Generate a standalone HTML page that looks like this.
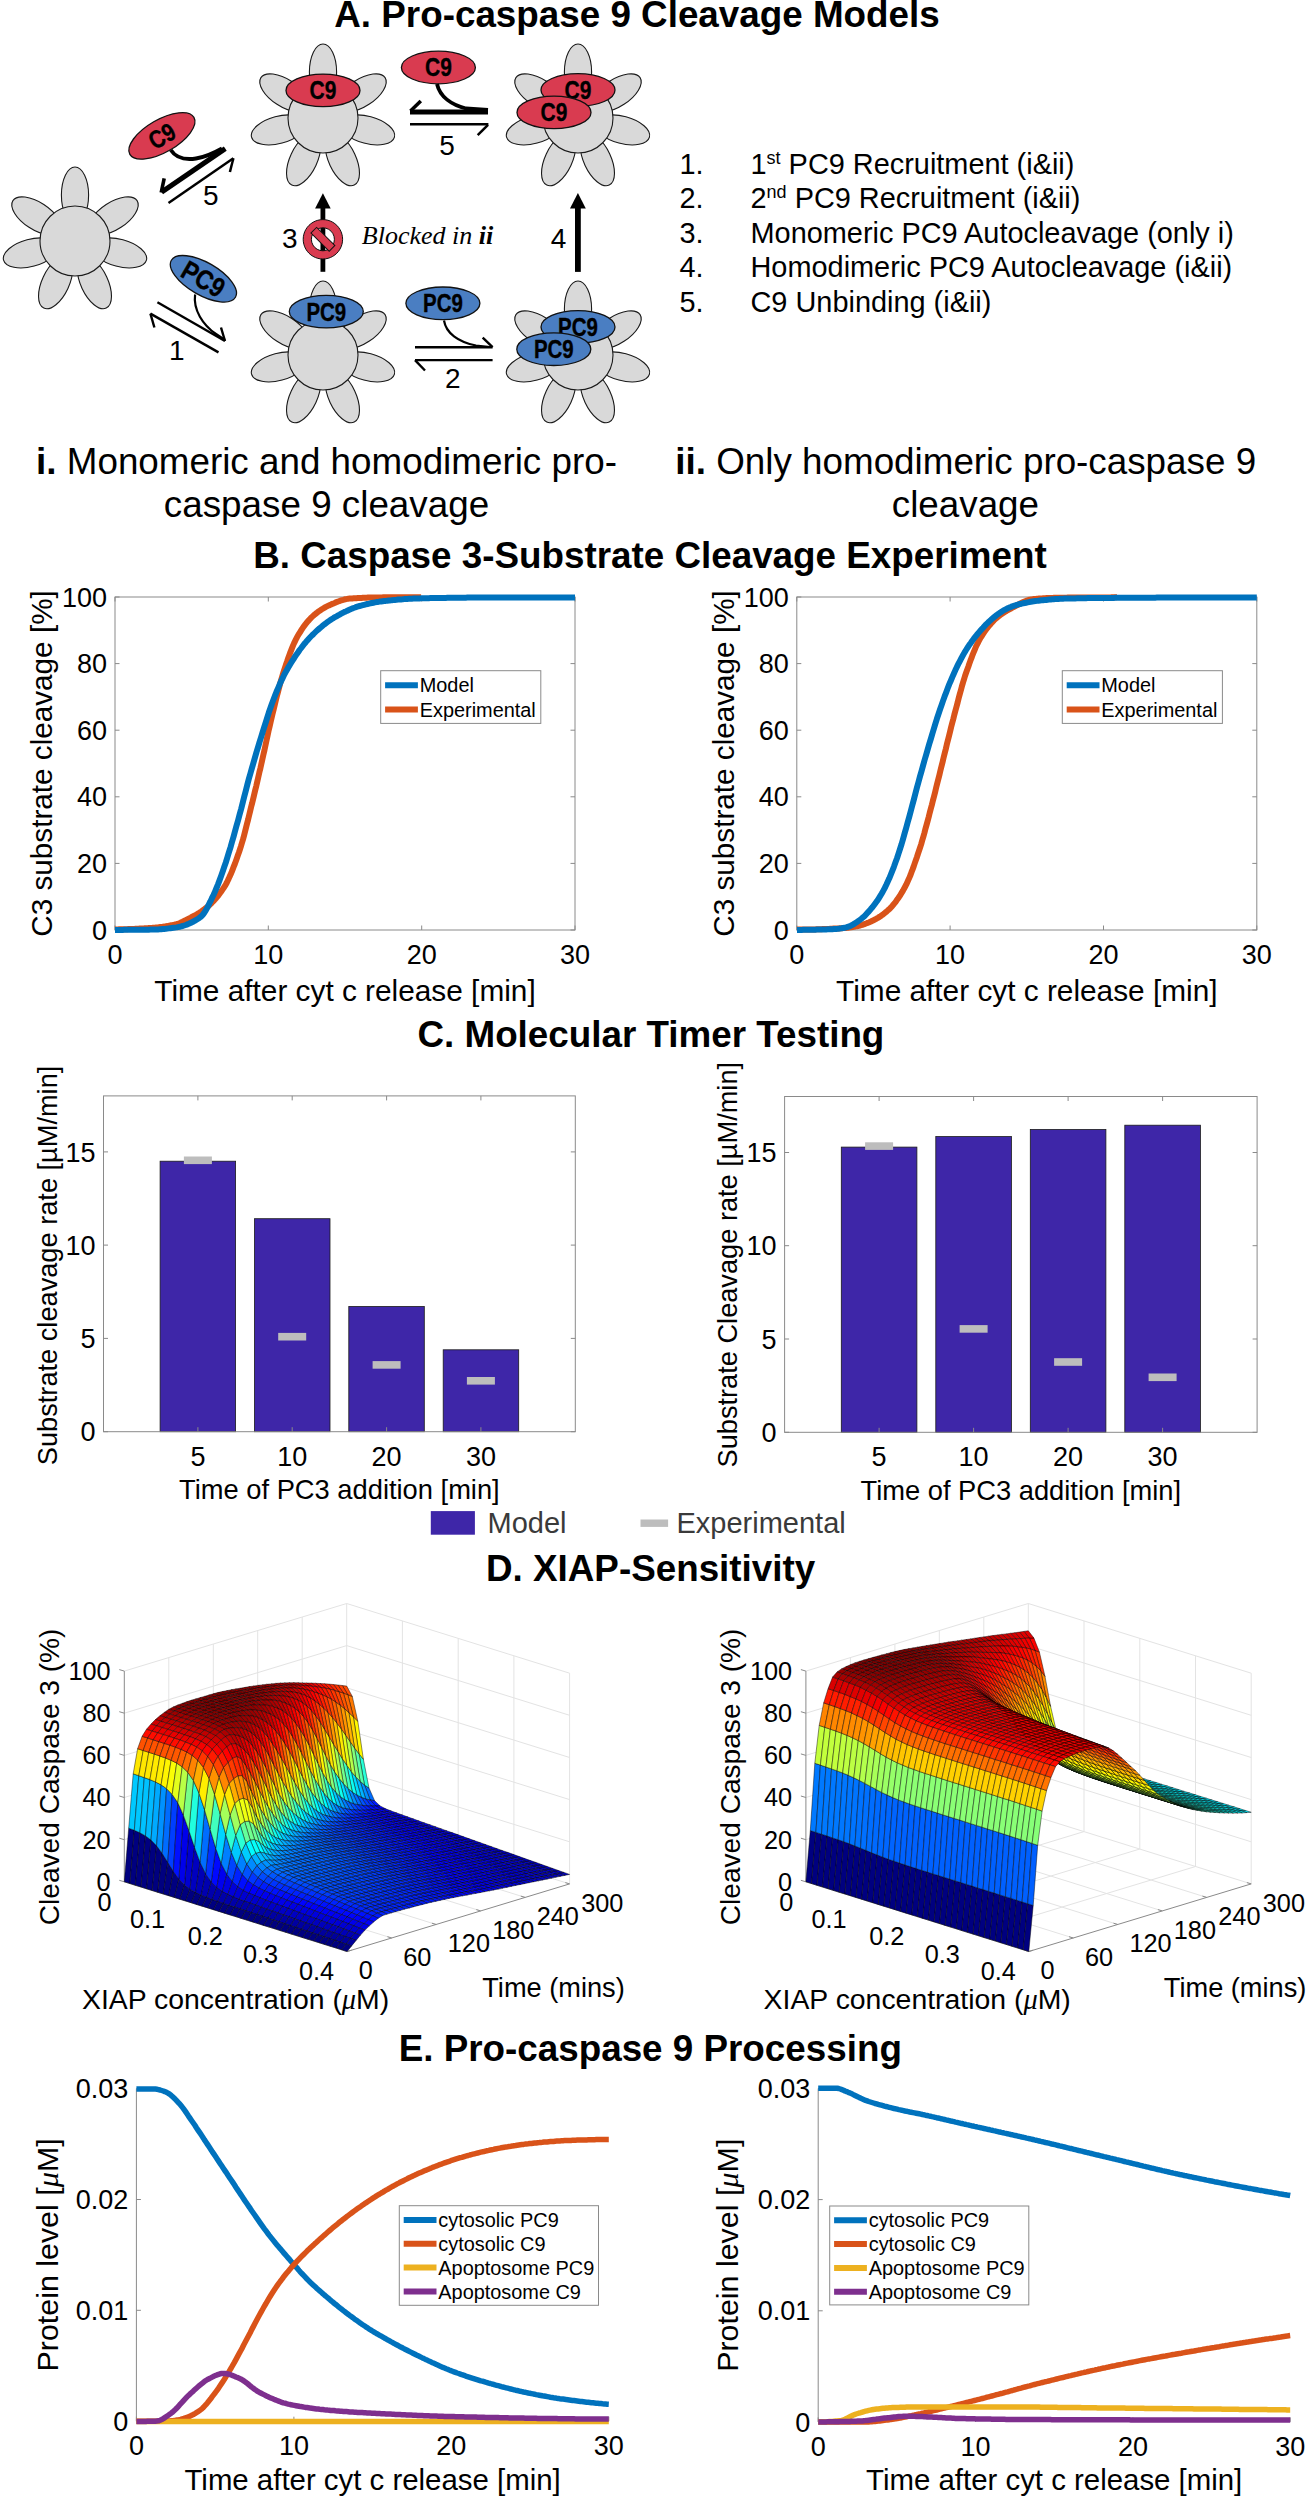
<!DOCTYPE html>
<html><head><meta charset="utf-8"><style>
html,body{margin:0;padding:0;background:#fff;}
svg{display:block;}
</style></head><body>
<svg width="1307" height="2497" viewBox="0 0 1307 2497">
<rect width="1307" height="2497" fill="#fff"/>
<text x="334.3" y="26.5" font-family="'Liberation Sans', sans-serif" font-size="36.8" text-anchor="start" font-weight="bold" fill="#000">A. Pro-caspase 9 Cleavage Models</text><ellipse cx="75" cy="195" rx="13.6" ry="28" transform="rotate(0 75 195)" fill="#d9d9d9" stroke="#1a1a1a" stroke-width="1.1"/><ellipse cx="113.6" cy="215.9" rx="13.6" ry="28" transform="rotate(57 113.6 215.9)" fill="#d9d9d9" stroke="#1a1a1a" stroke-width="1.1"/><ellipse cx="119.4" cy="252.9" rx="13.6" ry="28" transform="rotate(105 119.4 252.9)" fill="#d9d9d9" stroke="#1a1a1a" stroke-width="1.1"/><ellipse cx="94.4" cy="282.7" rx="13.6" ry="28" transform="rotate(155 94.4 282.7)" fill="#d9d9d9" stroke="#1a1a1a" stroke-width="1.1"/><ellipse cx="55.6" cy="282.7" rx="13.6" ry="28" transform="rotate(205 55.6 282.7)" fill="#d9d9d9" stroke="#1a1a1a" stroke-width="1.1"/><ellipse cx="30.6" cy="252.9" rx="13.6" ry="28" transform="rotate(255 30.6 252.9)" fill="#d9d9d9" stroke="#1a1a1a" stroke-width="1.1"/><ellipse cx="36.4" cy="215.9" rx="13.6" ry="28" transform="rotate(303 36.4 215.9)" fill="#d9d9d9" stroke="#1a1a1a" stroke-width="1.1"/><circle cx="75" cy="241" r="35" fill="#d9d9d9" stroke="#1a1a1a" stroke-width="1.1"/><ellipse cx="323" cy="72" rx="13.6" ry="28" transform="rotate(0 323 72)" fill="#d9d9d9" stroke="#1a1a1a" stroke-width="1.1"/><ellipse cx="361.6" cy="92.9" rx="13.6" ry="28" transform="rotate(57 361.6 92.9)" fill="#d9d9d9" stroke="#1a1a1a" stroke-width="1.1"/><ellipse cx="367.4" cy="129.9" rx="13.6" ry="28" transform="rotate(105 367.4 129.9)" fill="#d9d9d9" stroke="#1a1a1a" stroke-width="1.1"/><ellipse cx="342.4" cy="159.7" rx="13.6" ry="28" transform="rotate(155 342.4 159.7)" fill="#d9d9d9" stroke="#1a1a1a" stroke-width="1.1"/><ellipse cx="303.6" cy="159.7" rx="13.6" ry="28" transform="rotate(205 303.6 159.7)" fill="#d9d9d9" stroke="#1a1a1a" stroke-width="1.1"/><ellipse cx="278.6" cy="129.9" rx="13.6" ry="28" transform="rotate(255 278.6 129.9)" fill="#d9d9d9" stroke="#1a1a1a" stroke-width="1.1"/><ellipse cx="284.4" cy="92.9" rx="13.6" ry="28" transform="rotate(303 284.4 92.9)" fill="#d9d9d9" stroke="#1a1a1a" stroke-width="1.1"/><circle cx="323" cy="118" r="35" fill="#d9d9d9" stroke="#1a1a1a" stroke-width="1.1"/><ellipse cx="578" cy="72" rx="13.6" ry="28" transform="rotate(0 578 72)" fill="#d9d9d9" stroke="#1a1a1a" stroke-width="1.1"/><ellipse cx="616.6" cy="92.9" rx="13.6" ry="28" transform="rotate(57 616.6 92.9)" fill="#d9d9d9" stroke="#1a1a1a" stroke-width="1.1"/><ellipse cx="622.4" cy="129.9" rx="13.6" ry="28" transform="rotate(105 622.4 129.9)" fill="#d9d9d9" stroke="#1a1a1a" stroke-width="1.1"/><ellipse cx="597.4" cy="159.7" rx="13.6" ry="28" transform="rotate(155 597.4 159.7)" fill="#d9d9d9" stroke="#1a1a1a" stroke-width="1.1"/><ellipse cx="558.6" cy="159.7" rx="13.6" ry="28" transform="rotate(205 558.6 159.7)" fill="#d9d9d9" stroke="#1a1a1a" stroke-width="1.1"/><ellipse cx="533.6" cy="129.9" rx="13.6" ry="28" transform="rotate(255 533.6 129.9)" fill="#d9d9d9" stroke="#1a1a1a" stroke-width="1.1"/><ellipse cx="539.4" cy="92.9" rx="13.6" ry="28" transform="rotate(303 539.4 92.9)" fill="#d9d9d9" stroke="#1a1a1a" stroke-width="1.1"/><circle cx="578" cy="118" r="35" fill="#d9d9d9" stroke="#1a1a1a" stroke-width="1.1"/><ellipse cx="323" cy="309" rx="13.6" ry="28" transform="rotate(0 323 309)" fill="#d9d9d9" stroke="#1a1a1a" stroke-width="1.1"/><ellipse cx="361.6" cy="329.9" rx="13.6" ry="28" transform="rotate(57 361.6 329.9)" fill="#d9d9d9" stroke="#1a1a1a" stroke-width="1.1"/><ellipse cx="367.4" cy="366.9" rx="13.6" ry="28" transform="rotate(105 367.4 366.9)" fill="#d9d9d9" stroke="#1a1a1a" stroke-width="1.1"/><ellipse cx="342.4" cy="396.7" rx="13.6" ry="28" transform="rotate(155 342.4 396.7)" fill="#d9d9d9" stroke="#1a1a1a" stroke-width="1.1"/><ellipse cx="303.6" cy="396.7" rx="13.6" ry="28" transform="rotate(205 303.6 396.7)" fill="#d9d9d9" stroke="#1a1a1a" stroke-width="1.1"/><ellipse cx="278.6" cy="366.9" rx="13.6" ry="28" transform="rotate(255 278.6 366.9)" fill="#d9d9d9" stroke="#1a1a1a" stroke-width="1.1"/><ellipse cx="284.4" cy="329.9" rx="13.6" ry="28" transform="rotate(303 284.4 329.9)" fill="#d9d9d9" stroke="#1a1a1a" stroke-width="1.1"/><circle cx="323" cy="355" r="35" fill="#d9d9d9" stroke="#1a1a1a" stroke-width="1.1"/><ellipse cx="578" cy="309" rx="13.6" ry="28" transform="rotate(0 578 309)" fill="#d9d9d9" stroke="#1a1a1a" stroke-width="1.1"/><ellipse cx="616.6" cy="329.9" rx="13.6" ry="28" transform="rotate(57 616.6 329.9)" fill="#d9d9d9" stroke="#1a1a1a" stroke-width="1.1"/><ellipse cx="622.4" cy="366.9" rx="13.6" ry="28" transform="rotate(105 622.4 366.9)" fill="#d9d9d9" stroke="#1a1a1a" stroke-width="1.1"/><ellipse cx="597.4" cy="396.7" rx="13.6" ry="28" transform="rotate(155 597.4 396.7)" fill="#d9d9d9" stroke="#1a1a1a" stroke-width="1.1"/><ellipse cx="558.6" cy="396.7" rx="13.6" ry="28" transform="rotate(205 558.6 396.7)" fill="#d9d9d9" stroke="#1a1a1a" stroke-width="1.1"/><ellipse cx="533.6" cy="366.9" rx="13.6" ry="28" transform="rotate(255 533.6 366.9)" fill="#d9d9d9" stroke="#1a1a1a" stroke-width="1.1"/><ellipse cx="539.4" cy="329.9" rx="13.6" ry="28" transform="rotate(303 539.4 329.9)" fill="#d9d9d9" stroke="#1a1a1a" stroke-width="1.1"/><circle cx="578" cy="355" r="35" fill="#d9d9d9" stroke="#1a1a1a" stroke-width="1.1"/><g><ellipse cx="323" cy="90.4" rx="37" ry="16.3" fill="#d93b50" stroke="#111" stroke-width="1.3"/><text x="323" y="99.3" text-anchor="middle" font-family="'Liberation Sans', sans-serif" font-weight="bold" font-size="25" textLength="26.8" lengthAdjust="spacingAndGlyphs" stroke="#000" stroke-width="0.35">C9</text></g><g><ellipse cx="578" cy="90" rx="37" ry="16.3" fill="#d93b50" stroke="#111" stroke-width="1.3"/><text x="578" y="98.9" text-anchor="middle" font-family="'Liberation Sans', sans-serif" font-weight="bold" font-size="25" textLength="26.8" lengthAdjust="spacingAndGlyphs" stroke="#000" stroke-width="0.35">C9</text></g><g><ellipse cx="554" cy="112.4" rx="37" ry="16.3" fill="#d93b50" stroke="#111" stroke-width="1.3"/><text x="554" y="121.3" text-anchor="middle" font-family="'Liberation Sans', sans-serif" font-weight="bold" font-size="25" textLength="26.8" lengthAdjust="spacingAndGlyphs" stroke="#000" stroke-width="0.35">C9</text></g><g><ellipse cx="326.3" cy="311.6" rx="37" ry="16.3" fill="#4a7ec2" stroke="#111" stroke-width="1.3"/><text x="326.3" y="320.5" text-anchor="middle" font-family="'Liberation Sans', sans-serif" font-weight="bold" font-size="25" textLength="39.8" lengthAdjust="spacingAndGlyphs" stroke="#000" stroke-width="0.35">PC9</text></g><g><ellipse cx="578" cy="326.9" rx="37" ry="16.3" fill="#4a7ec2" stroke="#111" stroke-width="1.3"/><text x="578" y="335.8" text-anchor="middle" font-family="'Liberation Sans', sans-serif" font-weight="bold" font-size="25" textLength="39.8" lengthAdjust="spacingAndGlyphs" stroke="#000" stroke-width="0.35">PC9</text></g><g><ellipse cx="553.8" cy="349.2" rx="37" ry="16.3" fill="#4a7ec2" stroke="#111" stroke-width="1.3"/><text x="553.8" y="358.1" text-anchor="middle" font-family="'Liberation Sans', sans-serif" font-weight="bold" font-size="25" textLength="39.8" lengthAdjust="spacingAndGlyphs" stroke="#000" stroke-width="0.35">PC9</text></g><g><ellipse cx="438.4" cy="67.5" rx="37" ry="16.3" fill="#d93b50" stroke="#111" stroke-width="1.3"/><text x="438.4" y="76.4" text-anchor="middle" font-family="'Liberation Sans', sans-serif" font-weight="bold" font-size="25" textLength="26.8" lengthAdjust="spacingAndGlyphs" stroke="#000" stroke-width="0.35">C9</text></g><path d="M437,84 C440,97 452,105 466,108.5 L488,110" fill="none" stroke="#000" stroke-width="3.8"/><line x1="410" y1="112" x2="488" y2="112" stroke="#000" stroke-width="5" stroke-linecap="butt"/><line x1="410.5" y1="111" x2="420.8" y2="101" stroke="#000" stroke-width="3.6" stroke-linecap="butt"/><line x1="410" y1="124.3" x2="488.4" y2="124.3" stroke="#000" stroke-width="2.5" stroke-linecap="butt"/><line x1="488" y1="124.8" x2="477.7" y2="135.1" stroke="#000" stroke-width="2.5" stroke-linecap="butt"/><text x="447" y="155" font-family="'Liberation Sans', sans-serif" font-size="28" text-anchor="middle" fill="#000">5</text><g><ellipse cx="442.9" cy="303.3" rx="37" ry="16.3" fill="#4a7ec2" stroke="#111" stroke-width="1.3"/><text x="442.9" y="312.2" text-anchor="middle" font-family="'Liberation Sans', sans-serif" font-weight="bold" font-size="25" textLength="39.8" lengthAdjust="spacingAndGlyphs" stroke="#000" stroke-width="0.35">PC9</text></g><path d="M444,320.5 C446,333 458,342 476,345.5 L490,347" fill="none" stroke="#000" stroke-width="2.2"/><line x1="415" y1="347.2" x2="492.6" y2="347.2" stroke="#000" stroke-width="2.4" stroke-linecap="butt"/><line x1="492.6" y1="347.2" x2="482.7" y2="337.6" stroke="#000" stroke-width="2.4" stroke-linecap="butt"/><line x1="415" y1="360.1" x2="492.6" y2="360.1" stroke="#000" stroke-width="2.4" stroke-linecap="butt"/><line x1="415" y1="360.1" x2="425" y2="370.5" stroke="#000" stroke-width="2.4" stroke-linecap="butt"/><text x="452.8" y="387.6" font-family="'Liberation Sans', sans-serif" font-size="28" text-anchor="middle" fill="#000">2</text><g transform="rotate(30 203.4 278.8)"><ellipse cx="203.4" cy="278.8" rx="37" ry="16.3" fill="#4a7ec2" stroke="#111" stroke-width="1.3"/><text x="203.4" y="288.4" text-anchor="middle" font-family="'Liberation Sans', sans-serif" font-weight="bold" font-size="27" textLength="45" lengthAdjust="spacingAndGlyphs" stroke="#000" stroke-width="0.35">PC9</text></g><path d="M195.1,294.5 C193,310 203,325 216,334 L225,340" fill="none" stroke="#000" stroke-width="2.2"/><line x1="157.4" y1="302.2" x2="225" y2="341" stroke="#000" stroke-width="2.4" stroke-linecap="butt"/><line x1="225" y1="341" x2="221" y2="327.5" stroke="#000" stroke-width="2.4" stroke-linecap="butt"/><line x1="150.4" y1="313.6" x2="218.5" y2="352.4" stroke="#000" stroke-width="2.4" stroke-linecap="butt"/><line x1="150.4" y1="313.6" x2="154.4" y2="327.5" stroke="#000" stroke-width="2.4" stroke-linecap="butt"/><text x="176.7" y="359.6" font-family="'Liberation Sans', sans-serif" font-size="28" text-anchor="middle" fill="#000">1</text><g transform="rotate(-30 161.9 135.9)"><ellipse cx="161.9" cy="135.9" rx="37" ry="16.3" fill="#d93b50" stroke="#111" stroke-width="1.3"/><text x="161.9" y="144.8" text-anchor="middle" font-family="'Liberation Sans', sans-serif" font-weight="bold" font-size="25" textLength="26.8" lengthAdjust="spacingAndGlyphs" stroke="#000" stroke-width="0.35">C9</text></g><path d="M170.8,150 C176,158 186,160 196,158.5 C206,157 214,153 222,148.5" fill="none" stroke="#000" stroke-width="3.8"/><line x1="225.3" y1="148.6" x2="161.6" y2="192.1" stroke="#000" stroke-width="5" stroke-linecap="butt"/><line x1="161.2" y1="192.5" x2="164.2" y2="178.4" stroke="#000" stroke-width="3.6" stroke-linecap="butt"/><line x1="168.5" y1="203" x2="233.4" y2="158.3" stroke="#000" stroke-width="2.5" stroke-linecap="butt"/><line x1="233.4" y1="158.3" x2="229.9" y2="172" stroke="#000" stroke-width="2.5" stroke-linecap="butt"/><text x="210.7" y="205" font-family="'Liberation Sans', sans-serif" font-size="28" text-anchor="middle" fill="#000">5</text><line x1="322.9" y1="271.8" x2="322.9" y2="207" stroke="#000" stroke-width="4.8" stroke-linecap="butt"/><path d="M322.9,193.2 L330.7,208.6 L315.1,208.6 Z" fill="#000"/><path d="M322.9,219.6 a19.7,19.7 0 1,0 0.01,0 Z M322.9,227.8 a11.5,11.5 0 1,1 -0.01,0 Z" fill="#d93b50" fill-rule="evenodd" stroke="#111" stroke-width="1"/><g transform="rotate(45 322.9 239.3)"><rect x="310" y="235.3" width="25.8" height="8" fill="#d93b50" stroke="#111" stroke-width="1"/></g><text x="289.7" y="248" font-family="'Liberation Sans', sans-serif" font-size="28" text-anchor="middle" fill="#000">3</text><text x="361.8" y="244.3" font-family="'Liberation Serif', serif" font-style="italic" font-size="26">Blocked in <tspan font-weight="bold">ii</tspan></text><line x1="577.9" y1="271.9" x2="577.9" y2="207" stroke="#000" stroke-width="5.8" stroke-linecap="butt"/><path d="M577.9,193.1 L585.8,208.6 L570,208.6 Z" fill="#000"/><text x="558.5" y="247.8" font-family="'Liberation Sans', sans-serif" font-size="28" text-anchor="middle" fill="#000">4</text><text x="679.5" y="174" font-family="'Liberation Sans', sans-serif" font-size="28.9" text-anchor="start" fill="#000">1.</text><text x="750.5" y="174" font-family="'Liberation Sans', sans-serif" font-size="28.9" text-anchor="start" fill="#000">1<tspan font-size="18" dy="-10">st</tspan><tspan dy="10"> PC9 Recruitment (i&amp;ii)</tspan></text><text x="679.5" y="208.4" font-family="'Liberation Sans', sans-serif" font-size="28.9" text-anchor="start" fill="#000">2.</text><text x="750.5" y="208.4" font-family="'Liberation Sans', sans-serif" font-size="28.9" text-anchor="start" fill="#000">2<tspan font-size="18" dy="-10">nd</tspan><tspan dy="10"> PC9 Recruitment (i&amp;ii)</tspan></text><text x="679.5" y="242.8" font-family="'Liberation Sans', sans-serif" font-size="28.9" text-anchor="start" fill="#000">3.</text><text x="750.5" y="242.8" font-family="'Liberation Sans', sans-serif" font-size="28.9" text-anchor="start" fill="#000">Monomeric PC9 Autocleavage (only i)</text><text x="679.5" y="277.2" font-family="'Liberation Sans', sans-serif" font-size="28.9" text-anchor="start" fill="#000">4.</text><text x="750.5" y="277.2" font-family="'Liberation Sans', sans-serif" font-size="28.9" text-anchor="start" fill="#000">Homodimeric PC9 Autocleavage (i&amp;ii)</text><text x="679.5" y="311.6" font-family="'Liberation Sans', sans-serif" font-size="28.9" text-anchor="start" fill="#000">5.</text><text x="750.5" y="311.6" font-family="'Liberation Sans', sans-serif" font-size="28.9" text-anchor="start" fill="#000">C9 Unbinding (i&amp;ii)</text><text x="326.5" y="474" font-family="'Liberation Sans', sans-serif" font-size="36.8" text-anchor="middle"><tspan font-weight="bold">i.</tspan> Monomeric and homodimeric pro-</text><text x="326.5" y="517" font-family="'Liberation Sans', sans-serif" font-size="36.8" text-anchor="middle" fill="#000">caspase 9 cleavage</text><text x="965.7" y="474" font-family="'Liberation Sans', sans-serif" font-size="36.8" text-anchor="middle"><tspan font-weight="bold">ii.</tspan> Only homodimeric pro-caspase 9</text><text x="965.4" y="517" font-family="'Liberation Sans', sans-serif" font-size="36.8" text-anchor="middle" fill="#000">cleavage</text><text x="649.9" y="567.6" font-family="'Liberation Sans', sans-serif" font-size="36.8" text-anchor="middle" font-weight="bold" fill="#000">B. Caspase 3-Substrate Cleavage Experiment</text><text x="650.9" y="1047.1" font-family="'Liberation Sans', sans-serif" font-size="36.8" text-anchor="middle" font-weight="bold" fill="#000">C. Molecular Timer Testing</text><text x="650.6" y="1580.7" font-family="'Liberation Sans', sans-serif" font-size="36.8" text-anchor="middle" font-weight="bold" fill="#000">D. XIAP-Sensitivity</text><text x="650.3" y="2061.3" font-family="'Liberation Sans', sans-serif" font-size="36.8" text-anchor="middle" font-weight="bold" fill="#000">E. Pro-caspase 9 Processing</text><rect x="115" y="597" width="460" height="333" fill="none" stroke="#8a8a8a" stroke-width="1"/><line x1="115" y1="930" x2="115" y2="925.5" stroke="#8a8a8a" stroke-width="1"/><line x1="115" y1="597" x2="115" y2="601.5" stroke="#8a8a8a" stroke-width="1"/><text x="115" y="963.8" font-family="'Liberation Sans', sans-serif" font-size="27.0" text-anchor="middle" fill="#000">0</text><line x1="268.3" y1="930" x2="268.3" y2="925.5" stroke="#8a8a8a" stroke-width="1"/><line x1="268.3" y1="597" x2="268.3" y2="601.5" stroke="#8a8a8a" stroke-width="1"/><text x="268.3" y="963.8" font-family="'Liberation Sans', sans-serif" font-size="27.0" text-anchor="middle" fill="#000">10</text><line x1="421.7" y1="930" x2="421.7" y2="925.5" stroke="#8a8a8a" stroke-width="1"/><line x1="421.7" y1="597" x2="421.7" y2="601.5" stroke="#8a8a8a" stroke-width="1"/><text x="421.7" y="963.8" font-family="'Liberation Sans', sans-serif" font-size="27.0" text-anchor="middle" fill="#000">20</text><line x1="575" y1="930" x2="575" y2="925.5" stroke="#8a8a8a" stroke-width="1"/><line x1="575" y1="597" x2="575" y2="601.5" stroke="#8a8a8a" stroke-width="1"/><text x="575" y="963.8" font-family="'Liberation Sans', sans-serif" font-size="27.0" text-anchor="middle" fill="#000">30</text><line x1="115" y1="930" x2="119.5" y2="930" stroke="#8a8a8a" stroke-width="1"/><line x1="575" y1="930" x2="570.5" y2="930" stroke="#8a8a8a" stroke-width="1"/><text x="107" y="939.6" font-family="'Liberation Sans', sans-serif" font-size="27.0" text-anchor="end" fill="#000">0</text><line x1="115" y1="863.4" x2="119.5" y2="863.4" stroke="#8a8a8a" stroke-width="1"/><line x1="575" y1="863.4" x2="570.5" y2="863.4" stroke="#8a8a8a" stroke-width="1"/><text x="107" y="873" font-family="'Liberation Sans', sans-serif" font-size="27.0" text-anchor="end" fill="#000">20</text><line x1="115" y1="796.8" x2="119.5" y2="796.8" stroke="#8a8a8a" stroke-width="1"/><line x1="575" y1="796.8" x2="570.5" y2="796.8" stroke="#8a8a8a" stroke-width="1"/><text x="107" y="806.4" font-family="'Liberation Sans', sans-serif" font-size="27.0" text-anchor="end" fill="#000">40</text><line x1="115" y1="730.2" x2="119.5" y2="730.2" stroke="#8a8a8a" stroke-width="1"/><line x1="575" y1="730.2" x2="570.5" y2="730.2" stroke="#8a8a8a" stroke-width="1"/><text x="107" y="739.8" font-family="'Liberation Sans', sans-serif" font-size="27.0" text-anchor="end" fill="#000">60</text><line x1="115" y1="663.6" x2="119.5" y2="663.6" stroke="#8a8a8a" stroke-width="1"/><line x1="575" y1="663.6" x2="570.5" y2="663.6" stroke="#8a8a8a" stroke-width="1"/><text x="107" y="673.2" font-family="'Liberation Sans', sans-serif" font-size="27.0" text-anchor="end" fill="#000">80</text><line x1="115" y1="597" x2="119.5" y2="597" stroke="#8a8a8a" stroke-width="1"/><line x1="575" y1="597" x2="570.5" y2="597" stroke="#8a8a8a" stroke-width="1"/><text x="107" y="606.6" font-family="'Liberation Sans', sans-serif" font-size="27.0" text-anchor="end" fill="#000">100</text><svg x="111" y="593" width="468" height="341" overflow="hidden"><path d="M4,336.4 L5,336.4 L6,336.4 L7.1,336.4 L8.1,336.3 L9.1,336.3 L10.1,336.3 L11.2,336.3 L12.2,336.3 L13.2,336.3 L14.2,336.2 L15.3,336.2 L16.3,336.2 L17.3,336.1 L18.3,336.1 L19.4,336.1 L20.4,336 L21.4,336 L22.4,335.9 L23.4,335.9 L24.5,335.8 L25.5,335.8 L26.5,335.7 L27.5,335.7 L28.6,335.6 L29.6,335.6 L30.6,335.5 L31.6,335.5 L32.7,335.4 L33.7,335.3 L34.7,335.3 L35.7,335.2 L36.8,335.2 L37.8,335.1 L38.8,335 L39.8,335 L40.9,334.9 L41.9,334.8 L42.9,334.7 L43.9,334.7 L44.9,334.6 L46,334.5 L47,334.4 L48,334.2 L49,334.1 L50.1,334 L51.1,333.9 L52.1,333.7 L53.1,333.6 L54.2,333.4 L55.2,333.2 L56.2,333.1 L57.2,332.9 L58.3,332.7 L59.3,332.5 L60.3,332.3 L61.3,332.1 L62.3,331.9 L63.4,331.7 L64.4,331.4 L65.4,331.2 L66.4,330.9 L67.5,330.6 L68.5,330.2 L69.5,329.8 L70.5,329.3 L71.6,328.8 L72.6,328.3 L73.6,327.8 L74.6,327.3 L75.7,326.7 L76.7,326.2 L77.7,325.6 L78.7,325.1 L79.7,324.6 L80.8,324 L81.8,323.5 L82.8,322.9 L83.8,322.4 L84.9,321.8 L85.9,321.2 L86.9,320.6 L87.9,320 L89,319.3 L90,318.7 L91,318 L92,317.3 L93.1,316.5 L94.1,315.7 L95.1,314.9 L96.1,314.1 L97.2,313.2 L98.2,312.3 L99.2,311.3 L100.2,310.4 L101.2,309.3 L102.3,308.3 L103.3,307.2 L104.3,306 L105.3,304.9 L106.4,303.6 L107.4,302.3 L108.4,301 L109.4,299.6 L110.5,298.2 L111.5,296.7 L112.5,295.2 L113.5,293.6 L114.6,291.9 L115.6,290 L116.6,288 L117.6,285.9 L118.6,283.6 L119.7,281.3 L120.7,278.9 L121.7,276.3 L122.7,273.7 L123.8,271 L124.8,268.2 L125.8,265.4 L126.8,262.5 L127.9,259.5 L128.9,256.5 L129.9,253.4 L130.9,250 L132,246.4 L133,242.7 L134,238.8 L135,234.8 L136,230.7 L137.1,226.6 L138.1,222.4 L139.1,218.2 L140.1,214 L141.2,209.9 L142.2,205.7 L143.2,201.5 L144.2,197.2 L145.3,192.9 L146.3,188.5 L147.3,184.1 L148.3,179.6 L149.4,175.2 L150.4,170.7 L151.4,166.2 L152.4,161.6 L153.5,157 L154.5,152.2 L155.5,147.5 L156.5,142.8 L157.5,138.1 L158.6,133.5 L159.6,129 L160.6,124.7 L161.6,120.5 L162.7,116.2 L163.7,112 L164.7,107.9 L165.7,103.7 L166.8,99.7 L167.8,95.8 L168.8,91.9 L169.8,88.2 L170.9,84.6 L171.9,81.2 L172.9,78 L173.9,74.9 L174.9,71.8 L176,68.8 L177,65.8 L178,63 L179,60.2 L180.1,57.5 L181.1,54.9 L182.1,52.4 L183.1,50.1 L184.2,47.9 L185.2,45.8 L186.2,43.9 L187.2,42.1 L188.3,40.4 L189.3,38.8 L190.3,37.2 L191.3,35.6 L192.3,34.1 L193.4,32.7 L194.4,31.3 L195.4,30 L196.4,28.8 L197.5,27.6 L198.5,26.5 L199.5,25.4 L200.5,24.4 L201.6,23.4 L202.6,22.5 L203.6,21.6 L204.6,20.8 L205.7,20 L206.7,19.2 L207.7,18.4 L208.7,17.7 L209.8,17 L210.8,16.3 L211.8,15.7 L212.8,15.1 L213.8,14.5 L214.9,13.9 L215.9,13.4 L216.9,12.9 L217.9,12.4 L219,11.9 L220,11.5 L221,11 L222,10.6 L223.1,10.2 L224.1,9.8 L225.1,9.3 L226.1,8.9 L227.2,8.5 L228.2,8.2 L229.2,7.8 L230.2,7.4 L231.2,7.1 L232.3,6.8 L233.3,6.5 L234.3,6.3 L235.3,6.1 L236.4,5.9 L237.4,5.7 L238.4,5.6 L239.4,5.5 L240.5,5.5 L241.5,5.4 L242.5,5.3 L243.5,5.3 L244.6,5.2 L245.6,5.2 L246.6,5.1 L247.6,5 L248.7,5 L249.7,4.9 L250.7,4.9 L251.7,4.8 L252.7,4.8 L253.8,4.8 L254.8,4.7 L255.8,4.7 L256.8,4.6 L257.9,4.6 L258.9,4.6 L259.9,4.5 L260.9,4.5 L262,4.5 L263,4.5 L264,4.4 L265,4.4 L266.1,4.4 L267.1,4.4 L268.1,4.4 L269.1,4.4 L270.1,4.4 L271.2,4.4 L272.2,4.3 L273.2,4.3 L274.2,4.3 L275.3,4.3 L276.3,4.3 L277.3,4.3 L278.3,4.3 L279.4,4.3 L280.4,4.3 L281.4,4.3 L282.4,4.3 L283.5,4.3 L284.5,4.3 L285.5,4.3 L286.5,4.3 L287.5,4.3 L288.6,4.3 L289.6,4.3 L290.6,4.3 L291.6,4.3 L292.7,4.3 L293.7,4.3 L294.7,4.3 L295.7,4.3 L296.8,4.3 L297.8,4.3 L298.8,4.3 L299.8,4.3 L300.9,4.3 L301.9,4.3 L302.9,4.3 L303.9,4.3 L305,4.3 L306,4.3 L307,4.3 L308,4.3 L309,4.3 L310.1,4.3" fill="none" stroke="#D95319" stroke-width="6" stroke-linejoin="round"/></svg><svg x="111" y="593" width="468" height="341" overflow="hidden"><path d="M4,336.9 L5.5,336.9 L7.1,336.9 L8.6,336.9 L10.2,336.9 L11.7,336.9 L13.2,336.8 L14.8,336.8 L16.3,336.8 L17.8,336.8 L19.4,336.8 L20.9,336.8 L22.5,336.8 L24,336.8 L25.5,336.8 L27.1,336.8 L28.6,336.8 L30.2,336.7 L31.7,336.7 L33.2,336.7 L34.8,336.7 L36.3,336.7 L37.8,336.7 L39.4,336.6 L40.9,336.6 L42.5,336.6 L44,336.5 L45.5,336.5 L47.1,336.4 L48.6,336.3 L50.2,336.2 L51.7,336 L53.2,335.9 L54.8,335.8 L56.3,335.6 L57.8,335.4 L59.4,335.2 L60.9,335 L62.5,334.8 L64,334.6 L65.5,334.4 L67.1,334.1 L68.6,333.8 L70.2,333.4 L71.7,333 L73.2,332.5 L74.8,332 L76.3,331.4 L77.8,330.8 L79.4,330.1 L80.9,329.3 L82.5,328.5 L84,327.6 L85.5,326.7 L87.1,325.7 L88.6,324.7 L90.2,323.5 L91.7,321.9 L93.2,319.9 L94.8,317.4 L96.3,314.6 L97.8,311.6 L99.4,308.4 L100.9,305.2 L102.5,302 L104,298.6 L105.5,295 L107.1,291.1 L108.6,287.1 L110.2,282.8 L111.7,278.5 L113.2,274 L114.8,269.5 L116.3,264.7 L117.8,259.7 L119.4,254.6 L120.9,249.2 L122.5,243.8 L124,238.3 L125.5,232.8 L127.1,227.2 L128.6,221.5 L130.2,215.7 L131.7,209.7 L133.2,203.7 L134.8,197.7 L136.3,191.8 L137.8,186.1 L139.4,180.5 L140.9,175.1 L142.5,169.7 L144,164.4 L145.5,159.1 L147.1,154 L148.6,148.9 L150.2,143.9 L151.7,139 L153.2,134.1 L154.8,129.2 L156.3,124.3 L157.8,119.6 L159.4,115.1 L160.9,110.7 L162.5,106.5 L164,102.6 L165.5,98.8 L167.1,95.1 L168.6,91.6 L170.2,88.1 L171.7,84.9 L173.2,81.8 L174.8,78.9 L176.3,76.2 L177.8,73.6 L179.4,71 L180.9,68.5 L182.5,66.1 L184,63.7 L185.5,61.4 L187.1,59.2 L188.6,57 L190.2,55 L191.7,53 L193.2,51 L194.8,49.2 L196.3,47.4 L197.8,45.7 L199.4,44 L200.9,42.5 L202.5,41 L204,39.5 L205.5,38 L207.1,36.7 L208.6,35.3 L210.2,34 L211.7,32.7 L213.2,31.5 L214.8,30.3 L216.3,29.2 L217.8,28.1 L219.4,27 L220.9,26 L222.5,25.1 L224,24.1 L225.5,23.3 L227.1,22.4 L228.6,21.6 L230.2,20.7 L231.7,19.9 L233.2,19.1 L234.8,18.4 L236.3,17.7 L237.8,17 L239.4,16.3 L240.9,15.6 L242.5,15 L244,14.5 L245.5,13.9 L247.1,13.4 L248.6,13 L250.2,12.6 L251.7,12.2 L253.2,11.8 L254.8,11.4 L256.3,11 L257.8,10.7 L259.4,10.3 L260.9,10 L262.5,9.7 L264,9.4 L265.5,9.1 L267.1,8.9 L268.6,8.6 L270.2,8.4 L271.7,8.2 L273.2,8 L274.8,7.9 L276.3,7.7 L277.8,7.5 L279.4,7.4 L280.9,7.2 L282.5,7.1 L284,6.9 L285.5,6.8 L287.1,6.6 L288.6,6.5 L290.2,6.4 L291.7,6.3 L293.2,6.1 L294.8,6 L296.3,5.9 L297.8,5.8 L299.4,5.8 L300.9,5.7 L302.5,5.6 L304,5.5 L305.5,5.5 L307.1,5.4 L308.6,5.4 L310.2,5.3 L311.7,5.3 L313.2,5.3 L314.8,5.2 L316.3,5.2 L317.8,5.2 L319.4,5.1 L320.9,5.1 L322.5,5.1 L324,5 L325.5,5 L327.1,5 L328.6,5 L330.2,4.9 L331.7,4.9 L333.2,4.9 L334.8,4.9 L336.3,4.8 L337.8,4.8 L339.4,4.8 L340.9,4.8 L342.5,4.8 L344,4.8 L345.5,4.7 L347.1,4.7 L348.6,4.7 L350.2,4.7 L351.7,4.7 L353.2,4.7 L354.8,4.7 L356.3,4.6 L357.8,4.6 L359.4,4.6 L360.9,4.6 L362.5,4.6 L364,4.6 L365.5,4.6 L367.1,4.6 L368.6,4.6 L370.2,4.6 L371.7,4.6 L373.2,4.6 L374.8,4.6 L376.3,4.6 L377.8,4.6 L379.4,4.6 L380.9,4.6 L382.5,4.6 L384,4.6 L385.5,4.6 L387.1,4.6 L388.6,4.6 L390.2,4.6 L391.7,4.6 L393.2,4.6 L394.8,4.6 L396.3,4.6 L397.8,4.6 L399.4,4.6 L400.9,4.6 L402.5,4.6 L404,4.6 L405.5,4.6 L407.1,4.6 L408.6,4.6 L410.2,4.6 L411.7,4.6 L413.2,4.6 L414.8,4.6 L416.3,4.6 L417.8,4.6 L419.4,4.6 L420.9,4.6 L422.5,4.6 L424,4.6 L425.5,4.6 L427.1,4.6 L428.6,4.6 L430.2,4.6 L431.7,4.6 L433.2,4.6 L434.8,4.6 L436.3,4.6 L437.8,4.6 L439.4,4.6 L440.9,4.6 L442.5,4.6 L444,4.6 L445.5,4.6 L447.1,4.6 L448.6,4.6 L450.2,4.6 L451.7,4.6 L453.2,4.6 L454.8,4.6 L456.3,4.6 L457.8,4.6 L459.4,4.6 L460.9,4.6 L462.5,4.6 L464,4.6" fill="none" stroke="#0072BD" stroke-width="6" stroke-linejoin="round"/></svg><text x="345" y="1000.5" font-family="'Liberation Sans', sans-serif" font-size="29.8" text-anchor="middle" fill="#000">Time after cyt c release [min]</text><text transform="translate(52,763.5) rotate(-90)" font-family="'Liberation Sans', sans-serif" font-size="29.7" text-anchor="middle" fill="#000">C3 substrate cleavage [%]</text><rect x="380.7" y="670.7" width="160.1" height="52.7" fill="#fff" stroke="#8a8a8a" stroke-width="1"/><line x1="385.1" y1="685.2" x2="417.9" y2="685.2" stroke="#0072BD" stroke-width="6"/><text x="419.7" y="692.3" font-family="'Liberation Sans', sans-serif" font-size="19.9" text-anchor="start" fill="#000">Model</text><line x1="385.1" y1="709.4" x2="417.9" y2="709.4" stroke="#D95319" stroke-width="6"/><text x="419.7" y="716.5" font-family="'Liberation Sans', sans-serif" font-size="19.9" text-anchor="start" fill="#000">Experimental</text><rect x="796.8" y="597" width="460" height="333" fill="none" stroke="#8a8a8a" stroke-width="1"/><line x1="796.8" y1="930" x2="796.8" y2="925.5" stroke="#8a8a8a" stroke-width="1"/><line x1="796.8" y1="597" x2="796.8" y2="601.5" stroke="#8a8a8a" stroke-width="1"/><text x="796.8" y="963.8" font-family="'Liberation Sans', sans-serif" font-size="27.0" text-anchor="middle" fill="#000">0</text><line x1="950.1" y1="930" x2="950.1" y2="925.5" stroke="#8a8a8a" stroke-width="1"/><line x1="950.1" y1="597" x2="950.1" y2="601.5" stroke="#8a8a8a" stroke-width="1"/><text x="950.1" y="963.8" font-family="'Liberation Sans', sans-serif" font-size="27.0" text-anchor="middle" fill="#000">10</text><line x1="1103.5" y1="930" x2="1103.5" y2="925.5" stroke="#8a8a8a" stroke-width="1"/><line x1="1103.5" y1="597" x2="1103.5" y2="601.5" stroke="#8a8a8a" stroke-width="1"/><text x="1103.5" y="963.8" font-family="'Liberation Sans', sans-serif" font-size="27.0" text-anchor="middle" fill="#000">20</text><line x1="1256.8" y1="930" x2="1256.8" y2="925.5" stroke="#8a8a8a" stroke-width="1"/><line x1="1256.8" y1="597" x2="1256.8" y2="601.5" stroke="#8a8a8a" stroke-width="1"/><text x="1256.8" y="963.8" font-family="'Liberation Sans', sans-serif" font-size="27.0" text-anchor="middle" fill="#000">30</text><line x1="796.8" y1="930" x2="801.3" y2="930" stroke="#8a8a8a" stroke-width="1"/><line x1="1256.8" y1="930" x2="1252.3" y2="930" stroke="#8a8a8a" stroke-width="1"/><text x="788.8" y="939.6" font-family="'Liberation Sans', sans-serif" font-size="27.0" text-anchor="end" fill="#000">0</text><line x1="796.8" y1="863.4" x2="801.3" y2="863.4" stroke="#8a8a8a" stroke-width="1"/><line x1="1256.8" y1="863.4" x2="1252.3" y2="863.4" stroke="#8a8a8a" stroke-width="1"/><text x="788.8" y="873" font-family="'Liberation Sans', sans-serif" font-size="27.0" text-anchor="end" fill="#000">20</text><line x1="796.8" y1="796.8" x2="801.3" y2="796.8" stroke="#8a8a8a" stroke-width="1"/><line x1="1256.8" y1="796.8" x2="1252.3" y2="796.8" stroke="#8a8a8a" stroke-width="1"/><text x="788.8" y="806.4" font-family="'Liberation Sans', sans-serif" font-size="27.0" text-anchor="end" fill="#000">40</text><line x1="796.8" y1="730.2" x2="801.3" y2="730.2" stroke="#8a8a8a" stroke-width="1"/><line x1="1256.8" y1="730.2" x2="1252.3" y2="730.2" stroke="#8a8a8a" stroke-width="1"/><text x="788.8" y="739.8" font-family="'Liberation Sans', sans-serif" font-size="27.0" text-anchor="end" fill="#000">60</text><line x1="796.8" y1="663.6" x2="801.3" y2="663.6" stroke="#8a8a8a" stroke-width="1"/><line x1="1256.8" y1="663.6" x2="1252.3" y2="663.6" stroke="#8a8a8a" stroke-width="1"/><text x="788.8" y="673.2" font-family="'Liberation Sans', sans-serif" font-size="27.0" text-anchor="end" fill="#000">80</text><line x1="796.8" y1="597" x2="801.3" y2="597" stroke="#8a8a8a" stroke-width="1"/><line x1="1256.8" y1="597" x2="1252.3" y2="597" stroke="#8a8a8a" stroke-width="1"/><text x="788.8" y="606.6" font-family="'Liberation Sans', sans-serif" font-size="27.0" text-anchor="end" fill="#000">100</text><svg x="792.8" y="593" width="468" height="341" overflow="hidden"><path d="M4.2,336.6 L5.3,336.6 L6.3,336.6 L7.4,336.6 L8.5,336.6 L9.6,336.6 L10.6,336.6 L11.7,336.6 L12.8,336.6 L13.8,336.5 L14.9,336.5 L16,336.5 L17,336.5 L18.1,336.5 L19.2,336.4 L20.3,336.4 L21.3,336.4 L22.4,336.4 L23.5,336.3 L24.5,336.3 L25.6,336.3 L26.7,336.2 L27.7,336.2 L28.8,336.2 L29.9,336.1 L31,336.1 L32,336 L33.1,336 L34.2,335.9 L35.2,335.9 L36.3,335.9 L37.4,335.8 L38.5,335.8 L39.5,335.7 L40.6,335.6 L41.7,335.6 L42.7,335.5 L43.8,335.5 L44.9,335.4 L45.9,335.4 L47,335.3 L48.1,335.2 L49.2,335.2 L50.2,335.1 L51.3,335 L52.4,335 L53.4,334.9 L54.5,334.8 L55.6,334.7 L56.6,334.6 L57.7,334.4 L58.8,334.2 L59.9,334.1 L60.9,333.9 L62,333.7 L63.1,333.4 L64.1,333.2 L65.2,333 L66.3,332.7 L67.4,332.5 L68.4,332.2 L69.5,331.9 L70.6,331.5 L71.6,331.1 L72.7,330.7 L73.8,330.3 L74.8,329.9 L75.9,329.5 L77,329 L78.1,328.5 L79.1,328 L80.2,327.5 L81.3,327 L82.3,326.4 L83.4,325.8 L84.5,325.2 L85.5,324.6 L86.6,323.9 L87.7,323.2 L88.8,322.4 L89.8,321.7 L90.9,320.9 L92,320 L93,319.2 L94.1,318.2 L95.2,317.3 L96.3,316.3 L97.3,315.3 L98.4,314.2 L99.5,313 L100.5,311.7 L101.6,310.4 L102.7,309.1 L103.7,307.6 L104.8,306.1 L105.9,304.5 L107,302.9 L108,301.2 L109.1,299.4 L110.2,297.6 L111.2,295.8 L112.3,293.8 L113.4,291.7 L114.4,289.5 L115.5,287.1 L116.6,284.6 L117.7,282 L118.7,279.2 L119.8,276.4 L120.9,273.4 L121.9,270.4 L123,267.3 L124.1,264.2 L125.1,261 L126.2,257.8 L127.3,254.5 L128.4,251.1 L129.4,247.5 L130.5,243.8 L131.6,240 L132.6,236.1 L133.7,232.1 L134.8,228.1 L135.9,224 L136.9,219.9 L138,215.8 L139.1,211.7 L140.1,207.6 L141.2,203.5 L142.3,199.2 L143.3,194.9 L144.4,190.6 L145.5,186.3 L146.6,181.9 L147.6,177.6 L148.7,173.2 L149.8,168.9 L150.8,164.6 L151.9,160.3 L153,156 L154,151.6 L155.1,147.3 L156.2,142.9 L157.3,138.6 L158.3,134.3 L159.4,130.1 L160.5,126 L161.5,121.9 L162.6,117.8 L163.7,113.7 L164.8,109.6 L165.8,105.5 L166.9,101.4 L168,97.5 L169,93.7 L170.1,89.9 L171.2,86.4 L172.2,83 L173.3,79.8 L174.4,76.7 L175.5,73.7 L176.5,70.7 L177.6,67.7 L178.7,64.9 L179.7,62.1 L180.8,59.4 L181.9,56.8 L182.9,54.3 L184,52 L185.1,49.8 L186.2,47.7 L187.2,45.8 L188.3,44 L189.4,42.3 L190.4,40.7 L191.5,39.1 L192.6,37.6 L193.7,36.1 L194.7,34.7 L195.8,33.4 L196.9,32.1 L197.9,30.8 L199,29.7 L200.1,28.5 L201.1,27.4 L202.2,26.4 L203.3,25.4 L204.4,24.5 L205.4,23.6 L206.5,22.7 L207.6,21.9 L208.6,21.1 L209.7,20.4 L210.8,19.7 L211.8,19 L212.9,18.4 L214,17.7 L215.1,17.1 L216.1,16.5 L217.2,15.9 L218.3,15.4 L219.3,14.8 L220.4,14.2 L221.5,13.7 L222.6,13.1 L223.6,12.5 L224.7,12 L225.8,11.4 L226.8,10.8 L227.9,10.3 L229,9.7 L230,9.2 L231.1,8.7 L232.2,8.3 L233.3,7.9 L234.3,7.5 L235.4,7.1 L236.5,6.8 L237.5,6.6 L238.6,6.4 L239.7,6.3 L240.7,6.1 L241.8,6 L242.9,5.9 L244,5.8 L245,5.7 L246.1,5.6 L247.2,5.5 L248.2,5.4 L249.3,5.4 L250.4,5.3 L251.5,5.2 L252.5,5.2 L253.6,5.1 L254.7,5 L255.7,5 L256.8,5 L257.9,4.9 L258.9,4.9 L260,4.9 L261.1,4.8 L262.2,4.8 L263.2,4.8 L264.3,4.8 L265.4,4.8 L266.4,4.8 L267.5,4.7 L268.6,4.7 L269.6,4.7 L270.7,4.7 L271.8,4.7 L272.9,4.7 L273.9,4.7 L275,4.6 L276.1,4.6 L277.1,4.6 L278.2,4.6 L279.3,4.6 L280.4,4.6 L281.4,4.6 L282.5,4.6 L283.6,4.5 L284.6,4.5 L285.7,4.5 L286.8,4.5 L287.8,4.5 L288.9,4.5 L290,4.5 L291.1,4.5 L292.1,4.5 L293.2,4.5 L294.3,4.5 L295.3,4.4 L296.4,4.4 L297.5,4.4 L298.5,4.4 L299.6,4.4 L300.7,4.4 L301.8,4.4 L302.8,4.4 L303.9,4.4 L305,4.4 L306,4.4 L307.1,4.4 L308.2,4.4 L309.3,4.4 L310.3,4.4 L311.4,4.4 L312.5,4.4 L313.5,4.4 L314.6,4.4 L315.7,4.4 L316.7,4.4 L317.8,4.4 L318.9,4.3 L320,4.3 L321,4.3 L322.1,4.3 L323.2,4.3 L324.2,4.3" fill="none" stroke="#D95319" stroke-width="6" stroke-linejoin="round"/></svg><svg x="792.8" y="593" width="468" height="341" overflow="hidden"><path d="M4.2,336.9 L5.7,336.9 L7.3,336.9 L8.8,336.9 L10.4,336.8 L11.9,336.8 L13.4,336.8 L15,336.8 L16.5,336.8 L18,336.8 L19.6,336.7 L21.1,336.7 L22.7,336.7 L24.2,336.6 L25.7,336.6 L27.3,336.6 L28.8,336.5 L30.3,336.5 L31.9,336.4 L33.4,336.4 L35,336.3 L36.5,336.3 L38,336.2 L39.6,336.2 L41.1,336.1 L42.6,336 L44.2,335.9 L45.7,335.7 L47.3,335.5 L48.8,335.3 L50.3,335 L51.9,334.7 L53.4,334.4 L54.9,333.9 L56.5,333.4 L58,332.7 L59.6,331.8 L61.1,331 L62.6,330 L64.2,329 L65.7,327.9 L67.2,326.8 L68.8,325.6 L70.3,324.3 L71.9,322.9 L73.4,321.3 L74.9,319.6 L76.5,317.9 L78,316.1 L79.6,314.3 L81.1,312.3 L82.6,310.3 L84.2,308.1 L85.7,305.8 L87.2,303.4 L88.8,300.8 L90.3,298.1 L91.9,295.1 L93.4,292 L94.9,288.7 L96.5,285.3 L98,281.7 L99.5,277.9 L101.1,273.8 L102.6,269.6 L104.2,265.2 L105.7,260.6 L107.2,256 L108.8,251 L110.3,245.8 L111.8,240.4 L113.4,234.9 L114.9,229.3 L116.5,223.6 L118,218 L119.5,212.3 L121.1,206.4 L122.6,200.6 L124.1,194.8 L125.7,189 L127.2,183.4 L128.8,177.9 L130.3,172.4 L131.8,167 L133.4,161.7 L134.9,156.4 L136.4,151.2 L138,146 L139.5,140.8 L141.1,135.7 L142.6,130.7 L144.1,125.8 L145.7,121 L147.2,116.5 L148.8,112 L150.3,107.6 L151.8,103.4 L153.4,99.3 L154.9,95.3 L156.4,91.4 L158,87.7 L159.5,84.1 L161.1,80.5 L162.6,77.1 L164.1,73.9 L165.7,70.7 L167.2,67.8 L168.7,64.9 L170.3,62.1 L171.8,59.4 L173.4,56.8 L174.9,54.4 L176.4,52.1 L178,49.9 L179.5,47.7 L181,45.7 L182.6,43.7 L184.1,41.8 L185.7,39.9 L187.2,38.1 L188.7,36.4 L190.3,34.7 L191.8,33 L193.3,31.4 L194.9,29.9 L196.4,28.4 L198,27 L199.5,25.6 L201,24.4 L202.6,23.1 L204.1,21.9 L205.7,20.8 L207.2,19.7 L208.7,18.7 L210.3,17.7 L211.8,16.9 L213.3,16.1 L214.9,15.3 L216.4,14.6 L218,14 L219.5,13.3 L221,12.8 L222.6,12.3 L224.1,11.8 L225.6,11.4 L227.2,11 L228.7,10.7 L230.3,10.3 L231.8,10 L233.3,9.7 L234.9,9.4 L236.4,9.1 L237.9,8.8 L239.5,8.5 L241,8.3 L242.6,8.1 L244.1,7.9 L245.6,7.7 L247.2,7.5 L248.7,7.3 L250.2,7.2 L251.8,7 L253.3,6.9 L254.9,6.7 L256.4,6.6 L257.9,6.5 L259.5,6.3 L261,6.2 L262.5,6.1 L264.1,6 L265.6,5.9 L267.2,5.8 L268.7,5.7 L270.2,5.7 L271.8,5.6 L273.3,5.6 L274.9,5.5 L276.4,5.5 L277.9,5.5 L279.5,5.4 L281,5.4 L282.5,5.4 L284.1,5.3 L285.6,5.3 L287.2,5.3 L288.7,5.2 L290.2,5.2 L291.8,5.2 L293.3,5.2 L294.8,5.1 L296.4,5.1 L297.9,5.1 L299.5,5.1 L301,5 L302.5,5 L304.1,5 L305.6,5 L307.1,5 L308.7,5 L310.2,4.9 L311.8,4.9 L313.3,4.9 L314.8,4.9 L316.4,4.9 L317.9,4.9 L319.4,4.9 L321,4.9 L322.5,4.8 L324.1,4.8 L325.6,4.8 L327.1,4.8 L328.7,4.8 L330.2,4.8 L331.7,4.8 L333.3,4.8 L334.8,4.8 L336.4,4.8 L337.9,4.8 L339.4,4.8 L341,4.7 L342.5,4.7 L344.1,4.7 L345.6,4.7 L347.1,4.7 L348.7,4.7 L350.2,4.7 L351.7,4.7 L353.3,4.7 L354.8,4.7 L356.4,4.7 L357.9,4.7 L359.4,4.7 L361,4.7 L362.5,4.7 L364,4.6 L365.6,4.6 L367.1,4.6 L368.7,4.6 L370.2,4.6 L371.7,4.6 L373.3,4.6 L374.8,4.6 L376.3,4.6 L377.9,4.6 L379.4,4.6 L381,4.6 L382.5,4.6 L384,4.6 L385.6,4.6 L387.1,4.6 L388.6,4.6 L390.2,4.6 L391.7,4.6 L393.3,4.6 L394.8,4.6 L396.3,4.6 L397.9,4.6 L399.4,4.6 L401,4.6 L402.5,4.6 L404,4.6 L405.6,4.6 L407.1,4.6 L408.6,4.6 L410.2,4.6 L411.7,4.6 L413.3,4.6 L414.8,4.6 L416.3,4.6 L417.9,4.6 L419.4,4.6 L420.9,4.6 L422.5,4.6 L424,4.6 L425.6,4.6 L427.1,4.6 L428.6,4.6 L430.2,4.6 L431.7,4.6 L433.2,4.6 L434.8,4.6 L436.3,4.6 L437.9,4.6 L439.4,4.6 L440.9,4.6 L442.5,4.6 L444,4.6 L445.5,4.6 L447.1,4.6 L448.6,4.6 L450.2,4.6 L451.7,4.6 L453.2,4.6 L454.8,4.6 L456.3,4.6 L457.8,4.6 L459.4,4.6 L460.9,4.6 L462.5,4.6 L464,4.6" fill="none" stroke="#0072BD" stroke-width="6" stroke-linejoin="round"/></svg><text x="1026.8" y="1000.5" font-family="'Liberation Sans', sans-serif" font-size="29.8" text-anchor="middle" fill="#000">Time after cyt c release [min]</text><text transform="translate(733.8,763.5) rotate(-90)" font-family="'Liberation Sans', sans-serif" font-size="29.7" text-anchor="middle" fill="#000">C3 substrate cleavage [%]</text><rect x="1062.3" y="670.7" width="160.1" height="52.7" fill="#fff" stroke="#8a8a8a" stroke-width="1"/><line x1="1066.7" y1="685.2" x2="1099.5" y2="685.2" stroke="#0072BD" stroke-width="6"/><text x="1101.3" y="692.3" font-family="'Liberation Sans', sans-serif" font-size="19.9" text-anchor="start" fill="#000">Model</text><line x1="1066.7" y1="709.4" x2="1099.5" y2="709.4" stroke="#D95319" stroke-width="6"/><text x="1101.3" y="716.5" font-family="'Liberation Sans', sans-serif" font-size="19.9" text-anchor="start" fill="#000">Experimental</text><rect x="160.1" y="1161.2" width="75.5" height="270.5" fill="#3E26A8" stroke="#1a1a1a" stroke-width="0.8"/><rect x="183.9" y="1156.5" width="28" height="7.6" fill="#bdbdbd"/><rect x="254.5" y="1218.7" width="75.5" height="213" fill="#3E26A8" stroke="#1a1a1a" stroke-width="0.8"/><rect x="278.2" y="1332.9" width="28" height="7.6" fill="#bdbdbd"/><rect x="348.8" y="1306.5" width="75.5" height="125.2" fill="#3E26A8" stroke="#1a1a1a" stroke-width="0.8"/><rect x="372.6" y="1361.1" width="28" height="7.6" fill="#bdbdbd"/><rect x="443.2" y="1349.8" width="75.5" height="81.9" fill="#3E26A8" stroke="#1a1a1a" stroke-width="0.8"/><rect x="466.9" y="1377" width="28" height="7.6" fill="#bdbdbd"/><rect x="103.5" y="1095.9" width="471.8" height="335.8" fill="none" stroke="#8a8a8a" stroke-width="1"/><line x1="197.9" y1="1431.7" x2="197.9" y2="1427.2" stroke="#8a8a8a" stroke-width="1"/><line x1="197.9" y1="1095.9" x2="197.9" y2="1100.4" stroke="#8a8a8a" stroke-width="1"/><text x="197.9" y="1465.7" font-family="'Liberation Sans', sans-serif" font-size="27.0" text-anchor="middle" fill="#000">5</text><line x1="292.2" y1="1431.7" x2="292.2" y2="1427.2" stroke="#8a8a8a" stroke-width="1"/><line x1="292.2" y1="1095.9" x2="292.2" y2="1100.4" stroke="#8a8a8a" stroke-width="1"/><text x="292.2" y="1465.7" font-family="'Liberation Sans', sans-serif" font-size="27.0" text-anchor="middle" fill="#000">10</text><line x1="386.6" y1="1431.7" x2="386.6" y2="1427.2" stroke="#8a8a8a" stroke-width="1"/><line x1="386.6" y1="1095.9" x2="386.6" y2="1100.4" stroke="#8a8a8a" stroke-width="1"/><text x="386.6" y="1465.7" font-family="'Liberation Sans', sans-serif" font-size="27.0" text-anchor="middle" fill="#000">20</text><line x1="480.9" y1="1431.7" x2="480.9" y2="1427.2" stroke="#8a8a8a" stroke-width="1"/><line x1="480.9" y1="1095.9" x2="480.9" y2="1100.4" stroke="#8a8a8a" stroke-width="1"/><text x="480.9" y="1465.7" font-family="'Liberation Sans', sans-serif" font-size="27.0" text-anchor="middle" fill="#000">30</text><line x1="103.5" y1="1431.7" x2="108" y2="1431.7" stroke="#8a8a8a" stroke-width="1"/><line x1="575.3" y1="1431.7" x2="570.8" y2="1431.7" stroke="#8a8a8a" stroke-width="1"/><text x="95.5" y="1441.3" font-family="'Liberation Sans', sans-serif" font-size="27.0" text-anchor="end" fill="#000">0</text><line x1="103.5" y1="1338.4" x2="108" y2="1338.4" stroke="#8a8a8a" stroke-width="1"/><line x1="575.3" y1="1338.4" x2="570.8" y2="1338.4" stroke="#8a8a8a" stroke-width="1"/><text x="95.5" y="1348" font-family="'Liberation Sans', sans-serif" font-size="27.0" text-anchor="end" fill="#000">5</text><line x1="103.5" y1="1245.1" x2="108" y2="1245.1" stroke="#8a8a8a" stroke-width="1"/><line x1="575.3" y1="1245.1" x2="570.8" y2="1245.1" stroke="#8a8a8a" stroke-width="1"/><text x="95.5" y="1254.7" font-family="'Liberation Sans', sans-serif" font-size="27.0" text-anchor="end" fill="#000">10</text><line x1="103.5" y1="1151.9" x2="108" y2="1151.9" stroke="#8a8a8a" stroke-width="1"/><line x1="575.3" y1="1151.9" x2="570.8" y2="1151.9" stroke="#8a8a8a" stroke-width="1"/><text x="95.5" y="1161.5" font-family="'Liberation Sans', sans-serif" font-size="27.0" text-anchor="end" fill="#000">15</text><text x="339.4" y="1499" font-family="'Liberation Sans', sans-serif" font-size="27.3" text-anchor="middle" fill="#000">Time of PC3 addition [min]</text><text transform="translate(57.3,1265.4) rotate(-90)" font-family="'Liberation Sans', sans-serif" font-size="27.2" text-anchor="middle" fill="#000">Substrate cleavage rate [µM/min]</text><rect x="841.3" y="1147.1" width="75.6" height="285.2" fill="#3E26A8" stroke="#1a1a1a" stroke-width="0.8"/><rect x="865.1" y="1142.3" width="28" height="7.6" fill="#bdbdbd"/><rect x="935.8" y="1136.6" width="75.6" height="295.7" fill="#3E26A8" stroke="#1a1a1a" stroke-width="0.8"/><rect x="959.6" y="1325.1" width="28" height="7.6" fill="#bdbdbd"/><rect x="1030.3" y="1129.5" width="75.6" height="302.8" fill="#3E26A8" stroke="#1a1a1a" stroke-width="0.8"/><rect x="1054.1" y="1358.2" width="28" height="7.6" fill="#bdbdbd"/><rect x="1124.8" y="1125.2" width="75.6" height="307.1" fill="#3E26A8" stroke="#1a1a1a" stroke-width="0.8"/><rect x="1148.6" y="1373.5" width="28" height="7.6" fill="#bdbdbd"/><rect x="784.6" y="1096.5" width="472.5" height="335.8" fill="none" stroke="#8a8a8a" stroke-width="1"/><line x1="879.1" y1="1432.3" x2="879.1" y2="1427.8" stroke="#8a8a8a" stroke-width="1"/><line x1="879.1" y1="1096.5" x2="879.1" y2="1101" stroke="#8a8a8a" stroke-width="1"/><text x="879.1" y="1466.3" font-family="'Liberation Sans', sans-serif" font-size="27.0" text-anchor="middle" fill="#000">5</text><line x1="973.6" y1="1432.3" x2="973.6" y2="1427.8" stroke="#8a8a8a" stroke-width="1"/><line x1="973.6" y1="1096.5" x2="973.6" y2="1101" stroke="#8a8a8a" stroke-width="1"/><text x="973.6" y="1466.3" font-family="'Liberation Sans', sans-serif" font-size="27.0" text-anchor="middle" fill="#000">10</text><line x1="1068.1" y1="1432.3" x2="1068.1" y2="1427.8" stroke="#8a8a8a" stroke-width="1"/><line x1="1068.1" y1="1096.5" x2="1068.1" y2="1101" stroke="#8a8a8a" stroke-width="1"/><text x="1068.1" y="1466.3" font-family="'Liberation Sans', sans-serif" font-size="27.0" text-anchor="middle" fill="#000">20</text><line x1="1162.6" y1="1432.3" x2="1162.6" y2="1427.8" stroke="#8a8a8a" stroke-width="1"/><line x1="1162.6" y1="1096.5" x2="1162.6" y2="1101" stroke="#8a8a8a" stroke-width="1"/><text x="1162.6" y="1466.3" font-family="'Liberation Sans', sans-serif" font-size="27.0" text-anchor="middle" fill="#000">30</text><line x1="784.6" y1="1432.3" x2="789.1" y2="1432.3" stroke="#8a8a8a" stroke-width="1"/><line x1="1257.1" y1="1432.3" x2="1252.6" y2="1432.3" stroke="#8a8a8a" stroke-width="1"/><text x="776.6" y="1441.9" font-family="'Liberation Sans', sans-serif" font-size="27.0" text-anchor="end" fill="#000">0</text><line x1="784.6" y1="1339" x2="789.1" y2="1339" stroke="#8a8a8a" stroke-width="1"/><line x1="1257.1" y1="1339" x2="1252.6" y2="1339" stroke="#8a8a8a" stroke-width="1"/><text x="776.6" y="1348.6" font-family="'Liberation Sans', sans-serif" font-size="27.0" text-anchor="end" fill="#000">5</text><line x1="784.6" y1="1245.7" x2="789.1" y2="1245.7" stroke="#8a8a8a" stroke-width="1"/><line x1="1257.1" y1="1245.7" x2="1252.6" y2="1245.7" stroke="#8a8a8a" stroke-width="1"/><text x="776.6" y="1255.3" font-family="'Liberation Sans', sans-serif" font-size="27.0" text-anchor="end" fill="#000">10</text><line x1="784.6" y1="1152.5" x2="789.1" y2="1152.5" stroke="#8a8a8a" stroke-width="1"/><line x1="1257.1" y1="1152.5" x2="1252.6" y2="1152.5" stroke="#8a8a8a" stroke-width="1"/><text x="776.6" y="1162.1" font-family="'Liberation Sans', sans-serif" font-size="27.0" text-anchor="end" fill="#000">15</text><text x="1020.8" y="1499.6" font-family="'Liberation Sans', sans-serif" font-size="27.3" text-anchor="middle" fill="#000">Time of PC3 addition [min]</text><text transform="translate(737.4,1264.7) rotate(-90)" font-family="'Liberation Sans', sans-serif" font-size="27.2" text-anchor="middle" fill="#000">Substrate Cleavage rate [µM/min]</text><rect x="430.8" y="1511.1" width="44.1" height="23.6" fill="#3E26A8"/><text x="487.5" y="1533" font-family="'Liberation Sans', sans-serif" font-size="29.0" text-anchor="start" fill="#3a3a3a">Model</text><rect x="640.5" y="1519.5" width="27.6" height="7.4" fill="#bdbdbd"/><text x="676.5" y="1533" font-family="'Liberation Sans', sans-serif" font-size="29.0" text-anchor="start" fill="#3a3a3a">Experimental</text><line x1="136.4" y1="2088.6" x2="136.4" y2="2421.2" stroke="#8a8a8a" stroke-width="1"/><line x1="136.4" y1="2421.2" x2="136.4" y2="2416.7" stroke="#8a8a8a" stroke-width="1"/><text x="136.4" y="2455" font-family="'Liberation Sans', sans-serif" font-size="27.0" text-anchor="middle" fill="#000">0</text><line x1="293.9" y1="2421.2" x2="293.9" y2="2416.7" stroke="#8a8a8a" stroke-width="1"/><text x="293.9" y="2455" font-family="'Liberation Sans', sans-serif" font-size="27.0" text-anchor="middle" fill="#000">10</text><line x1="451.3" y1="2421.2" x2="451.3" y2="2416.7" stroke="#8a8a8a" stroke-width="1"/><text x="451.3" y="2455" font-family="'Liberation Sans', sans-serif" font-size="27.0" text-anchor="middle" fill="#000">20</text><line x1="608.8" y1="2421.2" x2="608.8" y2="2416.7" stroke="#8a8a8a" stroke-width="1"/><text x="608.8" y="2455" font-family="'Liberation Sans', sans-serif" font-size="27.0" text-anchor="middle" fill="#000">30</text><line x1="136.4" y1="2421.2" x2="140.9" y2="2421.2" stroke="#8a8a8a" stroke-width="1"/><text x="128.4" y="2430.8" font-family="'Liberation Sans', sans-serif" font-size="27.0" text-anchor="end" fill="#000">0</text><line x1="136.4" y1="2310.3" x2="140.9" y2="2310.3" stroke="#8a8a8a" stroke-width="1"/><text x="128.4" y="2319.9" font-family="'Liberation Sans', sans-serif" font-size="27.0" text-anchor="end" fill="#000">0.01</text><line x1="136.4" y1="2199.5" x2="140.9" y2="2199.5" stroke="#8a8a8a" stroke-width="1"/><text x="128.4" y="2209.1" font-family="'Liberation Sans', sans-serif" font-size="27.0" text-anchor="end" fill="#000">0.02</text><line x1="136.4" y1="2088.6" x2="140.9" y2="2088.6" stroke="#8a8a8a" stroke-width="1"/><text x="128.4" y="2098.2" font-family="'Liberation Sans', sans-serif" font-size="27.0" text-anchor="end" fill="#000">0.03</text><path d="M136.4,2089 L138,2089 L139.6,2089 L141.1,2089 L142.7,2089 L144.3,2089 L145.9,2089 L147.5,2089 L149,2089 L150.6,2089 L152.2,2089 L153.8,2089 L155.4,2089.1 L156.9,2089.3 L158.5,2089.6 L160.1,2090 L161.7,2090.5 L163.3,2091 L164.8,2091.6 L166.4,2092.3 L168,2093.1 L169.6,2094.1 L171.2,2095.4 L172.7,2096.8 L174.3,2098.3 L175.9,2099.9 L177.5,2101.6 L179.1,2103.3 L180.6,2105.1 L182.2,2107 L183.8,2109.2 L185.4,2111.4 L187,2113.8 L188.5,2116.1 L190.1,2118.4 L191.7,2120.7 L193.3,2123 L194.9,2125.3 L196.4,2127.7 L198,2130.1 L199.6,2132.4 L201.2,2134.8 L202.8,2137.2 L204.3,2139.6 L205.9,2142 L207.5,2144.4 L209.1,2146.8 L210.7,2149.2 L212.2,2151.6 L213.8,2153.9 L215.4,2156.3 L217,2158.7 L218.6,2161.1 L220.1,2163.4 L221.7,2165.8 L223.3,2168.2 L224.9,2170.6 L226.5,2172.9 L228,2175.3 L229.6,2177.7 L231.2,2180 L232.8,2182.4 L234.4,2184.8 L235.9,2187.2 L237.5,2189.6 L239.1,2192 L240.7,2194.4 L242.3,2196.7 L243.8,2199.1 L245.4,2201.5 L247,2203.8 L248.6,2206.1 L250.2,2208.4 L251.7,2210.7 L253.3,2213 L254.9,2215.3 L256.5,2217.6 L258.1,2219.9 L259.6,2222.1 L261.2,2224.4 L262.8,2226.6 L264.4,2228.8 L266,2230.9 L267.5,2233 L269.1,2235.1 L270.7,2237.1 L272.3,2239.1 L273.9,2241.1 L275.4,2243 L277,2244.9 L278.6,2246.8 L280.2,2248.7 L281.8,2250.5 L283.3,2252.4 L284.9,2254.2 L286.5,2256 L288.1,2257.8 L289.7,2259.6 L291.2,2261.5 L292.8,2263.3 L294.4,2265.1 L296,2266.9 L297.6,2268.7 L299.1,2270.5 L300.7,2272.3 L302.3,2274 L303.9,2275.7 L305.5,2277.4 L307,2279 L308.6,2280.6 L310.2,2282.2 L311.8,2283.7 L313.4,2285.2 L314.9,2286.6 L316.5,2288.1 L318.1,2289.5 L319.7,2290.9 L321.3,2292.3 L322.8,2293.6 L324.4,2295 L326,2296.3 L327.6,2297.7 L329.2,2299 L330.7,2300.3 L332.3,2301.7 L333.9,2303 L335.5,2304.3 L337.1,2305.5 L338.6,2306.8 L340.2,2308.1 L341.8,2309.3 L343.4,2310.6 L345,2311.8 L346.5,2313 L348.1,2314.2 L349.7,2315.4 L351.3,2316.5 L352.9,2317.7 L354.4,2318.9 L356,2320 L357.6,2321.1 L359.2,2322.3 L360.8,2323.4 L362.3,2324.5 L363.9,2325.5 L365.5,2326.6 L367.1,2327.6 L368.7,2328.7 L370.2,2329.7 L371.8,2330.7 L373.4,2331.6 L375,2332.6 L376.5,2333.5 L378.1,2334.4 L379.7,2335.3 L381.3,2336.2 L382.9,2337.1 L384.4,2338 L386,2338.9 L387.6,2339.8 L389.2,2340.7 L390.8,2341.6 L392.3,2342.4 L393.9,2343.3 L395.5,2344.2 L397.1,2345 L398.7,2345.9 L400.2,2346.7 L401.8,2347.5 L403.4,2348.4 L405,2349.2 L406.6,2350 L408.1,2350.8 L409.7,2351.6 L411.3,2352.4 L412.9,2353.2 L414.5,2354 L416,2354.8 L417.6,2355.6 L419.2,2356.3 L420.8,2357.1 L422.4,2357.9 L423.9,2358.6 L425.5,2359.4 L427.1,2360.1 L428.7,2360.9 L430.3,2361.6 L431.8,2362.4 L433.4,2363.1 L435,2363.8 L436.6,2364.6 L438.2,2365.3 L439.7,2366 L441.3,2366.7 L442.9,2367.4 L444.5,2368 L446.1,2368.7 L447.6,2369.3 L449.2,2370 L450.8,2370.6 L452.4,2371.2 L454,2371.8 L455.5,2372.4 L457.1,2373 L458.7,2373.5 L460.3,2374.1 L461.9,2374.7 L463.4,2375.2 L465,2375.7 L466.6,2376.3 L468.2,2376.8 L469.8,2377.3 L471.3,2377.8 L472.9,2378.3 L474.5,2378.8 L476.1,2379.3 L477.7,2379.8 L479.2,2380.3 L480.8,2380.8 L482.4,2381.2 L484,2381.7 L485.6,2382.2 L487.1,2382.6 L488.7,2383.1 L490.3,2383.5 L491.9,2384 L493.5,2384.4 L495,2384.9 L496.6,2385.3 L498.2,2385.7 L499.8,2386.1 L501.4,2386.6 L502.9,2387 L504.5,2387.4 L506.1,2387.8 L507.7,2388.2 L509.3,2388.6 L510.8,2389 L512.4,2389.4 L514,2389.8 L515.6,2390.2 L517.2,2390.5 L518.7,2390.9 L520.3,2391.3 L521.9,2391.6 L523.5,2392 L525.1,2392.3 L526.6,2392.6 L528.2,2393 L529.8,2393.3 L531.4,2393.6 L533,2393.9 L534.5,2394.2 L536.1,2394.6 L537.7,2394.9 L539.3,2395.2 L540.9,2395.5 L542.4,2395.8 L544,2396 L545.6,2396.3 L547.2,2396.6 L548.8,2396.9 L550.3,2397.2 L551.9,2397.4 L553.5,2397.7 L555.1,2397.9 L556.7,2398.2 L558.2,2398.4 L559.8,2398.7 L561.4,2398.9 L563,2399.1 L564.6,2399.3 L566.1,2399.6 L567.7,2399.8 L569.3,2400 L570.9,2400.2 L572.5,2400.4 L574,2400.6 L575.6,2400.8 L577.2,2401 L578.8,2401.2 L580.4,2401.4 L581.9,2401.6 L583.5,2401.8 L585.1,2402 L586.7,2402.2 L588.3,2402.3 L589.8,2402.5 L591.4,2402.7 L593,2402.8 L594.6,2403 L596.2,2403.2 L597.7,2403.3 L599.3,2403.5 L600.9,2403.6 L602.5,2403.8 L604.1,2403.9 L605.6,2404 L607.2,2404.2 L608.8,2404.3" fill="none" stroke="#0072BD" stroke-width="5.5" stroke-linejoin="round"/><path d="M136.4,2421.2 L138,2421.2 L139.6,2421.2 L141.1,2421.2 L142.7,2421.2 L144.3,2421.2 L145.9,2421.2 L147.5,2421.2 L149,2421.2 L150.6,2421.2 L152.2,2421.2 L153.8,2421.2 L155.4,2421.2 L156.9,2421.2 L158.5,2421.2 L160.1,2421.2 L161.7,2421.2 L163.3,2421.2 L164.8,2421.1 L166.4,2421.1 L168,2421 L169.6,2420.9 L171.2,2420.8 L172.7,2420.7 L174.3,2420.6 L175.9,2420.3 L177.5,2420 L179.1,2419.7 L180.6,2419.3 L182.2,2418.8 L183.8,2418.4 L185.4,2417.9 L187,2417.4 L188.5,2416.7 L190.1,2416.1 L191.7,2415.3 L193.3,2414.5 L194.9,2413.6 L196.4,2412.7 L198,2411.7 L199.6,2410.6 L201.2,2409.4 L202.8,2408 L204.3,2406.4 L205.9,2404.7 L207.5,2402.8 L209.1,2400.8 L210.7,2398.8 L212.2,2396.7 L213.8,2394.6 L215.4,2392.5 L217,2390.3 L218.6,2388.1 L220.1,2385.8 L221.7,2383.4 L223.3,2380.9 L224.9,2378.4 L226.5,2375.8 L228,2373.3 L229.6,2370.6 L231.2,2368 L232.8,2365.2 L234.4,2362.4 L235.9,2359.6 L237.5,2356.6 L239.1,2353.7 L240.7,2350.7 L242.3,2347.8 L243.8,2344.8 L245.4,2341.8 L247,2338.8 L248.6,2335.8 L250.2,2332.7 L251.7,2329.6 L253.3,2326.6 L254.9,2323.5 L256.5,2320.5 L258.1,2317.5 L259.6,2314.7 L261.2,2311.8 L262.8,2309 L264.4,2306.2 L266,2303.5 L267.5,2300.8 L269.1,2298.1 L270.7,2295.5 L272.3,2293 L273.9,2290.5 L275.4,2288.2 L277,2285.9 L278.6,2283.7 L280.2,2281.5 L281.8,2279.4 L283.3,2277.3 L284.9,2275.3 L286.5,2273.3 L288.1,2271.4 L289.7,2269.5 L291.2,2267.7 L292.8,2265.9 L294.4,2264.1 L296,2262.4 L297.6,2260.7 L299.1,2259.1 L300.7,2257.4 L302.3,2255.8 L303.9,2254.2 L305.5,2252.6 L307,2251.1 L308.6,2249.6 L310.2,2248 L311.8,2246.5 L313.4,2245.1 L314.9,2243.6 L316.5,2242.2 L318.1,2240.7 L319.7,2239.3 L321.3,2237.9 L322.8,2236.5 L324.4,2235.1 L326,2233.7 L327.6,2232.3 L329.2,2230.9 L330.7,2229.6 L332.3,2228.2 L333.9,2226.9 L335.5,2225.6 L337.1,2224.3 L338.6,2223 L340.2,2221.7 L341.8,2220.5 L343.4,2219.2 L345,2218 L346.5,2216.8 L348.1,2215.6 L349.7,2214.4 L351.3,2213.2 L352.9,2212 L354.4,2210.9 L356,2209.7 L357.6,2208.6 L359.2,2207.5 L360.8,2206.4 L362.3,2205.3 L363.9,2204.2 L365.5,2203.1 L367.1,2202.1 L368.7,2201 L370.2,2200 L371.8,2198.9 L373.4,2197.9 L375,2196.9 L376.5,2195.9 L378.1,2194.9 L379.7,2194 L381.3,2193 L382.9,2192.1 L384.4,2191.1 L386,2190.2 L387.6,2189.3 L389.2,2188.3 L390.8,2187.4 L392.3,2186.5 L393.9,2185.7 L395.5,2184.8 L397.1,2183.9 L398.7,2183.1 L400.2,2182.3 L401.8,2181.5 L403.4,2180.7 L405,2179.9 L406.6,2179.1 L408.1,2178.3 L409.7,2177.5 L411.3,2176.8 L412.9,2176 L414.5,2175.3 L416,2174.6 L417.6,2173.8 L419.2,2173.1 L420.8,2172.4 L422.4,2171.7 L423.9,2171 L425.5,2170.4 L427.1,2169.7 L428.7,2169.1 L430.3,2168.4 L431.8,2167.8 L433.4,2167.1 L435,2166.5 L436.6,2165.9 L438.2,2165.2 L439.7,2164.6 L441.3,2164.1 L442.9,2163.5 L444.5,2162.9 L446.1,2162.3 L447.6,2161.8 L449.2,2161.3 L450.8,2160.7 L452.4,2160.2 L454,2159.7 L455.5,2159.2 L457.1,2158.7 L458.7,2158.2 L460.3,2157.7 L461.9,2157.3 L463.4,2156.8 L465,2156.3 L466.6,2155.9 L468.2,2155.5 L469.8,2155 L471.3,2154.6 L472.9,2154.2 L474.5,2153.8 L476.1,2153.4 L477.7,2153 L479.2,2152.6 L480.8,2152.2 L482.4,2151.8 L484,2151.5 L485.6,2151.1 L487.1,2150.7 L488.7,2150.4 L490.3,2150 L491.9,2149.7 L493.5,2149.4 L495,2149 L496.6,2148.7 L498.2,2148.4 L499.8,2148.1 L501.4,2147.8 L502.9,2147.5 L504.5,2147.2 L506.1,2146.9 L507.7,2146.7 L509.3,2146.4 L510.8,2146.2 L512.4,2145.9 L514,2145.7 L515.6,2145.5 L517.2,2145.2 L518.7,2145 L520.3,2144.8 L521.9,2144.6 L523.5,2144.4 L525.1,2144.1 L526.6,2143.9 L528.2,2143.8 L529.8,2143.6 L531.4,2143.4 L533,2143.2 L534.5,2143 L536.1,2142.9 L537.7,2142.7 L539.3,2142.6 L540.9,2142.4 L542.4,2142.3 L544,2142.1 L545.6,2142 L547.2,2141.9 L548.8,2141.7 L550.3,2141.6 L551.9,2141.5 L553.5,2141.4 L555.1,2141.2 L556.7,2141.1 L558.2,2141 L559.8,2140.9 L561.4,2140.8 L563,2140.7 L564.6,2140.6 L566.1,2140.6 L567.7,2140.5 L569.3,2140.4 L570.9,2140.4 L572.5,2140.3 L574,2140.3 L575.6,2140.2 L577.2,2140.1 L578.8,2140.1 L580.4,2140 L581.9,2140 L583.5,2139.9 L585.1,2139.9 L586.7,2139.9 L588.3,2139.8 L589.8,2139.8 L591.4,2139.7 L593,2139.7 L594.6,2139.7 L596.2,2139.6 L597.7,2139.6 L599.3,2139.6 L600.9,2139.6 L602.5,2139.5 L604.1,2139.5 L605.6,2139.5 L607.2,2139.5 L608.8,2139.5" fill="none" stroke="#D95319" stroke-width="5.5" stroke-linejoin="round"/><path d="M136.4,2421.6 L138,2421.6 L139.6,2421.6 L141.1,2421.6 L142.7,2421.6 L144.3,2421.6 L145.9,2421.6 L147.5,2421.6 L149,2421.6 L150.6,2421.6 L152.2,2421.6 L153.8,2421.6 L155.4,2421.6 L156.9,2421.6 L158.5,2421.6 L160.1,2421.6 L161.7,2421.6 L163.3,2421.6 L164.8,2421.6 L166.4,2421.6 L168,2421.6 L169.6,2421.6 L171.2,2421.6 L172.7,2421.6 L174.3,2421.6 L175.9,2421.6 L177.5,2421.6 L179.1,2421.6 L180.6,2421.6 L182.2,2421.6 L183.8,2421.6 L185.4,2421.6 L187,2421.6 L188.5,2421.6 L190.1,2421.6 L191.7,2421.6 L193.3,2421.6 L194.9,2421.6 L196.4,2421.6 L198,2421.6 L199.6,2421.6 L201.2,2421.6 L202.8,2421.6 L204.3,2421.6 L205.9,2421.6 L207.5,2421.6 L209.1,2421.6 L210.7,2421.6 L212.2,2421.6 L213.8,2421.6 L215.4,2421.6 L217,2421.6 L218.6,2421.6 L220.1,2421.6 L221.7,2421.6 L223.3,2421.6 L224.9,2421.6 L226.5,2421.6 L228,2421.6 L229.6,2421.6 L231.2,2421.6 L232.8,2421.6 L234.4,2421.6 L235.9,2421.6 L237.5,2421.6 L239.1,2421.6 L240.7,2421.6 L242.3,2421.6 L243.8,2421.6 L245.4,2421.6 L247,2421.6 L248.6,2421.6 L250.2,2421.6 L251.7,2421.6 L253.3,2421.6 L254.9,2421.6 L256.5,2421.6 L258.1,2421.6 L259.6,2421.6 L261.2,2421.6 L262.8,2421.6 L264.4,2421.6 L266,2421.6 L267.5,2421.6 L269.1,2421.6 L270.7,2421.6 L272.3,2421.6 L273.9,2421.6 L275.4,2421.6 L277,2421.6 L278.6,2421.6 L280.2,2421.6 L281.8,2421.6 L283.3,2421.6 L284.9,2421.6 L286.5,2421.6 L288.1,2421.6 L289.7,2421.6 L291.2,2421.6 L292.8,2421.6 L294.4,2421.6 L296,2421.6 L297.6,2421.6 L299.1,2421.6 L300.7,2421.6 L302.3,2421.6 L303.9,2421.6 L305.5,2421.6 L307,2421.6 L308.6,2421.6 L310.2,2421.6 L311.8,2421.6 L313.4,2421.6 L314.9,2421.6 L316.5,2421.6 L318.1,2421.6 L319.7,2421.6 L321.3,2421.6 L322.8,2421.6 L324.4,2421.6 L326,2421.6 L327.6,2421.6 L329.2,2421.6 L330.7,2421.6 L332.3,2421.6 L333.9,2421.6 L335.5,2421.6 L337.1,2421.6 L338.6,2421.6 L340.2,2421.6 L341.8,2421.6 L343.4,2421.6 L345,2421.6 L346.5,2421.6 L348.1,2421.6 L349.7,2421.6 L351.3,2421.6 L352.9,2421.6 L354.4,2421.6 L356,2421.6 L357.6,2421.6 L359.2,2421.6 L360.8,2421.6 L362.3,2421.6 L363.9,2421.6 L365.5,2421.6 L367.1,2421.6 L368.7,2421.6 L370.2,2421.6 L371.8,2421.6 L373.4,2421.6 L375,2421.6 L376.5,2421.6 L378.1,2421.6 L379.7,2421.6 L381.3,2421.6 L382.9,2421.6 L384.4,2421.6 L386,2421.6 L387.6,2421.6 L389.2,2421.6 L390.8,2421.6 L392.3,2421.6 L393.9,2421.6 L395.5,2421.6 L397.1,2421.6 L398.7,2421.6 L400.2,2421.6 L401.8,2421.6 L403.4,2421.6 L405,2421.6 L406.6,2421.6 L408.1,2421.6 L409.7,2421.6 L411.3,2421.6 L412.9,2421.6 L414.5,2421.6 L416,2421.6 L417.6,2421.6 L419.2,2421.6 L420.8,2421.6 L422.4,2421.6 L423.9,2421.6 L425.5,2421.6 L427.1,2421.6 L428.7,2421.6 L430.3,2421.6 L431.8,2421.6 L433.4,2421.6 L435,2421.6 L436.6,2421.6 L438.2,2421.6 L439.7,2421.6 L441.3,2421.6 L442.9,2421.6 L444.5,2421.6 L446.1,2421.6 L447.6,2421.6 L449.2,2421.6 L450.8,2421.6 L452.4,2421.6 L454,2421.6 L455.5,2421.6 L457.1,2421.6 L458.7,2421.6 L460.3,2421.6 L461.9,2421.6 L463.4,2421.6 L465,2421.6 L466.6,2421.6 L468.2,2421.6 L469.8,2421.6 L471.3,2421.6 L472.9,2421.6 L474.5,2421.6 L476.1,2421.6 L477.7,2421.6 L479.2,2421.6 L480.8,2421.6 L482.4,2421.6 L484,2421.6 L485.6,2421.6 L487.1,2421.6 L488.7,2421.6 L490.3,2421.6 L491.9,2421.6 L493.5,2421.6 L495,2421.6 L496.6,2421.6 L498.2,2421.6 L499.8,2421.6 L501.4,2421.6 L502.9,2421.6 L504.5,2421.6 L506.1,2421.6 L507.7,2421.6 L509.3,2421.6 L510.8,2421.6 L512.4,2421.6 L514,2421.6 L515.6,2421.6 L517.2,2421.6 L518.7,2421.6 L520.3,2421.6 L521.9,2421.6 L523.5,2421.6 L525.1,2421.6 L526.6,2421.6 L528.2,2421.6 L529.8,2421.6 L531.4,2421.6 L533,2421.6 L534.5,2421.6 L536.1,2421.6 L537.7,2421.6 L539.3,2421.6 L540.9,2421.6 L542.4,2421.6 L544,2421.6 L545.6,2421.6 L547.2,2421.6 L548.8,2421.6 L550.3,2421.6 L551.9,2421.6 L553.5,2421.6 L555.1,2421.6 L556.7,2421.6 L558.2,2421.6 L559.8,2421.6 L561.4,2421.6 L563,2421.6 L564.6,2421.6 L566.1,2421.6 L567.7,2421.6 L569.3,2421.6 L570.9,2421.6 L572.5,2421.6 L574,2421.6 L575.6,2421.6 L577.2,2421.6 L578.8,2421.6 L580.4,2421.6 L581.9,2421.6 L583.5,2421.6 L585.1,2421.6 L586.7,2421.6 L588.3,2421.6 L589.8,2421.6 L591.4,2421.6 L593,2421.6 L594.6,2421.6 L596.2,2421.6 L597.7,2421.6 L599.3,2421.6 L600.9,2421.6 L602.5,2421.6 L604.1,2421.6 L605.6,2421.6 L607.2,2421.6 L608.8,2421.6" fill="none" stroke="#EDB120" stroke-width="5.5" stroke-linejoin="round"/><path d="M136.4,2421.4 L138,2421.4 L139.6,2421.4 L141.1,2421.4 L142.7,2421.4 L144.3,2421.4 L145.9,2421.4 L147.5,2421.3 L149,2421.3 L150.6,2421.3 L152.2,2421.3 L153.8,2421.2 L155.4,2421.2 L156.9,2421.1 L158.5,2420.8 L160.1,2420.2 L161.7,2419.5 L163.3,2418.6 L164.8,2417.6 L166.4,2416.5 L168,2415.4 L169.6,2414.3 L171.2,2413.2 L172.7,2412 L174.3,2410.5 L175.9,2409 L177.5,2407.3 L179.1,2405.6 L180.6,2403.8 L182.2,2402.1 L183.8,2400.3 L185.4,2398.6 L187,2396.9 L188.5,2395.4 L190.1,2393.9 L191.7,2392.5 L193.3,2391.1 L194.9,2389.6 L196.4,2388.2 L198,2386.8 L199.6,2385.4 L201.2,2384.1 L202.8,2382.8 L204.3,2381.6 L205.9,2380.5 L207.5,2379.5 L209.1,2378.7 L210.7,2377.9 L212.2,2377.1 L213.8,2376.3 L215.4,2375.6 L217,2374.9 L218.6,2374.3 L220.1,2373.8 L221.7,2373.5 L223.3,2373.4 L224.9,2373.5 L226.5,2373.7 L228,2374 L229.6,2374.4 L231.2,2375 L232.8,2375.6 L234.4,2376.2 L235.9,2376.9 L237.5,2377.6 L239.1,2378.3 L240.7,2379 L242.3,2379.9 L243.8,2380.9 L245.4,2382 L247,2383.2 L248.6,2384.5 L250.2,2385.8 L251.7,2387.1 L253.3,2388.3 L254.9,2389.5 L256.5,2390.6 L258.1,2391.6 L259.6,2392.5 L261.2,2393.3 L262.8,2394.1 L264.4,2394.9 L266,2395.7 L267.5,2396.4 L269.1,2397.2 L270.7,2397.9 L272.3,2398.6 L273.9,2399.3 L275.4,2399.9 L277,2400.5 L278.6,2401.1 L280.2,2401.7 L281.8,2402.3 L283.3,2402.8 L284.9,2403.2 L286.5,2403.7 L288.1,2404.1 L289.7,2404.4 L291.2,2404.8 L292.8,2405.1 L294.4,2405.4 L296,2405.7 L297.6,2406 L299.1,2406.3 L300.7,2406.6 L302.3,2406.8 L303.9,2407.1 L305.5,2407.4 L307,2407.6 L308.6,2407.8 L310.2,2408.1 L311.8,2408.3 L313.4,2408.5 L314.9,2408.7 L316.5,2408.9 L318.1,2409.1 L319.7,2409.3 L321.3,2409.4 L322.8,2409.6 L324.4,2409.8 L326,2409.9 L327.6,2410.1 L329.2,2410.2 L330.7,2410.4 L332.3,2410.5 L333.9,2410.6 L335.5,2410.8 L337.1,2410.9 L338.6,2411 L340.2,2411.2 L341.8,2411.3 L343.4,2411.4 L345,2411.5 L346.5,2411.6 L348.1,2411.7 L349.7,2411.9 L351.3,2412 L352.9,2412.1 L354.4,2412.2 L356,2412.3 L357.6,2412.4 L359.2,2412.5 L360.8,2412.6 L362.3,2412.6 L363.9,2412.7 L365.5,2412.8 L367.1,2412.9 L368.7,2413 L370.2,2413.1 L371.8,2413.2 L373.4,2413.3 L375,2413.3 L376.5,2413.4 L378.1,2413.5 L379.7,2413.6 L381.3,2413.7 L382.9,2413.7 L384.4,2413.8 L386,2413.9 L387.6,2414 L389.2,2414.1 L390.8,2414.1 L392.3,2414.2 L393.9,2414.3 L395.5,2414.4 L397.1,2414.5 L398.7,2414.5 L400.2,2414.6 L401.8,2414.7 L403.4,2414.8 L405,2414.8 L406.6,2414.9 L408.1,2415 L409.7,2415.1 L411.3,2415.1 L412.9,2415.2 L414.5,2415.3 L416,2415.3 L417.6,2415.4 L419.2,2415.5 L420.8,2415.5 L422.4,2415.6 L423.9,2415.7 L425.5,2415.7 L427.1,2415.8 L428.7,2415.8 L430.3,2415.9 L431.8,2416 L433.4,2416 L435,2416.1 L436.6,2416.1 L438.2,2416.2 L439.7,2416.2 L441.3,2416.3 L442.9,2416.3 L444.5,2416.4 L446.1,2416.4 L447.6,2416.5 L449.2,2416.5 L450.8,2416.5 L452.4,2416.6 L454,2416.6 L455.5,2416.7 L457.1,2416.7 L458.7,2416.7 L460.3,2416.8 L461.9,2416.8 L463.4,2416.8 L465,2416.9 L466.6,2416.9 L468.2,2417 L469.8,2417 L471.3,2417 L472.9,2417.1 L474.5,2417.1 L476.1,2417.1 L477.7,2417.2 L479.2,2417.2 L480.8,2417.2 L482.4,2417.3 L484,2417.3 L485.6,2417.4 L487.1,2417.4 L488.7,2417.4 L490.3,2417.5 L491.9,2417.5 L493.5,2417.5 L495,2417.6 L496.6,2417.6 L498.2,2417.6 L499.8,2417.7 L501.4,2417.7 L502.9,2417.7 L504.5,2417.8 L506.1,2417.8 L507.7,2417.8 L509.3,2417.9 L510.8,2417.9 L512.4,2417.9 L514,2418 L515.6,2418 L517.2,2418 L518.7,2418 L520.3,2418.1 L521.9,2418.1 L523.5,2418.1 L525.1,2418.2 L526.6,2418.2 L528.2,2418.2 L529.8,2418.2 L531.4,2418.3 L533,2418.3 L534.5,2418.3 L536.1,2418.3 L537.7,2418.4 L539.3,2418.4 L540.9,2418.4 L542.4,2418.4 L544,2418.5 L545.6,2418.5 L547.2,2418.5 L548.8,2418.5 L550.3,2418.6 L551.9,2418.6 L553.5,2418.6 L555.1,2418.6 L556.7,2418.6 L558.2,2418.7 L559.8,2418.7 L561.4,2418.7 L563,2418.7 L564.6,2418.7 L566.1,2418.8 L567.7,2418.8 L569.3,2418.8 L570.9,2418.8 L572.5,2418.8 L574,2418.8 L575.6,2418.9 L577.2,2418.9 L578.8,2418.9 L580.4,2418.9 L581.9,2418.9 L583.5,2418.9 L585.1,2418.9 L586.7,2418.9 L588.3,2418.9 L589.8,2419 L591.4,2419 L593,2419 L594.6,2419 L596.2,2419 L597.7,2419 L599.3,2419 L600.9,2419 L602.5,2419 L604.1,2419 L605.6,2419 L607.2,2419 L608.8,2419" fill="none" stroke="#7E2F8E" stroke-width="5.5" stroke-linejoin="round"/><text x="372.6" y="2489.5" font-family="'Liberation Sans', sans-serif" font-size="29.4" text-anchor="middle" fill="#000">Time after cyt c release [min]</text><text transform="translate(58.3,2254.9) rotate(-90)" font-family="'Liberation Sans', sans-serif" font-size="30.4" text-anchor="middle">Protein level [<tspan font-family="'Liberation Serif', serif" font-style="italic">μ</tspan>M]</text><rect x="399.3" y="2205.7" width="199.2" height="99.6" fill="#fff" stroke="#8a8a8a" stroke-width="1"/><line x1="403.7" y1="2220" x2="436.5" y2="2220" stroke="#0072BD" stroke-width="6"/><text x="438.3" y="2227.1" font-family="'Liberation Sans', sans-serif" font-size="19.9" text-anchor="start" fill="#000">cytosolic PC9</text><line x1="403.7" y1="2243.8" x2="436.5" y2="2243.8" stroke="#D95319" stroke-width="6"/><text x="438.3" y="2250.9" font-family="'Liberation Sans', sans-serif" font-size="19.9" text-anchor="start" fill="#000">cytosolic C9</text><line x1="403.7" y1="2267.6" x2="436.5" y2="2267.6" stroke="#EDB120" stroke-width="6"/><text x="438.3" y="2274.7" font-family="'Liberation Sans', sans-serif" font-size="19.9" text-anchor="start" fill="#000">Apoptosome PC9</text><line x1="403.7" y1="2291.4" x2="436.5" y2="2291.4" stroke="#7E2F8E" stroke-width="6"/><text x="438.3" y="2298.5" font-family="'Liberation Sans', sans-serif" font-size="19.9" text-anchor="start" fill="#000">Apoptosome C9</text><line x1="818.2" y1="2088.5" x2="818.2" y2="2421.9" stroke="#8a8a8a" stroke-width="1"/><line x1="818.2" y1="2421.9" x2="818.2" y2="2417.4" stroke="#8a8a8a" stroke-width="1"/><text x="818.2" y="2455.7" font-family="'Liberation Sans', sans-serif" font-size="27.0" text-anchor="middle" fill="#000">0</text><line x1="975.5" y1="2421.9" x2="975.5" y2="2417.4" stroke="#8a8a8a" stroke-width="1"/><text x="975.5" y="2455.7" font-family="'Liberation Sans', sans-serif" font-size="27.0" text-anchor="middle" fill="#000">10</text><line x1="1132.9" y1="2421.9" x2="1132.9" y2="2417.4" stroke="#8a8a8a" stroke-width="1"/><text x="1132.9" y="2455.7" font-family="'Liberation Sans', sans-serif" font-size="27.0" text-anchor="middle" fill="#000">20</text><line x1="1290.2" y1="2421.9" x2="1290.2" y2="2417.4" stroke="#8a8a8a" stroke-width="1"/><text x="1290.2" y="2455.7" font-family="'Liberation Sans', sans-serif" font-size="27.0" text-anchor="middle" fill="#000">30</text><line x1="818.2" y1="2421.9" x2="822.7" y2="2421.9" stroke="#8a8a8a" stroke-width="1"/><text x="810.2" y="2431.5" font-family="'Liberation Sans', sans-serif" font-size="27.0" text-anchor="end" fill="#000">0</text><line x1="818.2" y1="2310.8" x2="822.7" y2="2310.8" stroke="#8a8a8a" stroke-width="1"/><text x="810.2" y="2320.4" font-family="'Liberation Sans', sans-serif" font-size="27.0" text-anchor="end" fill="#000">0.01</text><line x1="818.2" y1="2199.6" x2="822.7" y2="2199.6" stroke="#8a8a8a" stroke-width="1"/><text x="810.2" y="2209.2" font-family="'Liberation Sans', sans-serif" font-size="27.0" text-anchor="end" fill="#000">0.02</text><line x1="818.2" y1="2088.5" x2="822.7" y2="2088.5" stroke="#8a8a8a" stroke-width="1"/><text x="810.2" y="2098.1" font-family="'Liberation Sans', sans-serif" font-size="27.0" text-anchor="end" fill="#000">0.03</text><path d="M818.2,2088.2 L819.8,2088.2 L821.4,2088.2 L822.9,2088.2 L824.5,2088.2 L826.1,2088.2 L827.7,2088.2 L829.3,2088.2 L830.8,2088.2 L832.4,2088.2 L834,2088.2 L835.6,2088.2 L837.1,2088.2 L838.7,2088.5 L840.3,2089 L841.9,2089.6 L843.5,2090.2 L845,2091 L846.6,2091.6 L848.2,2092.3 L849.8,2092.9 L851.4,2093.6 L852.9,2094.4 L854.5,2095.2 L856.1,2096 L857.7,2096.8 L859.2,2097.5 L860.8,2098.3 L862.4,2099 L864,2099.7 L865.6,2100.4 L867.1,2100.9 L868.7,2101.5 L870.3,2102 L871.9,2102.5 L873.5,2103 L875,2103.5 L876.6,2103.9 L878.2,2104.4 L879.8,2104.8 L881.3,2105.2 L882.9,2105.6 L884.5,2106.1 L886.1,2106.5 L887.7,2106.9 L889.2,2107.3 L890.8,2107.7 L892.4,2108.1 L894,2108.5 L895.6,2108.8 L897.1,2109.2 L898.7,2109.6 L900.3,2109.9 L901.9,2110.3 L903.4,2110.6 L905,2111 L906.6,2111.3 L908.2,2111.6 L909.8,2112 L911.3,2112.3 L912.9,2112.6 L914.5,2112.9 L916.1,2113.2 L917.7,2113.5 L919.2,2113.8 L920.8,2114.1 L922.4,2114.5 L924,2114.8 L925.5,2115.2 L927.1,2115.5 L928.7,2115.9 L930.3,2116.2 L931.9,2116.6 L933.4,2116.9 L935,2117.3 L936.6,2117.7 L938.2,2118 L939.8,2118.4 L941.3,2118.8 L942.9,2119.1 L944.5,2119.5 L946.1,2119.9 L947.6,2120.2 L949.2,2120.6 L950.8,2121 L952.4,2121.3 L954,2121.7 L955.5,2122.1 L957.1,2122.4 L958.7,2122.8 L960.3,2123.2 L961.9,2123.5 L963.4,2123.9 L965,2124.2 L966.6,2124.6 L968.2,2124.9 L969.7,2125.3 L971.3,2125.7 L972.9,2126 L974.5,2126.4 L976.1,2126.7 L977.6,2127.1 L979.2,2127.4 L980.8,2127.8 L982.4,2128.1 L984,2128.5 L985.5,2128.8 L987.1,2129.2 L988.7,2129.5 L990.3,2129.9 L991.8,2130.2 L993.4,2130.6 L995,2130.9 L996.6,2131.3 L998.2,2131.7 L999.7,2132 L1001.3,2132.4 L1002.9,2132.7 L1004.5,2133.1 L1006.1,2133.4 L1007.6,2133.8 L1009.2,2134.1 L1010.8,2134.5 L1012.4,2134.8 L1013.9,2135.2 L1015.5,2135.5 L1017.1,2135.9 L1018.7,2136.3 L1020.3,2136.6 L1021.8,2137 L1023.4,2137.3 L1025,2137.7 L1026.6,2138.1 L1028.2,2138.4 L1029.7,2138.8 L1031.3,2139.1 L1032.9,2139.5 L1034.5,2139.9 L1036,2140.2 L1037.6,2140.6 L1039.2,2141 L1040.8,2141.4 L1042.4,2141.7 L1043.9,2142.1 L1045.5,2142.5 L1047.1,2142.8 L1048.7,2143.2 L1050.3,2143.6 L1051.8,2144 L1053.4,2144.3 L1055,2144.7 L1056.6,2145.1 L1058.1,2145.5 L1059.7,2145.9 L1061.3,2146.2 L1062.9,2146.6 L1064.5,2147 L1066,2147.4 L1067.6,2147.8 L1069.2,2148.2 L1070.8,2148.5 L1072.4,2148.9 L1073.9,2149.3 L1075.5,2149.7 L1077.1,2150.1 L1078.7,2150.5 L1080.2,2150.8 L1081.8,2151.2 L1083.4,2151.6 L1085,2152 L1086.6,2152.4 L1088.1,2152.7 L1089.7,2153.1 L1091.3,2153.5 L1092.9,2153.9 L1094.5,2154.3 L1096,2154.7 L1097.6,2155 L1099.2,2155.4 L1100.8,2155.8 L1102.3,2156.2 L1103.9,2156.6 L1105.5,2156.9 L1107.1,2157.3 L1108.7,2157.7 L1110.2,2158.1 L1111.8,2158.4 L1113.4,2158.8 L1115,2159.2 L1116.6,2159.6 L1118.1,2159.9 L1119.7,2160.3 L1121.3,2160.7 L1122.9,2161.1 L1124.4,2161.5 L1126,2161.9 L1127.6,2162.2 L1129.2,2162.6 L1130.8,2163 L1132.3,2163.4 L1133.9,2163.8 L1135.5,2164.1 L1137.1,2164.5 L1138.7,2164.9 L1140.2,2165.3 L1141.8,2165.7 L1143.4,2166.1 L1145,2166.4 L1146.5,2166.8 L1148.1,2167.2 L1149.7,2167.6 L1151.3,2168 L1152.9,2168.3 L1154.4,2168.7 L1156,2169.1 L1157.6,2169.5 L1159.2,2169.8 L1160.8,2170.2 L1162.3,2170.6 L1163.9,2170.9 L1165.5,2171.3 L1167.1,2171.6 L1168.6,2172 L1170.2,2172.4 L1171.8,2172.7 L1173.4,2173.1 L1175,2173.4 L1176.5,2173.8 L1178.1,2174.1 L1179.7,2174.5 L1181.3,2174.8 L1182.9,2175.1 L1184.4,2175.5 L1186,2175.8 L1187.6,2176.1 L1189.2,2176.5 L1190.7,2176.8 L1192.3,2177.1 L1193.9,2177.5 L1195.5,2177.8 L1197.1,2178.1 L1198.6,2178.4 L1200.2,2178.8 L1201.8,2179.1 L1203.4,2179.4 L1205,2179.7 L1206.5,2180.1 L1208.1,2180.4 L1209.7,2180.7 L1211.3,2181 L1212.8,2181.3 L1214.4,2181.7 L1216,2182 L1217.6,2182.3 L1219.2,2182.6 L1220.7,2182.9 L1222.3,2183.2 L1223.9,2183.5 L1225.5,2183.8 L1227.1,2184.2 L1228.6,2184.5 L1230.2,2184.8 L1231.8,2185.1 L1233.4,2185.4 L1234.9,2185.7 L1236.5,2186 L1238.1,2186.3 L1239.7,2186.6 L1241.3,2186.9 L1242.8,2187.2 L1244.4,2187.5 L1246,2187.8 L1247.6,2188.1 L1249.2,2188.4 L1250.7,2188.6 L1252.3,2188.9 L1253.9,2189.2 L1255.5,2189.5 L1257,2189.8 L1258.6,2190.1 L1260.2,2190.4 L1261.8,2190.6 L1263.4,2190.9 L1264.9,2191.2 L1266.5,2191.5 L1268.1,2191.8 L1269.7,2192 L1271.3,2192.3 L1272.8,2192.6 L1274.4,2192.9 L1276,2193.1 L1277.6,2193.4 L1279.1,2193.7 L1280.7,2193.9 L1282.3,2194.2 L1283.9,2194.5 L1285.5,2194.7 L1287,2195 L1288.6,2195.2 L1290.2,2195.5" fill="none" stroke="#0072BD" stroke-width="5.5" stroke-linejoin="round"/><path d="M818.2,2421.9 L819.8,2421.9 L821.4,2421.9 L822.9,2421.9 L824.5,2421.9 L826.1,2421.9 L827.7,2421.9 L829.3,2421.9 L830.8,2421.9 L832.4,2421.9 L834,2421.9 L835.6,2421.9 L837.1,2421.9 L838.7,2421.9 L840.3,2421.9 L841.9,2421.9 L843.5,2421.9 L845,2421.9 L846.6,2421.9 L848.2,2421.9 L849.8,2421.9 L851.4,2421.9 L852.9,2421.9 L854.5,2421.9 L856.1,2421.9 L857.7,2421.9 L859.2,2421.9 L860.8,2421.9 L862.4,2421.9 L864,2421.9 L865.6,2421.9 L867.1,2421.9 L868.7,2421.9 L870.3,2421.8 L871.9,2421.7 L873.5,2421.6 L875,2421.5 L876.6,2421.3 L878.2,2421.1 L879.8,2420.9 L881.3,2420.7 L882.9,2420.5 L884.5,2420.3 L886.1,2420.1 L887.7,2419.9 L889.2,2419.7 L890.8,2419.4 L892.4,2419.2 L894,2419 L895.6,2418.8 L897.1,2418.5 L898.7,2418.2 L900.3,2417.9 L901.9,2417.7 L903.4,2417.3 L905,2417 L906.6,2416.7 L908.2,2416.4 L909.8,2416 L911.3,2415.7 L912.9,2415.3 L914.5,2415 L916.1,2414.6 L917.7,2414.3 L919.2,2413.9 L920.8,2413.6 L922.4,2413.2 L924,2412.9 L925.5,2412.5 L927.1,2412.2 L928.7,2411.8 L930.3,2411.5 L931.9,2411.1 L933.4,2410.7 L935,2410.3 L936.6,2410 L938.2,2409.6 L939.8,2409.2 L941.3,2408.8 L942.9,2408.4 L944.5,2408.1 L946.1,2407.7 L947.6,2407.3 L949.2,2406.9 L950.8,2406.5 L952.4,2406.1 L954,2405.7 L955.5,2405.3 L957.1,2404.9 L958.7,2404.5 L960.3,2404.1 L961.9,2403.7 L963.4,2403.3 L965,2402.9 L966.6,2402.5 L968.2,2402.1 L969.7,2401.7 L971.3,2401.3 L972.9,2400.9 L974.5,2400.5 L976.1,2400.1 L977.6,2399.7 L979.2,2399.3 L980.8,2398.9 L982.4,2398.5 L984,2398.1 L985.5,2397.7 L987.1,2397.2 L988.7,2396.8 L990.3,2396.4 L991.8,2396 L993.4,2395.6 L995,2395.2 L996.6,2394.7 L998.2,2394.3 L999.7,2393.9 L1001.3,2393.5 L1002.9,2393.1 L1004.5,2392.6 L1006.1,2392.2 L1007.6,2391.8 L1009.2,2391.3 L1010.8,2390.9 L1012.4,2390.5 L1013.9,2390 L1015.5,2389.6 L1017.1,2389.2 L1018.7,2388.7 L1020.3,2388.3 L1021.8,2387.9 L1023.4,2387.4 L1025,2387 L1026.6,2386.6 L1028.2,2386.2 L1029.7,2385.8 L1031.3,2385.3 L1032.9,2384.9 L1034.5,2384.5 L1036,2384.1 L1037.6,2383.7 L1039.2,2383.3 L1040.8,2382.9 L1042.4,2382.5 L1043.9,2382.1 L1045.5,2381.7 L1047.1,2381.4 L1048.7,2381 L1050.3,2380.6 L1051.8,2380.2 L1053.4,2379.8 L1055,2379.4 L1056.6,2379 L1058.1,2378.6 L1059.7,2378.2 L1061.3,2377.8 L1062.9,2377.5 L1064.5,2377.1 L1066,2376.7 L1067.6,2376.3 L1069.2,2375.9 L1070.8,2375.6 L1072.4,2375.2 L1073.9,2374.8 L1075.5,2374.4 L1077.1,2374.1 L1078.7,2373.7 L1080.2,2373.3 L1081.8,2372.9 L1083.4,2372.6 L1085,2372.2 L1086.6,2371.9 L1088.1,2371.5 L1089.7,2371.1 L1091.3,2370.8 L1092.9,2370.4 L1094.5,2370.1 L1096,2369.7 L1097.6,2369.4 L1099.2,2369 L1100.8,2368.7 L1102.3,2368.3 L1103.9,2368 L1105.5,2367.7 L1107.1,2367.3 L1108.7,2367 L1110.2,2366.6 L1111.8,2366.3 L1113.4,2366 L1115,2365.7 L1116.6,2365.3 L1118.1,2365 L1119.7,2364.7 L1121.3,2364.4 L1122.9,2364.1 L1124.4,2363.7 L1126,2363.4 L1127.6,2363.1 L1129.2,2362.8 L1130.8,2362.5 L1132.3,2362.2 L1133.9,2361.9 L1135.5,2361.6 L1137.1,2361.3 L1138.7,2360.9 L1140.2,2360.6 L1141.8,2360.3 L1143.4,2360 L1145,2359.7 L1146.5,2359.4 L1148.1,2359.1 L1149.7,2358.9 L1151.3,2358.6 L1152.9,2358.3 L1154.4,2358 L1156,2357.7 L1157.6,2357.4 L1159.2,2357.1 L1160.8,2356.8 L1162.3,2356.5 L1163.9,2356.2 L1165.5,2356 L1167.1,2355.7 L1168.6,2355.4 L1170.2,2355.1 L1171.8,2354.8 L1173.4,2354.5 L1175,2354.3 L1176.5,2354 L1178.1,2353.7 L1179.7,2353.4 L1181.3,2353.2 L1182.9,2352.9 L1184.4,2352.6 L1186,2352.3 L1187.6,2352 L1189.2,2351.8 L1190.7,2351.5 L1192.3,2351.2 L1193.9,2351 L1195.5,2350.7 L1197.1,2350.4 L1198.6,2350.1 L1200.2,2349.9 L1201.8,2349.6 L1203.4,2349.3 L1205,2349.1 L1206.5,2348.8 L1208.1,2348.5 L1209.7,2348.3 L1211.3,2348 L1212.8,2347.7 L1214.4,2347.5 L1216,2347.2 L1217.6,2346.9 L1219.2,2346.7 L1220.7,2346.4 L1222.3,2346.1 L1223.9,2345.9 L1225.5,2345.6 L1227.1,2345.4 L1228.6,2345.1 L1230.2,2344.8 L1231.8,2344.6 L1233.4,2344.3 L1234.9,2344.1 L1236.5,2343.8 L1238.1,2343.6 L1239.7,2343.3 L1241.3,2343.1 L1242.8,2342.8 L1244.4,2342.6 L1246,2342.3 L1247.6,2342.1 L1249.2,2341.8 L1250.7,2341.6 L1252.3,2341.3 L1253.9,2341.1 L1255.5,2340.8 L1257,2340.6 L1258.6,2340.3 L1260.2,2340.1 L1261.8,2339.8 L1263.4,2339.6 L1264.9,2339.3 L1266.5,2339.1 L1268.1,2338.9 L1269.7,2338.6 L1271.3,2338.4 L1272.8,2338.2 L1274.4,2337.9 L1276,2337.7 L1277.6,2337.4 L1279.1,2337.2 L1280.7,2337 L1282.3,2336.7 L1283.9,2336.5 L1285.5,2336.3 L1287,2336.1 L1288.6,2335.8 L1290.2,2335.6" fill="none" stroke="#D95319" stroke-width="5.5" stroke-linejoin="round"/><path d="M818.2,2421.9 L819.8,2421.9 L821.4,2421.9 L822.9,2421.8 L824.5,2421.8 L826.1,2421.7 L827.7,2421.7 L829.3,2421.6 L830.8,2421.5 L832.4,2421.4 L834,2421.2 L835.6,2421.1 L837.1,2421 L838.7,2420.8 L840.3,2420.7 L841.9,2420.3 L843.5,2419.8 L845,2419.2 L846.6,2418.4 L848.2,2417.6 L849.8,2416.8 L851.4,2415.9 L852.9,2415.2 L854.5,2414.6 L856.1,2414 L857.7,2413.5 L859.2,2413 L860.8,2412.6 L862.4,2412.1 L864,2411.6 L865.6,2411.2 L867.1,2410.8 L868.7,2410.4 L870.3,2410.1 L871.9,2409.8 L873.5,2409.5 L875,2409.3 L876.6,2409.1 L878.2,2408.9 L879.8,2408.7 L881.3,2408.5 L882.9,2408.3 L884.5,2408.2 L886.1,2408 L887.7,2407.9 L889.2,2407.8 L890.8,2407.7 L892.4,2407.6 L894,2407.5 L895.6,2407.5 L897.1,2407.4 L898.7,2407.4 L900.3,2407.3 L901.9,2407.3 L903.4,2407.2 L905,2407.2 L906.6,2407.1 L908.2,2407.1 L909.8,2407 L911.3,2407 L912.9,2407 L914.5,2407 L916.1,2406.9 L917.7,2406.9 L919.2,2406.9 L920.8,2406.9 L922.4,2406.9 L924,2406.9 L925.5,2406.9 L927.1,2406.9 L928.7,2406.9 L930.3,2406.9 L931.9,2406.9 L933.4,2406.9 L935,2406.9 L936.6,2406.9 L938.2,2406.9 L939.8,2406.9 L941.3,2406.9 L942.9,2406.9 L944.5,2406.9 L946.1,2406.9 L947.6,2406.9 L949.2,2406.9 L950.8,2406.9 L952.4,2406.9 L954,2406.9 L955.5,2406.9 L957.1,2406.9 L958.7,2406.9 L960.3,2406.9 L961.9,2406.9 L963.4,2406.9 L965,2406.9 L966.6,2406.9 L968.2,2406.9 L969.7,2406.9 L971.3,2406.9 L972.9,2406.9 L974.5,2406.9 L976.1,2406.9 L977.6,2406.9 L979.2,2406.9 L980.8,2406.9 L982.4,2406.9 L984,2406.9 L985.5,2406.9 L987.1,2406.9 L988.7,2406.9 L990.3,2406.9 L991.8,2406.9 L993.4,2406.9 L995,2406.9 L996.6,2406.9 L998.2,2406.9 L999.7,2406.9 L1001.3,2406.9 L1002.9,2406.9 L1004.5,2406.9 L1006.1,2406.9 L1007.6,2406.9 L1009.2,2406.9 L1010.8,2406.9 L1012.4,2406.9 L1013.9,2406.9 L1015.5,2407 L1017.1,2407 L1018.7,2407 L1020.3,2407 L1021.8,2407 L1023.4,2407 L1025,2407 L1026.6,2407 L1028.2,2407 L1029.7,2407.1 L1031.3,2407.1 L1032.9,2407.1 L1034.5,2407.1 L1036,2407.1 L1037.6,2407.1 L1039.2,2407.1 L1040.8,2407.2 L1042.4,2407.2 L1043.9,2407.2 L1045.5,2407.2 L1047.1,2407.2 L1048.7,2407.2 L1050.3,2407.3 L1051.8,2407.3 L1053.4,2407.3 L1055,2407.3 L1056.6,2407.3 L1058.1,2407.4 L1059.7,2407.4 L1061.3,2407.4 L1062.9,2407.4 L1064.5,2407.4 L1066,2407.5 L1067.6,2407.5 L1069.2,2407.5 L1070.8,2407.5 L1072.4,2407.5 L1073.9,2407.6 L1075.5,2407.6 L1077.1,2407.6 L1078.7,2407.6 L1080.2,2407.6 L1081.8,2407.7 L1083.4,2407.7 L1085,2407.7 L1086.6,2407.7 L1088.1,2407.7 L1089.7,2407.8 L1091.3,2407.8 L1092.9,2407.8 L1094.5,2407.8 L1096,2407.8 L1097.6,2407.9 L1099.2,2407.9 L1100.8,2407.9 L1102.3,2407.9 L1103.9,2407.9 L1105.5,2408 L1107.1,2408 L1108.7,2408 L1110.2,2408 L1111.8,2408 L1113.4,2408 L1115,2408.1 L1116.6,2408.1 L1118.1,2408.1 L1119.7,2408.1 L1121.3,2408.1 L1122.9,2408.1 L1124.4,2408.1 L1126,2408.2 L1127.6,2408.2 L1129.2,2408.2 L1130.8,2408.2 L1132.3,2408.2 L1133.9,2408.2 L1135.5,2408.3 L1137.1,2408.3 L1138.7,2408.3 L1140.2,2408.3 L1141.8,2408.3 L1143.4,2408.3 L1145,2408.4 L1146.5,2408.4 L1148.1,2408.4 L1149.7,2408.4 L1151.3,2408.4 L1152.9,2408.4 L1154.4,2408.5 L1156,2408.5 L1157.6,2408.5 L1159.2,2408.5 L1160.8,2408.5 L1162.3,2408.5 L1163.9,2408.6 L1165.5,2408.6 L1167.1,2408.6 L1168.6,2408.6 L1170.2,2408.6 L1171.8,2408.6 L1173.4,2408.7 L1175,2408.7 L1176.5,2408.7 L1178.1,2408.7 L1179.7,2408.7 L1181.3,2408.7 L1182.9,2408.7 L1184.4,2408.8 L1186,2408.8 L1187.6,2408.8 L1189.2,2408.8 L1190.7,2408.8 L1192.3,2408.8 L1193.9,2408.9 L1195.5,2408.9 L1197.1,2408.9 L1198.6,2408.9 L1200.2,2408.9 L1201.8,2408.9 L1203.4,2409 L1205,2409 L1206.5,2409 L1208.1,2409 L1209.7,2409 L1211.3,2409 L1212.8,2409.1 L1214.4,2409.1 L1216,2409.1 L1217.6,2409.1 L1219.2,2409.1 L1220.7,2409.1 L1222.3,2409.2 L1223.9,2409.2 L1225.5,2409.2 L1227.1,2409.2 L1228.6,2409.2 L1230.2,2409.2 L1231.8,2409.3 L1233.4,2409.3 L1234.9,2409.3 L1236.5,2409.3 L1238.1,2409.3 L1239.7,2409.4 L1241.3,2409.4 L1242.8,2409.4 L1244.4,2409.4 L1246,2409.4 L1247.6,2409.4 L1249.2,2409.5 L1250.7,2409.5 L1252.3,2409.5 L1253.9,2409.5 L1255.5,2409.5 L1257,2409.5 L1258.6,2409.6 L1260.2,2409.6 L1261.8,2409.6 L1263.4,2409.6 L1264.9,2409.6 L1266.5,2409.6 L1268.1,2409.7 L1269.7,2409.7 L1271.3,2409.7 L1272.8,2409.7 L1274.4,2409.7 L1276,2409.7 L1277.6,2409.8 L1279.1,2409.8 L1280.7,2409.8 L1282.3,2409.8 L1283.9,2409.8 L1285.5,2409.8 L1287,2409.9 L1288.6,2409.9 L1290.2,2409.9" fill="none" stroke="#EDB120" stroke-width="5.5" stroke-linejoin="round"/><path d="M818.2,2421.9 L819.8,2421.9 L821.4,2421.9 L822.9,2421.9 L824.5,2421.9 L826.1,2421.9 L827.7,2421.8 L829.3,2421.8 L830.8,2421.8 L832.4,2421.8 L834,2421.8 L835.6,2421.7 L837.1,2421.7 L838.7,2421.7 L840.3,2421.6 L841.9,2421.6 L843.5,2421.6 L845,2421.5 L846.6,2421.5 L848.2,2421.4 L849.8,2421.4 L851.4,2421.3 L852.9,2421.3 L854.5,2421.2 L856.1,2421.2 L857.7,2421.1 L859.2,2421.1 L860.8,2421 L862.4,2420.9 L864,2420.7 L865.6,2420.6 L867.1,2420.4 L868.7,2420.2 L870.3,2420 L871.9,2419.8 L873.5,2419.6 L875,2419.4 L876.6,2419.1 L878.2,2418.9 L879.8,2418.7 L881.3,2418.5 L882.9,2418.3 L884.5,2418.1 L886.1,2418 L887.7,2417.8 L889.2,2417.7 L890.8,2417.5 L892.4,2417.3 L894,2417.1 L895.6,2417 L897.1,2416.8 L898.7,2416.6 L900.3,2416.5 L901.9,2416.4 L903.4,2416.3 L905,2416.2 L906.6,2416.2 L908.2,2416.2 L909.8,2416.2 L911.3,2416.2 L912.9,2416.3 L914.5,2416.3 L916.1,2416.4 L917.7,2416.4 L919.2,2416.5 L920.8,2416.6 L922.4,2416.6 L924,2416.7 L925.5,2416.8 L927.1,2416.9 L928.7,2416.9 L930.3,2417 L931.9,2417.1 L933.4,2417.2 L935,2417.2 L936.6,2417.3 L938.2,2417.4 L939.8,2417.5 L941.3,2417.6 L942.9,2417.7 L944.5,2417.8 L946.1,2417.9 L947.6,2418 L949.2,2418.1 L950.8,2418.1 L952.4,2418.2 L954,2418.3 L955.5,2418.4 L957.1,2418.4 L958.7,2418.5 L960.3,2418.5 L961.9,2418.5 L963.4,2418.6 L965,2418.6 L966.6,2418.7 L968.2,2418.7 L969.7,2418.7 L971.3,2418.8 L972.9,2418.8 L974.5,2418.8 L976.1,2418.9 L977.6,2418.9 L979.2,2418.9 L980.8,2419 L982.4,2419 L984,2419 L985.5,2419 L987.1,2419.1 L988.7,2419.1 L990.3,2419.1 L991.8,2419.2 L993.4,2419.2 L995,2419.2 L996.6,2419.2 L998.2,2419.3 L999.7,2419.3 L1001.3,2419.3 L1002.9,2419.3 L1004.5,2419.3 L1006.1,2419.4 L1007.6,2419.4 L1009.2,2419.4 L1010.8,2419.4 L1012.4,2419.4 L1013.9,2419.5 L1015.5,2419.5 L1017.1,2419.5 L1018.7,2419.5 L1020.3,2419.5 L1021.8,2419.5 L1023.4,2419.5 L1025,2419.6 L1026.6,2419.6 L1028.2,2419.6 L1029.7,2419.6 L1031.3,2419.6 L1032.9,2419.6 L1034.5,2419.6 L1036,2419.6 L1037.6,2419.6 L1039.2,2419.6 L1040.8,2419.6 L1042.4,2419.6 L1043.9,2419.6 L1045.5,2419.6 L1047.1,2419.6 L1048.7,2419.6 L1050.3,2419.6 L1051.8,2419.7 L1053.4,2419.7 L1055,2419.7 L1056.6,2419.7 L1058.1,2419.7 L1059.7,2419.7 L1061.3,2419.7 L1062.9,2419.7 L1064.5,2419.7 L1066,2419.7 L1067.6,2419.7 L1069.2,2419.7 L1070.8,2419.7 L1072.4,2419.7 L1073.9,2419.7 L1075.5,2419.7 L1077.1,2419.7 L1078.7,2419.7 L1080.2,2419.7 L1081.8,2419.7 L1083.4,2419.7 L1085,2419.7 L1086.6,2419.8 L1088.1,2419.8 L1089.7,2419.8 L1091.3,2419.8 L1092.9,2419.8 L1094.5,2419.8 L1096,2419.8 L1097.6,2419.8 L1099.2,2419.8 L1100.8,2419.8 L1102.3,2419.8 L1103.9,2419.8 L1105.5,2419.8 L1107.1,2419.8 L1108.7,2419.8 L1110.2,2419.8 L1111.8,2419.8 L1113.4,2419.8 L1115,2419.8 L1116.6,2419.8 L1118.1,2419.8 L1119.7,2419.8 L1121.3,2419.8 L1122.9,2419.8 L1124.4,2419.8 L1126,2419.8 L1127.6,2419.8 L1129.2,2419.8 L1130.8,2419.9 L1132.3,2419.9 L1133.9,2419.9 L1135.5,2419.9 L1137.1,2419.9 L1138.7,2419.9 L1140.2,2419.9 L1141.8,2419.9 L1143.4,2419.9 L1145,2419.9 L1146.5,2419.9 L1148.1,2419.9 L1149.7,2419.9 L1151.3,2419.9 L1152.9,2419.9 L1154.4,2419.9 L1156,2419.9 L1157.6,2419.9 L1159.2,2419.9 L1160.8,2419.9 L1162.3,2419.9 L1163.9,2419.9 L1165.5,2419.9 L1167.1,2419.9 L1168.6,2419.9 L1170.2,2419.9 L1171.8,2419.9 L1173.4,2419.9 L1175,2419.9 L1176.5,2419.9 L1178.1,2419.9 L1179.7,2419.9 L1181.3,2419.9 L1182.9,2419.9 L1184.4,2419.9 L1186,2419.9 L1187.6,2419.9 L1189.2,2419.9 L1190.7,2419.9 L1192.3,2419.9 L1193.9,2419.9 L1195.5,2419.9 L1197.1,2420 L1198.6,2420 L1200.2,2420 L1201.8,2420 L1203.4,2420 L1205,2420 L1206.5,2420 L1208.1,2420 L1209.7,2420 L1211.3,2420 L1212.8,2420 L1214.4,2420 L1216,2420 L1217.6,2420 L1219.2,2420 L1220.7,2420 L1222.3,2420 L1223.9,2420 L1225.5,2420 L1227.1,2420 L1228.6,2420 L1230.2,2420 L1231.8,2420 L1233.4,2420 L1234.9,2420 L1236.5,2420 L1238.1,2420 L1239.7,2420 L1241.3,2420 L1242.8,2420 L1244.4,2420 L1246,2420 L1247.6,2420 L1249.2,2420 L1250.7,2420 L1252.3,2420 L1253.9,2420 L1255.5,2420 L1257,2420 L1258.6,2420 L1260.2,2420 L1261.8,2420 L1263.4,2420 L1264.9,2420 L1266.5,2420 L1268.1,2420 L1269.7,2420 L1271.3,2420 L1272.8,2420 L1274.4,2420 L1276,2420 L1277.6,2420 L1279.1,2420 L1280.7,2420 L1282.3,2420 L1283.9,2420 L1285.5,2420 L1287,2420 L1288.6,2420 L1290.2,2420" fill="none" stroke="#7E2F8E" stroke-width="5.5" stroke-linejoin="round"/><text x="1054.2" y="2489.5" font-family="'Liberation Sans', sans-serif" font-size="29.4" text-anchor="middle" fill="#000">Time after cyt c release [min]</text><text transform="translate(738,2255.2) rotate(-90)" font-family="'Liberation Sans', sans-serif" font-size="30.4" text-anchor="middle">Protein level [<tspan font-family="'Liberation Serif', serif" font-style="italic">μ</tspan>M]</text><rect x="829.7" y="2206" width="199.1" height="98.9" fill="#fff" stroke="#8a8a8a" stroke-width="1"/><line x1="834.1" y1="2220.3" x2="866.9" y2="2220.3" stroke="#0072BD" stroke-width="6"/><text x="868.7" y="2227.4" font-family="'Liberation Sans', sans-serif" font-size="19.9" text-anchor="start" fill="#000">cytosolic PC9</text><line x1="834.1" y1="2244.1" x2="866.9" y2="2244.1" stroke="#D95319" stroke-width="6"/><text x="868.7" y="2251.2" font-family="'Liberation Sans', sans-serif" font-size="19.9" text-anchor="start" fill="#000">cytosolic C9</text><line x1="834.1" y1="2267.9" x2="866.9" y2="2267.9" stroke="#EDB120" stroke-width="6"/><text x="868.7" y="2275" font-family="'Liberation Sans', sans-serif" font-size="19.9" text-anchor="start" fill="#000">Apoptosome PC9</text><line x1="834.1" y1="2291.7" x2="866.9" y2="2291.7" stroke="#7E2F8E" stroke-width="6"/><text x="868.7" y="2298.8" font-family="'Liberation Sans', sans-serif" font-size="19.9" text-anchor="start" fill="#000">Apoptosome C9</text><line x1="168.8" y1="1868.3" x2="168.8" y2="1657.6" stroke="#e3e3e3" stroke-width="1"/><line x1="213.3" y1="1854.8" x2="213.3" y2="1644.1" stroke="#e3e3e3" stroke-width="1"/><line x1="257.7" y1="1841.2" x2="257.7" y2="1630.5" stroke="#e3e3e3" stroke-width="1"/><line x1="302.2" y1="1827.7" x2="302.2" y2="1617.0" stroke="#e3e3e3" stroke-width="1"/><line x1="346.7" y1="1814.2" x2="346.7" y2="1603.5" stroke="#e3e3e3" stroke-width="1"/><line x1="124.3" y1="1839.7" x2="346.7" y2="1772.1" stroke="#e3e3e3" stroke-width="1"/><line x1="124.3" y1="1797.5" x2="346.7" y2="1729.9" stroke="#e3e3e3" stroke-width="1"/><line x1="124.3" y1="1755.4" x2="346.7" y2="1687.8" stroke="#e3e3e3" stroke-width="1"/><line x1="124.3" y1="1713.2" x2="346.7" y2="1645.6" stroke="#e3e3e3" stroke-width="1"/><line x1="124.3" y1="1671.1" x2="346.7" y2="1603.5" stroke="#e3e3e3" stroke-width="1"/><line x1="402.4" y1="1831.6" x2="402.4" y2="1620.9" stroke="#e3e3e3" stroke-width="1"/><line x1="458.2" y1="1849.0" x2="458.2" y2="1638.3" stroke="#e3e3e3" stroke-width="1"/><line x1="513.9" y1="1866.5" x2="513.9" y2="1655.8" stroke="#e3e3e3" stroke-width="1"/><line x1="569.6" y1="1883.9" x2="569.6" y2="1673.2" stroke="#e3e3e3" stroke-width="1"/><line x1="346.7" y1="1772.1" x2="569.6" y2="1841.8" stroke="#e3e3e3" stroke-width="1"/><line x1="346.7" y1="1729.9" x2="569.6" y2="1799.6" stroke="#e3e3e3" stroke-width="1"/><line x1="346.7" y1="1687.8" x2="569.6" y2="1757.5" stroke="#e3e3e3" stroke-width="1"/><line x1="346.7" y1="1645.6" x2="569.6" y2="1715.3" stroke="#e3e3e3" stroke-width="1"/><line x1="346.7" y1="1603.5" x2="569.6" y2="1673.2" stroke="#e3e3e3" stroke-width="1"/><line x1="180.0" y1="1899.2" x2="402.4" y2="1831.6" stroke="#e3e3e3" stroke-width="1"/><line x1="235.8" y1="1916.6" x2="458.2" y2="1849.0" stroke="#e3e3e3" stroke-width="1"/><line x1="291.5" y1="1934.1" x2="513.9" y2="1866.5" stroke="#e3e3e3" stroke-width="1"/><line x1="168.8" y1="1868.3" x2="391.7" y2="1938.0" stroke="#e3e3e3" stroke-width="1"/><line x1="213.3" y1="1854.8" x2="436.2" y2="1924.5" stroke="#e3e3e3" stroke-width="1"/><line x1="257.7" y1="1841.2" x2="480.6" y2="1910.9" stroke="#e3e3e3" stroke-width="1"/><line x1="302.2" y1="1827.7" x2="525.1" y2="1897.4" stroke="#e3e3e3" stroke-width="1"/><line x1="346.7" y1="1814.2" x2="569.6" y2="1883.9" stroke="#e3e3e3" stroke-width="1"/><line x1="124.3" y1="1881.8" x2="346.7" y2="1814.2" stroke="#e3e3e3" stroke-width="1"/><line x1="124.3" y1="1881.8" x2="124.3" y2="1671.1" stroke="#8a8a8a" stroke-width="1"/><line x1="124.3" y1="1881.8" x2="347.2" y2="1951.5" stroke="#8a8a8a" stroke-width="1"/><line x1="347.2" y1="1951.5" x2="569.6" y2="1883.9" stroke="#8a8a8a" stroke-width="1"/><line x1="124.3" y1="1881.8" x2="119.3" y2="1880.3" stroke="#8a8a8a" stroke-width="1"/><text x="110.6" y="1890.7" font-family="'Liberation Sans', sans-serif" font-size="25.3" text-anchor="end" fill="#000">0</text><line x1="124.3" y1="1839.7" x2="119.3" y2="1838.2" stroke="#8a8a8a" stroke-width="1"/><text x="110.6" y="1848.6" font-family="'Liberation Sans', sans-serif" font-size="25.3" text-anchor="end" fill="#000">20</text><line x1="124.3" y1="1797.5" x2="119.3" y2="1796.0" stroke="#8a8a8a" stroke-width="1"/><text x="110.6" y="1806.4" font-family="'Liberation Sans', sans-serif" font-size="25.3" text-anchor="end" fill="#000">40</text><line x1="124.3" y1="1755.4" x2="119.3" y2="1753.9" stroke="#8a8a8a" stroke-width="1"/><text x="110.6" y="1764.3" font-family="'Liberation Sans', sans-serif" font-size="25.3" text-anchor="end" fill="#000">60</text><line x1="124.3" y1="1713.2" x2="119.3" y2="1711.7" stroke="#8a8a8a" stroke-width="1"/><text x="110.6" y="1722.1" font-family="'Liberation Sans', sans-serif" font-size="25.3" text-anchor="end" fill="#000">80</text><line x1="124.3" y1="1671.1" x2="119.3" y2="1669.6" stroke="#8a8a8a" stroke-width="1"/><text x="110.6" y="1680" font-family="'Liberation Sans', sans-serif" font-size="25.3" text-anchor="end" fill="#000">100</text><line x1="124.3" y1="1881.8" x2="128.6" y2="1880.5" stroke="#8a8a8a" stroke-width="1"/><line x1="180.0" y1="1899.2" x2="184.3" y2="1897.9" stroke="#8a8a8a" stroke-width="1"/><line x1="235.8" y1="1916.6" x2="240.1" y2="1915.3" stroke="#8a8a8a" stroke-width="1"/><line x1="291.5" y1="1934.1" x2="295.8" y2="1932.8" stroke="#8a8a8a" stroke-width="1"/><line x1="347.2" y1="1951.5" x2="351.5" y2="1950.2" stroke="#8a8a8a" stroke-width="1"/><text x="111.7" y="1910.7" font-family="'Liberation Sans', sans-serif" font-size="25.3" text-anchor="end" fill="#000">0</text><text x="165.1" y="1928.1" font-family="'Liberation Sans', sans-serif" font-size="25.3" text-anchor="end" fill="#000">0.1</text><text x="222.8" y="1945" font-family="'Liberation Sans', sans-serif" font-size="25.3" text-anchor="end" fill="#000">0.2</text><text x="278.2" y="1962.7" font-family="'Liberation Sans', sans-serif" font-size="25.3" text-anchor="end" fill="#000">0.3</text><text x="334.2" y="1980.3" font-family="'Liberation Sans', sans-serif" font-size="25.3" text-anchor="end" fill="#000">0.4</text><line x1="347.2" y1="1951.5" x2="342.9" y2="1950.2" stroke="#8a8a8a" stroke-width="1"/><text x="358.8" y="1979.4" font-family="'Liberation Sans', sans-serif" font-size="25.3" text-anchor="start" fill="#000">0</text><line x1="391.7" y1="1938.0" x2="387.4" y2="1936.7" stroke="#8a8a8a" stroke-width="1"/><text x="403.3" y="1965.9" font-family="'Liberation Sans', sans-serif" font-size="25.3" text-anchor="start" fill="#000">60</text><line x1="436.2" y1="1924.5" x2="431.9" y2="1923.2" stroke="#8a8a8a" stroke-width="1"/><text x="447.8" y="1952.4" font-family="'Liberation Sans', sans-serif" font-size="25.3" text-anchor="start" fill="#000">120</text><line x1="480.6" y1="1910.9" x2="476.3" y2="1909.6" stroke="#8a8a8a" stroke-width="1"/><text x="492.2" y="1938.8" font-family="'Liberation Sans', sans-serif" font-size="25.3" text-anchor="start" fill="#000">180</text><line x1="525.1" y1="1897.4" x2="520.8" y2="1896.1" stroke="#8a8a8a" stroke-width="1"/><text x="536.7" y="1925.3" font-family="'Liberation Sans', sans-serif" font-size="25.3" text-anchor="start" fill="#000">240</text><line x1="569.6" y1="1883.9" x2="565.3" y2="1882.6" stroke="#8a8a8a" stroke-width="1"/><text x="581.2" y="1911.8" font-family="'Liberation Sans', sans-serif" font-size="25.3" text-anchor="start" fill="#000">300</text><text x="553.5" y="1997.4" font-family="'Liberation Sans', sans-serif" font-size="27.2" text-anchor="middle" fill="#000">Time (mins)</text><text x="235.6" y="2008.5" font-family="'Liberation Sans', sans-serif" font-size="28.4" text-anchor="middle">XIAP concentration (<tspan font-family="'Liberation Serif', serif" font-style="italic">μ</tspan>M)</text><text transform="translate(58.5,1776.9) rotate(-90)" font-family="'Liberation Sans', sans-serif" font-size="28.1" text-anchor="middle">Cleaved Caspase 3 (%)</text><g stroke="#000" stroke-width="0.45" stroke-linejoin="round"><path fill="#006dff" d="M364.5 1785.0l5.6 14.9l4.5 .8l-5.6 -12.7z"/><path fill="#001aff" d="M370.1 1799.9l5.6 6.1l4.4 -.1l-5.5 -5.2z"/><path fill="#0000fd" d="M375.7 1806.0l5.6 3.2l4.4 -.4l-5.6 -2.9z"/><path fill="#0029ff" d="M365.7 1798.8l5.5 7.2l4.5 0l-5.6 -6.1z"/><path fill="#008dff" d="M360.1 1781.2l5.6 17.6l4.4 1.1l-5.6 -14.9z"/><path fill="#27ffd8" d="M359.0 1753.8l5.5 31.2l4.5 3l-5.6 -28.7z"/><path fill="#0000f4" d="M381.3 1809.2l5.5 2.3l4.5 -.5l-5.6 -2.2z"/><path fill="#0007ff" d="M371.2 1806.0l5.6 3.6l4.5 -.4l-5.6 -3.2z"/><path fill="#003cff" d="M361.2 1797.1l5.6 8.7l4.4 .2l-5.5 -7.2z"/><path fill="#0000fa" d="M376.8 1809.6l5.6 2.4l4.4 -.5l-5.5 -2.3z"/><path fill="#0000f1" d="M386.8 1811.5l5.6 2.1l4.5 -.6l-5.6 -2z"/><path fill="#00b2ff" d="M355.6 1776.7l5.6 20.4l4.5 1.7l-5.6 -17.6z"/><path fill="#0010ff" d="M366.8 1805.8l5.6 4.1l4.4 -.3l-5.6 -3.6z"/><path fill="#55ffaa" d="M354.5 1747.8l5.6 33.4l4.4 3.8l-5.5 -31.2z"/><path fill="#0053ff" d="M356.8 1794.9l5.5 10.5l4.5 .4l-5.6 -8.7z"/><path fill="#0002ff" d="M372.4 1809.9l5.5 2.6l4.5 -.5l-5.6 -2.4z"/><path fill="#0000f6" d="M382.4 1812.0l5.6 2.1l4.4 -.5l-5.6 -2.1z"/><path fill="#0000ee" d="M392.4 1813.6l5.6 2l4.4 -.6l-5.5 -2z"/><path fill="#001cff" d="M362.3 1805.4l5.6 4.7l4.5 -.2l-5.6 -4.1z"/><path fill="#00dcff" d="M351.2 1771.4l5.6 23.5l4.4 2.2l-5.6 -20.4z"/><path fill="#0009ff" d="M367.9 1810.1l5.6 2.9l4.4 -.5l-5.5 -2.6z"/><path fill="#0000fb" d="M377.9 1812.5l5.6 2.2l4.5 -.6l-5.6 -2.1z"/><path fill="#006eff" d="M352.3 1792.0l5.6 12.7l4.4 .7l-5.5 -10.5z"/><path fill="#0000f3" d="M388.0 1814.1l5.5 2.1l4.5 -.6l-5.6 -2z"/><path fill="#fffa00" d="M353.4 1716.8l5.6 37l4.4 5.5l-5.6 -38.1z"/><path fill="#0000ed" d="M398.0 1815.6l5.5 2l4.5 -.6l-5.6 -2z"/><path fill="#0029ff" d="M357.9 1804.7l5.6 5.6l4.4 -.2l-5.6 -4.7z"/><path fill="#85ff7a" d="M350.1 1741.5l5.5 35.2l4.5 4.5l-5.6 -33.4z"/><path fill="#0002ff" d="M373.5 1813.0l5.6 2.2l4.4 -.5l-5.6 -2.2z"/><path fill="#0010ff" d="M363.5 1810.3l5.5 3.1l4.5 -.4l-5.6 -2.9z"/><path fill="#0000f9" d="M383.5 1814.7l5.6 2l4.4 -.5l-5.5 -2.1z"/><path fill="#0000f2" d="M393.5 1816.2l5.6 2l4.4 -.6l-5.5 -2z"/><path fill="#0000eb" d="M403.5 1817.6l5.6 2l4.5 -.6l-5.6 -2z"/><path fill="#0cfff3" d="M346.8 1765.2l5.5 26.8l4.5 2.9l-5.6 -23.5z"/><path fill="#0039ff" d="M353.4 1803.5l5.6 6.7l4.5 .1l-5.6 -5.6z"/><path fill="#008dff" d="M347.9 1788.2l5.5 15.3l4.5 1.2l-5.6 -12.7z"/><path fill="#ffd700" d="M348.9 1712.6l5.6 35.2l4.5 6l-5.6 -37z"/><path fill="#0008ff" d="M369.0 1813.4l5.6 2.3l4.5 -.5l-5.6 -2.2z"/><path fill="#0000fe" d="M379.1 1815.2l5.5 2.1l4.5 -.6l-5.6 -2z"/><path fill="#0019ff" d="M359.0 1810.2l5.6 3.6l4.4 -.4l-5.5 -3.1z"/><path fill="#0000f7" d="M389.1 1816.7l5.6 2.1l4.4 -.6l-5.6 -2z"/><path fill="#b6ff49" d="M345.6 1735.0l5.6 36.4l4.4 5.3l-5.5 -35.2z"/><path fill="#0000f0" d="M399.1 1818.2l5.6 2l4.4 -.6l-5.6 -2z"/><path fill="#0000ea" d="M409.1 1819.6l5.6 2l4.4 -.6l-5.5 -2z"/><path fill="#004cff" d="M349.0 1801.8l5.6 8.2l4.4 .2l-5.6 -6.7z"/><path fill="#00b3ff" d="M343.4 1783.6l5.6 18.2l4.4 1.7l-5.5 -15.3z"/><path fill="#ff7900" d="M347.8 1694.6l5.6 22.2l4.4 4.4l-5.5 -24.8z"/><path fill="#3fffc0" d="M342.3 1758.5l5.6 29.7l4.4 3.8l-5.5 -26.8z"/><path fill="#000eff" d="M364.6 1813.8l5.6 2.5l4.4 -.6l-5.6 -2.3z"/><path fill="#0004ff" d="M374.6 1815.7l5.6 2.2l4.4 -.6l-5.5 -2.1z"/><path fill="#0000fb" d="M384.6 1817.3l5.6 2.1l4.5 -.6l-5.6 -2.1z"/><path fill="#0023ff" d="M354.6 1810.0l5.5 4.1l4.5 -.3l-5.6 -3.6z"/><path fill="#0000f5" d="M394.7 1818.8l5.5 2l4.5 -.6l-5.6 -2z"/><path fill="#0000ee" d="M404.7 1820.2l5.5 2l4.5 -.6l-5.6 -2z"/><path fill="#0000e8" d="M414.7 1821.6l5.6 2l4.4 -.6l-5.6 -2z"/><path fill="#ffb500" d="M344.5 1708.6l5.6 32.9l4.4 6.3l-5.6 -35.2z"/><path fill="#0062ff" d="M344.6 1799.5l5.5 10l4.5 .5l-5.6 -8.2z"/><path fill="#ff4b00" d="M342.3 1685.5l5.5 9.1l4.5 1.8l-5.6 -10.3z"/><path fill="#0015ff" d="M360.1 1814.1l5.6 2.6l4.5 -.4l-5.6 -2.5z"/><path fill="#e6ff19" d="M341.2 1728.7l5.6 36.5l4.4 6.2l-5.6 -36.4z"/><path fill="#0009ff" d="M370.2 1816.3l5.5 2.1l4.5 -.5l-5.6 -2.2z"/><path fill="#0001ff" d="M380.2 1817.9l5.6 2l4.4 -.5l-5.6 -2.1z"/><path fill="#0000fa" d="M390.2 1819.4l5.6 2l4.4 -.6l-5.5 -2z"/><path fill="#002fff" d="M350.1 1809.5l5.6 4.8l4.4 -.2l-5.5 -4.1z"/><path fill="#0000f3" d="M400.2 1820.8l5.6 2l4.4 -.6l-5.5 -2z"/><path fill="#0000ed" d="M410.2 1822.2l5.6 2l4.5 -.6l-5.6 -2z"/><path fill="#ff6700" d="M343.4 1693.0l5.5 19.6l4.5 4.2l-5.6 -22.2z"/><path fill="#0000e6" d="M420.3 1823.6l5.5 2l4.5 -.7l-5.6 -1.9z"/><path fill="#00deff" d="M339.0 1778.1l5.6 21.4l4.4 2.3l-5.6 -18.2z"/><path fill="#74ff8b" d="M337.9 1751.3l5.5 32.3l4.5 4.6l-5.6 -29.7z"/><path fill="#ff3f00" d="M337.8 1685.0l5.6 8l4.4 1.6l-5.5 -9.1z"/><path fill="#000fff" d="M365.7 1816.7l5.6 2.3l4.4 -.6l-5.5 -2.1z"/><path fill="#001cff" d="M355.7 1814.3l5.6 2.9l4.4 -.5l-5.6 -2.6z"/><path fill="#007eff" d="M340.1 1796.4l5.6 12.2l4.4 .9l-5.5 -10z"/><path fill="#0006ff" d="M375.7 1818.4l5.6 2.1l4.5 -.6l-5.6 -2z"/><path fill="#0000fe" d="M385.8 1819.9l5.5 2.1l4.5 -.6l-5.6 -2z"/><path fill="#0000f8" d="M395.8 1821.4l5.6 2l4.4 -.6l-5.6 -2z"/><path fill="#0000f1" d="M405.8 1822.8l5.6 2l4.4 -.6l-5.6 -2z"/><path fill="#003dff" d="M345.7 1808.6l5.5 5.7l4.5 0l-5.6 -4.8z"/><path fill="#ff9600" d="M340.1 1705.0l5.5 30l4.5 6.5l-5.6 -32.9z"/><path fill="#0000eb" d="M415.8 1824.2l5.6 2l4.4 -.6l-5.5 -2z"/><path fill="#0000e5" d="M425.8 1825.6l5.6 2l4.5 -.7l-5.6 -2z"/><path fill="#ff5500" d="M338.9 1691.6l5.6 17l4.4 4l-5.5 -19.6z"/><path fill="#ffea00" d="M336.7 1722.7l5.6 35.8l4.5 6.7l-5.6 -36.5z"/><path fill="#0014ff" d="M361.3 1817.2l5.5 2.3l4.5 -.5l-5.6 -2.3z"/><path fill="#11ffee" d="M334.5 1771.6l5.6 24.8l4.5 3.1l-5.6 -21.4z"/><path fill="#0024ff" d="M351.2 1814.3l5.6 3.3l4.5 -.4l-5.6 -2.9z"/><path fill="#000bff" d="M371.3 1819.0l5.6 2.1l4.4 -.6l-5.6 -2.1z"/><path fill="#0004ff" d="M381.3 1820.5l5.6 2.1l4.4 -.6l-5.5 -2.1z"/><path fill="#0000fd" d="M391.3 1822.0l5.6 2l4.5 -.6l-5.6 -2z"/><path fill="#ff3400" d="M333.4 1684.5l5.5 7.1l4.5 1.4l-5.6 -8z"/><path fill="#0000f6" d="M401.4 1823.4l5.5 2l4.5 -.6l-5.6 -2z"/><path fill="#0000f0" d="M411.4 1824.8l5.5 2l4.5 -.6l-5.6 -2z"/><path fill="#0000e9" d="M421.4 1826.2l5.6 2l4.4 -.6l-5.6 -2z"/><path fill="#004eff" d="M341.2 1807.2l5.6 7l4.4 .1l-5.5 -5.7z"/><path fill="#00a1ff" d="M335.7 1792.2l5.5 15l4.5 1.4l-5.6 -12.2z"/><path fill="#0000e3" d="M431.4 1827.6l5.6 1.9l4.4 -.6l-5.5 -2z"/><path fill="#abff54" d="M333.4 1743.9l5.6 34.2l4.4 5.5l-5.5 -32.3z"/><path fill="#001aff" d="M356.8 1817.6l5.6 2.5l4.4 -.6l-5.5 -2.3z"/><path fill="#0011ff" d="M366.8 1819.5l5.6 2.2l4.5 -.6l-5.6 -2.1z"/><path fill="#ff7a00" d="M335.6 1701.8l5.6 26.9l4.4 6.3l-5.5 -30z"/><path fill="#002dff" d="M346.8 1814.2l5.6 3.7l4.4 -.3l-5.6 -3.3z"/><path fill="#0009ff" d="M376.9 1821.1l5.5 2.1l4.5 -.6l-5.6 -2.1z"/><path fill="#0002ff" d="M386.9 1822.6l5.6 2l4.4 -.6l-5.6 -2z"/><path fill="#ff4400" d="M334.5 1690.3l5.6 14.7l4.4 3.6l-5.6 -17z"/><path fill="#0000fb" d="M396.9 1824.0l5.6 2.1l4.4 -.7l-5.5 -2z"/><path fill="#0000f4" d="M406.9 1825.4l5.6 2.1l4.4 -.7l-5.5 -2z"/><path fill="#ff2900" d="M328.9 1684.1l5.6 6.2l4.4 1.3l-5.5 -7.1z"/><path fill="#0000ee" d="M416.9 1826.8l5.6 2l4.5 -.6l-5.6 -2z"/><path fill="#0000e8" d="M427.0 1828.2l5.5 2l4.5 -.7l-5.6 -1.9z"/><path fill="#0000e2" d="M437.0 1829.5l5.6 2l4.4 -.6l-5.6 -2z"/><path fill="#0064ff" d="M336.8 1805.1l5.6 8.6l4.4 .5l-5.6 -7z"/><path fill="#49ffb6" d="M330.1 1763.9l5.6 28.3l4.4 4.2l-5.6 -24.8z"/><path fill="#ffbe00" d="M332.3 1717.2l5.6 34.1l4.4 7.2l-5.6 -35.8z"/><path fill="#00cdff" d="M331.2 1786.7l5.6 18.4l4.4 2.1l-5.5 -15z"/><path fill="#0021ff" d="M352.4 1817.9l5.5 2.7l4.5 -.5l-5.6 -2.5z"/><path fill="#0016ff" d="M362.4 1820.1l5.6 2.2l4.4 -.6l-5.6 -2.2z"/><path fill="#000eff" d="M372.4 1821.7l5.6 2.1l4.4 -.6l-5.5 -2.1z"/><path fill="#0007ff" d="M382.4 1823.2l5.6 2l4.5 -.6l-5.6 -2z"/><path fill="#0039ff" d="M342.4 1813.7l5.5 4.4l4.5 -.2l-5.6 -3.7z"/><path fill="#0000ff" d="M392.5 1824.6l5.5 2.1l4.5 -.6l-5.6 -2.1z"/><path fill="#0000f9" d="M402.5 1826.1l5.5 2l4.5 -.6l-5.6 -2.1z"/><path fill="#0000f2" d="M412.5 1827.5l5.6 2l4.4 -.7l-5.6 -2z"/><path fill="#0000ec" d="M422.5 1828.8l5.6 2.1l4.4 -.7l-5.5 -2z"/><path fill="#0000e6" d="M432.5 1830.2l5.6 2l4.5 -.7l-5.6 -2z"/><path fill="#ff1e00" d="M324.5 1683.8l5.5 5.4l4.5 1.1l-5.6 -6.2z"/><path fill="#ff3500" d="M330.0 1689.2l5.6 12.6l4.5 3.2l-5.6 -14.7z"/><path fill="#e3ff1c" d="M329.0 1736.5l5.5 35.1l4.5 6.5l-5.6 -34.2z"/><path fill="#0000e0" d="M442.6 1831.5l5.5 2l4.5 -.7l-5.6 -1.9z"/><path fill="#ff5f00" d="M331.2 1699.0l5.5 23.7l4.5 6l-5.6 -26.9z"/><path fill="#0080ff" d="M332.3 1802.0l5.6 10.9l4.5 .8l-5.6 -8.6z"/><path fill="#001bff" d="M357.9 1820.6l5.6 2.2l4.5 -.5l-5.6 -2.2z"/><path fill="#0028ff" d="M347.9 1818.1l5.6 2.9l4.4 -.4l-5.5 -2.7z"/><path fill="#0013ff" d="M368.0 1822.3l5.5 2.1l4.5 -.6l-5.6 -2.1z"/><path fill="#000cff" d="M378.0 1823.8l5.6 2.1l4.4 -.7l-5.6 -2z"/><path fill="#0005ff" d="M388.0 1825.2l5.6 2.1l4.4 -.6l-5.5 -2.1z"/><path fill="#0047ff" d="M337.9 1812.9l5.6 5.3l4.4 -.1l-5.5 -4.4z"/><path fill="#0000fd" d="M398.0 1826.7l5.6 2l4.4 -.6l-5.5 -2z"/><path fill="#0000f7" d="M408.0 1828.1l5.6 2l4.5 -.6l-5.6 -2z"/><path fill="#0000f1" d="M418.1 1829.5l5.5 2l4.5 -.6l-5.6 -2.1z"/><path fill="#0000eb" d="M428.1 1830.9l5.6 2l4.4 -.7l-5.6 -2z"/><path fill="#0000e5" d="M438.1 1832.2l5.6 2l4.4 -.7l-5.5 -2z"/><path fill="#01fffe" d="M326.8 1779.9l5.5 22.1l4.5 3.1l-5.6 -18.4z"/><path fill="#0000df" d="M448.1 1833.5l5.6 2l4.5 -.7l-5.6 -2z"/><path fill="#ff1400" d="M320.0 1683.5l5.6 4.7l4.4 1l-5.5 -5.4z"/><path fill="#ff9700" d="M327.8 1712.2l5.6 31.7l4.5 7.4l-5.6 -34.1z"/><path fill="#88ff77" d="M325.6 1755.4l5.6 31.3l4.5 5.5l-5.6 -28.3z"/><path fill="#ff2700" d="M325.6 1688.2l5.6 10.8l4.4 2.8l-5.6 -12.6z"/><path fill="#0021ff" d="M353.5 1821.0l5.6 2.4l4.4 -.6l-5.6 -2.2z"/><path fill="#0030ff" d="M343.5 1818.2l5.5 3.2l4.5 -.4l-5.6 -2.9z"/><path fill="#0018ff" d="M363.5 1822.8l5.6 2.2l4.4 -.6l-5.5 -2.1z"/><path fill="#0011ff" d="M373.5 1824.4l5.6 2.1l4.5 -.6l-5.6 -2.1z"/><path fill="#000aff" d="M383.6 1825.9l5.5 2l4.5 -.6l-5.6 -2.1z"/><path fill="#0003ff" d="M393.6 1827.3l5.6 2.1l4.4 -.7l-5.6 -2z"/><path fill="#00a3ff" d="M327.9 1797.8l5.6 13.7l4.4 1.4l-5.6 -10.9z"/><path fill="#0000fb" d="M403.6 1828.7l5.6 2.1l4.4 -.7l-5.6 -2z"/><path fill="#ff4800" d="M326.7 1696.6l5.6 20.6l4.4 5.5l-5.5 -23.7z"/><path fill="#0058ff" d="M333.5 1811.5l5.5 6.5l4.5 .2l-5.6 -5.3z"/><path fill="#0000f5" d="M413.6 1830.1l5.6 2.1l4.4 -.7l-5.5 -2z"/><path fill="#0000ef" d="M423.6 1831.5l5.6 2l4.5 -.6l-5.6 -2z"/><path fill="#0000e9" d="M433.7 1832.9l5.5 2l4.5 -.7l-5.6 -2z"/><path fill="#ffe400" d="M324.5 1729.0l5.6 34.9l4.4 7.7l-5.5 -35.1z"/><path fill="#0000e3" d="M443.7 1834.2l5.6 2l4.4 -.7l-5.6 -2z"/><path fill="#0000dd" d="M453.7 1835.5l5.6 2l4.4 -.7l-5.5 -2z"/><path fill="#ff0a00" d="M315.6 1683.3l5.5 4.2l4.5 .7l-5.6 -4.7z"/><path fill="#0027ff" d="M349.0 1821.4l5.6 2.5l4.5 -.5l-5.6 -2.4z"/><path fill="#001dff" d="M359.1 1823.4l5.5 2.1l4.5 -.5l-5.6 -2.2z"/><path fill="#0039ff" d="M339.0 1818.0l5.6 3.7l4.4 -.3l-5.5 -3.2z"/><path fill="#0015ff" d="M369.1 1825.0l5.6 2.1l4.4 -.6l-5.6 -2.1z"/><path fill="#000eff" d="M379.1 1826.5l5.6 2l4.4 -.6l-5.5 -2z"/><path fill="#ff1900" d="M321.1 1687.5l5.6 9.1l4.5 2.4l-5.6 -10.8z"/><path fill="#0008ff" d="M389.1 1827.9l5.6 2.1l4.5 -.6l-5.6 -2.1z"/><path fill="#0001ff" d="M399.2 1829.4l5.5 2l4.5 -.6l-5.6 -2.1z"/><path fill="#0000fa" d="M409.2 1830.8l5.5 2l4.5 -.6l-5.6 -2.1z"/><path fill="#3cffc3" d="M322.3 1771.9l5.6 25.9l4.4 4.2l-5.5 -22.1z"/><path fill="#0000f3" d="M419.2 1832.2l5.6 2l4.4 -.7l-5.6 -2z"/><path fill="#0000ed" d="M429.2 1833.5l5.6 2.1l4.4 -.7l-5.5 -2z"/><path fill="#006eff" d="M329.0 1809.3l5.6 8.3l4.4 .4l-5.5 -6.5z"/><path fill="#0000e7" d="M439.2 1834.9l5.6 2l4.5 -.7l-5.6 -2z"/><path fill="#ff7200" d="M323.4 1707.8l5.6 28.7l4.4 7.4l-5.6 -31.7z"/><path fill="#0000e1" d="M449.3 1836.2l5.5 2l4.5 -.7l-5.6 -2z"/><path fill="#0000dc" d="M459.3 1837.5l5.5 2l4.5 -.7l-5.6 -2z"/><path fill="#00cdff" d="M323.4 1792.4l5.6 16.9l4.5 2.2l-5.6 -13.7z"/><path fill="#c8ff37" d="M321.2 1746.4l5.6 33.5l4.4 6.8l-5.6 -31.3z"/><path fill="#ff3300" d="M322.3 1694.6l5.5 17.6l4.5 5l-5.6 -20.6z"/><path fill="#ff0000" d="M311.1 1683.1l5.6 3.7l4.4 .7l-5.5 -4.2z"/><path fill="#002dff" d="M344.6 1821.7l5.6 2.7l4.4 -.5l-5.6 -2.5z"/><path fill="#0022ff" d="M354.6 1823.9l5.6 2.2l4.4 -.6l-5.5 -2.1z"/><path fill="#001aff" d="M364.6 1825.5l5.6 2.2l4.5 -.6l-5.6 -2.1z"/><path fill="#0013ff" d="M374.7 1827.1l5.5 2.1l4.5 -.7l-5.6 -2z"/><path fill="#0045ff" d="M334.6 1817.6l5.6 4.3l4.4 -.2l-5.6 -3.7z"/><path fill="#000cff" d="M384.7 1828.5l5.6 2.1l4.4 -.6l-5.6 -2.1z"/><path fill="#0006ff" d="M394.7 1830.0l5.6 2.1l4.4 -.7l-5.5 -2z"/><path fill="#0000fe" d="M404.7 1831.4l5.6 2.1l4.4 -.7l-5.5 -2z"/><path fill="#0000f8" d="M414.7 1832.8l5.6 2.1l4.5 -.7l-5.6 -2z"/><path fill="#ff0d00" d="M316.7 1686.8l5.6 7.8l4.4 2l-5.6 -9.1z"/><path fill="#0000f1" d="M424.8 1834.2l5.5 2l4.5 -.6l-5.6 -2.1z"/><path fill="#0000eb" d="M434.8 1835.6l5.6 2l4.4 -.7l-5.6 -2z"/><path fill="#0000e5" d="M444.8 1836.9l5.6 2l4.4 -.7l-5.5 -2z"/><path fill="#ffaf00" d="M320.1 1721.9l5.5 33.5l4.5 8.5l-5.6 -34.9z"/><path fill="#0000e0" d="M454.8 1838.2l5.6 2l4.4 -.7l-5.5 -2z"/><path fill="#0000da" d="M464.8 1839.5l5.6 2l4.5 -.7l-5.6 -2z"/><path fill="#0089ff" d="M324.6 1806.4l5.5 10.3l4.5 .9l-5.6 -8.3z"/><path fill="#0027ff" d="M350.2 1824.4l5.5 2.3l4.5 -.6l-5.6 -2.2z"/><path fill="#0034ff" d="M340.2 1821.9l5.5 3l4.5 -.5l-5.6 -2.7z"/><path fill="#001fff" d="M360.2 1826.1l5.6 2.2l4.4 -.6l-5.6 -2.2z"/><path fill="#f60000" d="M306.7 1683.0l5.5 3.3l4.5 .5l-5.6 -3.7z"/><path fill="#0018ff" d="M370.2 1827.7l5.6 2.1l4.4 -.6l-5.5 -2.1z"/><path fill="#0011ff" d="M380.2 1829.2l5.6 2.1l4.5 -.7l-5.6 -2.1z"/><path fill="#000aff" d="M390.3 1830.6l5.5 2.1l4.5 -.6l-5.6 -2.1z"/><path fill="#0053ff" d="M330.1 1816.7l5.6 5.3l4.5 -.1l-5.6 -4.3z"/><path fill="#0003ff" d="M400.3 1832.1l5.5 2l4.5 -.6l-5.6 -2.1z"/><path fill="#7cff83" d="M317.9 1763.0l5.5 29.4l4.5 5.4l-5.6 -25.9z"/><path fill="#0000fc" d="M410.3 1833.5l5.6 2l4.4 -.6l-5.6 -2.1z"/><path fill="#ff2000" d="M317.8 1693.0l5.6 14.8l4.4 4.4l-5.5 -17.6z"/><path fill="#00ffff" d="M319.0 1785.8l5.6 20.6l4.4 2.9l-5.6 -16.9z"/><path fill="#ff5100" d="M318.9 1703.9l5.6 25.1l4.5 7.5l-5.6 -28.7z"/><path fill="#0000f6" d="M420.3 1834.9l5.6 2l4.4 -.7l-5.5 -2z"/><path fill="#0000f0" d="M430.3 1836.2l5.6 2.1l4.5 -.7l-5.6 -2z"/><path fill="#0000ea" d="M440.4 1837.6l5.5 2l4.5 -.7l-5.6 -2z"/><path fill="#ff0100" d="M312.2 1686.3l5.6 6.7l4.5 1.6l-5.6 -7.8z"/><path fill="#0000e4" d="M450.4 1838.9l5.6 2l4.4 -.7l-5.6 -2z"/><path fill="#0000de" d="M460.4 1840.2l5.6 2l4.4 -.7l-5.6 -2z"/><path fill="#0000d8" d="M470.4 1841.5l5.6 2l4.4 -.8l-5.5 -1.9z"/><path fill="#fff500" d="M316.7 1737.6l5.6 34.3l4.5 8l-5.6 -33.5z"/><path fill="#002dff" d="M345.7 1824.9l5.6 2.4l4.4 -.6l-5.5 -2.3z"/><path fill="#0024ff" d="M355.7 1826.7l5.6 2.2l4.5 -.6l-5.6 -2.2z"/><path fill="#003cff" d="M335.7 1822.0l5.6 3.3l4.4 -.4l-5.5 -3z"/><path fill="#001cff" d="M365.8 1828.3l5.5 2.1l4.5 -.6l-5.6 -2.1z"/><path fill="#0015ff" d="M375.8 1829.8l5.6 2.1l4.4 -.6l-5.6 -2.1z"/><path fill="#ed0000" d="M302.2 1682.9l5.6 3l4.4 .4l-5.5 -3.3z"/><path fill="#000fff" d="M385.8 1831.3l5.6 2l4.4 -.6l-5.5 -2.1z"/><path fill="#00aaff" d="M320.1 1802.5l5.6 12.9l4.4 1.3l-5.5 -10.3z"/><path fill="#0008ff" d="M395.8 1832.7l5.6 2.1l4.4 -.7l-5.5 -2z"/><path fill="#0001ff" d="M405.8 1834.1l5.6 2.1l4.5 -.7l-5.6 -2z"/><path fill="#0063ff" d="M325.7 1815.4l5.6 6.5l4.4 .1l-5.6 -5.3z"/><path fill="#0000fa" d="M415.9 1835.5l5.5 2.1l4.5 -.7l-5.6 -2z"/><path fill="#0000f4" d="M425.9 1836.9l5.6 2.1l4.4 -.7l-5.6 -2.1z"/><path fill="#0000ee" d="M435.9 1838.3l5.6 2l4.4 -.7l-5.5 -2z"/><path fill="#0000e8" d="M445.9 1839.6l5.6 2l4.5 -.7l-5.6 -2z"/><path fill="#0000e2" d="M456.0 1840.9l5.5 2l4.5 -.7l-5.6 -2z"/><path fill="#ff7f00" d="M315.6 1715.6l5.6 30.8l4.4 9l-5.5 -33.5z"/><path fill="#ff0e00" d="M313.4 1691.5l5.5 12.4l4.5 3.9l-5.6 -14.8z"/><path fill="#f50000" d="M307.8 1685.9l5.6 5.6l4.4 1.5l-5.6 -6.7z"/><path fill="#0000dc" d="M466.0 1842.2l5.5 2l4.5 -.7l-5.6 -2z"/><path fill="#0000d7" d="M476.0 1843.5l5.6 2l4.4 -.8l-5.6 -2z"/><path fill="#0033ff" d="M341.3 1825.3l5.5 2.5l4.5 -.5l-5.6 -2.4z"/><path fill="#0029ff" d="M351.3 1827.3l5.6 2.2l4.4 -.6l-5.6 -2.2z"/><path fill="#0021ff" d="M361.3 1828.9l5.6 2.1l4.4 -.6l-5.5 -2.1z"/><path fill="#0046ff" d="M331.3 1821.9l5.5 3.7l4.5 -.3l-5.6 -3.3z"/><path fill="#001aff" d="M371.3 1830.4l5.6 2.1l4.5 -.6l-5.6 -2.1z"/><path fill="#0013ff" d="M381.4 1831.9l5.5 2.1l4.5 -.7l-5.6 -2z"/><path fill="#39ffc6" d="M314.5 1778.2l5.6 24.3l4.5 3.9l-5.6 -20.6z"/><path fill="#e40000" d="M297.8 1682.8l5.5 2.7l4.5 .4l-5.6 -3z"/><path fill="#ff3300" d="M314.5 1700.5l5.6 21.4l4.4 7.1l-5.6 -25.1z"/><path fill="#000cff" d="M391.4 1833.3l5.6 2.1l4.4 -.6l-5.6 -2.1z"/><path fill="#0006ff" d="M401.4 1834.8l5.6 2.1l4.4 -.7l-5.6 -2.1z"/><path fill="#0000fe" d="M411.4 1836.2l5.6 2.1l4.4 -.7l-5.5 -2.1z"/><path fill="#bfff40" d="M313.4 1753.8l5.6 32l4.4 6.6l-5.5 -29.4z"/><path fill="#0000f8" d="M421.4 1837.6l5.6 2l4.5 -.6l-5.6 -2.1z"/><path fill="#0078ff" d="M321.2 1813.5l5.6 8l4.5 .4l-5.6 -6.5z"/><path fill="#0000f2" d="M431.5 1839.0l5.5 2l4.5 -.7l-5.6 -2z"/><path fill="#0000ec" d="M441.5 1840.3l5.6 2l4.4 -.7l-5.6 -2z"/><path fill="#00d1ff" d="M315.7 1797.6l5.5 15.9l4.5 1.9l-5.6 -12.9z"/><path fill="#0000e6" d="M451.5 1841.6l5.6 2.1l4.4 -.8l-5.5 -2z"/><path fill="#0000e0" d="M461.5 1842.9l5.6 2l4.4 -.7l-5.5 -2z"/><path fill="#0000db" d="M471.5 1844.2l5.6 2l4.5 -.7l-5.6 -2z"/><path fill="#0039ff" d="M336.8 1825.6l5.6 2.7l4.4 -.5l-5.5 -2.5z"/><path fill="#002eff" d="M346.9 1827.8l5.6 2.3l4.5 -.6l-5.6 -2.2z"/><path fill="#0000d5" d="M481.6 1845.5l5.5 2l4.5 -.8l-5.6 -2z"/><path fill="#ea0000" d="M303.3 1685.5l5.6 4.8l4.5 1.2l-5.6 -5.6z"/><path fill="#0026ff" d="M356.9 1829.5l5.5 2.1l4.5 -.6l-5.6 -2.1z"/><path fill="#001fff" d="M366.9 1831.0l5.6 2.2l4.4 -.7l-5.6 -2.1z"/><path fill="#0051ff" d="M326.8 1821.5l5.6 4.3l4.4 -.2l-5.5 -3.7z"/><path fill="#0018ff" d="M376.9 1832.5l5.6 2.1l4.4 -.6l-5.5 -2.1z"/><path fill="#ffb900" d="M312.3 1729.4l5.6 33.6l4.4 8.9l-5.6 -34.3z"/><path fill="#0011ff" d="M386.9 1834.0l5.6 2.1l4.5 -.7l-5.6 -2.1z"/><path fill="#fd0000" d="M308.9 1690.3l5.6 10.2l4.4 3.4l-5.5 -12.4z"/><path fill="#000aff" d="M397.0 1835.4l5.5 2.1l4.5 -.6l-5.6 -2.1z"/><path fill="#db0000" d="M293.3 1682.7l5.6 2.6l4.4 .2l-5.5 -2.7z"/><path fill="#0004ff" d="M407.0 1836.9l5.5 2l4.5 -.6l-5.6 -2.1z"/><path fill="#0000fc" d="M417.0 1838.3l5.6 2l4.4 -.7l-5.6 -2z"/><path fill="#0000f6" d="M427.0 1839.6l5.6 2.1l4.4 -.7l-5.5 -2z"/><path fill="#0000f0" d="M437.0 1841.0l5.6 2l4.5 -.7l-5.6 -2z"/><path fill="#0000ea" d="M447.1 1842.3l5.5 2.1l4.5 -.7l-5.6 -2.1z"/><path fill="#0000e4" d="M457.1 1843.7l5.5 2l4.5 -.8l-5.6 -2z"/><path fill="#0091ff" d="M316.8 1810.8l5.6 9.9l4.4 .8l-5.6 -8z"/><path fill="#ff5400" d="M311.2 1710.2l5.5 27.4l4.5 8.8l-5.6 -30.8z"/><path fill="#0000df" d="M467.1 1844.9l5.6 2.1l4.4 -.8l-5.6 -2z"/><path fill="#ff1900" d="M310.0 1697.7l5.6 17.9l4.5 6.3l-5.6 -21.4z"/><path fill="#0000d9" d="M477.1 1846.2l5.6 2l4.4 -.7l-5.5 -2z"/><path fill="#0033ff" d="M342.4 1828.3l5.6 2.3l4.4 -.5l-5.6 -2.3z"/><path fill="#0041ff" d="M332.4 1825.8l5.6 3l4.4 -.5l-5.6 -2.7z"/><path fill="#002bff" d="M352.4 1830.1l5.6 2.2l4.4 -.7l-5.5 -2.1z"/><path fill="#0000d4" d="M487.1 1847.5l5.6 2l4.5 -.8l-5.6 -2z"/><path fill="#0023ff" d="M362.4 1831.6l5.6 2.2l4.5 -.6l-5.6 -2.2z"/><path fill="#75ff8a" d="M310.1 1769.9l5.6 27.7l4.4 4.9l-5.6 -24.3z"/><path fill="#001cff" d="M372.5 1833.2l5.5 2.1l4.5 -.7l-5.6 -2.1z"/><path fill="#e00000" d="M298.9 1685.3l5.6 4.1l4.4 .9l-5.6 -4.8z"/><path fill="#0015ff" d="M382.5 1834.6l5.6 2.2l4.4 -.7l-5.6 -2.1z"/><path fill="#005eff" d="M322.4 1820.7l5.5 5.1l4.5 0l-5.6 -4.3z"/><path fill="#000fff" d="M392.5 1836.1l5.6 2.1l4.4 -.7l-5.5 -2.1z"/><path fill="#01fffe" d="M311.2 1791.5l5.6 19.3l4.4 2.7l-5.5 -15.9z"/><path fill="#0008ff" d="M402.5 1837.5l5.6 2.1l4.4 -.7l-5.5 -2z"/><path fill="#d30000" d="M288.9 1682.8l5.5 2.3l4.5 .2l-5.6 -2.6z"/><path fill="#0002ff" d="M412.5 1838.9l5.6 2.1l4.5 -.7l-5.6 -2z"/><path fill="#0000fa" d="M422.6 1840.3l5.5 2.1l4.5 -.7l-5.6 -2.1z"/><path fill="#ffff00" d="M309.0 1744.9l5.5 33.3l4.5 7.6l-5.6 -32z"/><path fill="#0000f4" d="M432.6 1841.7l5.6 2.1l4.4 -.8l-5.6 -2z"/><path fill="#ef0000" d="M304.5 1689.4l5.5 8.3l4.5 2.8l-5.6 -10.2z"/><path fill="#0000ee" d="M442.6 1843.0l5.6 2.1l4.4 -.7l-5.5 -2.1z"/><path fill="#0000e8" d="M452.6 1844.4l5.6 2l4.4 -.7l-5.5 -2z"/><path fill="#0000e3" d="M462.6 1845.7l5.6 2l4.5 -.7l-5.6 -2.1z"/><path fill="#0000dd" d="M472.7 1847.0l5.5 2l4.5 -.8l-5.6 -2z"/><path fill="#0039ff" d="M338.0 1828.8l5.5 2.4l4.5 -.6l-5.6 -2.3z"/><path fill="#0030ff" d="M348.0 1830.6l5.5 2.3l4.5 -.6l-5.6 -2.2z"/><path fill="#0049ff" d="M327.9 1825.8l5.6 3.3l4.5 -.3l-5.6 -3z"/><path fill="#0000d7" d="M482.7 1848.2l5.6 2l4.4 -.7l-5.6 -2z"/><path fill="#0028ff" d="M358.0 1832.3l5.6 2.1l4.4 -.6l-5.6 -2.2z"/><path fill="#0021ff" d="M368.0 1833.8l5.6 2.1l4.4 -.6l-5.5 -2.1z"/><path fill="#0000d2" d="M492.7 1849.5l5.6 1.9l4.4 -.7l-5.5 -2z"/><path fill="#00b1ff" d="M312.3 1807.1l5.6 12.3l4.5 1.3l-5.6 -9.9z"/><path fill="#001aff" d="M378.0 1835.3l5.6 2.1l4.5 -.6l-5.6 -2.2z"/><path fill="#0013ff" d="M388.1 1836.8l5.5 2.1l4.5 -.7l-5.6 -2.1z"/><path fill="#000cff" d="M398.1 1838.2l5.5 2.1l4.5 -.7l-5.6 -2.1z"/><path fill="#d70000" d="M294.4 1685.1l5.6 3.6l4.5 .7l-5.6 -4.1z"/><path fill="#ff8400" d="M307.8 1722.2l5.6 31.6l4.5 9.2l-5.6 -33.6z"/><path fill="#006fff" d="M317.9 1819.4l5.6 6.3l4.4 .1l-5.5 -5.1z"/><path fill="#0006ff" d="M408.1 1839.6l5.6 2.1l4.4 -.7l-5.6 -2.1z"/><path fill="#0000fe" d="M418.1 1841.0l5.6 2.1l4.4 -.7l-5.5 -2.1z"/><path fill="#cb0000" d="M284.4 1682.9l5.6 2.2l4.4 0l-5.5 -2.3z"/><path fill="#0000f8" d="M428.1 1842.4l5.6 2.1l4.5 -.7l-5.6 -2.1z"/><path fill="#ff0300" d="M305.6 1695.5l5.6 14.7l4.4 5.4l-5.6 -17.9z"/><path fill="#0000f2" d="M438.2 1843.8l5.5 2l4.5 -.7l-5.6 -2.1z"/><path fill="#0000ec" d="M448.2 1845.1l5.6 2l4.4 -.7l-5.6 -2z"/><path fill="#0000e6" d="M458.2 1846.4l5.6 2l4.4 -.7l-5.6 -2z"/><path fill="#ff3000" d="M306.7 1705.8l5.6 23.6l4.4 8.2l-5.5 -27.4z"/><path fill="#e20000" d="M300.0 1688.7l5.6 6.8l4.4 2.2l-5.5 -8.3z"/><path fill="#0000e1" d="M468.2 1847.7l5.6 2l4.4 -.7l-5.5 -2z"/><path fill="#003fff" d="M333.5 1829.1l5.6 2.6l4.4 -.5l-5.5 -2.4z"/><path fill="#0035ff" d="M343.5 1831.2l5.6 2.3l4.4 -.6l-5.5 -2.3z"/><path fill="#0000db" d="M478.2 1849.0l5.6 2l4.5 -.8l-5.6 -2z"/><path fill="#36ffc9" d="M306.8 1784.3l5.5 22.8l4.5 3.7l-5.6 -19.3z"/><path fill="#002dff" d="M353.5 1832.9l5.6 2.1l4.5 -.6l-5.6 -2.1z"/><path fill="#0052ff" d="M323.5 1825.7l5.6 3.7l4.4 -.3l-5.6 -3.3z"/><path fill="#b5ff4a" d="M305.6 1761.1l5.6 30.4l4.5 6.1l-5.6 -27.7z"/><path fill="#0000d6" d="M488.3 1850.2l5.5 2l4.5 -.8l-5.6 -1.9z"/><path fill="#0025ff" d="M363.6 1834.4l5.5 2.2l4.5 -.7l-5.6 -2.1z"/><path fill="#001eff" d="M373.6 1835.9l5.6 2.2l4.4 -.7l-5.6 -2.1z"/><path fill="#0000d1" d="M498.3 1851.4l5.6 2l4.4 -.8l-5.6 -1.9z"/><path fill="#0017ff" d="M383.6 1837.4l5.6 2.1l4.4 -.6l-5.5 -2.1z"/><path fill="#0011ff" d="M393.6 1838.9l5.6 2.1l4.4 -.7l-5.5 -2.1z"/><path fill="#000aff" d="M403.6 1840.3l5.6 2.1l4.5 -.7l-5.6 -2.1z"/><path fill="#ce0000" d="M290.0 1685.1l5.6 3.1l4.4 .5l-5.6 -3.6z"/><path fill="#0004ff" d="M413.7 1841.7l5.5 2.1l4.5 -.7l-5.6 -2.1z"/><path fill="#0000fc" d="M423.7 1843.1l5.6 2.1l4.4 -.7l-5.6 -2.1z"/><path fill="#c40000" d="M280.0 1683.1l5.6 2.1l4.4 -.1l-5.6 -2.2z"/><path fill="#0084ff" d="M313.5 1817.5l5.5 7.7l4.5 .5l-5.6 -6.3z"/><path fill="#0000f6" d="M433.7 1844.5l5.6 2l4.4 -.7l-5.5 -2z"/><path fill="#00d7ff" d="M307.9 1802.4l5.6 15.1l4.4 1.9l-5.6 -12.3z"/><path fill="#0000f0" d="M443.7 1845.8l5.6 2.1l4.5 -.8l-5.6 -2z"/><path fill="#ffc300" d="M304.5 1736.7l5.6 33.2l4.4 8.3l-5.5 -33.3z"/><path fill="#0000ea" d="M453.8 1847.1l5.5 2.1l4.5 -.8l-5.6 -2z"/><path fill="#0000e5" d="M463.8 1848.4l5.5 2.1l4.5 -.8l-5.6 -2z"/><path fill="#0000df" d="M473.8 1849.7l5.6 2l4.4 -.7l-5.6 -2z"/><path fill="#003aff" d="M339.1 1831.7l5.6 2.3l4.4 -.5l-5.6 -2.3z"/><path fill="#0046ff" d="M329.1 1829.4l5.5 2.7l4.5 -.4l-5.6 -2.6z"/><path fill="#0031ff" d="M349.1 1833.5l5.6 2.2l4.4 -.7l-5.6 -2.1z"/><path fill="#0000da" d="M483.8 1851.0l5.6 2l4.4 -.8l-5.5 -2z"/><path fill="#002aff" d="M359.1 1835.0l5.6 2.2l4.4 -.6l-5.5 -2.2z"/><path fill="#d70000" d="M295.6 1688.2l5.5 5.7l4.5 1.6l-5.6 -6.8z"/><path fill="#ef0000" d="M301.1 1693.9l5.6 11.9l4.5 4.4l-5.6 -14.7z"/><path fill="#0023ff" d="M369.1 1836.6l5.6 2.1l4.5 -.6l-5.6 -2.2z"/><path fill="#005eff" d="M319.0 1825.2l5.6 4.3l4.5 -.1l-5.6 -3.7z"/><path fill="#0000d4" d="M493.8 1852.2l5.6 2l4.5 -.8l-5.6 -2z"/><path fill="#001cff" d="M379.2 1838.1l5.5 2.1l4.5 -.7l-5.6 -2.1z"/><path fill="#0000cf" d="M503.9 1853.4l5.5 2l4.5 -.8l-5.6 -2z"/><path fill="#0015ff" d="M389.2 1839.5l5.6 2.2l4.4 -.7l-5.6 -2.1z"/><path fill="#000eff" d="M399.2 1841.0l5.6 2.1l4.4 -.7l-5.6 -2.1z"/><path fill="#0008ff" d="M409.2 1842.4l5.6 2.1l4.4 -.7l-5.5 -2.1z"/><path fill="#ff5600" d="M303.4 1716.3l5.6 28.6l4.4 8.9l-5.6 -31.6z"/><path fill="#0001ff" d="M419.2 1843.8l5.6 2.1l4.5 -.7l-5.6 -2.1z"/><path fill="#c60000" d="M285.6 1685.2l5.5 2.8l4.5 .2l-5.6 -3.1z"/><path fill="#bd0000" d="M275.5 1683.4l5.6 2.1l4.5 -.3l-5.6 -2.1z"/><path fill="#0000fa" d="M429.3 1845.2l5.5 2.1l4.5 -.8l-5.6 -2z"/><path fill="#0000f4" d="M439.3 1846.5l5.6 2.1l4.4 -.7l-5.6 -2.1z"/><path fill="#ff1200" d="M302.3 1702.4l5.5 19.8l4.5 7.2l-5.6 -23.6z"/><path fill="#0000ee" d="M449.3 1847.9l5.6 2l4.4 -.7l-5.5 -2.1z"/><path fill="#009dff" d="M309.0 1814.8l5.6 9.5l4.4 .9l-5.5 -7.7z"/><path fill="#0000e8" d="M459.3 1849.2l5.6 2l4.4 -.7l-5.5 -2.1z"/><path fill="#72ff8d" d="M302.3 1776.2l5.6 26.2l4.4 4.7l-5.5 -22.8z"/><path fill="#0000e3" d="M469.3 1850.5l5.6 2l4.5 -.8l-5.6 -2z"/><path fill="#0040ff" d="M334.6 1832.1l5.6 2.4l4.5 -.5l-5.6 -2.3z"/><path fill="#0036ff" d="M344.7 1834.0l5.5 2.3l4.5 -.6l-5.6 -2.2z"/><path fill="#004eff" d="M324.6 1829.5l5.6 3l4.4 -.4l-5.5 -2.7z"/><path fill="#0000dd" d="M479.4 1851.7l5.5 2.1l4.5 -.8l-5.6 -2z"/><path fill="#002eff" d="M354.7 1835.7l5.5 2.1l4.5 -.6l-5.6 -2.2z"/><path fill="#0027ff" d="M364.7 1837.2l5.6 2.2l4.4 -.7l-5.6 -2.1z"/><path fill="#0000d8" d="M489.4 1853.0l5.6 2l4.4 -.8l-5.6 -2z"/><path fill="#0020ff" d="M374.7 1838.7l5.6 2.2l4.4 -.7l-5.5 -2.1z"/><path fill="#f5ff0a" d="M301.2 1752.2l5.6 32.1l4.4 7.2l-5.6 -30.4z"/><path fill="#06fff9" d="M303.4 1796.5l5.6 18.3l4.5 2.7l-5.6 -15.1z"/><path fill="#0000d3" d="M499.4 1854.2l5.6 2l4.4 -.8l-5.5 -2z"/><path fill="#0019ff" d="M384.7 1840.2l5.6 2.1l4.5 -.6l-5.6 -2.2z"/><path fill="#006cff" d="M314.6 1824.3l5.6 5.2l4.4 0l-5.6 -4.3z"/><path fill="#cd0000" d="M291.1 1688.0l5.6 4.7l4.4 1.2l-5.5 -5.7z"/><path fill="#0013ff" d="M394.8 1841.7l5.5 2.1l4.5 -.7l-5.6 -2.1z"/><path fill="#0000cd" d="M509.4 1855.4l5.6 2l4.4 -.8l-5.5 -2z"/><path fill="#000cff" d="M404.8 1843.1l5.5 2.1l4.5 -.7l-5.6 -2.1z"/><path fill="#0006ff" d="M414.8 1844.5l5.6 2.1l4.4 -.7l-5.6 -2.1z"/><path fill="#0000fe" d="M424.8 1845.9l5.6 2.1l4.4 -.7l-5.5 -2.1z"/><path fill="#df0000" d="M296.7 1692.7l5.6 9.7l4.4 3.4l-5.6 -11.9z"/><path fill="#bf0000" d="M281.1 1685.5l5.6 2.5l4.4 0l-5.5 -2.8z"/><path fill="#b80000" d="M271.1 1683.9l5.6 1.9l4.4 -.3l-5.6 -2.1z"/><path fill="#0000f8" d="M434.8 1847.3l5.6 2l4.5 -.7l-5.6 -2.1z"/><path fill="#0000f2" d="M444.9 1848.6l5.5 2.1l4.5 -.8l-5.6 -2z"/><path fill="#0000ec" d="M454.9 1849.9l5.5 2.1l4.5 -.8l-5.6 -2z"/><path fill="#0000e7" d="M464.9 1851.2l5.6 2.1l4.4 -.8l-5.6 -2z"/><path fill="#ff8c00" d="M300.1 1729.4l5.5 31.7l4.5 8.8l-5.6 -33.2z"/><path fill="#0000e1" d="M474.9 1852.5l5.6 2l4.4 -.7l-5.5 -2.1z"/><path fill="#0046ff" d="M330.2 1832.5l5.6 2.5l4.4 -.5l-5.6 -2.4z"/><path fill="#003cff" d="M340.2 1834.5l5.6 2.3l4.4 -.5l-5.5 -2.3z"/><path fill="#0033ff" d="M350.2 1836.3l5.6 2.2l4.4 -.7l-5.5 -2.1z"/><path fill="#0056ff" d="M320.2 1829.5l5.5 3.3l4.5 -.3l-5.6 -3z"/><path fill="#0000db" d="M484.9 1853.8l5.6 2l4.5 -.8l-5.6 -2z"/><path fill="#002cff" d="M360.2 1837.8l5.6 2.2l4.5 -.6l-5.6 -2.2z"/><path fill="#0024ff" d="M370.3 1839.4l5.5 2.1l4.5 -.6l-5.6 -2.2z"/><path fill="#00bbff" d="M304.6 1811.3l5.5 11.8l4.5 1.2l-5.6 -9.5z"/><path fill="#0000d6" d="M495.0 1855.0l5.5 2l4.5 -.8l-5.6 -2z"/><path fill="#001eff" d="M380.3 1840.9l5.6 2.1l4.4 -.7l-5.6 -2.1z"/><path fill="#0000d1" d="M505.0 1856.2l5.6 2l4.4 -.8l-5.6 -2z"/><path fill="#0017ff" d="M390.3 1842.3l5.6 2.2l4.4 -.7l-5.5 -2.1z"/><path fill="#0010ff" d="M400.3 1843.8l5.6 2.1l4.4 -.7l-5.5 -2.1z"/><path fill="#0000cc" d="M515.0 1857.4l5.6 2l4.4 -.8l-5.6 -2z"/><path fill="#f90000" d="M297.8 1699.9l5.6 16.4l4.4 5.9l-5.5 -19.8z"/><path fill="#007cff" d="M310.1 1823.1l5.6 6.1l4.5 .3l-5.6 -5.2z"/><path fill="#c40000" d="M286.7 1688.0l5.5 4l4.5 .7l-5.6 -4.7z"/><path fill="#000aff" d="M410.3 1845.2l5.6 2.1l4.5 -.7l-5.6 -2.1z"/><path fill="#ff3000" d="M298.9 1711.6l5.6 25.1l4.5 8.2l-5.6 -28.6z"/><path fill="#0003ff" d="M420.4 1846.6l5.5 2.1l4.5 -.7l-5.6 -2.1z"/><path fill="#0000fc" d="M430.4 1848.0l5.6 2.1l4.4 -.8l-5.6 -2z"/><path fill="#b20000" d="M266.6 1684.3l5.6 1.9l4.5 -.4l-5.6 -1.9z"/><path fill="#b90000" d="M276.7 1685.8l5.5 2.4l4.5 -.2l-5.6 -2.5z"/><path fill="#0000f6" d="M440.4 1849.3l5.6 2.1l4.4 -.7l-5.5 -2.1z"/><path fill="#0000f0" d="M450.4 1850.7l5.6 2l4.4 -.7l-5.5 -2.1z"/><path fill="#0000ea" d="M460.4 1852.0l5.6 2l4.5 -.7l-5.6 -2.1z"/><path fill="#b1ff4e" d="M297.9 1767.5l5.5 29l4.5 5.9l-5.6 -26.2z"/><path fill="#d30000" d="M292.2 1692.0l5.6 7.9l4.5 2.5l-5.6 -9.7z"/><path fill="#39ffc6" d="M299.0 1789.7l5.6 21.6l4.4 3.5l-5.6 -18.3z"/><path fill="#0000e5" d="M470.5 1853.3l5.5 2l4.5 -.8l-5.6 -2z"/><path fill="#0041ff" d="M335.8 1835.0l5.5 2.3l4.5 -.5l-5.6 -2.3z"/><path fill="#004dff" d="M325.7 1832.8l5.6 2.6l4.5 -.4l-5.6 -2.5z"/><path fill="#0038ff" d="M345.8 1836.8l5.5 2.2l4.5 -.5l-5.6 -2.2z"/><path fill="#0000df" d="M480.5 1854.5l5.6 2.1l4.4 -.8l-5.6 -2z"/><path fill="#0030ff" d="M355.8 1838.5l5.6 2.1l4.4 -.6l-5.6 -2.2z"/><path fill="#0060ff" d="M315.7 1829.2l5.6 3.8l4.4 -.2l-5.5 -3.3z"/><path fill="#0029ff" d="M365.8 1840.0l5.6 2.2l4.4 -.7l-5.5 -2.1z"/><path fill="#0000da" d="M490.5 1855.8l5.6 2l4.4 -.8l-5.5 -2z"/><path fill="#0022ff" d="M375.8 1841.5l5.6 2.2l4.5 -.7l-5.6 -2.1z"/><path fill="#0000d4" d="M500.5 1857.0l5.6 2l4.5 -.8l-5.6 -2z"/><path fill="#001bff" d="M385.9 1843.0l5.5 2.2l4.5 -.7l-5.6 -2.2z"/><path fill="#0014ff" d="M395.9 1844.5l5.6 2.1l4.4 -.7l-5.6 -2.1z"/><path fill="#0000cf" d="M510.6 1858.2l5.5 2l4.5 -.8l-5.6 -2z"/><path fill="#ffcb00" d="M296.7 1743.7l5.6 32.5l4.5 8.1l-5.6 -32.1z"/><path fill="#000eff" d="M405.9 1845.9l5.6 2.1l4.4 -.7l-5.6 -2.1z"/><path fill="#0000ca" d="M520.6 1859.4l5.5 2l4.5 -.8l-5.6 -2z"/><path fill="#0007ff" d="M415.9 1847.3l5.6 2.1l4.4 -.7l-5.5 -2.1z"/><path fill="#bd0000" d="M282.2 1688.2l5.6 3.5l4.4 .3l-5.5 -4z"/><path fill="#0001ff" d="M425.9 1848.7l5.6 2.1l4.5 -.7l-5.6 -2.1z"/><path fill="#0090ff" d="M305.7 1821.2l5.6 7.6l4.4 .4l-5.6 -6.1z"/><path fill="#ad0000" d="M262.2 1684.9l5.6 1.8l4.4 -.5l-5.6 -1.9z"/><path fill="#00e0ff" d="M300.1 1806.9l5.6 14.3l4.4 1.9l-5.5 -11.8z"/><path fill="#b30000" d="M272.2 1686.2l5.6 2.3l4.4 -.3l-5.5 -2.4z"/><path fill="#0000fa" d="M436.0 1850.1l5.5 2.1l4.5 -.8l-5.6 -2.1z"/><path fill="#0000f4" d="M446.0 1851.4l5.6 2.1l4.4 -.8l-5.6 -2z"/><path fill="#0000ee" d="M456.0 1852.7l5.6 2.1l4.4 -.8l-5.6 -2z"/><path fill="#0000e8" d="M466.0 1854.0l5.6 2.1l4.4 -.8l-5.5 -2z"/><path fill="#e60000" d="M293.4 1698.2l5.5 13.4l4.5 4.7l-5.6 -16.4z"/><path fill="#0000e3" d="M476.0 1855.3l5.6 2.1l4.5 -.8l-5.6 -2.1z"/><path fill="#0047ff" d="M331.3 1835.4l5.6 2.4l4.4 -.5l-5.5 -2.3z"/><path fill="#0054ff" d="M321.3 1833.0l5.6 2.8l4.4 -.4l-5.6 -2.6z"/><path fill="#003eff" d="M341.3 1837.3l5.6 2.2l4.4 -.5l-5.5 -2.2z"/><path fill="#ff5c00" d="M295.6 1723.0l5.6 29.2l4.4 8.9l-5.5 -31.7z"/><path fill="#0035ff" d="M351.3 1839.0l5.6 2.2l4.5 -.6l-5.6 -2.1z"/><path fill="#0000dd" d="M486.1 1856.6l5.5 2l4.5 -.8l-5.6 -2z"/><path fill="#002eff" d="M361.4 1840.6l5.5 2.2l4.5 -.6l-5.6 -2.2z"/><path fill="#c80000" d="M287.8 1691.7l5.6 6.5l4.4 1.7l-5.6 -7.9z"/><path fill="#0026ff" d="M371.4 1842.2l5.6 2.2l4.4 -.7l-5.6 -2.2z"/><path fill="#006cff" d="M311.3 1828.8l5.5 4.3l4.5 -.1l-5.6 -3.8z"/><path fill="#0000d8" d="M496.1 1857.8l5.6 2l4.4 -.8l-5.6 -2z"/><path fill="#001fff" d="M381.4 1843.7l5.6 2.1l4.4 -.6l-5.5 -2.2z"/><path fill="#0000d3" d="M506.1 1859.0l5.6 2l4.4 -.8l-5.5 -2z"/><path fill="#0019ff" d="M391.4 1845.2l5.6 2.1l4.5 -.7l-5.6 -2.1z"/><path fill="#ff1100" d="M294.5 1707.9l5.6 21.5l4.4 7.3l-5.6 -25.1z"/><path fill="#0012ff" d="M401.5 1846.6l5.5 2.1l4.5 -.7l-5.6 -2.1z"/><path fill="#0000ce" d="M516.1 1860.2l5.6 2l4.4 -.8l-5.5 -2z"/><path fill="#000bff" d="M411.5 1848.0l5.5 2.1l4.5 -.7l-5.6 -2.1z"/><path fill="#0000c9" d="M526.1 1861.4l5.6 2l4.5 -.9l-5.6 -1.9z"/><path fill="#0005ff" d="M421.5 1849.4l5.6 2.1l4.4 -.7l-5.6 -2.1z"/><path fill="#a80000" d="M257.7 1685.4l5.6 1.9l4.5 -.6l-5.6 -1.8z"/><path fill="#b60000" d="M277.8 1688.5l5.6 3.1l4.4 .1l-5.6 -3.5z"/><path fill="#0000fe" d="M431.5 1850.8l5.6 2.1l4.4 -.7l-5.5 -2.1z"/><path fill="#ae0000" d="M267.8 1686.7l5.5 2.1l4.5 -.3l-5.6 -2.3z"/><path fill="#0000f8" d="M441.5 1852.2l5.6 2.1l4.5 -.8l-5.6 -2.1z"/><path fill="#72ff8d" d="M294.5 1782.0l5.6 24.9l4.5 4.4l-5.6 -21.6z"/><path fill="#0000f2" d="M451.6 1853.5l5.5 2.1l4.5 -.8l-5.6 -2.1z"/><path fill="#00a8ff" d="M301.2 1818.8l5.6 9.2l4.5 .8l-5.6 -7.6z"/><path fill="#0000ec" d="M461.6 1854.8l5.5 2.1l4.5 -.8l-5.6 -2.1z"/><path fill="#f1ff0e" d="M293.4 1758.7l5.6 31l4.4 6.8l-5.5 -29z"/><path fill="#0000e6" d="M471.6 1856.1l5.6 2.1l4.4 -.8l-5.6 -2.1z"/><path fill="#004dff" d="M326.9 1835.8l5.5 2.4l4.5 -.4l-5.6 -2.4z"/><path fill="#0043ff" d="M336.9 1837.8l5.6 2.3l4.4 -.6l-5.6 -2.2z"/><path fill="#005cff" d="M316.8 1833.1l5.6 3l4.5 -.3l-5.6 -2.8z"/><path fill="#0000e1" d="M481.6 1857.4l5.6 2l4.4 -.8l-5.5 -2z"/><path fill="#003aff" d="M346.9 1839.5l5.6 2.3l4.4 -.6l-5.6 -2.2z"/><path fill="#0032ff" d="M356.9 1841.2l5.6 2.2l4.4 -.6l-5.5 -2.2z"/><path fill="#0bfff4" d="M295.7 1801.5l5.5 17.3l4.5 2.4l-5.6 -14.3z"/><path fill="#002bff" d="M366.9 1842.8l5.6 2.2l4.5 -.6l-5.6 -2.2z"/><path fill="#0000db" d="M491.6 1858.6l5.6 2.1l4.5 -.9l-5.6 -2z"/><path fill="#0024ff" d="M377.0 1844.4l5.5 2.1l4.5 -.7l-5.6 -2.1z"/><path fill="#0000d6" d="M501.7 1859.8l5.5 2.1l4.5 -.9l-5.6 -2z"/><path fill="#001dff" d="M387.0 1845.8l5.6 2.2l4.4 -.7l-5.6 -2.1z"/><path fill="#0079ff" d="M306.8 1828.0l5.6 5.1l4.4 0l-5.5 -4.3z"/><path fill="#bf0000" d="M283.4 1691.6l5.5 5.3l4.5 1.3l-5.6 -6.5z"/><path fill="#0016ff" d="M397.0 1847.3l5.6 2.1l4.4 -.7l-5.5 -2.1z"/><path fill="#0000d1" d="M511.7 1861.0l5.5 2.1l4.5 -.9l-5.6 -2z"/><path fill="#d60000" d="M288.9 1696.9l5.6 11l4.4 3.7l-5.5 -13.4z"/><path fill="#000fff" d="M407.0 1848.7l5.6 2.2l4.4 -.8l-5.5 -2.1z"/><path fill="#0000cc" d="M521.7 1862.2l5.6 2l4.4 -.8l-5.6 -2z"/><path fill="#0009ff" d="M417.0 1850.1l5.6 2.2l4.5 -.8l-5.6 -2.1z"/><path fill="#ff9100" d="M292.3 1736.0l5.6 31.5l4.4 8.7l-5.6 -32.5z"/><path fill="#0000c7" d="M531.7 1863.4l5.6 2l4.4 -.9l-5.5 -2z"/><path fill="#0003ff" d="M427.1 1851.5l5.5 2.1l4.5 -.7l-5.6 -2.1z"/><path fill="#a30000" d="M253.3 1686.1l5.6 1.8l4.4 -.6l-5.6 -1.9z"/><path fill="#b00000" d="M273.3 1688.8l5.6 2.8l4.5 0l-5.6 -3.1z"/><path fill="#0000fc" d="M437.1 1852.9l5.6 2.1l4.4 -.7l-5.6 -2.1z"/><path fill="#a90000" d="M263.3 1687.3l5.6 2l4.4 -.5l-5.5 -2.1z"/><path fill="#0000f6" d="M447.1 1854.3l5.6 2l4.4 -.7l-5.5 -2.1z"/><path fill="#0000f0" d="M457.1 1855.6l5.6 2.1l4.4 -.8l-5.5 -2.1z"/><path fill="#0000ea" d="M467.1 1856.9l5.6 2l4.5 -.7l-5.6 -2.1z"/><path fill="#0000e4" d="M477.2 1858.2l5.5 2l4.5 -.8l-5.6 -2z"/><path fill="#0053ff" d="M322.4 1836.1l5.6 2.6l4.4 -.5l-5.5 -2.4z"/><path fill="#0049ff" d="M332.4 1838.2l5.6 2.4l4.5 -.5l-5.6 -2.3z"/><path fill="#0040ff" d="M342.5 1840.1l5.5 2.2l4.5 -.5l-5.6 -2.3z"/><path fill="#ff3200" d="M291.2 1717.7l5.5 26l4.5 8.5l-5.6 -29.2z"/><path fill="#0037ff" d="M352.5 1841.8l5.5 2.2l4.5 -.6l-5.6 -2.2z"/><path fill="#0064ff" d="M312.4 1833.1l5.6 3.3l4.4 -.3l-5.6 -3z"/><path fill="#f50000" d="M290.1 1705.1l5.5 17.9l4.5 6.4l-5.6 -21.5z"/><path fill="#0000df" d="M487.2 1859.4l5.6 2.1l4.4 -.8l-5.6 -2.1z"/><path fill="#0030ff" d="M362.5 1843.4l5.6 2.2l4.4 -.6l-5.6 -2.2z"/><path fill="#00c4ff" d="M296.8 1815.8l5.6 11.1l4.4 1.1l-5.6 -9.2z"/><path fill="#0028ff" d="M372.5 1845.0l5.6 2.2l4.4 -.7l-5.5 -2.1z"/><path fill="#0000da" d="M497.2 1860.7l5.6 2l4.4 -.8l-5.5 -2.1z"/><path fill="#0021ff" d="M382.5 1846.5l5.6 2.2l4.5 -.7l-5.6 -2.2z"/><path fill="#0000d4" d="M507.2 1861.9l5.6 2l4.4 -.8l-5.5 -2.1z"/><path fill="#001aff" d="M392.6 1848.0l5.5 2.2l4.5 -.8l-5.6 -2.1z"/><path fill="#0013ff" d="M402.6 1849.4l5.5 2.2l4.5 -.7l-5.6 -2.2z"/><path fill="#0000cf" d="M517.2 1863.1l5.6 2l4.5 -.9l-5.6 -2z"/><path fill="#0088ff" d="M302.4 1826.9l5.5 6l4.5 .2l-5.6 -5.1z"/><path fill="#b60000" d="M278.9 1691.6l5.6 4.5l4.4 .8l-5.5 -5.3z"/><path fill="#000dff" d="M412.6 1850.9l5.6 2.1l4.4 -.7l-5.6 -2.2z"/><path fill="#0000ca" d="M527.3 1864.2l5.5 2l4.5 -.8l-5.6 -2z"/><path fill="#0007ff" d="M422.6 1852.3l5.6 2.1l4.4 -.8l-5.5 -2.1z"/><path fill="#9f0000" d="M248.8 1686.7l5.6 1.8l4.5 -.6l-5.6 -1.8z"/><path fill="#0000ff" d="M432.6 1853.6l5.6 2.2l4.5 -.8l-5.6 -2.1z"/><path fill="#0000c6" d="M537.3 1865.4l5.6 2l4.4 -.9l-5.6 -2z"/><path fill="#a40000" d="M258.9 1687.9l5.5 1.9l4.5 -.5l-5.6 -2z"/><path fill="#aeff51" d="M290.1 1773.9l5.6 27.6l4.4 5.4l-5.6 -24.9z"/><path fill="#aa0000" d="M268.9 1689.3l5.6 2.5l4.4 -.2l-5.6 -2.8z"/><path fill="#0000f9" d="M442.7 1855.0l5.5 2.1l4.5 -.8l-5.6 -2z"/><path fill="#c80000" d="M284.5 1696.1l5.6 9l4.4 2.8l-5.6 -11z"/><path fill="#3affc5" d="M291.2 1795.4l5.6 20.4l4.4 3l-5.5 -17.3z"/><path fill="#0000f3" d="M452.7 1856.3l5.5 2.1l4.5 -.7l-5.6 -2.1z"/><path fill="#0000ee" d="M462.7 1857.7l5.6 2l4.4 -.8l-5.6 -2z"/><path fill="#0000e8" d="M472.7 1858.9l5.6 2.1l4.4 -.8l-5.5 -2z"/><path fill="#004eff" d="M328.0 1838.7l5.6 2.3l4.4 -.4l-5.6 -2.4z"/><path fill="#005aff" d="M318.0 1836.4l5.5 2.7l4.5 -.4l-5.6 -2.6z"/><path fill="#0045ff" d="M338.0 1840.6l5.6 2.2l4.4 -.5l-5.5 -2.2z"/><path fill="#0000e2" d="M482.7 1860.2l5.6 2.1l4.5 -.8l-5.6 -2.1z"/><path fill="#003dff" d="M348.0 1842.3l5.6 2.2l4.4 -.5l-5.5 -2.2z"/><path fill="#ffd000" d="M289.0 1750.3l5.5 31.7l4.5 7.7l-5.6 -31z"/><path fill="#0034ff" d="M358.0 1844.0l5.6 2.2l4.5 -.6l-5.6 -2.2z"/><path fill="#006eff" d="M307.9 1832.9l5.6 3.8l4.5 -.3l-5.6 -3.3z"/><path fill="#0000dd" d="M492.8 1861.5l5.5 2l4.5 -.8l-5.6 -2z"/><path fill="#002dff" d="M368.1 1845.6l5.5 2.2l4.5 -.6l-5.6 -2.2z"/><path fill="#0025ff" d="M378.1 1847.2l5.6 2.2l4.4 -.7l-5.6 -2.2z"/><path fill="#0000d8" d="M502.8 1862.7l5.6 2l4.4 -.8l-5.6 -2z"/><path fill="#001eff" d="M388.1 1848.7l5.6 2.2l4.4 -.7l-5.5 -2.2z"/><path fill="#0017ff" d="M398.1 1850.2l5.6 2.1l4.4 -.7l-5.5 -2.2z"/><path fill="#0000d3" d="M512.8 1863.9l5.6 2l4.4 -.8l-5.6 -2z"/><path fill="#0011ff" d="M408.1 1851.6l5.6 2.1l4.5 -.7l-5.6 -2.1z"/><path fill="#0000ce" d="M522.8 1865.1l5.6 2l4.4 -.9l-5.5 -2z"/><path fill="#000aff" d="M418.2 1853.0l5.5 2.1l4.5 -.7l-5.6 -2.1z"/><path fill="#9b0000" d="M244.4 1687.5l5.6 1.8l4.4 -.8l-5.6 -1.8z"/><path fill="#af0000" d="M274.5 1691.8l5.5 3.9l4.5 .4l-5.6 -4.5z"/><path fill="#00e5ff" d="M292.3 1811.9l5.6 13.5l4.5 1.5l-5.6 -11.1z"/><path fill="#0004ff" d="M428.2 1854.4l5.6 2.1l4.4 -.7l-5.6 -2.2z"/><path fill="#0000c9" d="M532.8 1866.2l5.6 2l4.5 -.8l-5.6 -2z"/><path fill="#009bff" d="M297.9 1825.4l5.6 7.2l4.4 .3l-5.5 -6z"/><path fill="#a00000" d="M254.4 1688.5l5.6 2l4.4 -.7l-5.5 -1.9z"/><path fill="#0000fd" d="M438.2 1855.8l5.6 2.1l4.4 -.8l-5.5 -2.1z"/><path fill="#a50000" d="M264.4 1689.8l5.6 2.4l4.5 -.4l-5.6 -2.5z"/><path fill="#ff5f00" d="M287.9 1729.3l5.5 29.4l4.5 8.8l-5.6 -31.5z"/><path fill="#0000c4" d="M542.9 1867.4l5.5 2l4.5 -.9l-5.6 -2z"/><path fill="#df0000" d="M285.6 1703.0l5.6 14.7l4.4 5.3l-5.5 -17.9z"/><path fill="#0000f7" d="M448.2 1857.1l5.6 2.1l4.4 -.8l-5.5 -2.1z"/><path fill="#0000f1" d="M458.2 1858.4l5.6 2.1l4.5 -.8l-5.6 -2z"/><path fill="#0000eb" d="M468.3 1859.7l5.5 2.1l4.5 -.8l-5.6 -2.1z"/><path fill="#ff0f00" d="M286.7 1713.5l5.6 22.5l4.4 7.7l-5.5 -26z"/><path fill="#0000e6" d="M478.3 1861.0l5.6 2.1l4.4 -.8l-5.6 -2.1z"/><path fill="#0054ff" d="M323.5 1839.1l5.6 2.4l4.5 -.5l-5.6 -2.3z"/><path fill="#bd0000" d="M280.0 1695.7l5.6 7.3l4.5 2.1l-5.6 -9z"/><path fill="#004bff" d="M333.6 1841.0l5.5 2.3l4.5 -.5l-5.6 -2.2z"/><path fill="#0061ff" d="M313.5 1836.7l5.6 2.8l4.4 -.4l-5.5 -2.7z"/><path fill="#0042ff" d="M343.6 1842.8l5.5 2.3l4.5 -.6l-5.6 -2.2z"/><path fill="#003aff" d="M353.6 1844.5l5.6 2.2l4.4 -.5l-5.6 -2.2z"/><path fill="#0000e0" d="M488.3 1862.3l5.6 2l4.4 -.8l-5.5 -2z"/><path fill="#0032ff" d="M363.6 1846.2l5.6 2.2l4.4 -.6l-5.5 -2.2z"/><path fill="#002aff" d="M373.6 1847.8l5.6 2.2l4.5 -.6l-5.6 -2.2z"/><path fill="#0078ff" d="M303.5 1832.6l5.6 4.3l4.4 -.2l-5.6 -3.8z"/><path fill="#0000db" d="M498.3 1863.5l5.6 2.1l4.5 -.9l-5.6 -2z"/><path fill="#0023ff" d="M383.7 1849.4l5.5 2.1l4.5 -.6l-5.6 -2.2z"/><path fill="#0000d6" d="M508.4 1864.7l5.5 2.1l4.5 -.9l-5.6 -2z"/><path fill="#001cff" d="M393.7 1850.9l5.6 2.1l4.4 -.7l-5.6 -2.1z"/><path fill="#0015ff" d="M403.7 1852.3l5.6 2.2l4.4 -.8l-5.6 -2.1z"/><path fill="#0000d1" d="M518.4 1865.9l5.5 2l4.5 -.8l-5.6 -2z"/><path fill="#000eff" d="M413.7 1853.7l5.6 2.2l4.4 -.8l-5.5 -2.1z"/><path fill="#980000" d="M239.9 1688.3l5.6 1.7l4.5 -.7l-5.6 -1.8z"/><path fill="#6dff92" d="M286.8 1788.5l5.5 23.4l4.5 3.9l-5.6 -20.4z"/><path fill="#0000cc" d="M528.4 1867.1l5.6 2l4.4 -.9l-5.6 -2z"/><path fill="#0008ff" d="M423.7 1855.1l5.6 2.2l4.5 -.8l-5.6 -2.1z"/><path fill="#a90000" d="M270.0 1692.2l5.6 3.3l4.4 .2l-5.5 -3.9z"/><path fill="#9c0000" d="M250.0 1689.3l5.5 1.8l4.5 -.6l-5.6 -2z"/><path fill="#0002ff" d="M433.8 1856.5l5.5 2.1l4.5 -.7l-5.6 -2.1z"/><path fill="#0000c7" d="M538.4 1868.2l5.6 2l4.4 -.8l-5.5 -2z"/><path fill="#e9ff16" d="M285.7 1765.8l5.5 29.6l4.5 6.1l-5.6 -27.6z"/><path fill="#a10000" d="M260.0 1690.5l5.6 2.2l4.4 -.5l-5.6 -2.4z"/><path fill="#0000fb" d="M443.8 1857.9l5.6 2.1l4.4 -.8l-5.6 -2.1z"/><path fill="#0000c3" d="M548.4 1869.4l5.6 1.9l4.5 -.8l-5.6 -2z"/><path fill="#0000f5" d="M453.8 1859.2l5.6 2.1l4.4 -.8l-5.6 -2.1z"/><path fill="#00b1ff" d="M293.5 1823.3l5.5 8.7l4.5 .6l-5.6 -7.2z"/><path fill="#0000ef" d="M463.8 1860.5l5.6 2.1l4.4 -.8l-5.5 -2.1z"/><path fill="#0000e9" d="M473.8 1861.8l5.6 2.1l4.5 -.8l-5.6 -2.1z"/><path fill="#005aff" d="M319.1 1839.5l5.6 2.5l4.4 -.5l-5.6 -2.4z"/><path fill="#0cfff3" d="M287.9 1807.0l5.6 16.3l4.4 2.1l-5.6 -13.5z"/><path fill="#0050ff" d="M329.1 1841.5l5.6 2.3l4.4 -.5l-5.5 -2.3z"/><path fill="#0047ff" d="M339.1 1843.3l5.6 2.3l4.4 -.5l-5.5 -2.3z"/><path fill="#0068ff" d="M309.1 1836.9l5.5 3l4.5 -.4l-5.6 -2.8z"/><path fill="#0000e4" d="M483.9 1863.1l5.5 2.1l4.5 -.9l-5.6 -2z"/><path fill="#003fff" d="M349.1 1845.1l5.6 2.2l4.5 -.6l-5.6 -2.2z"/><path fill="#0037ff" d="M359.2 1846.7l5.5 2.3l4.5 -.6l-5.6 -2.2z"/><path fill="#0000de" d="M493.9 1864.3l5.6 2.1l4.4 -.8l-5.6 -2.1z"/><path fill="#002fff" d="M369.2 1848.4l5.6 2.2l4.4 -.6l-5.6 -2.2z"/><path fill="#ff9800" d="M284.5 1742.8l5.6 31.1l4.4 8.1l-5.5 -31.7z"/><path fill="#ce0000" d="M281.2 1701.5l5.5 12l4.5 4.2l-5.6 -14.7z"/><path fill="#0027ff" d="M379.2 1850.0l5.6 2.2l4.4 -.7l-5.5 -2.1z"/><path fill="#b30000" d="M275.6 1695.5l5.6 6l4.4 1.5l-5.6 -7.3z"/><path fill="#0000d9" d="M503.9 1865.6l5.6 2l4.4 -.8l-5.5 -2.1z"/><path fill="#0020ff" d="M389.2 1851.5l5.6 2.2l4.5 -.7l-5.6 -2.1z"/><path fill="#0084ff" d="M299.0 1832.0l5.6 5l4.5 -.1l-5.6 -4.3z"/><path fill="#0019ff" d="M399.3 1853.0l5.5 2.2l4.5 -.7l-5.6 -2.2z"/><path fill="#0000d4" d="M513.9 1866.8l5.6 2l4.4 -.9l-5.5 -2z"/><path fill="#0012ff" d="M409.3 1854.5l5.5 2.1l4.5 -.7l-5.6 -2.2z"/><path fill="#940000" d="M235.5 1689.0l5.6 1.8l4.4 -.8l-5.6 -1.7z"/><path fill="#0000cf" d="M523.9 1867.9l5.6 2.1l4.5 -.9l-5.6 -2z"/><path fill="#000cff" d="M419.3 1855.9l5.6 2.1l4.4 -.7l-5.6 -2.2z"/><path fill="#980000" d="M245.5 1690.0l5.6 1.9l4.4 -.8l-5.5 -1.8z"/><path fill="#0006ff" d="M429.3 1857.3l5.6 2.1l4.4 -.8l-5.5 -2.1z"/><path fill="#0000ca" d="M534.0 1869.1l5.5 2l4.5 -.9l-5.6 -2z"/><path fill="#a30000" d="M265.6 1692.7l5.5 2.9l4.5 -.1l-5.6 -3.3z"/><path fill="#9c0000" d="M255.5 1691.1l5.6 2.1l4.5 -.5l-5.6 -2.2z"/><path fill="#0000fe" d="M439.3 1858.6l5.6 2.2l4.5 -.8l-5.6 -2.1z"/><path fill="#0000c6" d="M544.0 1870.2l5.6 2l4.4 -.9l-5.6 -1.9z"/><path fill="#ff3400" d="M283.4 1723.8l5.6 26.5l4.4 8.4l-5.5 -29.4z"/><path fill="#0000f8" d="M449.4 1860.0l5.5 2.1l4.5 -.8l-5.6 -2.1z"/><path fill="#f20000" d="M282.3 1710.4l5.6 18.9l4.4 6.7l-5.6 -22.5z"/><path fill="#0000c1" d="M554.0 1871.3l5.6 2l4.4 -.9l-5.5 -1.9z"/><path fill="#0000f3" d="M459.4 1861.3l5.5 2.1l4.5 -.8l-5.6 -2.1z"/><path fill="#0000ed" d="M469.4 1862.6l5.6 2.1l4.4 -.8l-5.6 -2.1z"/><path fill="#0000e7" d="M479.4 1863.9l5.6 2.1l4.4 -.8l-5.5 -2.1z"/><path fill="#0060ff" d="M314.6 1839.9l5.6 2.6l4.5 -.5l-5.6 -2.5z"/><path fill="#0055ff" d="M324.7 1842.0l5.5 2.4l4.5 -.6l-5.6 -2.3z"/><path fill="#004cff" d="M334.7 1843.8l5.6 2.3l4.4 -.5l-5.6 -2.3z"/><path fill="#0044ff" d="M344.7 1845.6l5.6 2.2l4.4 -.5l-5.6 -2.2z"/><path fill="#0070ff" d="M304.6 1837.0l5.6 3.3l4.4 -.4l-5.5 -3z"/><path fill="#00ccff" d="M289.0 1820.3l5.6 10.7l4.4 1l-5.5 -8.7z"/><path fill="#0000e2" d="M489.4 1865.2l5.6 2l4.5 -.8l-5.6 -2.1z"/><path fill="#003cff" d="M354.7 1847.3l5.6 2.2l4.4 -.5l-5.5 -2.3z"/><path fill="#0034ff" d="M364.7 1849.0l5.6 2.2l4.5 -.6l-5.6 -2.2z"/><path fill="#002cff" d="M374.8 1850.6l5.5 2.2l4.5 -.6l-5.6 -2.2z"/><path fill="#0000dc" d="M499.5 1866.4l5.5 2l4.5 -.8l-5.6 -2z"/><path fill="#0024ff" d="M384.8 1852.2l5.6 2.2l4.4 -.7l-5.6 -2.2z"/><path fill="#0000d7" d="M509.5 1867.6l5.5 2l4.5 -.8l-5.6 -2z"/><path fill="#001dff" d="M394.8 1853.7l5.6 2.2l4.4 -.7l-5.5 -2.2z"/><path fill="#a6ff59" d="M282.3 1780.9l5.6 26.1l4.4 4.9l-5.5 -23.4z"/><path fill="#ab0000" d="M271.1 1695.6l5.6 5l4.5 .9l-5.6 -6z"/><path fill="#0016ff" d="M404.8 1855.2l5.6 2.2l4.4 -.8l-5.5 -2.1z"/><path fill="#910000" d="M231.1 1689.8l5.5 1.8l4.5 -.8l-5.6 -1.8z"/><path fill="#0093ff" d="M294.6 1831.0l5.6 5.9l4.4 .1l-5.6 -5z"/><path fill="#0000d2" d="M519.5 1868.8l5.6 2l4.4 -.8l-5.6 -2.1z"/><path fill="#0010ff" d="M414.8 1856.6l5.6 2.2l4.5 -.8l-5.6 -2.1z"/><path fill="#940000" d="M241.1 1690.8l5.5 1.8l4.5 -.7l-5.6 -1.9z"/><path fill="#0000cd" d="M529.5 1870.0l5.6 2l4.4 -.9l-5.5 -2z"/><path fill="#0009ff" d="M424.9 1858.0l5.5 2.2l4.5 -.8l-5.6 -2.1z"/><path fill="#c00000" d="M276.7 1700.6l5.6 9.8l4.4 3.1l-5.5 -12z"/><path fill="#3bffc4" d="M283.5 1801.1l5.5 19.2l4.5 3l-5.6 -16.3z"/><path fill="#0003ff" d="M434.9 1859.4l5.6 2.1l4.4 -.7l-5.6 -2.2z"/><path fill="#990000" d="M251.1 1691.9l5.6 2l4.4 -.7l-5.6 -2.1z"/><path fill="#0000c9" d="M539.5 1871.1l5.6 2l4.5 -.9l-5.6 -2z"/><path fill="#9f0000" d="M261.1 1693.2l5.6 2.7l4.4 -.3l-5.5 -2.9z"/><path fill="#ffdb00" d="M281.2 1757.9l5.6 30.6l4.4 6.9l-5.5 -29.6z"/><path fill="#0000fc" d="M444.9 1860.8l5.6 2.1l4.4 -.8l-5.5 -2.1z"/><path fill="#0000c4" d="M549.6 1872.2l5.5 2l4.5 -.9l-5.6 -2z"/><path fill="#0000f6" d="M454.9 1862.1l5.6 2.1l4.4 -.8l-5.5 -2.1z"/><path fill="#0000bf" d="M559.6 1873.3l5.6 2l4.4 -.9l-5.6 -2z"/><path fill="#0000f0" d="M464.9 1863.4l5.6 2.1l4.5 -.8l-5.6 -2.1z"/><path fill="#0000eb" d="M475.0 1864.7l5.5 2.1l4.5 -.8l-5.6 -2.1z"/><path fill="#005bff" d="M320.2 1842.5l5.6 2.4l4.4 -.5l-5.5 -2.4z"/><path fill="#0066ff" d="M310.2 1840.3l5.6 2.7l4.4 -.5l-5.6 -2.6z"/><path fill="#0052ff" d="M330.2 1844.4l5.6 2.3l4.5 -.6l-5.6 -2.3z"/><path fill="#0000e5" d="M485.0 1866.0l5.6 2.1l4.4 -.9l-5.6 -2z"/><path fill="#0049ff" d="M340.3 1846.1l5.5 2.3l4.5 -.6l-5.6 -2.2z"/><path fill="#0041ff" d="M350.3 1847.8l5.5 2.3l4.5 -.6l-5.6 -2.2z"/><path fill="#0079ff" d="M300.2 1836.9l5.5 3.8l4.5 -.4l-5.6 -3.3z"/><path fill="#0039ff" d="M360.3 1849.5l5.6 2.3l4.4 -.6l-5.6 -2.2z"/><path fill="#0000e0" d="M495.0 1867.2l5.6 2.1l4.4 -.9l-5.5 -2z"/><path fill="#0031ff" d="M370.3 1851.2l5.6 2.2l4.4 -.6l-5.5 -2.2z"/><path fill="#0029ff" d="M380.3 1852.8l5.6 2.2l4.5 -.6l-5.6 -2.2z"/><path fill="#0000da" d="M505.0 1868.4l5.6 2.1l4.4 -.9l-5.5 -2z"/><path fill="#ff6600" d="M280.1 1736.3l5.6 29.5l4.4 8.1l-5.6 -31.1z"/><path fill="#0021ff" d="M390.4 1854.4l5.5 2.2l4.5 -.7l-5.6 -2.2z"/><path fill="#8d0000" d="M226.6 1690.7l5.6 1.7l4.4 -.8l-5.5 -1.8z"/><path fill="#001aff" d="M400.4 1855.9l5.5 2.2l4.5 -.7l-5.6 -2.2z"/><path fill="#0000d5" d="M515.0 1869.6l5.6 2.1l4.5 -.9l-5.6 -2z"/><path fill="#0014ff" d="M410.4 1857.4l5.6 2.1l4.4 -.7l-5.6 -2.2z"/><path fill="#db0000" d="M277.8 1708.1l5.6 15.7l4.5 5.5l-5.6 -18.9z"/><path fill="#0000d0" d="M525.1 1870.8l5.5 2.1l4.5 -.9l-5.6 -2z"/><path fill="#a50000" d="M266.7 1695.9l5.6 4.2l4.4 .5l-5.6 -5z"/><path fill="#00eeff" d="M284.6 1816.3l5.6 13.1l4.4 1.6l-5.6 -10.7z"/><path fill="#910000" d="M236.6 1691.6l5.6 1.8l4.4 -.8l-5.5 -1.8z"/><path fill="#000dff" d="M420.4 1858.8l5.6 2.1l4.4 -.7l-5.5 -2.2z"/><path fill="#00a6ff" d="M290.2 1829.4l5.5 7.2l4.5 .3l-5.6 -5.9z"/><path fill="#0007ff" d="M430.4 1860.2l5.6 2.1l4.5 -.8l-5.6 -2.1z"/><path fill="#0000cc" d="M535.1 1872.0l5.6 2l4.4 -.9l-5.6 -2z"/><path fill="#950000" d="M246.6 1692.6l5.6 2l4.5 -.7l-5.6 -2z"/><path fill="#9a0000" d="M256.7 1693.9l5.5 2.5l4.5 -.5l-5.6 -2.7z"/><path fill="#0001ff" d="M440.5 1861.5l5.5 2.2l4.5 -.8l-5.6 -2.1z"/><path fill="#ff1100" d="M279.0 1719.5l5.5 23.3l4.5 7.5l-5.6 -26.5z"/><path fill="#0000c7" d="M545.1 1873.1l5.6 2l4.4 -.9l-5.5 -2z"/><path fill="#0000fa" d="M450.5 1862.9l5.6 2.1l4.4 -.8l-5.6 -2.1z"/><path fill="#0000c2" d="M555.1 1874.2l5.6 2l4.5 -.9l-5.6 -2z"/><path fill="#0000f4" d="M460.5 1864.2l5.6 2.1l4.4 -.8l-5.6 -2.1z"/><path fill="#b40000" d="M272.3 1700.1l5.5 8l4.5 2.3l-5.6 -9.8z"/><path fill="#0000ee" d="M470.5 1865.5l5.6 2.1l4.4 -.8l-5.5 -2.1z"/><path fill="#0060ff" d="M315.8 1843.0l5.5 2.5l4.5 -.6l-5.6 -2.4z"/><path fill="#0000e8" d="M480.5 1866.8l5.6 2.1l4.5 -.8l-5.6 -2.1z"/><path fill="#006cff" d="M305.7 1840.7l5.6 2.9l4.5 -.6l-5.6 -2.7z"/><path fill="#0057ff" d="M325.8 1844.9l5.6 2.3l4.4 -.5l-5.6 -2.3z"/><path fill="#004eff" d="M335.8 1846.7l5.6 2.3l4.4 -.6l-5.5 -2.3z"/><path fill="#0046ff" d="M345.8 1848.4l5.6 2.2l4.4 -.5l-5.5 -2.3z"/><path fill="#0000e3" d="M490.6 1868.1l5.5 2l4.5 -.8l-5.6 -2.1z"/><path fill="#003eff" d="M355.8 1850.1l5.6 2.2l4.5 -.5l-5.6 -2.3z"/><path fill="#0035ff" d="M365.9 1851.8l5.5 2.2l4.5 -.6l-5.6 -2.2z"/><path fill="#0083ff" d="M295.7 1836.6l5.6 4.4l4.4 -.3l-5.5 -3.8z"/><path fill="#0000de" d="M500.6 1869.3l5.6 2.1l4.4 -.9l-5.6 -2.1z"/><path fill="#002eff" d="M375.9 1853.4l5.6 2.2l4.4 -.6l-5.6 -2.2z"/><path fill="#0026ff" d="M385.9 1855.0l5.6 2.2l4.4 -.6l-5.5 -2.2z"/><path fill="#8b0000" d="M222.2 1691.6l5.5 1.7l4.5 -.9l-5.6 -1.7z"/><path fill="#0000d8" d="M510.6 1870.5l5.6 2.1l4.4 -.9l-5.6 -2.1z"/><path fill="#e2ff1d" d="M277.9 1772.7l5.6 28.4l4.4 5.9l-5.6 -26.1z"/><path fill="#001fff" d="M395.9 1856.6l5.6 2.2l4.4 -.7l-5.5 -2.2z"/><path fill="#71ff8e" d="M279.0 1793.8l5.6 22.5l4.4 4l-5.5 -19.2z"/><path fill="#0018ff" d="M405.9 1858.1l5.6 2.2l4.5 -.8l-5.6 -2.1z"/><path fill="#0000d3" d="M520.6 1871.7l5.6 2l4.4 -.8l-5.5 -2.1z"/><path fill="#8d0000" d="M232.2 1692.4l5.5 1.8l4.5 -.8l-5.6 -1.8z"/><path fill="#0011ff" d="M416.0 1859.5l5.5 2.2l4.5 -.8l-5.6 -2.1z"/><path fill="#0000cf" d="M530.6 1872.9l5.6 2l4.5 -.9l-5.6 -2z"/><path fill="#9f0000" d="M262.2 1696.4l5.6 3.6l4.5 .1l-5.6 -4.2z"/><path fill="#000aff" d="M426.0 1860.9l5.6 2.2l4.4 -.8l-5.6 -2.1z"/><path fill="#910000" d="M242.2 1693.4l5.6 1.9l4.4 -.7l-5.6 -2z"/><path fill="#0004ff" d="M436.0 1862.3l5.6 2.2l4.4 -.8l-5.5 -2.2z"/><path fill="#960000" d="M252.2 1694.6l5.6 2.3l4.4 -.5l-5.5 -2.5z"/><path fill="#0000ca" d="M540.7 1874.0l5.5 2l4.5 -.9l-5.6 -2z"/><path fill="#0000fd" d="M446.0 1863.7l5.6 2.1l4.5 -.8l-5.6 -2.1z"/><path fill="#0000c5" d="M550.7 1875.1l5.6 2l4.4 -.9l-5.6 -2z"/><path fill="#ffa300" d="M276.8 1750.3l5.5 30.6l4.5 7.6l-5.6 -30.6z"/><path fill="#0000f7" d="M456.1 1865.0l5.5 2.1l4.5 -.8l-5.6 -2.1z"/><path fill="#00bdff" d="M285.7 1827.1l5.6 8.9l4.4 .6l-5.5 -7.2z"/><path fill="#0000f1" d="M466.1 1866.3l5.5 2.1l4.5 -.8l-5.6 -2.1z"/><path fill="#0000ec" d="M476.1 1867.6l5.6 2.1l4.4 -.8l-5.6 -2.1z"/><path fill="#c90000" d="M273.4 1706.6l5.6 12.9l4.4 4.3l-5.6 -15.7z"/><path fill="#19ffe6" d="M280.1 1810.9l5.6 16.2l4.5 2.3l-5.6 -13.1z"/><path fill="#0065ff" d="M311.3 1843.6l5.6 2.5l4.4 -.6l-5.5 -2.5z"/><path fill="#005cff" d="M321.3 1845.5l5.6 2.3l4.5 -.6l-5.6 -2.3z"/><path fill="#0073ff" d="M301.3 1841.0l5.6 3.1l4.4 -.5l-5.6 -2.9z"/><path fill="#0053ff" d="M331.4 1847.2l5.5 2.3l4.5 -.5l-5.6 -2.3z"/><path fill="#0000e6" d="M486.1 1868.9l5.6 2.1l4.4 -.9l-5.5 -2z"/><path fill="#004bff" d="M341.4 1849.0l5.6 2.2l4.4 -.6l-5.6 -2.2z"/><path fill="#ab0000" d="M267.8 1700.0l5.6 6.6l4.4 1.5l-5.5 -8z"/><path fill="#0042ff" d="M351.4 1850.6l5.6 2.3l4.4 -.6l-5.6 -2.2z"/><path fill="#003aff" d="M361.4 1852.3l5.6 2.3l4.4 -.6l-5.5 -2.2z"/><path fill="#0000e1" d="M496.1 1870.1l5.6 2.1l4.5 -.8l-5.6 -2.1z"/><path fill="#0032ff" d="M371.4 1854.0l5.6 2.2l4.5 -.6l-5.6 -2.2z"/><path fill="#890000" d="M217.7 1692.6l5.6 1.8l4.4 -1.1l-5.5 -1.7z"/><path fill="#002bff" d="M381.5 1855.6l5.5 2.2l4.5 -.6l-5.6 -2.2z"/><path fill="#0090ff" d="M291.3 1836.0l5.5 5.1l4.5 -.1l-5.6 -4.4z"/><path fill="#0000dc" d="M506.2 1871.4l5.5 2l4.5 -.8l-5.6 -2.1z"/><path fill="#ff3b00" d="M275.6 1730.7l5.6 27.2l4.5 7.9l-5.6 -29.5z"/><path fill="#0023ff" d="M391.5 1857.2l5.6 2.2l4.4 -.6l-5.6 -2.2z"/><path fill="#001cff" d="M401.5 1858.8l5.6 2.1l4.4 -.6l-5.6 -2.2z"/><path fill="#0000d6" d="M516.2 1872.6l5.5 2l4.5 -.9l-5.6 -2z"/><path fill="#8b0000" d="M227.7 1693.3l5.6 1.8l4.4 -.9l-5.5 -1.8z"/><path fill="#0015ff" d="M411.5 1860.3l5.6 2.1l4.4 -.7l-5.5 -2.2z"/><path fill="#f30000" d="M274.5 1716.3l5.6 20l4.4 6.5l-5.5 -23.3z"/><path fill="#0000d2" d="M526.2 1873.7l5.6 2.1l4.4 -.9l-5.6 -2z"/><path fill="#000eff" d="M421.5 1861.7l5.6 2.2l4.5 -.8l-5.6 -2.2z"/><path fill="#8e0000" d="M237.7 1694.2l5.6 1.9l4.5 -.8l-5.6 -1.9z"/><path fill="#9a0000" d="M257.8 1696.9l5.6 3.2l4.4 -.1l-5.6 -3.6z"/><path fill="#0008ff" d="M431.6 1863.1l5.5 2.1l4.5 -.7l-5.6 -2.2z"/><path fill="#0000cd" d="M536.2 1874.9l5.6 2l4.4 -.9l-5.5 -2z"/><path fill="#920000" d="M247.8 1695.3l5.5 2.2l4.5 -.6l-5.6 -2.3z"/><path fill="#000080" d="M124.3 1881.8l5.6 1.7l4.4 -53.2l-5.6 -2.1z"/><path fill="#0002ff" d="M441.6 1864.5l5.6 2.1l4.4 -.8l-5.6 -2.1z"/><path fill="#0000c8" d="M546.2 1876.0l5.6 2.1l4.5 -1l-5.6 -2z"/><path fill="#0000fb" d="M451.6 1865.8l5.6 2.1l4.4 -.8l-5.5 -2.1z"/><path fill="#0000f5" d="M461.6 1867.1l5.6 2.2l4.4 -.9l-5.5 -2.1z"/><path fill="#0000ef" d="M471.6 1868.4l5.6 2.1l4.5 -.8l-5.6 -2.1z"/><path fill="#006aff" d="M306.9 1844.1l5.5 2.6l4.5 -.6l-5.6 -2.5z"/><path fill="#0060ff" d="M316.9 1846.1l5.6 2.4l4.4 -.7l-5.6 -2.3z"/><path fill="#0000e9" d="M481.7 1869.7l5.5 2.1l4.5 -.8l-5.6 -2.1z"/><path fill="#0058ff" d="M326.9 1847.8l5.6 2.4l4.4 -.7l-5.5 -2.3z"/><path fill="#007bff" d="M296.8 1841.1l5.6 3.5l4.5 -.5l-5.6 -3.1z"/><path fill="#004fff" d="M336.9 1849.5l5.6 2.3l4.5 -.6l-5.6 -2.2z"/><path fill="#0047ff" d="M347.0 1851.2l5.5 2.3l4.5 -.6l-5.6 -2.3z"/><path fill="#0000e4" d="M491.7 1871.0l5.6 2.1l4.4 -.9l-5.6 -2.1z"/><path fill="#00dbff" d="M281.3 1823.7l5.5 11.1l4.5 1.2l-5.6 -8.9z"/><path fill="#003fff" d="M357.0 1852.9l5.5 2.3l4.5 -.6l-5.6 -2.3z"/><path fill="#870000" d="M213.3 1693.8l5.5 1.7l4.5 -1.1l-5.6 -1.8z"/><path fill="#0037ff" d="M367.0 1854.6l5.6 2.2l4.4 -.6l-5.6 -2.2z"/><path fill="#0000df" d="M501.7 1872.2l5.6 2.1l4.4 -.9l-5.5 -2z"/><path fill="#002fff" d="M377.0 1856.2l5.6 2.2l4.4 -.6l-5.5 -2.2z"/><path fill="#a30000" d="M263.4 1700.1l5.5 5.5l4.5 1l-5.6 -6.6z"/><path fill="#afff50" d="M274.6 1785.3l5.5 25.6l4.5 5.4l-5.6 -22.5z"/><path fill="#0028ff" d="M387.0 1857.8l5.6 2.2l4.5 -.6l-5.6 -2.2z"/><path fill="#0000da" d="M511.7 1873.4l5.6 2.1l4.4 -.9l-5.5 -2z"/><path fill="#890000" d="M223.3 1694.4l5.6 1.7l4.4 -1l-5.6 -1.8z"/><path fill="#0020ff" d="M397.1 1859.4l5.5 2.2l4.5 -.7l-5.6 -2.1z"/><path fill="#00a0ff" d="M286.8 1834.8l5.6 6.3l4.4 0l-5.5 -5.1z"/><path fill="#ba0000" d="M268.9 1705.6l5.6 10.7l4.5 3.2l-5.6 -12.9z"/><path fill="#0019ff" d="M407.1 1860.9l5.5 2.2l4.5 -.7l-5.6 -2.1z"/><path fill="#ffdd00" d="M273.4 1764.0l5.6 29.8l4.5 7.3l-5.6 -28.4z"/><path fill="#0000d5" d="M521.7 1874.6l5.6 2.1l4.5 -.9l-5.6 -2.1z"/><path fill="#0012ff" d="M417.1 1862.4l5.6 2.2l4.4 -.7l-5.6 -2.2z"/><path fill="#8b0000" d="M233.3 1695.1l5.6 1.8l4.4 -.8l-5.6 -1.9z"/><path fill="#0000d0" d="M531.8 1875.8l5.5 2l4.5 -.9l-5.6 -2z"/><path fill="#000bff" d="M427.1 1863.9l5.6 2.1l4.4 -.8l-5.5 -2.1z"/><path fill="#8e0000" d="M243.3 1696.1l5.6 2.1l4.4 -.7l-5.5 -2.2z"/><path fill="#950000" d="M253.3 1697.5l5.6 2.9l4.5 -.3l-5.6 -3.2z"/><path fill="#0005ff" d="M437.1 1865.2l5.6 2.2l4.5 -.8l-5.6 -2.1z"/><path fill="#0000cb" d="M541.8 1876.9l5.6 2.1l4.4 -.9l-5.6 -2.1z"/><path fill="#4cffb3" d="M275.7 1804.1l5.6 19.6l4.4 3.4l-5.6 -16.2z"/><path fill="#000080" d="M129.9 1883.5l5.5 1.8l4.5 -52.5l-5.6 -2.5z"/><path fill="#0000fe" d="M447.2 1866.6l5.5 2.2l4.5 -.9l-5.6 -2.1z"/><path fill="#0000f8" d="M457.2 1867.9l5.5 2.2l4.5 -.8l-5.6 -2.2z"/><path fill="#ff6e00" d="M272.3 1743.3l5.6 29.4l4.4 8.2l-5.5 -30.6z"/><path fill="#0000f2" d="M467.2 1869.3l5.6 2.1l4.4 -.9l-5.6 -2.1z"/><path fill="#0000ed" d="M477.2 1870.5l5.6 2.2l4.4 -.9l-5.5 -2.1z"/><path fill="#0070ff" d="M302.4 1844.6l5.6 2.8l4.4 -.7l-5.5 -2.6z"/><path fill="#0065ff" d="M312.4 1846.7l5.6 2.5l4.5 -.7l-5.6 -2.4z"/><path fill="#005cff" d="M322.5 1848.5l5.5 2.3l4.5 -.6l-5.6 -2.4z"/><path fill="#870000" d="M208.8 1695.1l5.6 1.7l4.4 -1.3l-5.5 -1.7z"/><path fill="#0054ff" d="M332.5 1850.2l5.6 2.3l4.4 -.7l-5.6 -2.3z"/><path fill="#0000e7" d="M487.2 1871.8l5.6 2.1l4.5 -.8l-5.6 -2.1z"/><path fill="#0083ff" d="M292.4 1841.1l5.6 4l4.4 -.5l-5.6 -3.5z"/><path fill="#004cff" d="M342.5 1851.8l5.6 2.3l4.4 -.6l-5.5 -2.3z"/><path fill="#db0000" d="M270.1 1713.8l5.5 16.9l4.5 5.6l-5.6 -20z"/><path fill="#0044ff" d="M352.5 1853.5l5.6 2.3l4.4 -.6l-5.5 -2.3z"/><path fill="#0000e2" d="M497.3 1873.1l5.5 2.1l4.5 -.9l-5.6 -2.1z"/><path fill="#003cff" d="M362.5 1855.2l5.6 2.2l4.5 -.6l-5.6 -2.2z"/><path fill="#0034ff" d="M372.6 1856.8l5.5 2.3l4.5 -.7l-5.6 -2.2z"/><path fill="#ff1600" d="M271.2 1726.1l5.6 24.2l4.4 7.6l-5.6 -27.2z"/><path fill="#880000" d="M218.8 1695.5l5.6 1.8l4.5 -1.2l-5.6 -1.7z"/><path fill="#002cff" d="M382.6 1858.4l5.6 2.3l4.4 -.7l-5.6 -2.2z"/><path fill="#0000dd" d="M507.3 1874.3l5.6 2.1l4.4 -.9l-5.6 -2.1z"/><path fill="#0025ff" d="M392.6 1860.0l5.6 2.3l4.4 -.7l-5.5 -2.2z"/><path fill="#9c0000" d="M258.9 1700.4l5.6 4.6l4.4 .6l-5.5 -5.5z"/><path fill="#0000d8" d="M517.3 1875.5l5.6 2.1l4.4 -.9l-5.6 -2.1z"/><path fill="#001dff" d="M402.6 1861.6l5.6 2.2l4.4 -.7l-5.5 -2.2z"/><path fill="#890000" d="M228.9 1696.1l5.5 1.8l4.5 -1l-5.6 -1.8z"/><path fill="#0016ff" d="M412.6 1863.1l5.6 2.2l4.5 -.7l-5.6 -2.2z"/><path fill="#0000d3" d="M527.3 1876.7l5.6 2l4.4 -.9l-5.5 -2z"/><path fill="#000fff" d="M422.7 1864.6l5.5 2.2l4.5 -.8l-5.6 -2.1z"/><path fill="#8b0000" d="M238.9 1696.9l5.5 2.1l4.5 -.8l-5.6 -2.1z"/><path fill="#01fffe" d="M276.8 1819.1l5.6 13.9l4.4 1.8l-5.5 -11.1z"/><path fill="#00b4ff" d="M282.4 1833.0l5.6 7.8l4.4 .3l-5.6 -6.3z"/><path fill="#0009ff" d="M432.7 1866.0l5.6 2.2l4.4 -.8l-5.6 -2.2z"/><path fill="#910000" d="M248.9 1698.2l5.6 2.6l4.4 -.4l-5.6 -2.9z"/><path fill="#0000ce" d="M537.3 1877.8l5.6 2.1l4.5 -.9l-5.6 -2.1z"/><path fill="#0003ff" d="M442.7 1867.4l5.6 2.2l4.4 -.8l-5.5 -2.2z"/><path fill="#ae0000" d="M264.5 1705.0l5.6 8.8l4.4 2.5l-5.6 -10.7z"/><path fill="#000080" d="M135.4 1885.3l5.6 1.7l4.5 -51.1l-5.6 -3.1z"/><path fill="#0000fc" d="M452.7 1868.8l5.6 2.1l4.4 -.8l-5.5 -2.2z"/><path fill="#0000f6" d="M462.7 1870.1l5.6 2.1l4.5 -.8l-5.6 -2.1z"/><path fill="#0000f0" d="M472.8 1871.4l5.5 2.1l4.5 -.8l-5.6 -2.2z"/><path fill="#870000" d="M204.4 1696.4l5.5 1.7l4.5 -1.3l-5.6 -1.7z"/><path fill="#0069ff" d="M308.0 1847.4l5.6 2.5l4.4 -.7l-5.6 -2.5z"/><path fill="#0075ff" d="M298.0 1845.1l5.5 3l4.5 -.7l-5.6 -2.8z"/><path fill="#0060ff" d="M318.0 1849.2l5.6 2.3l4.4 -.7l-5.5 -2.3z"/><path fill="#0000ea" d="M482.8 1872.7l5.6 2.1l4.4 -.9l-5.6 -2.1z"/><path fill="#0058ff" d="M328.0 1850.8l5.6 2.3l4.5 -.6l-5.6 -2.3z"/><path fill="#0051ff" d="M338.1 1852.5l5.5 2.3l4.5 -.7l-5.6 -2.3z"/><path fill="#0000e5" d="M492.8 1873.9l5.6 2.1l4.4 -.8l-5.5 -2.1z"/><path fill="#0049ff" d="M348.1 1854.1l5.5 2.3l4.5 -.6l-5.6 -2.3z"/><path fill="#008eff" d="M288.0 1840.8l5.5 4.7l4.5 -.4l-5.6 -4z"/><path fill="#870000" d="M214.4 1696.8l5.6 1.8l4.4 -1.3l-5.6 -1.8z"/><path fill="#0041ff" d="M358.1 1855.8l5.6 2.2l4.4 -.6l-5.6 -2.2z"/><path fill="#0039ff" d="M368.1 1857.4l5.6 2.3l4.4 -.6l-5.5 -2.3z"/><path fill="#0000e0" d="M502.8 1875.2l5.6 2l4.5 -.8l-5.6 -2.1z"/><path fill="#0031ff" d="M378.1 1859.1l5.6 2.2l4.5 -.6l-5.6 -2.3z"/><path fill="#0029ff" d="M388.2 1860.7l5.5 2.2l4.5 -.6l-5.6 -2.3z"/><path fill="#0000da" d="M512.9 1876.4l5.5 2l4.5 -.8l-5.6 -2.1z"/><path fill="#880000" d="M224.4 1697.3l5.6 1.8l4.4 -1.2l-5.5 -1.8z"/><path fill="#0022ff" d="M398.2 1862.3l5.5 2.2l4.5 -.7l-5.6 -2.2z"/><path fill="#f0ff0f" d="M270.1 1776.2l5.6 27.9l4.4 6.8l-5.5 -25.6z"/><path fill="#001aff" d="M408.2 1863.8l5.6 2.2l4.4 -.7l-5.6 -2.2z"/><path fill="#0000d5" d="M522.9 1877.6l5.5 2l4.5 -.9l-5.6 -2z"/><path fill="#960000" d="M254.5 1700.8l5.5 4l4.5 .2l-5.6 -4.6z"/><path fill="#0013ff" d="M418.2 1865.3l5.6 2.2l4.4 -.7l-5.5 -2.2z"/><path fill="#890000" d="M234.4 1697.9l5.6 2l4.4 -.9l-5.5 -2.1z"/><path fill="#86ff79" d="M271.2 1796.1l5.6 23l4.5 4.6l-5.6 -19.6z"/><path fill="#0000d1" d="M532.9 1878.7l5.6 2.1l4.4 -.9l-5.6 -2.1z"/><path fill="#000dff" d="M428.2 1866.8l5.6 2.2l4.5 -.8l-5.6 -2.2z"/><path fill="#8d0000" d="M244.4 1699.0l5.6 2.4l4.5 -.6l-5.6 -2.6z"/><path fill="#ff9f00" d="M269.0 1755.5l5.6 29.8l4.4 8.5l-5.6 -29.8z"/><path fill="#0006ff" d="M438.3 1868.2l5.5 2.2l4.5 -.8l-5.6 -2.2z"/><path fill="#000080" d="M141.0 1887.0l5.6 1.8l4.4 -48.7l-5.5 -4.2z"/><path fill="#c70000" d="M265.6 1712.1l5.6 14l4.4 4.6l-5.5 -16.9z"/><path fill="#0000ff" d="M448.3 1869.6l5.6 2.1l4.4 -.8l-5.6 -2.1z"/><path fill="#0000f9" d="M458.3 1870.9l5.6 2.1l4.4 -.8l-5.6 -2.1z"/><path fill="#00cdff" d="M277.9 1830.3l5.6 9.8l4.5 .7l-5.6 -7.8z"/><path fill="#860000" d="M199.9 1697.7l5.6 1.7l4.4 -1.3l-5.5 -1.7z"/><path fill="#0000f3" d="M468.3 1872.2l5.6 2.1l4.4 -.8l-5.5 -2.1z"/><path fill="#006dff" d="M303.5 1848.1l5.6 2.6l4.5 -.8l-5.6 -2.5z"/><path fill="#a40000" d="M260.0 1704.8l5.6 7.3l4.5 1.7l-5.6 -8.8z"/><path fill="#ff3e00" d="M267.9 1737.0l5.5 27l4.5 8.7l-5.6 -29.4z"/><path fill="#007bff" d="M293.5 1845.5l5.6 3.3l4.4 -.7l-5.5 -3z"/><path fill="#0064ff" d="M313.6 1849.9l5.5 2.4l4.5 -.8l-5.6 -2.3z"/><path fill="#0000ee" d="M478.3 1873.5l5.6 2.1l4.5 -.8l-5.6 -2.1z"/><path fill="#005cff" d="M323.6 1851.5l5.6 2.4l4.4 -.8l-5.6 -2.3z"/><path fill="#870000" d="M209.9 1698.1l5.6 1.8l4.5 -1.3l-5.6 -1.8z"/><path fill="#0055ff" d="M333.6 1853.1l5.6 2.4l4.4 -.7l-5.5 -2.3z"/><path fill="#0000e8" d="M488.4 1874.8l5.5 2.1l4.5 -.9l-5.6 -2.1z"/><path fill="#f50000" d="M266.7 1722.4l5.6 20.9l4.5 7l-5.6 -24.2z"/><path fill="#004dff" d="M343.6 1854.8l5.6 2.3l4.4 -.7l-5.5 -2.3z"/><path fill="#2fffd0" d="M272.4 1813.2l5.5 17.1l4.5 2.7l-5.6 -13.9z"/><path fill="#0045ff" d="M353.6 1856.4l5.6 2.3l4.5 -.7l-5.6 -2.2z"/><path fill="#0000e3" d="M498.4 1876.0l5.6 2.1l4.4 -.9l-5.6 -2z"/><path fill="#003dff" d="M363.7 1858.0l5.5 2.3l4.5 -.6l-5.6 -2.3z"/><path fill="#009bff" d="M283.5 1840.1l5.6 5.6l4.4 -.2l-5.5 -4.7z"/><path fill="#0036ff" d="M373.7 1859.7l5.6 2.2l4.4 -.6l-5.6 -2.2z"/><path fill="#870000" d="M220.0 1698.6l5.5 1.8l4.5 -1.3l-5.6 -1.8z"/><path fill="#0000dd" d="M508.4 1877.2l5.6 2.1l4.4 -.9l-5.5 -2z"/><path fill="#002eff" d="M383.7 1861.3l5.6 2.2l4.4 -.6l-5.5 -2.2z"/><path fill="#0026ff" d="M393.7 1862.9l5.6 2.2l4.4 -.6l-5.5 -2.2z"/><path fill="#0000d8" d="M518.4 1878.4l5.6 2.1l4.4 -.9l-5.5 -2z"/><path fill="#001fff" d="M403.7 1864.5l5.6 2.2l4.5 -.7l-5.6 -2.2z"/><path fill="#880000" d="M230.0 1699.1l5.6 1.9l4.4 -1.1l-5.6 -2z"/><path fill="#0017ff" d="M413.8 1866.0l5.5 2.2l4.5 -.7l-5.6 -2.2z"/><path fill="#0000d3" d="M528.4 1879.6l5.6 2.1l4.5 -.9l-5.6 -2.1z"/><path fill="#910000" d="M250.0 1701.4l5.6 3.4l4.4 0l-5.5 -4z"/><path fill="#0010ff" d="M423.8 1867.5l5.6 2.2l4.4 -.7l-5.6 -2.2z"/><path fill="#8a0000" d="M240.0 1699.9l5.6 2.2l4.4 -.7l-5.6 -2.4z"/><path fill="#000080" d="M146.6 1888.8l5.6 1.7l4.4 -44.7l-5.6 -5.7z"/><path fill="#000aff" d="M433.8 1869.0l5.6 2.2l4.4 -.8l-5.5 -2.2z"/><path fill="#0003ff" d="M443.8 1870.4l5.6 2.1l4.5 -.8l-5.6 -2.1z"/><path fill="#860000" d="M195.5 1699.0l5.5 1.7l4.5 -1.3l-5.6 -1.7z"/><path fill="#0000fc" d="M453.9 1871.7l5.5 2.2l4.5 -.9l-5.6 -2.1z"/><path fill="#0000f7" d="M463.9 1873.0l5.5 2.2l4.5 -.9l-5.6 -2.1z"/><path fill="#0072ff" d="M299.1 1848.8l5.6 2.7l4.4 -.8l-5.6 -2.6z"/><path fill="#0000f1" d="M473.9 1874.3l5.6 2.2l4.4 -.9l-5.6 -2.1z"/><path fill="#0068ff" d="M309.1 1850.7l5.6 2.4l4.4 -.8l-5.5 -2.4z"/><path fill="#860000" d="M205.5 1699.4l5.6 1.8l4.4 -1.3l-5.6 -1.8z"/><path fill="#0082ff" d="M289.1 1845.7l5.5 3.7l4.5 -.6l-5.6 -3.3z"/><path fill="#0060ff" d="M319.1 1852.3l5.6 2.3l4.5 -.7l-5.6 -2.4z"/><path fill="#0000eb" d="M483.9 1875.6l5.6 2.1l4.4 -.8l-5.5 -2.1z"/><path fill="#0059ff" d="M329.2 1853.9l5.5 2.3l4.5 -.7l-5.6 -2.4z"/><path fill="#0051ff" d="M339.2 1855.5l5.6 2.3l4.4 -.7l-5.6 -2.3z"/><path fill="#9c0000" d="M255.6 1704.8l5.6 6l4.4 1.3l-5.6 -7.3z"/><path fill="#0000e6" d="M493.9 1876.9l5.6 2.1l4.5 -.9l-5.6 -2.1z"/><path fill="#004aff" d="M349.2 1857.1l5.6 2.3l4.4 -.7l-5.6 -2.3z"/><path fill="#b70000" d="M261.2 1710.8l5.5 11.6l4.5 3.7l-5.6 -14z"/><path fill="#870000" d="M215.5 1699.9l5.6 1.7l4.4 -1.2l-5.5 -1.8z"/><path fill="#00edff" d="M273.5 1826.7l5.6 12.1l4.4 1.3l-5.6 -9.8z"/><path fill="#0042ff" d="M359.2 1858.7l5.6 2.3l4.4 -.7l-5.5 -2.3z"/><path fill="#003aff" d="M369.2 1860.3l5.6 2.3l4.5 -.7l-5.6 -2.2z"/><path fill="#0000e0" d="M504.0 1878.1l5.5 2.1l4.5 -.9l-5.6 -2.1z"/><path fill="#0032ff" d="M379.3 1861.9l5.5 2.3l4.5 -.7l-5.6 -2.2z"/><path fill="#002bff" d="M389.3 1863.5l5.6 2.3l4.4 -.7l-5.6 -2.2z"/><path fill="#000080" d="M152.2 1890.5l5.5 1.8l4.5 -38.8l-5.6 -7.7z"/><path fill="#0000db" d="M514.0 1879.3l5.5 2.1l4.5 -.9l-5.6 -2.1z"/><path fill="#870000" d="M225.5 1700.4l5.6 1.8l4.5 -1.2l-5.6 -1.9z"/><path fill="#00abff" d="M279.1 1838.8l5.5 6.9l4.5 0l-5.6 -5.6z"/><path fill="#0023ff" d="M399.3 1865.1l5.6 2.3l4.4 -.7l-5.6 -2.2z"/><path fill="#001cff" d="M409.3 1866.7l5.6 2.2l4.4 -.7l-5.5 -2.2z"/><path fill="#0000d6" d="M524.0 1880.5l5.6 2.1l4.4 -.9l-5.6 -2.1z"/><path fill="#890000" d="M235.6 1701.0l5.5 2.1l4.5 -1l-5.6 -2.2z"/><path fill="#0015ff" d="M419.3 1868.2l5.6 2.2l4.5 -.7l-5.6 -2.2z"/><path fill="#8e0000" d="M245.6 1702.1l5.5 3.1l4.5 -.4l-5.6 -3.4z"/><path fill="#c6ff39" d="M266.8 1787.4l5.6 25.8l4.4 5.9l-5.6 -23z"/><path fill="#ffcc00" d="M265.7 1767.1l5.5 29l4.5 8l-5.6 -27.9z"/><path fill="#000eff" d="M429.4 1869.7l5.5 2.2l4.5 -.7l-5.6 -2.2z"/><path fill="#860000" d="M191.0 1700.3l5.6 1.8l4.4 -1.4l-5.5 -1.7z"/><path fill="#0007ff" d="M439.4 1871.2l5.6 2.1l4.4 -.8l-5.6 -2.1z"/><path fill="#0001ff" d="M449.4 1872.5l5.6 2.2l4.4 -.8l-5.5 -2.2z"/><path fill="#0000fa" d="M459.4 1873.9l5.6 2.1l4.4 -.8l-5.5 -2.2z"/><path fill="#ff6600" d="M264.5 1747.8l5.6 28.4l4.5 9.1l-5.6 -29.8z"/><path fill="#da0000" d="M262.3 1719.5l5.6 17.5l4.4 6.3l-5.6 -20.9z"/><path fill="#860000" d="M201.0 1700.7l5.6 1.8l4.5 -1.3l-5.6 -1.8z"/><path fill="#63ff9c" d="M267.9 1806.2l5.6 20.5l4.4 3.6l-5.5 -17.1z"/><path fill="#0076ff" d="M294.6 1849.4l5.6 2.9l4.5 -.8l-5.6 -2.7z"/><path fill="#0000f4" d="M469.4 1875.2l5.6 2.1l4.5 -.8l-5.6 -2.2z"/><path fill="#006bff" d="M304.7 1851.5l5.5 2.5l4.5 -.9l-5.6 -2.4z"/><path fill="#0064ff" d="M314.7 1853.1l5.6 2.4l4.4 -.9l-5.6 -2.3z"/><path fill="#000080" d="M157.7 1892.3l5.6 1.7l4.5 -31.5l-5.6 -9z"/><path fill="#0000ee" d="M479.5 1876.5l5.5 2.1l4.5 -.9l-5.6 -2.1z"/><path fill="#008bff" d="M284.6 1845.7l5.6 4.3l4.4 -.6l-5.5 -3.7z"/><path fill="#ff1400" d="M263.4 1731.7l5.6 23.8l4.4 8.5l-5.5 -27z"/><path fill="#005cff" d="M324.7 1854.6l5.6 2.4l4.4 -.8l-5.5 -2.3z"/><path fill="#860000" d="M211.1 1701.2l5.5 1.7l4.5 -1.3l-5.6 -1.7z"/><path fill="#0055ff" d="M334.7 1856.2l5.6 2.3l4.5 -.7l-5.6 -2.3z"/><path fill="#0000e9" d="M489.5 1877.7l5.6 2.2l4.4 -.9l-5.6 -2.1z"/><path fill="#004eff" d="M344.8 1857.8l5.5 2.3l4.5 -.7l-5.6 -2.3z"/><path fill="#0046ff" d="M354.8 1859.4l5.5 2.2l4.5 -.6l-5.6 -2.3z"/><path fill="#0000e3" d="M499.5 1879.0l5.6 2.1l4.4 -.9l-5.5 -2.1z"/><path fill="#003eff" d="M364.8 1861.0l5.6 2.2l4.4 -.6l-5.6 -2.3z"/><path fill="#870000" d="M221.1 1701.6l5.6 1.9l4.4 -1.3l-5.6 -1.8z"/><path fill="#960000" d="M251.1 1705.2l5.6 5l4.5 .6l-5.6 -6z"/><path fill="#0037ff" d="M374.8 1862.6l5.6 2.2l4.4 -.6l-5.5 -2.3z"/><path fill="#0000de" d="M509.5 1880.2l5.6 2.1l4.4 -.9l-5.5 -2.1z"/><path fill="#002fff" d="M384.8 1864.2l5.6 2.2l4.5 -.6l-5.6 -2.3z"/><path fill="#0027ff" d="M394.9 1865.8l5.5 2.2l4.5 -.6l-5.6 -2.3z"/><path fill="#0000d9" d="M519.5 1881.4l5.6 2.1l4.5 -.9l-5.6 -2.1z"/><path fill="#880000" d="M231.1 1702.2l5.6 2l4.4 -1.1l-5.5 -2.1z"/><path fill="#0020ff" d="M404.9 1867.4l5.5 2.2l4.5 -.7l-5.6 -2.2z"/><path fill="#0019ff" d="M414.9 1868.9l5.6 2.2l4.4 -.7l-5.6 -2.2z"/><path fill="#8b0000" d="M241.1 1703.1l5.6 2.7l4.4 -.6l-5.5 -3.1z"/><path fill="#aa0000" d="M256.7 1710.2l5.6 9.3l4.4 2.9l-5.5 -11.6z"/><path fill="#870000" d="M186.6 1701.8l5.5 1.7l4.5 -1.4l-5.6 -1.8z"/><path fill="#0012ff" d="M424.9 1870.4l5.6 2.2l4.4 -.7l-5.5 -2.2z"/><path fill="#00c1ff" d="M274.6 1836.8l5.6 8.5l4.4 .4l-5.5 -6.9z"/><path fill="#000080" d="M163.3 1894.0l5.6 1.7l4.4 -24.2l-5.5 -9z"/><path fill="#000bff" d="M434.9 1871.9l5.6 2.2l4.5 -.8l-5.6 -2.1z"/><path fill="#15ffea" d="M269.0 1821.7l5.6 15.1l4.5 2l-5.6 -12.1z"/><path fill="#0004ff" d="M445.0 1873.3l5.5 2.2l4.5 -.8l-5.6 -2.2z"/><path fill="#860000" d="M196.6 1702.1l5.6 1.7l4.4 -1.3l-5.6 -1.8z"/><path fill="#0000fd" d="M455.0 1874.7l5.5 2.2l4.5 -.9l-5.6 -2.1z"/><path fill="#007aff" d="M290.2 1850.0l5.6 3.2l4.4 -.9l-5.6 -2.9z"/><path fill="#0000f7" d="M465.0 1876.0l5.6 2.2l4.4 -.9l-5.6 -2.1z"/><path fill="#006eff" d="M300.2 1852.3l5.6 2.6l4.4 -.9l-5.5 -2.5z"/><path fill="#00c9ff" d="M128.7 1828.2l5.6 2.1l4.5 -54.6l-5.6 -1.9z"/><path fill="#0067ff" d="M310.2 1854.0l5.6 2.4l4.5 -.9l-5.6 -2.4z"/><path fill="#860000" d="M206.6 1702.5l5.6 1.8l4.4 -1.4l-5.5 -1.7z"/><path fill="#0000f2" d="M475.0 1877.3l5.6 2.2l4.4 -.9l-5.5 -2.1z"/><path fill="#0060ff" d="M320.3 1855.5l5.5 2.3l4.5 -.8l-5.6 -2.4z"/><path fill="#0059ff" d="M330.3 1857.0l5.6 2.3l4.4 -.8l-5.6 -2.3z"/><path fill="#0000ec" d="M485.0 1878.6l5.6 2.1l4.5 -.8l-5.6 -2.2z"/><path fill="#0095ff" d="M280.2 1845.3l5.6 5.2l4.4 -.5l-5.6 -4.3z"/><path fill="#0051ff" d="M340.3 1858.5l5.6 2.3l4.4 -.7l-5.5 -2.3z"/><path fill="#0000e6" d="M495.1 1879.9l5.5 2.1l4.5 -.9l-5.6 -2.1z"/><path fill="#870000" d="M216.6 1702.9l5.6 1.8l4.5 -1.2l-5.6 -1.9z"/><path fill="#004aff" d="M350.3 1860.1l5.6 2.3l4.4 -.8l-5.5 -2.2z"/><path fill="#0043ff" d="M360.3 1861.6l5.6 2.3l4.5 -.7l-5.6 -2.2z"/><path fill="#0000e1" d="M505.1 1881.1l5.6 2.1l4.4 -.9l-5.6 -2.1z"/><path fill="#000080" d="M168.9 1895.7l5.6 1.8l4.4 -18.3l-5.6 -7.7z"/><path fill="#003bff" d="M370.4 1863.2l5.5 2.3l4.5 -.7l-5.6 -2.2z"/><path fill="#0033ff" d="M380.4 1864.8l5.6 2.3l4.4 -.7l-5.6 -2.2z"/><path fill="#910000" d="M246.7 1705.8l5.6 4.2l4.4 .2l-5.6 -5z"/><path fill="#880000" d="M226.7 1703.5l5.5 1.9l4.5 -1.2l-5.6 -2z"/><path fill="#0000dc" d="M515.1 1882.3l5.6 2.1l4.4 -.9l-5.6 -2.1z"/><path fill="#002cff" d="M390.4 1866.4l5.6 2.3l4.4 -.7l-5.5 -2.2z"/><path fill="#880000" d="M182.1 1703.4l5.6 1.7l4.4 -1.6l-5.5 -1.7z"/><path fill="#0024ff" d="M400.4 1868.0l5.6 2.3l4.4 -.7l-5.5 -2.2z"/><path fill="#8a0000" d="M236.7 1704.2l5.5 2.5l4.5 -.9l-5.6 -2.7z"/><path fill="#001dff" d="M410.4 1869.6l5.6 2.2l4.5 -.7l-5.6 -2.2z"/><path fill="#c50000" d="M257.8 1717.5l5.6 14.2l4.5 5.3l-5.6 -17.5z"/><path fill="#0016ff" d="M420.5 1871.1l5.5 2.2l4.5 -.7l-5.6 -2.2z"/><path fill="#000fff" d="M430.5 1872.6l5.6 2.2l4.4 -.7l-5.6 -2.2z"/><path fill="#fff800" d="M262.3 1778.5l5.6 27.7l4.5 7l-5.6 -25.8z"/><path fill="#870000" d="M192.1 1703.5l5.6 1.8l4.5 -1.5l-5.6 -1.7z"/><path fill="#0008ff" d="M440.5 1874.1l5.6 2.2l4.4 -.8l-5.5 -2.2z"/><path fill="#0002ff" d="M450.5 1875.5l5.6 2.2l4.4 -.8l-5.5 -2.2z"/><path fill="#9eff61" d="M263.5 1798.2l5.5 23.5l4.5 5l-5.6 -20.5z"/><path fill="#a10000" d="M252.3 1710.0l5.5 7.5l4.5 2l-5.6 -9.3z"/><path fill="#ff8f00" d="M261.2 1758.7l5.6 28.7l4.4 8.7l-5.5 -29z"/><path fill="#0071ff" d="M295.8 1853.2l5.5 2.7l4.5 -1l-5.6 -2.6z"/><path fill="#0000fa" d="M460.5 1876.9l5.6 2.1l4.5 -.8l-5.6 -2.2z"/><path fill="#0080ff" d="M285.8 1850.5l5.5 3.5l4.5 -.8l-5.6 -3.2z"/><path fill="#860000" d="M202.2 1703.8l5.5 1.8l4.5 -1.3l-5.6 -1.8z"/><path fill="#00dcff" d="M270.2 1833.7l5.5 10.7l4.5 .9l-5.6 -8.5z"/><path fill="#0069ff" d="M305.8 1854.9l5.6 2.5l4.4 -1l-5.6 -2.4z"/><path fill="#0000f5" d="M470.6 1878.2l5.5 2.1l4.5 -.8l-5.6 -2.2z"/><path fill="#00c7ff" d="M134.3 1830.3l5.6 2.5l4.4 -55.2l-5.5 -1.9z"/><path fill="#0062ff" d="M315.8 1856.4l5.6 2.3l4.4 -.9l-5.5 -2.3z"/><path fill="#f10000" d="M259.0 1727.6l5.5 20.2l4.5 7.7l-5.6 -23.8z"/><path fill="#ff3500" d="M260.1 1741.3l5.6 25.8l4.4 9.1l-5.6 -28.4z"/><path fill="#0000ef" d="M480.6 1879.5l5.6 2.1l4.4 -.9l-5.6 -2.1z"/><path fill="#005cff" d="M325.8 1857.8l5.6 2.4l4.5 -.9l-5.6 -2.3z"/><path fill="#000080" d="M174.5 1897.5l5.5 1.7l4.5 -14.1l-5.6 -5.9z"/><path fill="#860000" d="M212.2 1704.3l5.6 1.7l4.4 -1.3l-5.6 -1.8z"/><path fill="#0055ff" d="M335.9 1859.3l5.5 2.3l4.5 -.8l-5.6 -2.3z"/><path fill="#0000e9" d="M490.6 1880.7l5.6 2.2l4.4 -.9l-5.5 -2.1z"/><path fill="#004eff" d="M345.9 1860.8l5.5 2.3l4.5 -.7l-5.6 -2.3z"/><path fill="#00a4ff" d="M275.7 1844.4l5.6 6.3l4.5 -.2l-5.6 -5.2z"/><path fill="#0047ff" d="M355.9 1862.4l5.6 2.3l4.4 -.8l-5.6 -2.3z"/><path fill="#0000e4" d="M500.6 1882.0l5.6 2.1l4.5 -.9l-5.6 -2.1z"/><path fill="#8b0000" d="M177.7 1705.1l5.5 1.8l4.5 -1.8l-5.6 -1.7z"/><path fill="#003fff" d="M365.9 1863.9l5.6 2.3l4.4 -.7l-5.5 -2.3z"/><path fill="#870000" d="M222.2 1704.7l5.6 1.9l4.4 -1.2l-5.5 -1.9z"/><path fill="#0038ff" d="M375.9 1865.5l5.6 2.3l4.5 -.7l-5.6 -2.3z"/><path fill="#45ffba" d="M264.6 1815.5l5.6 18.2l4.4 3.1l-5.6 -15.1z"/><path fill="#0000df" d="M510.7 1883.2l5.5 2.1l4.5 -.9l-5.6 -2.1z"/><path fill="#0030ff" d="M386.0 1867.1l5.5 2.3l4.5 -.7l-5.6 -2.3z"/><path fill="#8e0000" d="M242.2 1706.7l5.6 3.5l4.5 -.2l-5.6 -4.2z"/><path fill="#890000" d="M232.2 1705.4l5.6 2.3l4.4 -1l-5.5 -2.5z"/><path fill="#0029ff" d="M396.0 1868.7l5.6 2.3l4.4 -.7l-5.6 -2.3z"/><path fill="#0021ff" d="M406.0 1870.3l5.6 2.2l4.4 -.7l-5.6 -2.2z"/><path fill="#880000" d="M187.7 1705.1l5.6 1.8l4.4 -1.6l-5.6 -1.8z"/><path fill="#001aff" d="M416.0 1871.8l5.6 2.3l4.4 -.8l-5.5 -2.2z"/><path fill="#0013ff" d="M426.0 1873.3l5.6 2.3l4.5 -.8l-5.6 -2.2z"/><path fill="#000cff" d="M436.1 1874.8l5.5 2.2l4.5 -.7l-5.6 -2.2z"/><path fill="#0005ff" d="M446.1 1876.3l5.6 2.2l4.4 -.8l-5.6 -2.2z"/><path fill="#870000" d="M197.7 1705.3l5.6 1.7l4.4 -1.4l-5.5 -1.8z"/><path fill="#0075ff" d="M291.3 1854.0l5.6 2.9l4.4 -1l-5.5 -2.7z"/><path fill="#0000fe" d="M456.1 1877.7l5.6 2.2l4.4 -.9l-5.6 -2.1z"/><path fill="#006bff" d="M301.3 1855.9l5.6 2.5l4.5 -1l-5.6 -2.5z"/><path fill="#0088ff" d="M281.3 1850.7l5.6 4l4.4 -.7l-5.5 -3.5z"/><path fill="#0000f8" d="M466.1 1879.0l5.6 2.2l4.4 -.9l-5.5 -2.1z"/><path fill="#0065ff" d="M311.4 1857.4l5.5 2.3l4.5 -1l-5.6 -2.3z"/><path fill="#000080" d="M180.0 1899.2l5.6 1.8l4.4 -11.6l-5.5 -4.3z"/><path fill="#860000" d="M207.7 1705.6l5.6 1.8l4.5 -1.4l-5.6 -1.7z"/><path fill="#00c2ff" d="M139.9 1832.8l5.6 3.1l4.4 -56.3l-5.6 -2z"/><path fill="#0000f2" d="M476.1 1880.3l5.6 2.2l4.5 -.9l-5.6 -2.1z"/><path fill="#005fff" d="M321.4 1858.7l5.6 2.4l4.4 -.9l-5.6 -2.4z"/><path fill="#9a0000" d="M247.8 1710.2l5.6 6.1l4.4 1.2l-5.5 -7.5z"/><path fill="#b50000" d="M253.4 1716.3l5.6 11.3l4.4 4.1l-5.6 -14.2z"/><path fill="#0058ff" d="M331.4 1860.2l5.6 2.3l4.4 -.9l-5.5 -2.3z"/><path fill="#0000ec" d="M486.2 1881.6l5.5 2.2l4.5 -.9l-5.6 -2.2z"/><path fill="#8e0000" d="M173.2 1707.0l5.6 1.8l4.4 -1.9l-5.5 -1.8z"/><path fill="#0051ff" d="M341.4 1861.6l5.6 2.4l4.4 -.9l-5.5 -2.3z"/><path fill="#870000" d="M217.8 1706.0l5.5 1.9l4.5 -1.3l-5.6 -1.9z"/><path fill="#0000e7" d="M496.2 1882.9l5.6 2.1l4.4 -.9l-5.6 -2.1z"/><path fill="#004aff" d="M351.4 1863.1l5.6 2.4l4.5 -.8l-5.6 -2.3z"/><path fill="#0043ff" d="M361.5 1864.7l5.5 2.3l4.5 -.8l-5.6 -2.3z"/><path fill="#0000e2" d="M506.2 1884.1l5.6 2.1l4.4 -.9l-5.5 -2.1z"/><path fill="#00ffff" d="M265.7 1829.5l5.6 13.3l4.4 1.6l-5.5 -10.7z"/><path fill="#003cff" d="M371.5 1866.2l5.6 2.3l4.4 -.7l-5.6 -2.3z"/><path fill="#880000" d="M227.8 1706.6l5.6 2.2l4.4 -1.1l-5.6 -2.3z"/><path fill="#00b7ff" d="M271.3 1842.8l5.6 7.7l4.4 .2l-5.6 -6.3z"/><path fill="#0034ff" d="M381.5 1867.8l5.6 2.3l4.4 -.7l-5.5 -2.3z"/><path fill="#8c0000" d="M237.8 1707.7l5.6 3l4.4 -.5l-5.6 -3.5z"/><path fill="#8b0000" d="M183.2 1706.9l5.6 1.7l4.5 -1.7l-5.6 -1.8z"/><path fill="#002dff" d="M391.5 1869.4l5.6 2.3l4.5 -.7l-5.6 -2.3z"/><path fill="#0025ff" d="M401.6 1871.0l5.5 2.2l4.5 -.7l-5.6 -2.2z"/><path fill="#001eff" d="M411.6 1872.5l5.5 2.3l4.5 -.7l-5.6 -2.3z"/><path fill="#0017ff" d="M421.6 1874.1l5.6 2.2l4.4 -.7l-5.6 -2.3z"/><path fill="#880000" d="M193.3 1706.9l5.5 1.7l4.5 -1.6l-5.6 -1.7z"/><path fill="#0010ff" d="M431.6 1875.6l5.6 2.2l4.4 -.8l-5.5 -2.2z"/><path fill="#0009ff" d="M441.6 1877.0l5.6 2.2l4.5 -.7l-5.6 -2.2z"/><path fill="#0079ff" d="M286.9 1854.7l5.5 3.1l4.5 -.9l-5.6 -2.9z"/><path fill="#d60000" d="M254.5 1724.7l5.6 16.6l4.4 6.5l-5.5 -20.2z"/><path fill="#0002ff" d="M451.7 1878.5l5.5 2.2l4.5 -.8l-5.6 -2.2z"/><path fill="#006eff" d="M296.9 1856.9l5.6 2.5l4.4 -1l-5.6 -2.5z"/><path fill="#ddff22" d="M259.0 1789.5l5.6 26l4.4 6.2l-5.5 -23.5z"/><path fill="#ffb800" d="M257.9 1769.8l5.6 28.4l4.4 8l-5.6 -27.7z"/><path fill="#0067ff" d="M306.9 1858.4l5.6 2.4l4.4 -1.1l-5.5 -2.3z"/><path fill="#0000fb" d="M461.7 1879.9l5.5 2.1l4.5 -.8l-5.6 -2.2z"/><path fill="#870000" d="M203.3 1707.0l5.6 1.8l4.4 -1.4l-5.6 -1.8z"/><path fill="#940000" d="M168.8 1709.3l5.6 1.7l4.4 -2.2l-5.6 -1.8z"/><path fill="#000080" d="M185.6 1901.0l5.6 1.7l4.4 -10.1l-5.6 -3.2z"/><path fill="#0091ff" d="M276.9 1850.5l5.5 4.7l4.5 -.5l-5.6 -4z"/><path fill="#00b9ff" d="M145.5 1835.9l5.5 4.2l4.5 -58.1l-5.6 -2.4z"/><path fill="#0061ff" d="M316.9 1859.7l5.6 2.4l4.5 -1l-5.6 -2.4z"/><path fill="#0000f5" d="M471.7 1881.2l5.6 2.2l4.4 -.9l-5.6 -2.2z"/><path fill="#005bff" d="M327.0 1861.1l5.5 2.3l4.5 -.9l-5.6 -2.3z"/><path fill="#ff5900" d="M256.8 1751.5l5.5 27l4.5 8.9l-5.6 -28.7z"/><path fill="#0000ef" d="M481.7 1882.5l5.6 2.2l4.4 -.9l-5.5 -2.2z"/><path fill="#870000" d="M213.3 1707.4l5.6 1.8l4.4 -1.3l-5.5 -1.9z"/><path fill="#0054ff" d="M337.0 1862.5l5.6 2.3l4.4 -.8l-5.6 -2.4z"/><path fill="#ff0c00" d="M255.6 1736.3l5.6 22.4l4.5 8.4l-5.6 -25.8z"/><path fill="#940000" d="M243.4 1710.7l5.5 5l4.5 .6l-5.6 -6.1z"/><path fill="#7cff83" d="M260.1 1808.1l5.6 21.4l4.5 4.2l-5.6 -18.2z"/><path fill="#0000ea" d="M491.7 1883.8l5.6 2.1l4.5 -.9l-5.6 -2.1z"/><path fill="#004eff" d="M347.0 1864.0l5.6 2.3l4.4 -.8l-5.6 -2.4z"/><path fill="#8e0000" d="M178.8 1708.8l5.6 1.7l4.4 -1.9l-5.6 -1.7z"/><path fill="#0047ff" d="M357.0 1865.5l5.6 2.3l4.4 -.8l-5.5 -2.3z"/><path fill="#0000e5" d="M501.8 1885.0l5.5 2.2l4.5 -1l-5.6 -2.1z"/><path fill="#870000" d="M223.3 1707.9l5.6 2l4.5 -1.1l-5.6 -2.2z"/><path fill="#0040ff" d="M367.0 1867.0l5.6 2.3l4.5 -.8l-5.6 -2.3z"/><path fill="#8a0000" d="M233.4 1708.8l5.5 2.7l4.5 -.8l-5.6 -3z"/><path fill="#0038ff" d="M377.1 1868.5l5.5 2.3l4.5 -.7l-5.6 -2.3z"/><path fill="#0031ff" d="M387.1 1870.1l5.6 2.3l4.4 -.7l-5.6 -2.3z"/><path fill="#a80000" d="M248.9 1715.7l5.6 9l4.5 2.9l-5.6 -11.3z"/><path fill="#0029ff" d="M397.1 1871.7l5.6 2.2l4.4 -.7l-5.5 -2.2z"/><path fill="#8b0000" d="M188.8 1708.6l5.6 1.8l4.4 -1.8l-5.5 -1.7z"/><path fill="#0022ff" d="M407.1 1873.2l5.6 2.3l4.4 -.7l-5.5 -2.3z"/><path fill="#001bff" d="M417.1 1874.8l5.6 2.2l4.5 -.7l-5.6 -2.2z"/><path fill="#00cfff" d="M266.8 1840.2l5.6 9.6l4.5 .7l-5.6 -7.7z"/><path fill="#9f0000" d="M164.3 1712.4l5.6 1.7l4.5 -3.1l-5.6 -1.7z"/><path fill="#0014ff" d="M427.2 1876.3l5.5 2.2l4.5 -.7l-5.6 -2.2z"/><path fill="#000dff" d="M437.2 1877.8l5.6 2.2l4.4 -.8l-5.6 -2.2z"/><path fill="#0071ff" d="M292.4 1857.8l5.6 2.6l4.5 -1l-5.6 -2.5z"/><path fill="#880000" d="M198.8 1708.6l5.6 1.8l4.5 -1.6l-5.6 -1.8z"/><path fill="#007eff" d="M282.4 1855.2l5.6 3.4l4.4 -.8l-5.5 -3.1z"/><path fill="#0006ff" d="M447.2 1879.2l5.6 2.3l4.4 -.8l-5.5 -2.2z"/><path fill="#00aaff" d="M151.0 1840.1l5.6 5.7l4.5 -61l-5.6 -2.8z"/><path fill="#0069ff" d="M302.5 1859.4l5.5 2.5l4.5 -1.1l-5.6 -2.4z"/><path fill="#0000ff" d="M457.2 1880.7l5.6 2.2l4.4 -.9l-5.5 -2.1z"/><path fill="#2bffd4" d="M261.3 1824.0l5.5 16.2l4.5 2.6l-5.6 -13.3z"/><path fill="#0063ff" d="M312.5 1860.8l5.6 2.4l4.4 -1.1l-5.6 -2.4z"/><path fill="#0000f8" d="M467.2 1882.0l5.6 2.2l4.5 -.8l-5.6 -2.2z"/><path fill="#000080" d="M191.2 1902.7l5.5 1.8l4.5 -9.3l-5.6 -2.6z"/><path fill="#005dff" d="M322.5 1862.1l5.6 2.4l4.4 -1.1l-5.5 -2.3z"/><path fill="#870000" d="M208.9 1708.8l5.5 1.8l4.5 -1.4l-5.6 -1.8z"/><path fill="#009eff" d="M272.4 1849.8l5.6 5.8l4.4 -.4l-5.5 -4.7z"/><path fill="#940000" d="M174.4 1711.0l5.5 1.7l4.5 -2.2l-5.6 -1.7z"/><path fill="#0000f2" d="M477.3 1883.4l5.5 2.1l4.5 -.8l-5.6 -2.2z"/><path fill="#0057ff" d="M332.5 1863.4l5.6 2.4l4.5 -1l-5.6 -2.3z"/><path fill="#0000ed" d="M487.3 1884.7l5.6 2.1l4.4 -.9l-5.6 -2.1z"/><path fill="#0051ff" d="M342.6 1864.8l5.5 2.4l4.5 -.9l-5.6 -2.3z"/><path fill="#870000" d="M218.9 1709.2l5.6 2l4.4 -1.3l-5.6 -2z"/><path fill="#910000" d="M238.9 1711.5l5.6 4.1l4.4 .1l-5.5 -5z"/><path fill="#004aff" d="M352.6 1866.3l5.5 2.3l4.5 -.8l-5.6 -2.3z"/><path fill="#0000e7" d="M497.3 1885.9l5.6 2.2l4.4 -.9l-5.5 -2.2z"/><path fill="#ac0000" d="M159.9 1715.8l5.6 1.7l4.4 -3.4l-5.6 -1.7z"/><path fill="#0043ff" d="M362.6 1867.8l5.6 2.3l4.4 -.8l-5.6 -2.3z"/><path fill="#ffe700" d="M133.2 1773.8l5.6 1.9l4.4 -25.2l-5.6 -1.8z"/><path fill="#890000" d="M228.9 1709.9l5.6 2.5l4.4 -.9l-5.5 -2.7z"/><path fill="#003cff" d="M372.6 1869.3l5.6 2.3l4.4 -.8l-5.5 -2.3z"/><path fill="#8e0000" d="M184.4 1710.5l5.5 1.8l4.5 -1.9l-5.6 -1.8z"/><path fill="#0035ff" d="M382.6 1870.8l5.6 2.3l4.5 -.7l-5.6 -2.3z"/><path fill="#0091ff" d="M156.6 1845.8l5.6 7.7l4.4 -64.8l-5.5 -3.9z"/><path fill="#c20000" d="M250.1 1722.8l5.5 13.5l4.5 5l-5.6 -16.6z"/><path fill="#002dff" d="M392.7 1872.4l5.5 2.3l4.5 -.8l-5.6 -2.2z"/><path fill="#0026ff" d="M402.7 1873.9l5.5 2.3l4.5 -.7l-5.6 -2.3z"/><path fill="#001fff" d="M412.7 1875.5l5.6 2.2l4.4 -.7l-5.6 -2.2z"/><path fill="#8b0000" d="M194.4 1710.4l5.6 1.7l4.4 -1.7l-5.6 -1.8z"/><path fill="#0018ff" d="M422.7 1877.0l5.6 2.2l4.4 -.7l-5.5 -2.2z"/><path fill="#9f0000" d="M244.5 1715.6l5.6 7.2l4.4 1.9l-5.6 -9z"/><path fill="#0011ff" d="M432.7 1878.5l5.6 2.2l4.5 -.7l-5.6 -2.2z"/><path fill="#0074ff" d="M288.0 1858.6l5.6 2.8l4.4 -1l-5.6 -2.6z"/><path fill="#9f0000" d="M169.9 1714.1l5.6 1.7l4.4 -3.1l-5.5 -1.7z"/><path fill="#006bff" d="M298.0 1860.4l5.6 2.5l4.4 -1l-5.5 -2.5z"/><path fill="#000aff" d="M442.8 1880.0l5.5 2.2l4.5 -.7l-5.6 -2.3z"/><path fill="#0085ff" d="M278.0 1855.6l5.6 3.8l4.4 -.8l-5.6 -3.4z"/><path fill="#0003ff" d="M452.8 1881.5l5.6 2.2l4.4 -.8l-5.6 -2.2z"/><path fill="#0064ff" d="M308.0 1861.9l5.6 2.4l4.5 -1.1l-5.6 -2.4z"/><path fill="#bb0000" d="M155.4 1719.6l5.6 1.8l4.5 -3.9l-5.6 -1.7z"/><path fill="#890000" d="M204.4 1710.4l5.6 1.8l4.4 -1.6l-5.5 -1.8z"/><path fill="#006cff" d="M162.2 1853.5l5.6 9l4.4 -68.1l-5.6 -5.7z"/><path fill="#0000fc" d="M462.8 1882.9l5.6 2.2l4.4 -.9l-5.6 -2.2z"/><path fill="#005fff" d="M318.1 1863.2l5.5 2.3l4.5 -1l-5.6 -2.4z"/><path fill="#ffe100" d="M254.6 1780.8l5.5 27.3l4.5 7.4l-5.6 -26z"/><path fill="#0000f6" d="M472.8 1884.2l5.6 2.2l4.4 -.9l-5.5 -2.1z"/><path fill="#00f1ff" d="M262.4 1836.3l5.6 12l4.4 1.5l-5.6 -9.6z"/><path fill="#000080" d="M196.7 1904.5l5.6 1.7l4.5 -8.7l-5.6 -2.3z"/><path fill="#0059ff" d="M328.1 1864.5l5.6 2.3l4.4 -1l-5.6 -2.4z"/><path fill="#ec0000" d="M251.2 1732.5l5.6 19l4.4 7.2l-5.6 -22.4z"/><path fill="#0000d0" d="M184.5 1885.1l5.5 4.3l4.5 -42.1l-5.6 -16.8z"/><path fill="#0000c0" d="M190.0 1889.4l5.6 3.2l4.5 -30.2l-5.6 -15.1z"/><path fill="#0000f0" d="M482.8 1885.5l5.6 2.2l4.5 -.9l-5.6 -2.1z"/><path fill="#b7ff48" d="M255.7 1800.0l5.6 24l4.4 5.5l-5.6 -21.4z"/><path fill="#870000" d="M214.4 1710.6l5.6 1.9l4.5 -1.3l-5.6 -2z"/><path fill="#ff7e00" d="M253.4 1761.9l5.6 27.6l4.5 8.7l-5.6 -28.4z"/><path fill="#0053ff" d="M338.1 1865.8l5.6 2.3l4.4 -.9l-5.5 -2.4z"/><path fill="#940000" d="M179.9 1712.7l5.6 1.8l4.4 -2.2l-5.5 -1.8z"/><path fill="#003eff" d="M167.8 1862.5l5.5 9l4.5 -68.7l-5.6 -8.4z"/><path fill="#0000ea" d="M178.9 1879.2l5.6 5.9l4.4 -54.6l-5.6 -15.6z"/><path fill="#00b0ff" d="M268.0 1848.3l5.5 7.2l4.5 .1l-5.6 -5.8z"/><path fill="#004dff" d="M348.1 1867.2l5.6 2.3l4.4 -.9l-5.5 -2.3z"/><path fill="#0000ea" d="M492.9 1886.8l5.5 2.2l4.5 -.9l-5.6 -2.2z"/><path fill="#ff2b00" d="M252.3 1745.5l5.6 24.3l4.4 8.7l-5.5 -27z"/><path fill="#8e0000" d="M234.5 1712.4l5.5 3.5l4.5 -.3l-5.6 -4.1z"/><path fill="#0010ff" d="M173.3 1871.5l5.6 7.7l4.4 -64.3l-5.5 -12.1z"/><path fill="#880000" d="M224.5 1711.2l5.5 2.2l4.5 -1l-5.6 -2.5z"/><path fill="#0046ff" d="M358.1 1868.6l5.6 2.3l4.5 -.8l-5.6 -2.3z"/><path fill="#0000b6" d="M195.6 1892.6l5.6 2.6l4.4 -21.3l-5.5 -11.5z"/><path fill="#003fff" d="M368.2 1870.1l5.5 2.3l4.5 -.8l-5.6 -2.3z"/><path fill="#cf0000" d="M151.0 1724.1l5.6 1.7l4.4 -4.4l-5.6 -1.8z"/><path fill="#0038ff" d="M378.2 1871.6l5.6 2.3l4.4 -.8l-5.6 -2.3z"/><path fill="#ac0000" d="M165.5 1717.5l5.5 1.8l4.5 -3.5l-5.6 -1.7z"/><path fill="#ffe700" d="M138.8 1775.7l5.5 1.9l4.5 -25.3l-5.6 -1.8z"/><path fill="#0031ff" d="M388.2 1873.1l5.6 2.3l4.4 -.7l-5.5 -2.3z"/><path fill="#8e0000" d="M189.9 1712.3l5.6 1.7l4.5 -1.9l-5.6 -1.7z"/><path fill="#002aff" d="M398.2 1874.7l5.6 2.2l4.4 -.7l-5.5 -2.3z"/><path fill="#0023ff" d="M408.2 1876.2l5.6 2.3l4.5 -.8l-5.6 -2.2z"/><path fill="#001cff" d="M418.3 1877.7l5.5 2.3l4.5 -.8l-5.6 -2.2z"/><path fill="#61ff9e" d="M256.8 1816.9l5.6 19.4l4.4 3.9l-5.5 -16.2z"/><path fill="#0077ff" d="M283.6 1859.4l5.5 3l4.5 -1l-5.6 -2.8z"/><path fill="#0015ff" d="M428.3 1879.2l5.6 2.3l4.4 -.8l-5.6 -2.2z"/><path fill="#006dff" d="M293.6 1861.4l5.5 2.6l4.5 -1.1l-5.6 -2.5z"/><path fill="#8b0000" d="M200.0 1712.1l5.5 1.8l4.5 -1.7l-5.6 -1.8z"/><path fill="#000eff" d="M438.3 1880.7l5.6 2.3l4.4 -.8l-5.5 -2.2z"/><path fill="#0066ff" d="M303.6 1862.9l5.6 2.4l4.4 -1l-5.6 -2.4z"/><path fill="#ff5100" d="M137.6 1748.7l5.6 1.8l4.5 -12.5l-5.6 -1.7z"/><path fill="#e70000" d="M146.5 1729.3l5.6 1.8l4.5 -5.3l-5.6 -1.7z"/><path fill="#008eff" d="M273.5 1855.5l5.6 4.5l4.5 -.6l-5.6 -3.8z"/><path fill="#0007ff" d="M448.3 1882.2l5.6 2.2l4.5 -.7l-5.6 -2.2z"/><path fill="#0000b1" d="M201.2 1895.2l5.6 2.3l4.4 -15.5l-5.6 -8.1z"/><path fill="#9f0000" d="M175.5 1715.8l5.5 1.8l4.5 -3.1l-5.6 -1.8z"/><path fill="#990000" d="M240.0 1715.9l5.6 5.9l4.5 1l-5.6 -7.2z"/><path fill="#0060ff" d="M313.6 1864.3l5.6 2.3l4.4 -1.1l-5.5 -2.3z"/><path fill="#0000ff" d="M458.3 1883.7l5.5 2.2l4.5 -.8l-5.6 -2.2z"/><path fill="#b30000" d="M245.6 1721.8l5.6 10.7l4.4 3.8l-5.5 -13.5z"/><path fill="#005bff" d="M323.6 1865.5l5.6 2.4l4.5 -1.1l-5.6 -2.3z"/><path fill="#0000f9" d="M468.4 1885.1l5.5 2.1l4.5 -.8l-5.6 -2.2z"/><path fill="#bb0000" d="M161.0 1721.4l5.6 1.7l4.4 -3.8l-5.5 -1.8z"/><path fill="#890000" d="M210.0 1712.2l5.6 1.9l4.4 -1.6l-5.6 -1.9z"/><path fill="#ff0c00" d="M142.1 1736.3l5.6 1.7l4.4 -6.9l-5.6 -1.8z"/><path fill="#0000f3" d="M478.4 1886.4l5.6 2.2l4.4 -.9l-5.6 -2.2z"/><path fill="#0055ff" d="M333.7 1866.8l5.5 2.4l4.5 -1.1l-5.6 -2.3z"/><path fill="#000080" d="M202.3 1906.2l5.6 1.7l4.4 -8.4l-5.5 -2z"/><path fill="#004fff" d="M343.7 1868.1l5.5 2.4l4.5 -1l-5.6 -2.3z"/><path fill="#0000ed" d="M488.4 1887.7l5.6 2.2l4.4 -.9l-5.5 -2.2z"/><path fill="#880000" d="M220.0 1712.5l5.6 2.2l4.4 -1.3l-5.5 -2.2z"/><path fill="#8c0000" d="M230.0 1713.4l5.6 3.1l4.4 -.6l-5.5 -3.5z"/><path fill="#0049ff" d="M353.7 1869.5l5.6 2.3l4.4 -.9l-5.6 -2.3z"/><path fill="#940000" d="M185.5 1714.5l5.6 1.7l4.4 -2.2l-5.6 -1.7z"/><path fill="#0043ff" d="M363.7 1870.9l5.6 2.4l4.4 -.9l-5.5 -2.3z"/><path fill="#003cff" d="M373.7 1872.4l5.6 2.3l4.5 -.8l-5.6 -2.3z"/><path fill="#0035ff" d="M383.8 1873.9l5.5 2.3l4.5 -.8l-5.6 -2.3z"/><path fill="#00cbff" d="M263.5 1845.4l5.6 9.2l4.4 .9l-5.5 -7.2z"/><path fill="#002eff" d="M393.8 1875.4l5.6 2.3l4.4 -.8l-5.6 -2.2z"/><path fill="#cf0000" d="M156.6 1725.8l5.5 1.8l4.5 -4.5l-5.6 -1.7z"/><path fill="#ffe800" d="M144.3 1777.6l5.6 2l4.5 -25.5l-5.6 -1.8z"/><path fill="#ac0000" d="M171.0 1719.3l5.6 1.7l4.4 -3.4l-5.5 -1.8z"/><path fill="#0027ff" d="M403.8 1876.9l5.6 2.3l4.4 -.7l-5.6 -2.3z"/><path fill="#0000ae" d="M206.8 1897.5l5.5 2l4.5 -12l-5.6 -5.5z"/><path fill="#8e0000" d="M195.5 1714.0l5.6 1.8l4.4 -1.9l-5.5 -1.8z"/><path fill="#20ffdf" d="M257.9 1830.2l5.6 15.2l4.5 2.9l-5.6 -12z"/><path fill="#0020ff" d="M413.8 1878.5l5.6 2.2l4.4 -.7l-5.5 -2.3z"/><path fill="#007cff" d="M279.1 1860.0l5.6 3.3l4.4 -.9l-5.5 -3z"/><path fill="#006fff" d="M289.1 1862.4l5.6 2.7l4.4 -1.1l-5.5 -2.6z"/><path fill="#0018ff" d="M423.8 1880.0l5.6 2.2l4.5 -.7l-5.6 -2.3z"/><path fill="#0068ff" d="M299.1 1864.0l5.6 2.4l4.5 -1.1l-5.6 -2.4z"/><path fill="#0011ff" d="M433.9 1881.5l5.5 2.2l4.5 -.7l-5.6 -2.3z"/><path fill="#000bff" d="M443.9 1883.0l5.6 2.2l4.4 -.8l-5.6 -2.2z"/><path fill="#d30000" d="M246.7 1729.9l5.6 15.6l4.5 6l-5.6 -19z"/><path fill="#0062ff" d="M309.2 1865.3l5.5 2.4l4.5 -1.1l-5.6 -2.3z"/><path fill="#8b0000" d="M205.5 1713.9l5.6 1.9l4.5 -1.7l-5.6 -1.9z"/><path fill="#0004ff" d="M453.9 1884.4l5.6 2.3l4.4 -.8l-5.5 -2.2z"/><path fill="#009cff" d="M269.1 1854.6l5.6 5.7l4.4 -.3l-5.6 -4.5z"/><path fill="#ff5100" d="M143.2 1750.5l5.6 1.8l4.4 -12.5l-5.5 -1.8z"/><path fill="#005cff" d="M319.2 1866.6l5.6 2.4l4.4 -1.1l-5.6 -2.4z"/><path fill="#e70000" d="M152.1 1731.1l5.6 1.7l4.4 -5.2l-5.5 -1.8z"/><path fill="#0000fc" d="M463.9 1885.9l5.6 2.2l4.4 -.9l-5.5 -2.1z"/><path fill="#940000" d="M235.6 1716.5l5.6 4.8l4.4 .5l-5.6 -5.9z"/><path fill="#9f0000" d="M181.0 1717.6l5.6 1.7l4.5 -3.1l-5.6 -1.7z"/><path fill="#0057ff" d="M329.2 1867.9l5.6 2.3l4.4 -1l-5.5 -2.4z"/><path fill="#0000f6" d="M473.9 1887.2l5.6 2.2l4.5 -.8l-5.6 -2.2z"/><path fill="#8a0000" d="M215.6 1714.1l5.5 2l4.5 -1.4l-5.6 -2.2z"/><path fill="#bb0000" d="M166.6 1723.1l5.6 1.8l4.4 -3.9l-5.6 -1.7z"/><path fill="#0051ff" d="M339.2 1869.2l5.6 2.3l4.4 -1l-5.5 -2.4z"/><path fill="#0000f0" d="M484.0 1888.6l5.5 2.2l4.5 -.9l-5.6 -2.2z"/><path fill="#ff0c00" d="M147.7 1738.0l5.5 1.8l4.5 -7l-5.6 -1.7z"/><path fill="#8b0000" d="M225.6 1714.7l5.6 2.7l4.4 -.9l-5.6 -3.1z"/><path fill="#ffa600" d="M250.1 1772.7l5.6 27.3l4.4 8.1l-5.5 -27.3z"/><path fill="#004cff" d="M349.2 1870.5l5.6 2.3l4.5 -1l-5.6 -2.3z"/><path fill="#f8ff07" d="M251.2 1791.0l5.6 25.9l4.5 7.1l-5.6 -24z"/><path fill="#000080" d="M207.9 1907.9l5.6 1.8l4.4 -8.2l-5.6 -2z"/><path fill="#ff0500" d="M247.9 1740.9l5.5 21l4.5 7.9l-5.6 -24.3z"/><path fill="#0045ff" d="M359.3 1871.8l5.5 2.4l4.5 -.9l-5.6 -2.4z"/><path fill="#ff4c00" d="M249.0 1755.3l5.6 25.5l4.4 8.7l-5.6 -27.6z"/><path fill="#a70000" d="M241.2 1721.3l5.5 8.6l4.5 2.6l-5.6 -10.7z"/><path fill="#003fff" d="M369.3 1873.3l5.6 2.3l4.4 -.9l-5.6 -2.3z"/><path fill="#940000" d="M191.1 1716.2l5.5 1.8l4.5 -2.2l-5.6 -1.8z"/><path fill="#0038ff" d="M379.3 1874.7l5.6 2.3l4.4 -.8l-5.5 -2.3z"/><path fill="#0000ac" d="M212.3 1899.5l5.6 2l4.5 -10.2l-5.6 -3.8z"/><path fill="#0031ff" d="M389.3 1876.2l5.6 2.3l4.5 -.8l-5.6 -2.3z"/><path fill="#002aff" d="M399.4 1877.7l5.5 2.3l4.5 -.8l-5.6 -2.3z"/><path fill="#ffea00" d="M149.9 1779.6l5.6 2.4l4.4 -26l-5.5 -1.9z"/><path fill="#0023ff" d="M409.4 1879.2l5.5 2.3l4.5 -.8l-5.6 -2.2z"/><path fill="#0072ff" d="M284.7 1863.3l5.6 2.8l4.4 -1l-5.6 -2.7z"/><path fill="#cf0000" d="M162.1 1727.6l5.6 1.7l4.5 -4.4l-5.6 -1.8z"/><path fill="#a3ff5c" d="M252.4 1807.6l5.5 22.6l4.5 6.1l-5.6 -19.4z"/><path fill="#ac0000" d="M176.6 1721.0l5.6 1.8l4.4 -3.5l-5.6 -1.7z"/><path fill="#0083ff" d="M274.7 1860.3l5.5 3.8l4.5 -.8l-5.6 -3.3z"/><path fill="#001cff" d="M419.4 1880.7l5.6 2.3l4.4 -.8l-5.6 -2.2z"/><path fill="#006aff" d="M294.7 1865.1l5.6 2.4l4.4 -1.1l-5.6 -2.4z"/><path fill="#8f0000" d="M201.1 1715.8l5.6 1.8l4.4 -1.8l-5.6 -1.9z"/><path fill="#0015ff" d="M429.4 1882.2l5.6 2.3l4.4 -.8l-5.5 -2.2z"/><path fill="#0064ff" d="M304.7 1866.4l5.6 2.4l4.4 -1.1l-5.5 -2.4z"/><path fill="#000eff" d="M439.4 1883.7l5.6 2.3l4.5 -.8l-5.6 -2.2z"/><path fill="#00eaff" d="M259.1 1841.7l5.5 11.4l4.5 1.5l-5.6 -9.2z"/><path fill="#005eff" d="M314.7 1867.7l5.6 2.4l4.5 -1.1l-5.6 -2.4z"/><path fill="#0007ff" d="M449.5 1885.2l5.5 2.2l4.5 -.7l-5.6 -2.3z"/><path fill="#0001ff" d="M459.5 1886.7l5.5 2.2l4.5 -.8l-5.6 -2.2z"/><path fill="#8c0000" d="M211.1 1715.8l5.6 1.9l4.4 -1.6l-5.5 -2z"/><path fill="#0059ff" d="M324.8 1869.0l5.5 2.3l4.5 -1.1l-5.6 -2.3z"/><path fill="#0000f9" d="M469.5 1888.1l5.6 2.2l4.4 -.9l-5.6 -2.2z"/><path fill="#ff5200" d="M148.8 1752.3l5.6 1.8l4.4 -12.5l-5.6 -1.8z"/><path fill="#e70000" d="M157.7 1732.8l5.6 1.8l4.4 -5.3l-5.6 -1.7z"/><path fill="#910000" d="M231.2 1717.4l5.5 4l4.5 -.1l-5.6 -4.8z"/><path fill="#0053ff" d="M334.8 1870.2l5.6 2.4l4.4 -1.1l-5.6 -2.3z"/><path fill="#00aeff" d="M264.6 1853.1l5.6 7l4.5 .2l-5.6 -5.7z"/><path fill="#0000f3" d="M479.5 1889.4l5.6 2.2l4.4 -.8l-5.5 -2.2z"/><path fill="#8c0000" d="M221.1 1716.1l5.6 2.5l4.5 -1.2l-5.6 -2.7z"/><path fill="#9f0000" d="M186.6 1719.3l5.6 1.8l4.4 -3.1l-5.5 -1.8z"/><path fill="#004eff" d="M344.8 1871.5l5.6 2.3l4.4 -1l-5.6 -2.3z"/><path fill="#bb0000" d="M172.2 1724.9l5.5 1.7l4.5 -3.8l-5.6 -1.8z"/><path fill="#0048ff" d="M354.8 1872.8l5.6 2.3l4.4 -.9l-5.5 -2.4z"/><path fill="#ff0c00" d="M153.2 1739.8l5.6 1.8l4.5 -7l-5.6 -1.8z"/><path fill="#0042ff" d="M364.8 1874.2l5.6 2.3l4.5 -.9l-5.6 -2.3z"/><path fill="#000080" d="M213.5 1909.7l5.5 1.7l4.5 -8l-5.6 -1.9z"/><path fill="#51ffae" d="M253.5 1823.9l5.6 17.8l4.4 3.7l-5.6 -15.2z"/><path fill="#003bff" d="M374.9 1875.6l5.5 2.3l4.5 -.9l-5.6 -2.3z"/><path fill="#c00000" d="M242.3 1728.3l5.6 12.6l4.4 4.6l-5.6 -15.6z"/><path fill="#0008ff" d="M211.2 1882.0l5.6 5.5l4.4 -24.1l-5.5 -15.3z"/><path fill="#0035ff" d="M384.9 1877.0l5.6 2.3l4.4 -.8l-5.6 -2.3z"/><path fill="#0000ab" d="M217.9 1901.5l5.6 1.9l4.4 -9.1l-5.5 -3z"/><path fill="#940000" d="M196.6 1718.0l5.6 1.8l4.5 -2.2l-5.6 -1.8z"/><path fill="#002eff" d="M394.9 1878.5l5.6 2.3l4.4 -.8l-5.5 -2.3z"/><path fill="#9f0000" d="M236.7 1721.4l5.6 6.9l4.4 1.6l-5.5 -8.6z"/><path fill="#0000ef" d="M216.8 1887.5l5.6 3.8l4.4 -17l-5.6 -10.9z"/><path fill="#0076ff" d="M280.2 1864.1l5.6 3l4.5 -1l-5.6 -2.8z"/><path fill="#0027ff" d="M404.9 1880.0l5.6 2.3l4.4 -.8l-5.5 -2.3z"/><path fill="#006cff" d="M290.3 1866.1l5.5 2.6l4.5 -1.2l-5.6 -2.4z"/><path fill="#ffee00" d="M155.5 1782.0l5.6 2.8l4.4 -26.8l-5.6 -2z"/><path fill="#0020ff" d="M414.9 1881.5l5.6 2.3l4.5 -.8l-5.6 -2.3z"/><path fill="#0065ff" d="M300.3 1867.5l5.5 2.5l4.5 -1.2l-5.6 -2.4z"/><path fill="#008dff" d="M270.2 1860.1l5.6 4.6l4.4 -.6l-5.5 -3.8z"/><path fill="#0019ff" d="M425.0 1883.0l5.5 2.3l4.5 -.8l-5.6 -2.3z"/><path fill="#002fff" d="M205.6 1873.9l5.6 8.1l4.5 -33.9l-5.6 -18.9z"/><path fill="#cf0000" d="M167.7 1729.3l5.6 1.8l4.4 -4.5l-5.5 -1.7z"/><path fill="#ac0000" d="M182.2 1722.8l5.5 1.7l4.5 -3.4l-5.6 -1.8z"/><path fill="#0012ff" d="M435.0 1884.5l5.6 2.3l4.4 -.8l-5.6 -2.3z"/><path fill="#8f0000" d="M206.7 1717.6l5.5 1.9l4.5 -1.8l-5.6 -1.9z"/><path fill="#0060ff" d="M310.3 1868.8l5.6 2.4l4.4 -1.1l-5.6 -2.4z"/><path fill="#000bff" d="M445.0 1886.0l5.6 2.2l4.4 -.8l-5.5 -2.2z"/><path fill="#005aff" d="M320.3 1870.1l5.6 2.4l4.4 -1.2l-5.5 -2.3z"/><path fill="#0004ff" d="M455.0 1887.4l5.6 2.3l4.4 -.8l-5.5 -2.2z"/><path fill="#0055ff" d="M330.3 1871.3l5.6 2.4l4.5 -1.1l-5.6 -2.4z"/><path fill="#0000fd" d="M465.0 1888.9l5.6 2.2l4.5 -.8l-5.6 -2.2z"/><path fill="#8d0000" d="M216.7 1717.7l5.6 2.3l4.4 -1.4l-5.6 -2.5z"/><path fill="#900000" d="M226.7 1718.6l5.6 3.4l4.4 -.6l-5.5 -4z"/><path fill="#0000e2" d="M222.4 1891.3l5.5 3l4.5 -12.6l-5.6 -7.4z"/><path fill="#0000f7" d="M475.1 1890.3l5.5 2.2l4.5 -.9l-5.6 -2.2z"/><path fill="#004fff" d="M340.4 1872.6l5.5 2.3l4.5 -1.1l-5.6 -2.3z"/><path fill="#e80000" d="M243.4 1737.7l5.6 17.6l4.4 6.6l-5.5 -21z"/><path fill="#ff5200" d="M154.4 1754.1l5.5 1.9l4.5 -12.6l-5.6 -1.8z"/><path fill="#e70000" d="M163.3 1734.6l5.5 1.7l4.5 -5.2l-5.6 -1.8z"/><path fill="#004aff" d="M350.4 1873.8l5.5 2.4l4.5 -1.1l-5.6 -2.3z"/><path fill="#9f0000" d="M192.2 1721.1l5.6 1.8l4.4 -3.1l-5.6 -1.8z"/><path fill="#02fffd" d="M254.6 1839.5l5.6 12.6l4.4 1l-5.5 -11.4z"/><path fill="#00bdff" d="M260.2 1852.1l5.6 8l4.4 0l-5.6 -7z"/><path fill="#0044ff" d="M360.4 1875.1l5.6 2.4l4.4 -1l-5.6 -2.3z"/><path fill="#bc0000" d="M177.7 1726.6l5.6 1.8l4.4 -3.9l-5.5 -1.7z"/><path fill="#003eff" d="M370.4 1876.5l5.6 2.3l4.4 -.9l-5.5 -2.3z"/><path fill="#006dff" d="M200.1 1862.4l5.5 11.5l4.5 -44.7l-5.6 -19.6z"/><path fill="#ff2400" d="M244.5 1750.2l5.6 22.5l4.5 8.1l-5.6 -25.5z"/><path fill="#ff0c00" d="M158.8 1741.6l5.6 1.8l4.4 -7.1l-5.5 -1.7z"/><path fill="#ff6f00" d="M245.7 1765.3l5.5 25.7l4.5 9l-5.6 -27.3z"/><path fill="#0038ff" d="M380.4 1877.9l5.6 2.3l4.5 -.9l-5.6 -2.3z"/><path fill="#000080" d="M219.0 1911.4l5.6 1.8l4.5 -7.9l-5.6 -1.9z"/><path fill="#0031ff" d="M390.5 1879.3l5.5 2.4l4.5 -.9l-5.6 -2.3z"/><path fill="#0000aa" d="M223.5 1903.4l5.6 1.9l4.4 -8.5l-5.6 -2.5z"/><path fill="#ffc100" d="M246.8 1781.4l5.6 26.2l4.4 9.3l-5.6 -25.9z"/><path fill="#007bff" d="M275.8 1864.7l5.6 3.4l4.4 -1l-5.6 -3z"/><path fill="#006eff" d="M285.8 1867.1l5.6 2.7l4.4 -1.1l-5.5 -2.6z"/><path fill="#002aff" d="M400.5 1880.8l5.5 2.3l4.5 -.8l-5.6 -2.3z"/><path fill="#940000" d="M202.2 1719.8l5.6 1.9l4.4 -2.2l-5.5 -1.9z"/><path fill="#fff500" d="M161.1 1784.8l5.5 3.9l4.5 -28.4l-5.6 -2.3z"/><path fill="#0023ff" d="M410.5 1882.3l5.6 2.3l4.4 -.8l-5.6 -2.3z"/><path fill="#0067ff" d="M295.8 1868.7l5.6 2.4l4.4 -1.1l-5.5 -2.5z"/><path fill="#001dff" d="M420.5 1883.8l5.6 2.3l4.4 -.8l-5.5 -2.3z"/><path fill="#9b0000" d="M232.3 1722.0l5.5 5.6l4.5 .7l-5.6 -6.9z"/><path fill="#dbff24" d="M247.9 1800.1l5.6 23.8l4.4 6.3l-5.5 -22.6z"/><path fill="#0061ff" d="M305.8 1870.0l5.6 2.4l4.5 -1.2l-5.6 -2.4z"/><path fill="#0095ff" d="M265.8 1860.1l5.5 5.2l4.5 -.6l-5.6 -4.6z"/><path fill="#0016ff" d="M430.5 1885.3l5.6 2.2l4.5 -.7l-5.6 -2.3z"/><path fill="#0000da" d="M227.9 1894.3l5.6 2.5l4.4 -10.1l-5.5 -5z"/><path fill="#000fff" d="M440.6 1886.8l5.5 2.2l4.5 -.8l-5.6 -2.2z"/><path fill="#005cff" d="M315.9 1871.2l5.5 2.4l4.5 -1.1l-5.6 -2.4z"/><path fill="#b30000" d="M237.8 1727.6l5.6 10.1l4.5 3.2l-5.6 -12.6z"/><path fill="#cf0000" d="M173.3 1731.1l5.6 1.8l4.4 -4.5l-5.6 -1.8z"/><path fill="#ac0000" d="M187.7 1724.5l5.6 1.8l4.5 -3.4l-5.6 -1.8z"/><path fill="#900000" d="M212.2 1719.5l5.6 2.2l4.5 -1.7l-5.6 -2.3z"/><path fill="#0008ff" d="M450.6 1888.2l5.6 2.3l4.4 -.8l-5.6 -2.3z"/><path fill="#0056ff" d="M325.9 1872.5l5.6 2.3l4.4 -1.1l-5.6 -2.4z"/><path fill="#6bff94" d="M249.0 1821.0l5.6 18.5l4.5 2.2l-5.6 -17.8z"/><path fill="#0001ff" d="M460.6 1889.7l5.6 2.2l4.4 -.8l-5.6 -2.2z"/><path fill="#910000" d="M222.3 1720.0l5.5 3l4.5 -1l-5.6 -3.4z"/><path fill="#0051ff" d="M335.9 1873.7l5.6 2.4l4.4 -1.2l-5.5 -2.3z"/><path fill="#0000fa" d="M470.6 1891.1l5.6 2.2l4.4 -.8l-5.5 -2.2z"/><path fill="#004bff" d="M345.9 1874.9l5.6 2.4l4.4 -1.1l-5.5 -2.4z"/><path fill="#00c1ff" d="M194.5 1847.3l5.6 15.1l4.4 -52.8l-5.6 -16.8z"/><path fill="#0046ff" d="M355.9 1876.2l5.6 2.3l4.5 -1l-5.6 -2.4z"/><path fill="#ff5300" d="M159.9 1756.0l5.6 2l4.5 -12.8l-5.6 -1.8z"/><path fill="#e80000" d="M168.8 1736.3l5.6 1.9l4.5 -5.3l-5.6 -1.8z"/><path fill="#00beff" d="M255.7 1853.2l5.6 8.8l4.5 -1.9l-5.6 -8z"/><path fill="#0040ff" d="M366.0 1877.5l5.5 2.3l4.5 -1l-5.6 -2.3z"/><path fill="#0045ff" d="M226.8 1874.3l5.6 7.4l4.4 -16.3l-5.5 -13.2z"/><path fill="#9f0000" d="M197.8 1722.9l5.5 1.9l4.5 -3.1l-5.6 -1.9z"/><path fill="#07fff8" d="M250.2 1840.0l5.5 13.2l4.5 -1.1l-5.6 -12.6z"/><path fill="#003aff" d="M376.0 1878.8l5.6 2.4l4.4 -1l-5.6 -2.3z"/><path fill="#bc0000" d="M183.3 1728.4l5.6 1.8l4.4 -3.9l-5.6 -1.8z"/><path fill="#fbff04" d="M166.6 1788.7l5.6 5.7l4.5 -31.3l-5.6 -2.8z"/><path fill="#0034ff" d="M386.0 1880.2l5.6 2.4l4.4 -.9l-5.5 -2.4z"/><path fill="#0022ff" d="M232.4 1881.7l5.5 5l4.5 -12.2l-5.6 -9.1z"/><path fill="#0070ff" d="M281.4 1868.1l5.5 2.8l4.5 -1.1l-5.6 -2.7z"/><path fill="#ff0c00" d="M164.4 1743.4l5.6 1.8l4.4 -7l-5.6 -1.9z"/><path fill="#007fff" d="M271.3 1865.3l5.6 3.8l4.5 -1l-5.6 -3.4z"/><path fill="#002dff" d="M396.0 1881.7l5.6 2.3l4.4 -.9l-5.5 -2.3z"/><path fill="#000080" d="M224.6 1913.2l5.6 1.7l4.4 -7.8l-5.5 -1.8z"/><path fill="#0068ff" d="M291.4 1869.8l5.5 2.5l4.5 -1.2l-5.6 -2.4z"/><path fill="#0000a9" d="M229.1 1905.3l5.5 1.8l4.5 -8l-5.6 -2.3z"/><path fill="#0027ff" d="M406.0 1883.1l5.6 2.3l4.5 -.8l-5.6 -2.3z"/><path fill="#007fff" d="M221.2 1863.4l5.6 10.9l4.5 -22.1l-5.6 -17.9z"/><path fill="#0062ff" d="M301.4 1871.1l5.6 2.4l4.4 -1.1l-5.6 -2.4z"/><path fill="#0092ff" d="M261.3 1862.0l5.6 5.8l4.4 -2.5l-5.5 -5.2z"/><path fill="#0020ff" d="M416.1 1884.6l5.5 2.3l4.5 -.8l-5.6 -2.3z"/><path fill="#950000" d="M207.8 1721.7l5.6 2l4.4 -2l-5.6 -2.2z"/><path fill="#0000d5" d="M233.5 1896.8l5.6 2.3l4.4 -8.8l-5.6 -3.6z"/><path fill="#0019ff" d="M426.1 1886.1l5.6 2.2l4.4 -.8l-5.6 -2.2z"/><path fill="#990000" d="M227.8 1723.0l5.6 4.7l4.4 -.1l-5.5 -5.6z"/><path fill="#005dff" d="M311.4 1872.4l5.6 2.3l4.4 -1.1l-5.5 -2.4z"/><path fill="#d30000" d="M239.0 1735.8l5.5 14.4l4.5 5.1l-5.6 -17.6z"/><path fill="#0012ff" d="M436.1 1887.5l5.6 2.3l4.4 -.8l-5.5 -2.2z"/><path fill="#0058ff" d="M321.4 1873.6l5.6 2.3l4.5 -1.1l-5.6 -2.3z"/><path fill="#000bff" d="M446.1 1889.0l5.6 2.3l4.5 -.8l-5.6 -2.3z"/><path fill="#930000" d="M217.8 1721.7l5.6 2.7l4.4 -1.4l-5.5 -3z"/><path fill="#21ffde" d="M188.9 1830.5l5.6 16.8l4.4 -54.5l-5.5 -12.3z"/><path fill="#0005ff" d="M456.2 1890.5l5.5 2.2l4.5 -.8l-5.6 -2.2z"/><path fill="#d00000" d="M178.9 1732.9l5.5 1.9l4.5 -4.6l-5.6 -1.8z"/><path fill="#0052ff" d="M331.5 1874.8l5.5 2.4l4.5 -1.1l-5.6 -2.4z"/><path fill="#ac0000" d="M193.3 1726.3l5.6 1.9l4.4 -3.4l-5.5 -1.9z"/><path fill="#00b1ff" d="M251.3 1856.6l5.6 9.1l4.4 -3.7l-5.6 -8.8z"/><path fill="#000eff" d="M237.9 1886.7l5.6 3.6l4.5 -9.7l-5.6 -6.1z"/><path fill="#0000fd" d="M466.2 1891.9l5.5 2.2l4.5 -.8l-5.6 -2.2z"/><path fill="#004dff" d="M341.5 1876.1l5.5 2.3l4.5 -1.1l-5.6 -2.4z"/><path fill="#e3ff1c" d="M172.2 1794.4l5.6 8.4l4.4 -36l-5.5 -3.7z"/><path fill="#ab0000" d="M233.4 1727.7l5.6 8.1l4.4 1.9l-5.6 -10.1z"/><path fill="#0048ff" d="M351.5 1877.3l5.6 2.3l4.4 -1.1l-5.6 -2.3z"/><path fill="#70ff8f" d="M244.6 1821.5l5.6 18.5l4.4 -.5l-5.6 -18.5z"/><path fill="#00fbff" d="M245.7 1843.1l5.6 13.5l4.4 -3.4l-5.5 -13.2z"/><path fill="#0080ff" d="M236.8 1865.4l5.6 9.1l4.4 -10.5l-5.5 -12.1z"/><path fill="#0042ff" d="M361.5 1878.5l5.6 2.4l4.4 -1.1l-5.5 -2.3z"/><path fill="#ff0200" d="M240.1 1746.2l5.6 19.1l4.4 7.4l-5.6 -22.5z"/><path fill="#ff5500" d="M165.5 1758.0l5.6 2.3l4.4 -13.1l-5.5 -2z"/><path fill="#0052ff" d="M242.4 1874.5l5.6 6.1l4.4 -8.5l-5.6 -8.1z"/><path fill="#0083ff" d="M256.9 1865.7l5.5 6.2l4.5 -4.1l-5.6 -5.8z"/><path fill="#003dff" d="M371.5 1879.8l5.6 2.4l4.5 -1l-5.6 -2.4z"/><path fill="#e80000" d="M174.4 1738.2l5.6 1.8l4.4 -5.2l-5.5 -1.9z"/><path fill="#0078ff" d="M266.9 1867.8l5.6 4.1l4.4 -2.8l-5.6 -3.8z"/><path fill="#008bff" d="M246.8 1864.0l5.6 8.1l4.5 -6.4l-5.6 -9.1z"/><path fill="#77ff88" d="M183.3 1814.9l5.6 15.6l4.5 -50l-5.6 -8.2z"/><path fill="#a00000" d="M203.3 1724.8l5.6 2l4.5 -3.1l-5.6 -2z"/><path fill="#0037ff" d="M381.6 1881.2l5.5 2.3l4.5 -.9l-5.6 -2.4z"/><path fill="#0072ff" d="M276.9 1869.1l5.6 3.1l4.4 -1.3l-5.5 -2.8z"/><path fill="#b9ff46" d="M177.8 1802.8l5.5 12.1l4.5 -42.6l-5.6 -5.5z"/><path fill="#f0ff0f" d="M243.5 1798.1l5.5 22.9l4.5 2.9l-5.6 -23.8z"/><path fill="#0069ff" d="M286.9 1870.9l5.6 2.6l4.4 -1.2l-5.5 -2.5z"/><path fill="#00ccff" d="M241.3 1851.9l5.5 12.1l4.5 -7.4l-5.6 -13.5z"/><path fill="#0030ff" d="M391.6 1882.6l5.6 2.3l4.4 -.9l-5.6 -2.3z"/><path fill="#00d4ff" d="M215.7 1848.1l5.5 15.3l4.5 -29.1l-5.6 -20.6z"/><path fill="#bc0000" d="M188.9 1730.2l5.5 1.9l4.5 -3.9l-5.6 -1.9z"/><path fill="#002aff" d="M401.6 1884.0l5.6 2.3l4.4 -.9l-5.6 -2.3z"/><path fill="#0063ff" d="M296.9 1872.3l5.6 2.4l4.5 -1.2l-5.6 -2.4z"/><path fill="#00c8ff" d="M231.3 1852.2l5.5 13.2l4.5 -13.5l-5.6 -16.7z"/><path fill="#ff0d00" d="M170.0 1745.2l5.5 2l4.5 -7.2l-5.6 -1.8z"/><path fill="#ff3d00" d="M241.2 1758.7l5.6 22.7l4.4 9.6l-5.5 -25.7z"/><path fill="#0023ff" d="M411.6 1885.4l5.6 2.3l4.4 -.8l-5.5 -2.3z"/><path fill="#0000a8" d="M234.6 1907.1l5.6 1.9l4.4 -7.8l-5.5 -2.1z"/><path fill="#000080" d="M230.2 1914.9l5.6 1.7l4.4 -7.6l-5.6 -1.9z"/><path fill="#0000d2" d="M239.1 1899.1l5.5 2.1l4.5 -8l-5.6 -2.9z"/><path fill="#005eff" d="M307.0 1873.5l5.5 2.4l4.5 -1.2l-5.6 -2.3z"/><path fill="#ff9400" d="M242.3 1775.6l5.6 24.5l4.5 7.5l-5.6 -26.2z"/><path fill="#001cff" d="M421.6 1886.9l5.6 2.3l4.5 -.9l-5.6 -2.2z"/><path fill="#970000" d="M213.4 1723.7l5.5 2.4l4.5 -1.7l-5.6 -2.7z"/><path fill="#0063ff" d="M252.4 1872.1l5.6 5.6l4.4 -5.8l-5.5 -6.2z"/><path fill="#990000" d="M223.4 1724.4l5.6 3.8l4.4 -.5l-5.6 -4.7z"/><path fill="#0016ff" d="M431.7 1888.3l5.5 2.3l4.5 -.8l-5.6 -2.3z"/><path fill="#0059ff" d="M317.0 1874.7l5.6 2.4l4.4 -1.2l-5.6 -2.3z"/><path fill="#0002ff" d="M243.5 1890.3l5.6 2.9l4.4 -8.3l-5.5 -4.3z"/><path fill="#000fff" d="M441.7 1889.8l5.6 2.3l4.4 -.8l-5.6 -2.3z"/><path fill="#0036ff" d="M248.0 1880.6l5.5 4.3l4.5 -7.2l-5.6 -5.6z"/><path fill="#0054ff" d="M327.0 1875.9l5.6 2.4l4.4 -1.1l-5.5 -2.4z"/><path fill="#0008ff" d="M451.7 1891.3l5.6 2.2l4.4 -.8l-5.5 -2.2z"/><path fill="#0067ff" d="M262.4 1871.9l5.6 4.4l4.5 -4.4l-5.6 -4.1z"/><path fill="#004eff" d="M337.0 1877.2l5.6 2.3l4.4 -1.1l-5.5 -2.3z"/><path fill="#0002ff" d="M461.7 1892.7l5.6 2.3l4.4 -.9l-5.5 -2.2z"/><path fill="#64ff9b" d="M240.1 1824.8l5.6 18.3l4.5 -3.1l-5.6 -18.5z"/><path fill="#d00000" d="M184.4 1734.8l5.6 1.9l4.4 -4.6l-5.5 -1.9z"/><path fill="#ad0000" d="M198.9 1728.2l5.6 2l4.4 -3.4l-5.6 -2z"/><path fill="#0049ff" d="M347.0 1878.4l5.6 2.4l4.5 -1.2l-5.6 -2.3z"/><path fill="#0044ff" d="M357.1 1879.6l5.5 2.4l4.5 -1.1l-5.6 -2.4z"/><path fill="#2bffd4" d="M235.7 1835.2l5.6 16.7l4.4 -8.8l-5.6 -18.3z"/><path fill="#0069ff" d="M272.5 1871.9l5.5 3.3l4.5 -3l-5.6 -3.1z"/><path fill="#c40000" d="M234.5 1734.7l5.6 11.5l4.4 4l-5.5 -14.4z"/><path fill="#003eff" d="M367.1 1880.9l5.6 2.3l4.4 -1l-5.6 -2.4z"/><path fill="#a60000" d="M229.0 1728.2l5.5 6.5l4.5 1.1l-5.6 -8.1z"/><path fill="#ff5800" d="M171.1 1760.3l5.6 2.8l4.4 -13.7l-5.6 -2.2z"/><path fill="#0039ff" d="M377.1 1882.2l5.6 2.3l4.4 -1l-5.5 -2.3z"/><path fill="#004bff" d="M258.0 1877.7l5.6 4l4.4 -5.4l-5.6 -4.4z"/><path fill="#006aff" d="M282.5 1872.2l5.6 2.7l4.4 -1.4l-5.6 -2.6z"/><path fill="#0033ff" d="M387.1 1883.5l5.6 2.3l4.5 -.9l-5.6 -2.3z"/><path fill="#e90000" d="M180.0 1740.0l5.5 2.1l4.5 -5.4l-5.6 -1.9z"/><path fill="#a20000" d="M208.9 1726.8l5.6 2.3l4.4 -3l-5.5 -2.4z"/><path fill="#0064ff" d="M292.5 1873.5l5.6 2.5l4.4 -1.3l-5.6 -2.4z"/><path fill="#002dff" d="M397.2 1884.9l5.5 2.3l4.5 -.9l-5.6 -2.3z"/><path fill="#2effd1" d="M225.7 1834.3l5.6 17.9l4.4 -17l-5.6 -20.3z"/><path fill="#005fff" d="M302.5 1874.7l5.6 2.4l4.4 -1.2l-5.5 -2.4z"/><path fill="#0026ff" d="M407.2 1886.3l5.5 2.3l4.5 -.9l-5.6 -2.3zM253.5 1884.9l5.6 3.3l4.5 -6.5l-5.6 -4z"/><path fill="#bd0000" d="M194.4 1732.1l5.6 2.1l4.5 -4l-5.6 -2z"/><path fill="#efff10" d="M239.0 1799.6l5.6 21.9l4.4 -.5l-5.5 -22.9z"/><path fill="#9b0000" d="M218.9 1726.1l5.6 3.3l4.5 -1.2l-5.6 -3.8z"/><path fill="#0020ff" d="M417.2 1887.7l5.6 2.3l4.4 -.8l-5.6 -2.3z"/><path fill="#ff0f00" d="M175.5 1747.2l5.6 2.2l4.4 -7.3l-5.5 -2.1z"/><path fill="#0000fa" d="M249.1 1893.2l5.6 2.5l4.4 -7.5l-5.6 -3.3z"/><path fill="#0000d0" d="M244.6 1901.2l5.6 2l4.5 -7.5l-5.6 -2.5z"/><path fill="#005aff" d="M312.5 1875.9l5.6 2.4l4.5 -1.2l-5.6 -2.4z"/><path fill="#41ffbe" d="M210.1 1829.2l5.6 18.9l4.4 -34.4l-5.6 -19.6z"/><path fill="#0000a7" d="M240.2 1909.0l5.6 1.8l4.4 -7.6l-5.6 -2z"/><path fill="#0019ff" d="M427.2 1889.2l5.6 2.3l4.4 -.9l-5.5 -2.3z"/><path fill="#000080" d="M235.8 1916.6l5.5 1.8l4.5 -7.6l-5.6 -1.8z"/><path fill="#0055ff" d="M322.6 1877.1l5.5 2.4l4.5 -1.2l-5.6 -2.4z"/><path fill="#0012ff" d="M437.2 1890.6l5.6 2.3l4.5 -.8l-5.6 -2.3z"/><path fill="#0056ff" d="M268.0 1876.3l5.6 3.3l4.4 -4.4l-5.5 -3.3z"/><path fill="#000cff" d="M447.3 1892.1l5.5 2.3l4.5 -.9l-5.6 -2.2z"/><path fill="#0050ff" d="M332.6 1878.3l5.6 2.4l4.4 -1.2l-5.6 -2.3z"/><path fill="#0005ff" d="M457.3 1893.5l5.5 2.3l4.5 -.8l-5.6 -2.3z"/><path fill="#004aff" d="M342.6 1879.5l5.6 2.4l4.4 -1.1l-5.6 -2.4z"/><path fill="#e70000" d="M235.7 1743.5l5.5 15.2l4.5 6.6l-5.6 -19.1z"/><path fill="#af0000" d="M204.5 1730.2l5.5 2.4l4.5 -3.5l-5.6 -2.3z"/><path fill="#0045ff" d="M352.6 1880.8l5.6 2.3l4.4 -1.1l-5.5 -2.4z"/><path fill="#d20000" d="M190.0 1736.7l5.6 2.2l4.4 -4.7l-5.6 -2.1z"/><path fill="#0060ff" d="M278.0 1875.2l5.6 2.8l4.5 -3.1l-5.6 -2.7z"/><path fill="#0040ff" d="M362.6 1882.0l5.6 2.4l4.5 -1.2l-5.6 -2.3z"/><path fill="#003dff" d="M263.6 1881.7l5.5 3.2l4.5 -5.3l-5.6 -3.3z"/><path fill="#ff8c00" d="M237.9 1775.7l5.6 22.4l4.4 2l-5.6 -24.5z"/><path fill="#ff5f00" d="M176.7 1763.1l5.5 3.7l4.5 -14.8l-5.6 -2.6z"/><path fill="#003bff" d="M372.7 1883.2l5.5 2.4l4.5 -1.1l-5.6 -2.3z"/><path fill="#a50000" d="M224.5 1729.4l5.6 5.2l4.4 .1l-5.5 -6.5z"/><path fill="#deff21" d="M234.6 1803.6l5.5 21.2l4.5 -3.3l-5.6 -21.9z"/><path fill="#0064ff" d="M288.1 1874.9l5.5 2.5l4.5 -1.4l-5.6 -2.5z"/><path fill="#0035ff" d="M382.7 1884.5l5.6 2.3l4.4 -1l-5.6 -2.3z"/><path fill="#a50000" d="M214.5 1729.1l5.6 2.9l4.4 -2.6l-5.6 -3.3z"/><path fill="#a0ff5f" d="M230.1 1814.9l5.6 20.3l4.4 -10.4l-5.5 -21.2z"/><path fill="#002fff" d="M392.7 1885.8l5.6 2.4l4.4 -1l-5.5 -2.3z"/><path fill="#005fff" d="M298.1 1876.0l5.5 2.4l4.5 -1.3l-5.6 -2.4z"/><path fill="#eb0000" d="M185.5 1742.1l5.6 2.3l4.5 -5.5l-5.6 -2.2z"/><path fill="#001dff" d="M259.1 1888.2l5.6 2.7l4.4 -6l-5.5 -3.2z"/><path fill="#ff2500" d="M236.8 1756.3l5.5 19.3l4.5 5.8l-5.6 -22.7z"/><path fill="#0029ff" d="M402.7 1887.2l5.6 2.3l4.4 -.9l-5.5 -2.3z"/><path fill="#ba0000" d="M230.1 1734.6l5.6 8.9l4.4 2.7l-5.6 -11.5z"/><path fill="#005bff" d="M308.1 1877.1l5.6 2.4l4.4 -1.2l-5.6 -2.4z"/><path fill="#0023ff" d="M412.7 1888.6l5.6 2.3l4.5 -.9l-5.6 -2.3z"/><path fill="#c00000" d="M200.0 1734.2l5.6 2.5l4.4 -4.1l-5.5 -2.4z"/><path fill="#0000f5" d="M254.7 1895.7l5.5 2.2l4.5 -7l-5.6 -2.7z"/><path fill="#001cff" d="M422.8 1890.0l5.5 2.3l4.5 -.8l-5.6 -2.3z"/><path fill="#ff1100" d="M181.1 1749.4l5.6 2.6l4.4 -7.6l-5.6 -2.3z"/><path fill="#0056ff" d="M318.1 1878.3l5.6 2.4l4.4 -1.2l-5.5 -2.4z"/><path fill="#004cff" d="M273.6 1879.6l5.6 2.9l4.4 -4.5l-5.6 -2.8z"/><path fill="#0000ce" d="M250.2 1903.2l5.6 2l4.4 -7.3l-5.5 -2.2z"/><path fill="#0016ff" d="M432.8 1891.5l5.6 2.3l4.4 -.9l-5.6 -2.3z"/><path fill="#0000a7" d="M245.8 1910.8l5.5 1.9l4.5 -7.5l-5.6 -2z"/><path fill="#0051ff" d="M328.1 1879.5l5.6 2.3l4.5 -1.1l-5.6 -2.4z"/><path fill="#000fff" d="M442.8 1892.9l5.6 2.3l4.4 -.8l-5.5 -2.3z"/><path fill="#000080" d="M241.3 1918.4l5.6 1.7l4.4 -7.4l-5.5 -1.9z"/><path fill="#b2ff4d" d="M204.5 1809.6l5.6 19.6l4.4 -35.1l-5.5 -15.7z"/><path fill="#0008ff" d="M452.8 1894.4l5.6 2.2l4.4 -.8l-5.5 -2.3z"/><path fill="#a5ff5a" d="M220.1 1813.7l5.6 20.6l4.4 -19.4l-5.5 -20.6z"/><path fill="#004cff" d="M338.2 1880.7l5.5 2.3l4.5 -1.1l-5.6 -2.4z"/><path fill="#0047ff" d="M348.2 1881.9l5.5 2.4l4.5 -1.2l-5.6 -2.3z"/><path fill="#b30000" d="M210.0 1732.6l5.6 3l4.5 -3.6l-5.6 -2.9z"/><path fill="#0041ff" d="M358.2 1883.1l5.6 2.4l4.4 -1.1l-5.6 -2.4z"/><path fill="#ff6c00" d="M182.2 1766.8l5.6 5.5l4.4 -17l-5.5 -3.3z"/><path fill="#d40000" d="M195.6 1738.9l5.5 2.5l4.5 -4.7l-5.6 -2.5z"/><path fill="#0059ff" d="M283.6 1878.0l5.6 2.5l4.4 -3.1l-5.5 -2.5z"/><path fill="#0034ff" d="M269.1 1884.9l5.6 2.7l4.5 -5.1l-5.6 -2.9z"/><path fill="#003cff" d="M368.2 1884.4l5.6 2.3l4.4 -1.1l-5.5 -2.4z"/><path fill="#ad0000" d="M220.1 1732.0l5.5 4.5l4.5 -1.9l-5.6 -5.2z"/><path fill="#ff9600" d="M233.5 1778.7l5.5 20.9l4.5 -1.5l-5.6 -22.4z"/><path fill="#0037ff" d="M378.2 1885.6l5.6 2.3l4.5 -1.1l-5.6 -2.3z"/><path fill="#005fff" d="M293.6 1877.4l5.6 2.5l4.4 -1.5l-5.5 -2.4z"/><path fill="#0031ff" d="M388.3 1886.8l5.5 2.4l4.5 -1l-5.6 -2.4z"/><path fill="#0016ff" d="M264.7 1890.9l5.6 2.4l4.4 -5.7l-5.6 -2.7z"/><path fill="#002bff" d="M398.3 1888.2l5.5 2.3l4.5 -1l-5.6 -2.3z"/><path fill="#005bff" d="M303.6 1878.4l5.6 2.4l4.5 -1.3l-5.6 -2.4z"/><path fill="#ee0000" d="M191.1 1744.4l5.6 2.7l4.4 -5.7l-5.5 -2.5z"/><path fill="#e10000" d="M231.2 1743.8l5.6 12.5l4.4 2.4l-5.5 -15.2z"/><path fill="#0025ff" d="M408.3 1889.5l5.6 2.4l4.4 -1l-5.6 -2.3z"/><path fill="#0057ff" d="M313.7 1879.5l5.5 2.4l4.5 -1.2l-5.6 -2.4z"/><path fill="#c40000" d="M205.6 1736.7l5.6 3.1l4.4 -4.2l-5.6 -3z"/><path fill="#001fff" d="M418.3 1890.9l5.6 2.3l4.4 -.9l-5.5 -2.3z"/><path fill="#ff1700" d="M186.7 1752.0l5.5 3.3l4.5 -8.2l-5.6 -2.7z"/><path fill="#0000f1" d="M260.2 1897.9l5.6 2.2l4.5 -6.8l-5.6 -2.4z"/><path fill="#ffee00" d="M198.9 1792.8l5.6 16.8l4.5 -31.2l-5.6 -11z"/><path fill="#be0000" d="M225.6 1736.5l5.6 7.3l4.5 -.3l-5.6 -8.9z"/><path fill="#0045ff" d="M279.2 1882.5l5.5 2.5l4.5 -4.5l-5.6 -2.5z"/><path fill="#ff8300" d="M187.8 1772.3l5.6 8.2l4.4 -20.4l-5.6 -4.8z"/><path fill="#0019ff" d="M428.3 1892.3l5.6 2.3l4.5 -.8l-5.6 -2.3z"/><path fill="#0052ff" d="M323.7 1880.7l5.6 2.3l4.4 -1.2l-5.6 -2.3z"/><path fill="#0000cd" d="M255.8 1905.2l5.6 1.9l4.4 -7l-5.6 -2.2z"/><path fill="#ff2a00" d="M232.3 1758.3l5.6 17.4l4.4 -.1l-5.5 -19.3z"/><path fill="#0012ff" d="M438.4 1893.8l5.5 2.3l4.5 -.9l-5.6 -2.3z"/><path fill="#004dff" d="M333.7 1881.8l5.6 2.4l4.4 -1.2l-5.5 -2.3z"/><path fill="#000cff" d="M448.4 1895.2l5.6 2.3l4.4 -.9l-5.6 -2.2z"/><path fill="#0000a6" d="M251.3 1912.7l5.6 1.8l4.5 -7.4l-5.6 -1.9z"/><path fill="#ffac00" d="M229.0 1783.5l5.6 20.1l4.4 -4l-5.5 -20.9z"/><path fill="#bb0000" d="M215.6 1735.6l5.6 4.4l4.4 -3.5l-5.5 -4.5z"/><path fill="#ffe800" d="M224.6 1794.3l5.5 20.6l4.5 -11.3l-5.6 -20.1z"/><path fill="#000080" d="M246.9 1920.1l5.6 1.8l4.4 -7.4l-5.6 -1.8z"/><path fill="#0048ff" d="M343.7 1883.0l5.6 2.4l4.4 -1.1l-5.5 -2.4z"/><path fill="#ffac00" d="M193.4 1780.5l5.5 12.3l4.5 -25.4l-5.6 -7.3z"/><path fill="#0043ff" d="M353.7 1884.3l5.6 2.3l4.5 -1.1l-5.6 -2.4z"/><path fill="#d90000" d="M201.1 1741.4l5.6 3.3l4.5 -4.9l-5.6 -3.1z"/><path fill="#002eff" d="M274.7 1887.6l5.6 2.4l4.4 -5l-5.5 -2.5z"/><path fill="#003dff" d="M363.8 1885.5l5.5 2.3l4.5 -1.1l-5.6 -2.3z"/><path fill="#0054ff" d="M289.2 1880.5l5.5 2.5l4.5 -3.1l-5.6 -2.5z"/><path fill="#ffe800" d="M214.5 1794.1l5.6 19.6l4.5 -19.4l-5.6 -17.2z"/><path fill="#0038ff" d="M373.8 1886.7l5.6 2.4l4.4 -1.2l-5.6 -2.3z"/><path fill="#0033ff" d="M383.8 1887.9l5.6 2.4l4.4 -1.1l-5.5 -2.4z"/><path fill="#005bff" d="M299.2 1879.9l5.6 2.4l4.4 -1.5l-5.6 -2.4z"/><path fill="#002eff" d="M393.8 1889.2l5.6 2.3l4.4 -1l-5.5 -2.3z"/><path fill="#f50000" d="M196.7 1747.1l5.6 3.8l4.4 -6.2l-5.6 -3.3z"/><path fill="#cd0000" d="M211.2 1739.8l5.5 4.5l4.5 -4.3l-5.6 -4.4z"/><path fill="#cb0000" d="M221.2 1740.0l5.6 6.9l4.4 -3.1l-5.6 -7.3z"/><path fill="#0012ff" d="M270.3 1893.3l5.5 2.3l4.5 -5.6l-5.6 -2.4z"/><path fill="#ff2100" d="M192.2 1755.3l5.6 4.8l4.5 -9.2l-5.6 -3.8z"/><path fill="#ec0000" d="M226.8 1746.9l5.5 11.4l4.5 -2l-5.6 -12.5z"/><path fill="#0028ff" d="M403.8 1890.5l5.6 2.3l4.5 -.9l-5.6 -2.4z"/><path fill="#0057ff" d="M309.2 1880.8l5.6 2.4l4.4 -1.3l-5.5 -2.4z"/><path fill="#ff3a00" d="M227.9 1762.3l5.6 16.4l4.4 -3l-5.6 -17.4z"/><path fill="#0022ff" d="M413.9 1891.9l5.5 2.3l4.5 -1l-5.6 -2.3z"/><path fill="#0053ff" d="M319.2 1881.9l5.6 2.4l4.5 -1.3l-5.6 -2.3z"/><path fill="#001bff" d="M423.9 1893.2l5.6 2.4l4.4 -1l-5.6 -2.3z"/><path fill="#0040ff" d="M284.7 1885.0l5.6 2.5l4.4 -4.5l-5.5 -2.5z"/><path fill="#0000ef" d="M265.8 1900.1l5.6 2.1l4.4 -6.6l-5.5 -2.3z"/><path fill="#0015ff" d="M433.9 1894.6l5.6 2.3l4.4 -.8l-5.5 -2.3z"/><path fill="#004eff" d="M329.3 1883.0l5.5 2.4l4.5 -1.2l-5.6 -2.4z"/><path fill="#000fff" d="M443.9 1896.1l5.6 2.2l4.5 -.8l-5.6 -2.3z"/><path fill="#0000cb" d="M261.4 1907.1l5.5 2l4.5 -6.9l-5.6 -2.1z"/><path fill="#0049ff" d="M339.3 1884.2l5.6 2.4l4.4 -1.2l-5.6 -2.4z"/><path fill="#e30000" d="M206.7 1744.7l5.6 4.7l4.4 -5.1l-5.5 -4.5z"/><path fill="#0000a5" d="M256.9 1914.5l5.6 1.9l4.4 -7.3l-5.5 -2z"/><path fill="#0044ff" d="M349.3 1885.4l5.6 2.4l4.4 -1.2l-5.6 -2.3z"/><path fill="#de0000" d="M216.7 1744.3l5.6 7l4.5 -4.4l-5.6 -6.9z"/><path fill="#000080" d="M252.5 1921.9l5.5 1.7l4.5 -7.2l-5.6 -1.9z"/><path fill="#ff5300" d="M223.4 1767.6l5.6 15.9l4.5 -4.8l-5.6 -16.4z"/><path fill="#003fff" d="M359.3 1886.6l5.6 2.4l4.4 -1.2l-5.5 -2.3z"/><path fill="#ff8600" d="M219.0 1777.1l5.6 17.2l4.4 -10.8l-5.6 -15.9z"/><path fill="#ff9100" d="M209.0 1778.4l5.5 15.7l4.5 -17l-5.6 -12.5z"/><path fill="#ff0000" d="M222.3 1751.3l5.6 11l4.4 -4l-5.5 -11.4z"/><path fill="#ff3400" d="M197.8 1760.1l5.6 7.3l4.4 -11.1l-5.5 -5.4z"/><path fill="#0029ff" d="M280.3 1890.0l5.6 2.4l4.4 -4.9l-5.6 -2.5z"/><path fill="#004fff" d="M294.7 1883.0l5.6 2.4l4.5 -3.1l-5.6 -2.4z"/><path fill="#003aff" d="M369.3 1887.8l5.6 2.4l4.5 -1.1l-5.6 -2.4z"/><path fill="#ff0200" d="M202.3 1750.9l5.5 5.4l4.5 -6.9l-5.6 -4.7z"/><path fill="#0034ff" d="M379.4 1889.1l5.5 2.3l4.5 -1.1l-5.6 -2.4z"/><path fill="#002fff" d="M389.4 1890.3l5.6 2.3l4.4 -1.1l-5.6 -2.3z"/><path fill="#ff5700" d="M203.4 1767.4l5.6 11l4.4 -13.8l-5.6 -8.3z"/><path fill="#0056ff" d="M304.8 1882.3l5.5 2.4l4.5 -1.5l-5.6 -2.4z"/><path fill="#f60000" d="M212.3 1749.4l5.6 7.1l4.4 -5.2l-5.6 -7z"/><path fill="#002aff" d="M399.4 1891.5l5.6 2.4l4.4 -1.1l-5.6 -2.3z"/><path fill="#000eff" d="M275.8 1895.6l5.6 2.3l4.5 -5.5l-5.6 -2.4z"/><path fill="#0024ff" d="M409.4 1892.8l5.6 2.4l4.4 -1l-5.5 -2.3z"/><path fill="#0053ff" d="M314.8 1883.2l5.6 2.4l4.4 -1.3l-5.6 -2.4z"/><path fill="#ff1900" d="M217.9 1756.5l5.5 11.1l4.5 -5.3l-5.6 -11z"/><path fill="#001eff" d="M419.4 1894.2l5.6 2.3l4.5 -.9l-5.6 -2.4z"/><path fill="#004fff" d="M324.8 1884.3l5.6 2.4l4.4 -1.3l-5.5 -2.4z"/><path fill="#ff1a00" d="M207.8 1756.3l5.6 8.3l4.5 -8.1l-5.6 -7.1z"/><path fill="#ff4300" d="M213.4 1764.6l5.6 12.5l4.4 -9.5l-5.5 -11.1z"/><path fill="#0018ff" d="M429.5 1895.6l5.5 2.3l4.5 -1l-5.6 -2.3z"/><path fill="#003cff" d="M290.3 1887.5l5.6 2.3l4.4 -4.4l-5.6 -2.4z"/><path fill="#0000ec" d="M271.4 1902.2l5.6 2.1l4.4 -6.4l-5.6 -2.3z"/><path fill="#004aff" d="M334.8 1885.4l5.6 2.4l4.5 -1.2l-5.6 -2.4z"/><path fill="#0012ff" d="M439.5 1896.9l5.6 2.4l4.4 -1l-5.6 -2.2z"/><path fill="#0045ff" d="M344.9 1886.6l5.5 2.3l4.5 -1.1l-5.6 -2.4z"/><path fill="#0000ca" d="M266.9 1909.1l5.6 2l4.5 -6.8l-5.6 -2.1z"/><path fill="#0040ff" d="M354.9 1887.8l5.5 2.3l4.5 -1.1l-5.6 -2.4z"/><path fill="#0000a5" d="M262.5 1916.4l5.6 1.8l4.4 -7.1l-5.6 -2z"/><path fill="#003bff" d="M364.9 1889.0l5.6 2.3l4.4 -1.1l-5.6 -2.4z"/><path fill="#000080" d="M258.0 1923.6l5.6 1.8l4.5 -7.2l-5.6 -1.8z"/><path fill="#0025ff" d="M285.9 1892.4l5.5 2.3l4.5 -4.9l-5.6 -2.3z"/><path fill="#004bff" d="M300.3 1885.4l5.6 2.4l4.4 -3.1l-5.5 -2.4z"/><path fill="#0036ff" d="M374.9 1890.2l5.6 2.3l4.4 -1.1l-5.5 -2.3z"/><path fill="#0031ff" d="M384.9 1891.4l5.6 2.4l4.5 -1.2l-5.6 -2.3z"/><path fill="#002bff" d="M395.0 1892.6l5.5 2.4l4.5 -1.1l-5.6 -2.4z"/><path fill="#0052ff" d="M310.3 1884.7l5.6 2.3l4.5 -1.4l-5.6 -2.4z"/><path fill="#0026ff" d="M405.0 1893.9l5.5 2.3l4.5 -1l-5.6 -2.4z"/><path fill="#000bff" d="M281.4 1897.9l5.6 2.2l4.4 -5.4l-5.5 -2.3z"/><path fill="#004fff" d="M320.4 1885.6l5.5 2.3l4.5 -1.2l-5.6 -2.4z"/><path fill="#0020ff" d="M415.0 1895.2l5.6 2.3l4.4 -1l-5.6 -2.3z"/><path fill="#001aff" d="M425.0 1896.5l5.6 2.3l4.4 -.9l-5.5 -2.3z"/><path fill="#004bff" d="M330.4 1886.7l5.6 2.3l4.4 -1.2l-5.6 -2.4z"/><path fill="#0014ff" d="M435.0 1897.9l5.6 2.3l4.5 -.9l-5.6 -2.4z"/><path fill="#0038ff" d="M295.9 1889.8l5.5 2.4l4.5 -4.4l-5.6 -2.4z"/><path fill="#0046ff" d="M340.4 1887.8l5.6 2.4l4.4 -1.3l-5.5 -2.3z"/><path fill="#0000ea" d="M277.0 1904.3l5.5 2.1l4.5 -6.3l-5.6 -2.2z"/><path fill="#0041ff" d="M350.4 1888.9l5.6 2.4l4.4 -1.2l-5.5 -2.3z"/><path fill="#0000c8" d="M272.5 1911.1l5.6 1.9l4.4 -6.6l-5.5 -2.1z"/><path fill="#003cff" d="M360.4 1890.1l5.6 2.4l4.5 -1.2l-5.6 -2.3z"/><path fill="#0037ff" d="M370.5 1891.3l5.5 2.4l4.5 -1.2l-5.6 -2.3z"/><path fill="#0000a4" d="M268.1 1918.2l5.5 1.9l4.5 -7.1l-5.6 -1.9z"/><path fill="#0022ff" d="M291.4 1894.7l5.6 2.2l4.4 -4.7l-5.5 -2.4z"/><path fill="#0047ff" d="M305.9 1887.8l5.6 2.3l4.4 -3.1l-5.6 -2.3z"/><path fill="#0032ff" d="M380.5 1892.5l5.6 2.4l4.4 -1.1l-5.6 -2.4z"/><path fill="#000080" d="M263.6 1925.4l5.6 1.7l4.4 -7l-5.5 -1.9z"/><path fill="#002dff" d="M390.5 1893.8l5.6 2.3l4.4 -1.1l-5.5 -2.4z"/><path fill="#0028ff" d="M400.5 1895.0l5.6 2.3l4.4 -1.1l-5.5 -2.3z"/><path fill="#004eff" d="M315.9 1887.0l5.6 2.4l4.4 -1.5l-5.5 -2.3z"/><path fill="#0022ff" d="M410.5 1896.2l5.6 2.4l4.5 -1.1l-5.6 -2.3z"/><path fill="#0009ff" d="M287.0 1900.1l5.5 2.1l4.5 -5.3l-5.6 -2.2z"/><path fill="#004bff" d="M325.9 1887.9l5.6 2.4l4.5 -1.3l-5.6 -2.3z"/><path fill="#001dff" d="M420.6 1897.5l5.5 2.3l4.5 -1l-5.6 -2.3z"/><path fill="#0017ff" d="M430.6 1898.8l5.6 2.4l4.4 -1l-5.6 -2.3z"/><path fill="#0047ff" d="M336.0 1889.0l5.5 2.4l4.5 -1.2l-5.6 -2.4z"/><path fill="#0034ff" d="M301.4 1892.2l5.6 2.3l4.5 -4.4l-5.6 -2.3z"/><path fill="#0042ff" d="M346.0 1890.2l5.5 2.3l4.5 -1.2l-5.6 -2.4z"/><path fill="#0000e8" d="M282.5 1906.4l5.6 2l4.4 -6.2l-5.5 -2.1z"/><path fill="#003dff" d="M356.0 1891.3l5.6 2.4l4.4 -1.2l-5.6 -2.4z"/><path fill="#0038ff" d="M366.0 1892.5l5.6 2.4l4.4 -1.2l-5.5 -2.4z"/><path fill="#0000c7" d="M278.1 1913.0l5.6 2l4.4 -6.6l-5.6 -2z"/><path fill="#0033ff" d="M376.0 1893.7l5.6 2.4l4.5 -1.2l-5.6 -2.4z"/><path fill="#0000a3" d="M273.6 1920.1l5.6 1.8l4.5 -6.9l-5.6 -2z"/><path fill="#0044ff" d="M311.5 1890.1l5.5 2.4l4.5 -3.1l-5.6 -2.4z"/><path fill="#001fff" d="M297.0 1896.9l5.6 2.3l4.4 -4.7l-5.6 -2.3z"/><path fill="#002eff" d="M386.1 1894.9l5.5 2.4l4.5 -1.2l-5.6 -2.3z"/><path fill="#000080" d="M269.2 1927.1l5.6 1.7l4.4 -6.9l-5.6 -1.8z"/><path fill="#0029ff" d="M396.1 1896.1l5.6 2.4l4.4 -1.2l-5.6 -2.3z"/><path fill="#0024ff" d="M406.1 1897.3l5.6 2.4l4.4 -1.1l-5.6 -2.4z"/><path fill="#004aff" d="M321.5 1889.4l5.6 2.4l4.4 -1.5l-5.6 -2.4z"/><path fill="#001eff" d="M416.1 1898.6l5.6 2.3l4.4 -1.1l-5.5 -2.3z"/><path fill="#0047ff" d="M331.5 1890.3l5.6 2.4l4.4 -1.3l-5.5 -2.4z"/><path fill="#0006ff" d="M292.5 1902.2l5.6 2.2l4.5 -5.2l-5.6 -2.3z"/><path fill="#0019ff" d="M426.1 1899.8l5.6 2.4l4.5 -1l-5.6 -2.4z"/><path fill="#0043ff" d="M341.5 1891.4l5.6 2.4l4.4 -1.3l-5.5 -2.3z"/><path fill="#0031ff" d="M307.0 1894.5l5.6 2.2l4.4 -4.2l-5.5 -2.4z"/><path fill="#003eff" d="M351.5 1892.5l5.6 2.4l4.5 -1.2l-5.6 -2.4z"/><path fill="#0000e6" d="M288.1 1908.4l5.6 2.1l4.4 -6.1l-5.6 -2.2z"/><path fill="#0039ff" d="M361.6 1893.7l5.5 2.3l4.5 -1.1l-5.6 -2.4z"/><path fill="#0034ff" d="M371.6 1894.9l5.6 2.3l4.4 -1.1l-5.6 -2.4z"/><path fill="#0000c6" d="M283.7 1915.0l5.5 1.9l4.5 -6.4l-5.6 -2.1z"/><path fill="#002fff" d="M381.6 1896.1l5.6 2.3l4.4 -1.1l-5.5 -2.4z"/><path fill="#0040ff" d="M317.0 1892.5l5.6 2.3l4.5 -3l-5.6 -2.4z"/><path fill="#002aff" d="M391.6 1897.3l5.6 2.3l4.5 -1.1l-5.6 -2.4z"/><path fill="#001cff" d="M302.6 1899.2l5.5 2.2l4.5 -4.7l-5.6 -2.2z"/><path fill="#0000a3" d="M279.2 1921.9l5.6 1.9l4.4 -6.9l-5.5 -1.9z"/><path fill="#0025ff" d="M401.7 1898.5l5.5 2.3l4.5 -1.1l-5.6 -2.4z"/><path fill="#000080" d="M274.8 1928.8l5.5 1.8l4.5 -6.8l-5.6 -1.9z"/><path fill="#0020ff" d="M411.7 1899.7l5.5 2.3l4.5 -1.1l-5.6 -2.3z"/><path fill="#0046ff" d="M327.1 1891.8l5.5 2.4l4.5 -1.5l-5.6 -2.4z"/><path fill="#001bff" d="M421.7 1900.9l5.6 2.3l4.4 -1l-5.6 -2.4z"/><path fill="#0043ff" d="M337.1 1892.7l5.6 2.4l4.4 -1.3l-5.6 -2.4z"/><path fill="#0003ff" d="M298.1 1904.4l5.6 2.1l4.4 -5.1l-5.5 -2.2z"/><path fill="#003fff" d="M347.1 1893.8l5.6 2.3l4.4 -1.2l-5.6 -2.4z"/><path fill="#002dff" d="M312.6 1896.7l5.6 2.3l4.4 -4.2l-5.6 -2.3z"/><path fill="#003aff" d="M357.1 1894.9l5.6 2.4l4.4 -1.3l-5.5 -2.3z"/><path fill="#0035ff" d="M367.1 1896.0l5.6 2.4l4.5 -1.2l-5.6 -2.3z"/><path fill="#0000e4" d="M293.7 1910.5l5.5 2l4.5 -6l-5.6 -2.1z"/><path fill="#0030ff" d="M377.2 1897.2l5.5 2.4l4.5 -1.2l-5.6 -2.3z"/><path fill="#002bff" d="M387.2 1898.4l5.6 2.4l4.4 -1.2l-5.6 -2.3z"/><path fill="#0000c4" d="M289.2 1916.9l5.6 2l4.4 -6.4l-5.5 -2z"/><path fill="#003cff" d="M322.6 1894.8l5.6 2.3l4.4 -2.9l-5.5 -2.4z"/><path fill="#0026ff" d="M397.2 1899.6l5.6 2.4l4.4 -1.2l-5.5 -2.3z"/><path fill="#0019ff" d="M308.1 1901.4l5.6 2.2l4.5 -4.6l-5.6 -2.3z"/><path fill="#0000a2" d="M284.8 1923.8l5.6 1.8l4.4 -6.7l-5.6 -2z"/><path fill="#0021ff" d="M407.2 1900.8l5.6 2.4l4.4 -1.2l-5.5 -2.3z"/><path fill="#001cff" d="M417.2 1902.0l5.6 2.4l4.5 -1.2l-5.6 -2.3z"/><path fill="#0042ff" d="M332.6 1894.2l5.6 2.3l4.5 -1.4l-5.6 -2.4z"/><path fill="#000080" d="M280.3 1930.6l5.6 1.7l4.5 -6.7l-5.6 -1.8z"/><path fill="#003fff" d="M342.7 1895.1l5.5 2.3l4.5 -1.3l-5.6 -2.3z"/><path fill="#0001ff" d="M303.7 1906.5l5.6 2.2l4.4 -5.1l-5.6 -2.2z"/><path fill="#003bff" d="M352.7 1896.1l5.5 2.4l4.5 -1.2l-5.6 -2.4z"/><path fill="#002aff" d="M318.2 1899.0l5.5 2.3l4.5 -4.2l-5.6 -2.3z"/><path fill="#0036ff" d="M362.7 1897.3l5.6 2.3l4.4 -1.2l-5.6 -2.4z"/><path fill="#0031ff" d="M372.7 1898.4l5.6 2.4l4.4 -1.2l-5.5 -2.4z"/><path fill="#0000e2" d="M299.2 1912.5l5.6 2.1l4.5 -5.9l-5.6 -2.2z"/><path fill="#002dff" d="M382.7 1899.6l5.6 2.4l4.5 -1.2l-5.6 -2.4z"/><path fill="#0028ff" d="M392.8 1900.8l5.5 2.3l4.5 -1.1l-5.6 -2.4z"/><path fill="#0000c3" d="M294.8 1918.9l5.6 1.9l4.4 -6.2l-5.6 -2.1z"/><path fill="#0038ff" d="M328.2 1897.1l5.6 2.4l4.4 -3l-5.6 -2.3z"/><path fill="#0022ff" d="M402.8 1902.0l5.5 2.3l4.5 -1.1l-5.6 -2.4z"/><path fill="#0016ff" d="M313.7 1903.6l5.6 2.2l4.4 -4.5l-5.5 -2.3z"/><path fill="#001dff" d="M412.8 1903.2l5.6 2.3l4.4 -1.1l-5.6 -2.4z"/><path fill="#0000a1" d="M290.4 1925.6l5.5 1.9l4.5 -6.7l-5.6 -1.9z"/><path fill="#003eff" d="M338.2 1896.5l5.6 2.4l4.4 -1.5l-5.5 -2.3z"/><path fill="#000080" d="M285.9 1932.3l5.6 1.8l4.4 -6.6l-5.5 -1.9z"/><path fill="#003bff" d="M348.2 1897.4l5.6 2.4l4.4 -1.3l-5.5 -2.4z"/><path fill="#0000fd" d="M309.3 1908.7l5.5 2.1l4.5 -5l-5.6 -2.2z"/><path fill="#0037ff" d="M358.2 1898.5l5.6 2.4l4.5 -1.3l-5.6 -2.3z"/><path fill="#0026ff" d="M323.7 1901.3l5.6 2.3l4.5 -4.1l-5.6 -2.4z"/><path fill="#0032ff" d="M368.3 1899.6l5.5 2.4l4.5 -1.2l-5.6 -2.4z"/><path fill="#002eff" d="M378.3 1900.8l5.6 2.4l4.4 -1.2l-5.6 -2.4z"/><path fill="#0000e0" d="M304.8 1914.6l5.6 2l4.4 -5.8l-5.5 -2.1z"/><path fill="#0029ff" d="M388.3 1902.0l5.6 2.3l4.4 -1.2l-5.5 -2.3z"/><path fill="#0024ff" d="M398.3 1903.1l5.6 2.4l4.4 -1.2l-5.5 -2.3z"/><path fill="#0034ff" d="M333.8 1899.5l5.5 2.3l4.5 -2.9l-5.6 -2.4z"/><path fill="#001fff" d="M408.3 1904.3l5.6 2.4l4.5 -1.2l-5.6 -2.3z"/><path fill="#0000c2" d="M300.4 1920.8l5.5 2l4.5 -6.2l-5.6 -2z"/><path fill="#0013ff" d="M319.3 1905.8l5.6 2.2l4.4 -4.4l-5.6 -2.3z"/><path fill="#0000a1" d="M295.9 1927.5l5.6 1.8l4.4 -6.5l-5.5 -2z"/><path fill="#003bff" d="M343.8 1898.9l5.5 2.4l4.5 -1.5l-5.6 -2.4z"/><path fill="#0037ff" d="M353.8 1899.8l5.6 2.4l4.4 -1.3l-5.6 -2.4z"/><path fill="#000080" d="M291.5 1934.1l5.5 1.7l4.5 -6.5l-5.6 -1.8z"/><path fill="#0000fb" d="M314.8 1910.8l5.6 2.2l4.5 -5l-5.6 -2.2z"/><path fill="#0033ff" d="M363.8 1900.9l5.6 2.4l4.4 -1.3l-5.5 -2.4z"/><path fill="#0023ff" d="M329.3 1903.6l5.6 2.3l4.4 -4.1l-5.5 -2.3z"/><path fill="#002eff" d="M373.8 1902.0l5.6 2.4l4.5 -1.2l-5.6 -2.4z"/><path fill="#002aff" d="M383.9 1903.2l5.5 2.3l4.5 -1.2l-5.6 -2.3z"/><path fill="#0025ff" d="M393.9 1904.3l5.6 2.4l4.4 -1.2l-5.6 -2.4z"/><path fill="#0000df" d="M310.4 1916.6l5.6 2.1l4.4 -5.7l-5.6 -2.2z"/><path fill="#0020ff" d="M403.9 1905.5l5.6 2.4l4.4 -1.2l-5.6 -2.4z"/><path fill="#0031ff" d="M339.3 1901.8l5.6 2.4l4.4 -2.9l-5.5 -2.4z"/><path fill="#0010ff" d="M324.9 1908.0l5.5 2.3l4.5 -4.4l-5.6 -2.3z"/><path fill="#0000c0" d="M305.9 1922.8l5.6 1.9l4.5 -6l-5.6 -2.1z"/><path fill="#0037ff" d="M349.3 1901.3l5.6 2.3l4.5 -1.4l-5.6 -2.4z"/><path fill="#0000a0" d="M301.5 1929.3l5.6 1.9l4.4 -6.5l-5.6 -1.9z"/><path fill="#0033ff" d="M359.4 1902.2l5.5 2.4l4.5 -1.3l-5.6 -2.4z"/><path fill="#002fff" d="M369.4 1903.3l5.6 2.3l4.4 -1.2l-5.6 -2.4z"/><path fill="#000080" d="M297.0 1935.8l5.6 1.8l4.5 -6.4l-5.6 -1.9z"/><path fill="#0000f8" d="M320.4 1913.0l5.6 2.1l4.4 -4.8l-5.5 -2.3z"/><path fill="#0020ff" d="M334.9 1905.9l5.6 2.3l4.4 -4l-5.6 -2.4z"/><path fill="#002aff" d="M379.4 1904.4l5.6 2.3l4.4 -1.2l-5.5 -2.3z"/><path fill="#0026ff" d="M389.4 1905.5l5.6 2.4l4.5 -1.2l-5.6 -2.4z"/><path fill="#0021ff" d="M399.5 1906.7l5.5 2.3l4.5 -1.1l-5.6 -2.4z"/><path fill="#0000dd" d="M316.0 1918.7l5.5 2l4.5 -5.6l-5.6 -2.1z"/><path fill="#002dff" d="M344.9 1904.2l5.6 2.3l4.4 -2.9l-5.6 -2.3z"/><path fill="#000dff" d="M330.4 1910.3l5.6 2.2l4.5 -4.3l-5.6 -2.3z"/><path fill="#0000bf" d="M311.5 1924.7l5.6 2l4.4 -6l-5.5 -2z"/><path fill="#0033ff" d="M354.9 1903.6l5.6 2.4l4.4 -1.4l-5.5 -2.4z"/><path fill="#00009f" d="M307.1 1931.2l5.5 1.8l4.5 -6.3l-5.6 -2z"/><path fill="#002fff" d="M364.9 1904.6l5.6 2.3l4.5 -1.3l-5.6 -2.3z"/><path fill="#002bff" d="M375.0 1905.6l5.5 2.4l4.5 -1.3l-5.6 -2.3z"/><path fill="#0000f6" d="M326.0 1915.1l5.6 2.1l4.4 -4.7l-5.6 -2.2z"/><path fill="#000080" d="M302.6 1937.6l5.6 1.7l4.4 -6.3l-5.5 -1.8z"/><path fill="#0026ff" d="M385.0 1906.7l5.6 2.4l4.4 -1.2l-5.6 -2.4z"/><path fill="#001cff" d="M340.5 1908.2l5.5 2.2l4.5 -3.9l-5.6 -2.3z"/><path fill="#0022ff" d="M395.0 1907.9l5.6 2.4l4.4 -1.3l-5.5 -2.3z"/><path fill="#0000db" d="M321.5 1920.7l5.6 2.1l4.5 -5.6l-5.6 -2.1z"/><path fill="#0029ff" d="M350.5 1906.5l5.5 2.3l4.5 -2.8l-5.6 -2.4z"/><path fill="#000aff" d="M336.0 1912.5l5.6 2.2l4.4 -4.3l-5.5 -2.2z"/><path fill="#0000be" d="M317.1 1926.7l5.6 1.9l4.4 -5.8l-5.6 -2.1z"/><path fill="#002fff" d="M360.5 1906.0l5.6 2.4l4.4 -1.5l-5.6 -2.3z"/><path fill="#002bff" d="M370.5 1906.9l5.6 2.4l4.4 -1.3l-5.5 -2.4z"/><path fill="#00009f" d="M312.6 1933.0l5.6 1.8l4.5 -6.2l-5.6 -1.9z"/><path fill="#0027ff" d="M380.5 1908.0l5.6 2.4l4.5 -1.3l-5.6 -2.4z"/><path fill="#0000f3" d="M331.6 1917.2l5.5 2.2l4.5 -4.7l-5.6 -2.2z"/><path fill="#0022ff" d="M390.6 1909.1l5.5 2.4l4.5 -1.2l-5.6 -2.4z"/><path fill="#0019ff" d="M346.0 1910.4l5.6 2.3l4.4 -3.9l-5.5 -2.3z"/><path fill="#000080" d="M308.2 1939.3l5.6 1.7l4.4 -6.2l-5.6 -1.8z"/><path fill="#0000d9" d="M327.1 1922.8l5.6 2.1l4.4 -5.5l-5.5 -2.2z"/><path fill="#0025ff" d="M356.0 1908.8l5.6 2.4l4.5 -2.8l-5.6 -2.4z"/><path fill="#0007ff" d="M341.6 1914.7l5.6 2.2l4.4 -4.2l-5.6 -2.3z"/><path fill="#0000bc" d="M322.7 1928.6l5.5 2l4.5 -5.7l-5.6 -2.1z"/><path fill="#002bff" d="M366.1 1908.4l5.5 2.4l4.5 -1.5l-5.6 -2.4z"/><path fill="#0027ff" d="M376.1 1909.3l5.6 2.4l4.4 -1.3l-5.6 -2.4z"/><path fill="#0023ff" d="M386.1 1910.4l5.6 2.4l4.4 -1.3l-5.5 -2.4z"/><path fill="#00009e" d="M318.2 1934.8l5.6 1.9l4.4 -6.1l-5.5 -2z"/><path fill="#0000f1" d="M337.1 1919.4l5.6 2.1l4.5 -4.6l-5.6 -2.2z"/><path fill="#0015ff" d="M351.6 1912.7l5.6 2.3l4.4 -3.8l-5.6 -2.4z"/><path fill="#000080" d="M313.8 1941.0l5.5 1.8l4.5 -6.1l-5.6 -1.9z"/><path fill="#0000d7" d="M332.7 1924.9l5.6 2l4.4 -5.4l-5.6 -2.1z"/><path fill="#0022ff" d="M361.6 1911.2l5.6 2.3l4.4 -2.7l-5.5 -2.4z"/><path fill="#0004ff" d="M347.1 1916.9l5.5 2.2l4.5 -4.1l-5.6 -2.3z"/><path fill="#0027ff" d="M371.6 1910.8l5.6 2.3l4.5 -1.4l-5.6 -2.4z"/><path fill="#0000bb" d="M328.2 1930.6l5.6 2l4.5 -5.7l-5.6 -2z"/><path fill="#0023ff" d="M381.7 1911.7l5.5 2.4l4.5 -1.3l-5.6 -2.4z"/><path fill="#00009d" d="M323.8 1936.7l5.6 1.8l4.4 -5.9l-5.6 -2z"/><path fill="#0000ee" d="M342.7 1921.5l5.6 2.2l4.4 -4.6l-5.5 -2.2z"/><path fill="#0012ff" d="M357.2 1915.0l5.5 2.3l4.5 -3.8l-5.6 -2.3z"/><path fill="#000080" d="M319.3 1942.8l5.6 1.7l4.5 -6l-5.6 -1.8z"/><path fill="#0000d5" d="M338.3 1926.9l5.5 2.1l4.5 -5.3l-5.6 -2.2z"/><path fill="#001eff" d="M367.2 1913.5l5.6 2.3l4.4 -2.7l-5.6 -2.3z"/><path fill="#0001ff" d="M352.7 1919.1l5.6 2.2l4.4 -4l-5.5 -2.3z"/><path fill="#0023ff" d="M377.2 1913.1l5.6 2.4l4.4 -1.4l-5.5 -2.4z"/><path fill="#0000ba" d="M333.8 1932.6l5.6 1.9l4.4 -5.5l-5.5 -2.1z"/><path fill="#00009d" d="M329.4 1938.5l5.5 1.9l4.5 -5.9l-5.6 -1.9z"/><path fill="#0000ec" d="M348.3 1923.7l5.5 2.1l4.5 -4.5l-5.6 -2.2z"/><path fill="#000fff" d="M362.7 1917.3l5.6 2.3l4.5 -3.8l-5.6 -2.3z"/><path fill="#000080" d="M324.9 1944.5l5.6 1.8l4.4 -5.9l-5.5 -1.9z"/><path fill="#001aff" d="M372.8 1915.8l5.5 2.4l4.5 -2.7l-5.6 -2.4z"/><path fill="#0000d3" d="M343.8 1929.0l5.6 2l4.4 -5.2l-5.5 -2.1z"/><path fill="#0000fd" d="M358.3 1921.3l5.6 2.3l4.4 -4l-5.6 -2.3z"/><path fill="#0000b8" d="M339.4 1934.5l5.6 2l4.4 -5.5l-5.6 -2z"/><path fill="#000bff" d="M368.3 1919.6l5.6 2.2l4.4 -3.6l-5.5 -2.4z"/><path fill="#0000e9" d="M353.8 1925.8l5.6 2.2l4.5 -4.4l-5.6 -2.3z"/><path fill="#00009c" d="M334.9 1940.4l5.6 1.8l4.5 -5.7l-5.6 -2z"/><path fill="#000080" d="M330.5 1946.3l5.6 1.7l4.4 -5.8l-5.6 -1.8z"/><path fill="#0000d1" d="M349.4 1931.0l5.6 2.1l4.4 -5.1l-5.6 -2.2z"/><path fill="#0000fa" d="M363.9 1923.6l5.5 2.2l4.5 -4l-5.6 -2.2z"/><path fill="#0000b7" d="M345.0 1936.5l5.5 1.9l4.5 -5.3l-5.6 -2.1z"/><path fill="#0000e7" d="M359.4 1928.0l5.6 2.1l4.4 -4.3l-5.5 -2.2z"/><path fill="#00009b" d="M340.5 1942.2l5.6 1.9l4.4 -5.7l-5.5 -1.9z"/><path fill="#000080" d="M336.1 1948.0l5.5 1.8l4.5 -5.7l-5.6 -1.9z"/><path fill="#0000cf" d="M355.0 1933.1l5.5 2l4.5 -5l-5.6 -2.1z"/><path fill="#0000b6" d="M350.5 1938.4l5.6 2l4.4 -5.3l-5.5 -2z"/><path fill="#00009b" d="M346.1 1944.1l5.5 1.8l4.5 -5.5l-5.6 -2z"/><path fill="#000080" d="M341.6 1949.8l5.6 1.7l4.4 -5.6l-5.5 -1.8z"/></g><line x1="850.4" y1="1868.3" x2="850.4" y2="1657.6" stroke="#e3e3e3" stroke-width="1"/><line x1="894.9" y1="1854.8" x2="894.9" y2="1644.1" stroke="#e3e3e3" stroke-width="1"/><line x1="939.3" y1="1841.2" x2="939.3" y2="1630.5" stroke="#e3e3e3" stroke-width="1"/><line x1="983.8" y1="1827.7" x2="983.8" y2="1617.0" stroke="#e3e3e3" stroke-width="1"/><line x1="1028.3" y1="1814.2" x2="1028.3" y2="1603.5" stroke="#e3e3e3" stroke-width="1"/><line x1="805.9" y1="1839.7" x2="1028.3" y2="1772.1" stroke="#e3e3e3" stroke-width="1"/><line x1="805.9" y1="1797.5" x2="1028.3" y2="1729.9" stroke="#e3e3e3" stroke-width="1"/><line x1="805.9" y1="1755.4" x2="1028.3" y2="1687.8" stroke="#e3e3e3" stroke-width="1"/><line x1="805.9" y1="1713.2" x2="1028.3" y2="1645.6" stroke="#e3e3e3" stroke-width="1"/><line x1="805.9" y1="1671.1" x2="1028.3" y2="1603.5" stroke="#e3e3e3" stroke-width="1"/><line x1="1084.0" y1="1831.6" x2="1084.0" y2="1620.9" stroke="#e3e3e3" stroke-width="1"/><line x1="1139.8" y1="1849.0" x2="1139.8" y2="1638.3" stroke="#e3e3e3" stroke-width="1"/><line x1="1195.5" y1="1866.5" x2="1195.5" y2="1655.8" stroke="#e3e3e3" stroke-width="1"/><line x1="1251.2" y1="1883.9" x2="1251.2" y2="1673.2" stroke="#e3e3e3" stroke-width="1"/><line x1="1028.3" y1="1772.1" x2="1251.2" y2="1841.8" stroke="#e3e3e3" stroke-width="1"/><line x1="1028.3" y1="1729.9" x2="1251.2" y2="1799.6" stroke="#e3e3e3" stroke-width="1"/><line x1="1028.3" y1="1687.8" x2="1251.2" y2="1757.5" stroke="#e3e3e3" stroke-width="1"/><line x1="1028.3" y1="1645.6" x2="1251.2" y2="1715.3" stroke="#e3e3e3" stroke-width="1"/><line x1="1028.3" y1="1603.5" x2="1251.2" y2="1673.2" stroke="#e3e3e3" stroke-width="1"/><line x1="861.6" y1="1899.2" x2="1084.0" y2="1831.6" stroke="#e3e3e3" stroke-width="1"/><line x1="917.4" y1="1916.6" x2="1139.8" y2="1849.0" stroke="#e3e3e3" stroke-width="1"/><line x1="973.1" y1="1934.1" x2="1195.5" y2="1866.5" stroke="#e3e3e3" stroke-width="1"/><line x1="850.4" y1="1868.3" x2="1073.3" y2="1938.0" stroke="#e3e3e3" stroke-width="1"/><line x1="894.9" y1="1854.8" x2="1117.8" y2="1924.5" stroke="#e3e3e3" stroke-width="1"/><line x1="939.3" y1="1841.2" x2="1162.2" y2="1910.9" stroke="#e3e3e3" stroke-width="1"/><line x1="983.8" y1="1827.7" x2="1206.7" y2="1897.4" stroke="#e3e3e3" stroke-width="1"/><line x1="1028.3" y1="1814.2" x2="1251.2" y2="1883.9" stroke="#e3e3e3" stroke-width="1"/><line x1="805.9" y1="1881.8" x2="1028.3" y2="1814.2" stroke="#e3e3e3" stroke-width="1"/><line x1="805.9" y1="1881.8" x2="805.9" y2="1671.1" stroke="#8a8a8a" stroke-width="1"/><line x1="805.9" y1="1881.8" x2="1028.8" y2="1951.5" stroke="#8a8a8a" stroke-width="1"/><line x1="1028.8" y1="1951.5" x2="1251.2" y2="1883.9" stroke="#8a8a8a" stroke-width="1"/><line x1="805.9" y1="1881.8" x2="800.9" y2="1880.3" stroke="#8a8a8a" stroke-width="1"/><text x="792.2" y="1890.7" font-family="'Liberation Sans', sans-serif" font-size="25.3" text-anchor="end" fill="#000">0</text><line x1="805.9" y1="1839.7" x2="800.9" y2="1838.2" stroke="#8a8a8a" stroke-width="1"/><text x="792.2" y="1848.6" font-family="'Liberation Sans', sans-serif" font-size="25.3" text-anchor="end" fill="#000">20</text><line x1="805.9" y1="1797.5" x2="800.9" y2="1796.0" stroke="#8a8a8a" stroke-width="1"/><text x="792.2" y="1806.4" font-family="'Liberation Sans', sans-serif" font-size="25.3" text-anchor="end" fill="#000">40</text><line x1="805.9" y1="1755.4" x2="800.9" y2="1753.9" stroke="#8a8a8a" stroke-width="1"/><text x="792.2" y="1764.3" font-family="'Liberation Sans', sans-serif" font-size="25.3" text-anchor="end" fill="#000">60</text><line x1="805.9" y1="1713.2" x2="800.9" y2="1711.7" stroke="#8a8a8a" stroke-width="1"/><text x="792.2" y="1722.1" font-family="'Liberation Sans', sans-serif" font-size="25.3" text-anchor="end" fill="#000">80</text><line x1="805.9" y1="1671.1" x2="800.9" y2="1669.6" stroke="#8a8a8a" stroke-width="1"/><text x="792.2" y="1680" font-family="'Liberation Sans', sans-serif" font-size="25.3" text-anchor="end" fill="#000">100</text><line x1="805.9" y1="1881.8" x2="810.2" y2="1880.5" stroke="#8a8a8a" stroke-width="1"/><line x1="861.6" y1="1899.2" x2="865.9" y2="1897.9" stroke="#8a8a8a" stroke-width="1"/><line x1="917.4" y1="1916.6" x2="921.6" y2="1915.3" stroke="#8a8a8a" stroke-width="1"/><line x1="973.1" y1="1934.1" x2="977.4" y2="1932.8" stroke="#8a8a8a" stroke-width="1"/><line x1="1028.8" y1="1951.5" x2="1033.1" y2="1950.2" stroke="#8a8a8a" stroke-width="1"/><text x="793.3" y="1910.7" font-family="'Liberation Sans', sans-serif" font-size="25.3" text-anchor="end" fill="#000">0</text><text x="846.7" y="1928.1" font-family="'Liberation Sans', sans-serif" font-size="25.3" text-anchor="end" fill="#000">0.1</text><text x="904.4" y="1945" font-family="'Liberation Sans', sans-serif" font-size="25.3" text-anchor="end" fill="#000">0.2</text><text x="959.8" y="1962.7" font-family="'Liberation Sans', sans-serif" font-size="25.3" text-anchor="end" fill="#000">0.3</text><text x="1015.8" y="1980.3" font-family="'Liberation Sans', sans-serif" font-size="25.3" text-anchor="end" fill="#000">0.4</text><line x1="1028.8" y1="1951.5" x2="1024.5" y2="1950.2" stroke="#8a8a8a" stroke-width="1"/><text x="1040.4" y="1979.4" font-family="'Liberation Sans', sans-serif" font-size="25.3" text-anchor="start" fill="#000">0</text><line x1="1073.3" y1="1938.0" x2="1069.0" y2="1936.7" stroke="#8a8a8a" stroke-width="1"/><text x="1084.9" y="1965.9" font-family="'Liberation Sans', sans-serif" font-size="25.3" text-anchor="start" fill="#000">60</text><line x1="1117.8" y1="1924.5" x2="1113.5" y2="1923.2" stroke="#8a8a8a" stroke-width="1"/><text x="1129.4" y="1952.4" font-family="'Liberation Sans', sans-serif" font-size="25.3" text-anchor="start" fill="#000">120</text><line x1="1162.2" y1="1910.9" x2="1157.9" y2="1909.6" stroke="#8a8a8a" stroke-width="1"/><text x="1173.8" y="1938.8" font-family="'Liberation Sans', sans-serif" font-size="25.3" text-anchor="start" fill="#000">180</text><line x1="1206.7" y1="1897.4" x2="1202.4" y2="1896.1" stroke="#8a8a8a" stroke-width="1"/><text x="1218.3" y="1925.3" font-family="'Liberation Sans', sans-serif" font-size="25.3" text-anchor="start" fill="#000">240</text><line x1="1251.2" y1="1883.9" x2="1246.9" y2="1882.6" stroke="#8a8a8a" stroke-width="1"/><text x="1262.8" y="1911.8" font-family="'Liberation Sans', sans-serif" font-size="25.3" text-anchor="start" fill="#000">300</text><text x="1235.1" y="1997.4" font-family="'Liberation Sans', sans-serif" font-size="27.2" text-anchor="middle" fill="#000">Time (mins)</text><text x="917.2" y="2008.5" font-family="'Liberation Sans', sans-serif" font-size="28.4" text-anchor="middle">XIAP concentration (<tspan font-family="'Liberation Serif', serif" font-style="italic">μ</tspan>M)</text><text transform="translate(740.1,1776.9) rotate(-90)" font-family="'Liberation Sans', sans-serif" font-size="28.1" text-anchor="middle">Cleaved Caspase 3 (%)</text><g stroke="#000" stroke-width="0.45" stroke-linejoin="round"><path fill="#33ffcc" d="M1057.3 1739.1l5.6 9.8l4.4 2.6l-5.6 -7z"/><path fill="#80ff7f" d="M1051.7 1722.0l5.6 17.1l4.4 5.4l-5.5 -14z"/><path fill="#0bfff4" d="M1062.9 1748.9l5.5 5.3l4.5 1.1l-5.6 -3.8z"/><path fill="#00f8ff" d="M1068.4 1754.2l5.6 3.3l4.5 .3l-5.6 -2.5z"/><path fill="#f4ff0b" d="M1046.1 1697.0l5.6 25l4.5 8.5l-5.6 -24.1z"/><path fill="#5affa5" d="M1052.8 1732.6l5.6 12.4l4.5 3.9l-5.6 -9.8z"/><path fill="#25ffda" d="M1058.4 1745.0l5.6 7.3l4.4 1.9l-5.5 -5.3z"/><path fill="#00f0ff" d="M1074.0 1757.5l5.6 2.4l4.4 -.1l-5.5 -2z"/><path fill="#b2ff4d" d="M1047.3 1713.4l5.5 19.2l4.5 6.5l-5.6 -17.1z"/><path fill="#0afff5" d="M1064.0 1752.3l5.6 4.4l4.4 .8l-5.6 -3.3z"/><path fill="#00edff" d="M1079.6 1759.9l5.5 2l4.5 -.2l-5.6 -1.9z"/><path fill="#45ffba" d="M1054.0 1740.0l5.5 9.4l4.5 2.9l-5.6 -7.3z"/><path fill="#00fbff" d="M1069.6 1756.7l5.5 2.9l4.5 .3l-5.6 -2.4z"/><path fill="#85ff7a" d="M1048.4 1725.4l5.6 14.6l4.4 5l-5.6 -12.4z"/><path fill="#1fffe0" d="M1059.5 1749.4l5.6 5.7l4.5 1.6l-5.6 -4.4z"/><path fill="#ffdc00" d="M1041.7 1689.1l5.6 24.3l4.4 8.6l-5.6 -25z"/><path fill="#ff8e00" d="M1040.6 1670.5l5.5 26.5l4.5 9.4l-5.6 -30z"/><path fill="#00f5ff" d="M1075.1 1759.6l5.6 2.3l4.4 0l-5.5 -2z"/><path fill="#00ecff" d="M1085.1 1761.9l5.6 1.9l4.5 -.3l-5.6 -1.8z"/><path fill="#e1ff1e" d="M1042.8 1705.3l5.6 20.1l4.4 7.2l-5.5 -19.2z"/><path fill="#0bfff4" d="M1065.1 1755.1l5.6 3.8l4.4 .7l-5.5 -2.9z"/><path fill="#68ff97" d="M1049.5 1734.3l5.6 11.2l4.4 3.9l-5.5 -9.4z"/><path fill="#39ffc6" d="M1055.1 1745.5l5.6 7.3l4.4 2.3l-5.6 -5.7z"/><path fill="#b0ff4f" d="M1043.9 1718.1l5.6 16.2l4.5 5.7l-5.6 -14.6z"/><path fill="#00f3ff" d="M1080.7 1761.9l5.6 2l4.4 -.1l-5.6 -1.9z"/><path fill="#00ebff" d="M1090.7 1763.8l5.6 1.7l4.4 -.3l-5.5 -1.7z"/><path fill="#01fffe" d="M1070.7 1758.9l5.6 2.7l4.4 .3l-5.6 -2.3z"/><path fill="#1dffe2" d="M1060.7 1752.8l5.5 4.8l4.5 1.3l-5.6 -3.8z"/><path fill="#ff7100" d="M1036.1 1666.0l5.6 23.1l4.4 7.9l-5.5 -26.5z"/><path fill="#ff3200" d="M1035.0 1650.3l5.6 20.2l4.4 5.9l-5.6 -24.3z"/><path fill="#ffb500" d="M1037.2 1682.7l5.6 22.6l4.5 8.1l-5.6 -24.3z"/><path fill="#fff200" d="M1038.4 1698.1l5.5 20l4.5 7.3l-5.6 -20.1z"/><path fill="#00fbff" d="M1076.3 1761.6l5.5 2.2l4.5 .1l-5.6 -2z"/><path fill="#00f1ff" d="M1086.3 1763.9l5.5 1.8l4.5 -.2l-5.6 -1.7z"/><path fill="#00ebff" d="M1096.3 1765.5l5.6 1.8l4.4 -.3l-5.6 -1.8z"/><path fill="#0efff1" d="M1066.2 1757.6l5.6 3.3l4.5 .7l-5.6 -2.7z"/><path fill="#57ffa8" d="M1050.6 1740.9l5.6 8.8l4.5 3.1l-5.6 -7.3z"/><path fill="#8eff71" d="M1045.1 1728.1l5.5 12.8l4.5 4.6l-5.6 -11.2z"/><path fill="#fd0000" d="M1029.4 1638.1l5.6 12.2l4.4 1.8l-5.5 -14.1z"/><path fill="#e50000" d="M1023.9 1631.4l5.5 6.7l4.5 -.1l-5.6 -7.2z"/><path fill="#33ffcc" d="M1056.2 1749.7l5.6 6l4.4 1.9l-5.5 -4.8z"/><path fill="#daff25" d="M1039.5 1711.1l5.6 17l4.4 6.2l-5.6 -16.2z"/><path fill="#ff2500" d="M1030.5 1648.9l5.6 17.1l4.5 4.5l-5.6 -20.2z"/><path fill="#00f9ff" d="M1081.8 1763.8l5.6 2l4.4 -.1l-5.5 -1.8z"/><path fill="#00f1ff" d="M1091.8 1765.7l5.6 1.8l4.5 -.2l-5.6 -1.8z"/><path fill="#06fff9" d="M1071.8 1760.9l5.6 2.6l4.4 .3l-5.5 -2.2z"/><path fill="#00ebff" d="M1101.9 1767.3l5.5 1.7l4.5 -.3l-5.6 -1.7z"/><path fill="#ff5900" d="M1031.7 1662.5l5.5 20.2l4.5 6.4l-5.6 -23.1z"/><path fill="#1effe1" d="M1061.8 1755.7l5.6 4.1l4.4 1.1l-5.6 -3.3z"/><path fill="#ff9400" d="M1032.8 1677.4l5.6 20.7l4.4 7.2l-5.6 -22.6z"/><path fill="#e10000" d="M1019.4 1632.1l5.6 6.2l4.4 -.2l-5.5 -6.7z"/><path fill="#f80000" d="M1025.0 1638.3l5.5 10.6l4.5 1.4l-5.6 -12.2z"/><path fill="#77ff88" d="M1046.2 1735.7l5.6 10.3l4.4 3.7l-5.6 -8.8z"/><path fill="#ffcc00" d="M1033.9 1691.8l5.6 19.3l4.4 7l-5.5 -20z"/><path fill="#b4ff4b" d="M1040.6 1721.7l5.6 14l4.4 5.2l-5.5 -12.8z"/><path fill="#4dffb2" d="M1051.8 1746.0l5.5 7.2l4.5 2.5l-5.6 -6z"/><path fill="#00f8ff" d="M1087.4 1765.8l5.6 1.8l4.4 -.1l-5.6 -1.8z"/><path fill="#02fffd" d="M1077.4 1763.5l5.6 2.1l4.4 .2l-5.6 -2z"/><path fill="#00f1ff" d="M1097.4 1767.5l5.6 1.8l4.4 -.3l-5.5 -1.7z"/><path fill="#00ebff" d="M1107.4 1769.0l5.6 1.8l4.5 -.4l-5.6 -1.7z"/><path fill="#12ffed" d="M1067.4 1759.8l5.5 3l4.5 .7l-5.6 -2.6z"/><path fill="#ff1900" d="M1026.1 1647.9l5.6 14.6l4.4 3.5l-5.6 -17.1z"/><path fill="#dd0000" d="M1015.0 1632.7l5.5 5.9l4.5 -.3l-5.6 -6.2z"/><path fill="#32ffcd" d="M1057.3 1753.2l5.6 5l4.5 1.6l-5.6 -4.1z"/><path fill="#f20000" d="M1020.5 1638.6l5.6 9.3l4.4 1l-5.5 -10.6z"/><path fill="#fffd00" d="M1035.0 1704.7l5.6 17l4.5 6.4l-5.6 -17z"/><path fill="#ff4500" d="M1027.2 1659.9l5.6 17.5l4.4 5.3l-5.5 -20.2z"/><path fill="#00ffff" d="M1083.0 1765.6l5.5 1.9l4.5 .1l-5.6 -1.8z"/><path fill="#00f7ff" d="M1093.0 1767.6l5.5 1.8l4.5 -.1l-5.6 -1.8z"/><path fill="#0cfff3" d="M1072.9 1762.8l5.6 2.4l4.5 .4l-5.6 -2.1z"/><path fill="#00f1ff" d="M1103.0 1769.3l5.6 1.7l4.4 -.2l-5.6 -1.8z"/><path fill="#ff7800" d="M1028.3 1673.2l5.5 18.6l4.5 6.3l-5.6 -20.7z"/><path fill="#00ebff" d="M1113.0 1770.8l5.6 1.7l4.4 -.3l-5.5 -1.8z"/><path fill="#21ffde" d="M1062.9 1758.2l5.6 3.6l4.4 1l-5.5 -3z"/><path fill="#da0000" d="M1010.5 1633.3l5.6 5.5l4.4 -.2l-5.5 -5.9z"/><path fill="#9aff65" d="M1041.7 1730.2l5.6 11.5l4.5 4.3l-5.6 -10.3z"/><path fill="#69ff96" d="M1047.3 1741.7l5.6 8.4l4.4 3.1l-5.5 -7.2z"/><path fill="#ff0f00" d="M1021.7 1647.2l5.5 12.7l4.5 2.6l-5.6 -14.6z"/><path fill="#ffab00" d="M1029.5 1686.5l5.5 18.2l4.5 6.4l-5.6 -19.3z"/><path fill="#ec0000" d="M1016.1 1638.8l5.6 8.4l4.4 .7l-5.6 -9.3z"/><path fill="#daff25" d="M1036.2 1715.6l5.5 14.6l4.5 5.5l-5.6 -14z"/><path fill="#48ffb7" d="M1052.9 1750.1l5.6 6l4.4 2.1l-5.6 -5z"/><path fill="#00feff" d="M1088.5 1767.5l5.6 1.9l4.4 0l-5.5 -1.8z"/><path fill="#09fff6" d="M1078.5 1765.2l5.6 2.1l4.4 .2l-5.5 -1.9z"/><path fill="#00f7ff" d="M1098.5 1769.4l5.6 1.8l4.5 -.2l-5.6 -1.7z"/><path fill="#00f1ff" d="M1108.6 1771.0l5.5 1.8l4.5 -.3l-5.6 -1.7z"/><path fill="#ff3400" d="M1022.8 1657.9l5.6 15.3l4.4 4.2l-5.6 -17.5z"/><path fill="#18ffe7" d="M1068.5 1761.8l5.6 2.8l4.4 .6l-5.6 -2.4z"/><path fill="#00ebff" d="M1118.6 1772.5l5.6 1.8l4.4 -.4l-5.6 -1.7z"/><path fill="#d60000" d="M1006.1 1633.9l5.5 5.2l4.5 -.3l-5.6 -5.5z"/><path fill="#ffd900" d="M1030.6 1698.8l5.6 16.8l4.4 6.1l-5.6 -17z"/><path fill="#33ffcc" d="M1058.5 1756.1l5.5 4.3l4.5 1.4l-5.6 -3.6z"/><path fill="#ff0500" d="M1017.2 1646.7l5.6 11.2l4.4 2l-5.5 -12.7z"/><path fill="#e70000" d="M1011.6 1639.1l5.6 7.6l4.5 .5l-5.6 -8.4z"/><path fill="#ff6000" d="M1023.9 1669.7l5.6 16.8l4.4 5.3l-5.5 -18.6z"/><path fill="#87ff78" d="M1042.9 1737.0l5.5 9.4l4.5 3.7l-5.6 -8.4z"/><path fill="#bcff43" d="M1037.3 1724.6l5.6 12.4l4.4 4.7l-5.6 -11.5z"/><path fill="#07fff8" d="M1084.1 1767.3l5.5 2l4.5 .1l-5.6 -1.9z"/><path fill="#00feff" d="M1094.1 1769.4l5.6 1.8l4.4 0l-5.6 -1.8z"/><path fill="#00f7ff" d="M1104.1 1771.2l5.6 1.7l4.4 -.1l-5.5 -1.8z"/><path fill="#13ffec" d="M1074.1 1764.6l5.5 2.3l4.5 .4l-5.6 -2.1z"/><path fill="#00f1ff" d="M1114.1 1772.8l5.6 1.7l4.5 -.2l-5.6 -1.8z"/><path fill="#61ff9e" d="M1048.4 1746.4l5.6 7l4.5 2.7l-5.6 -6z"/><path fill="#00ebff" d="M1124.2 1774.3l5.5 1.7l4.5 -.3l-5.6 -1.8z"/><path fill="#d20000" d="M1001.6 1634.4l5.6 5l4.4 -.3l-5.5 -5.2z"/><path fill="#26ffd9" d="M1064.0 1760.4l5.6 3.2l4.5 1l-5.6 -2.8z"/><path fill="#ff8e00" d="M1025.0 1682.0l5.6 16.8l4.4 5.9l-5.5 -18.2z"/><path fill="#fdff02" d="M1031.7 1709.8l5.6 14.8l4.4 5.6l-5.5 -14.6z"/><path fill="#ff2600" d="M1018.3 1656.3l5.6 13.4l4.5 3.5l-5.6 -15.3z"/><path fill="#e20000" d="M1007.2 1639.4l5.6 6.9l4.4 .4l-5.6 -7.6z"/><path fill="#46ffb9" d="M1054.0 1753.4l5.6 5.1l4.4 1.9l-5.5 -4.3z"/><path fill="#fc0000" d="M1012.8 1646.3l5.5 10l4.5 1.6l-5.6 -11.2z"/><path fill="#06fff9" d="M1089.6 1769.3l5.6 1.8l4.5 .1l-5.6 -1.8z"/><path fill="#00fdff" d="M1099.7 1771.2l5.5 1.8l4.5 -.1l-5.6 -1.7z"/><path fill="#10ffef" d="M1079.6 1766.9l5.6 2.1l4.4 .3l-5.5 -2z"/><path fill="#00f7ff" d="M1109.7 1772.9l5.6 1.8l4.4 -.2l-5.6 -1.7z"/><path fill="#ffb900" d="M1026.2 1693.7l5.5 16.1l4.5 5.8l-5.6 -16.8z"/><path fill="#00f1ff" d="M1119.7 1774.5l5.6 1.8l4.4 -.3l-5.5 -1.7z"/><path fill="#1effe1" d="M1069.6 1763.6l5.6 2.7l4.4 .6l-5.5 -2.3z"/><path fill="#ce0000" d="M997.2 1635.0l5.5 4.7l4.5 -.3l-5.6 -5z"/><path fill="#ff4c00" d="M1019.5 1667.0l5.5 15l4.5 4.5l-5.6 -16.8z"/><path fill="#00ebff" d="M1129.7 1776.0l5.6 1.8l4.5 -.4l-5.6 -1.7z"/><path fill="#36ffc9" d="M1059.6 1758.5l5.6 3.8l4.4 1.3l-5.6 -3.2z"/><path fill="#a7ff58" d="M1038.4 1732.0l5.6 10.4l4.4 4l-5.5 -9.4z"/><path fill="#7cff83" d="M1044.0 1742.4l5.6 7.9l4.4 3.1l-5.6 -7z"/><path fill="#deff21" d="M1032.8 1719.2l5.6 12.8l4.5 5l-5.6 -12.4z"/><path fill="#dd0000" d="M1002.7 1639.7l5.6 6.4l4.5 .2l-5.6 -6.9z"/><path fill="#ff1900" d="M1013.9 1655.0l5.6 12l4.4 2.7l-5.6 -13.4z"/><path fill="#f40000" d="M1008.3 1646.1l5.6 8.9l4.4 1.3l-5.5 -10z"/><path fill="#ff7400" d="M1020.6 1678.2l5.6 15.5l4.4 5.1l-5.6 -16.8z"/><path fill="#5dffa2" d="M1049.6 1750.3l5.5 5.9l4.5 2.3l-5.6 -5.1z"/><path fill="#05fffa" d="M1095.2 1771.1l5.6 1.8l4.4 .1l-5.5 -1.8z"/><path fill="#0efff1" d="M1085.2 1769.0l5.6 1.9l4.4 .2l-5.6 -1.8z"/><path fill="#00fdff" d="M1105.2 1773.0l5.6 1.7l4.5 0l-5.6 -1.8z"/><path fill="#ffdf00" d="M1027.3 1704.5l5.5 14.7l4.5 5.4l-5.6 -14.8z"/><path fill="#ca0000" d="M992.7 1635.6l5.6 4.5l4.4 -.4l-5.5 -4.7z"/><path fill="#1affe5" d="M1075.2 1766.3l5.6 2.2l4.4 .5l-5.6 -2.1z"/><path fill="#00f7ff" d="M1115.3 1774.7l5.5 1.7l4.5 -.1l-5.6 -1.8z"/><path fill="#00f1ff" d="M1125.3 1776.3l5.6 1.7l4.4 -.2l-5.6 -1.8z"/><path fill="#00ebff" d="M1135.3 1777.8l5.6 1.7l4.4 -.3l-5.5 -1.8z"/><path fill="#2bffd4" d="M1065.2 1762.3l5.5 3l4.5 1l-5.6 -2.7z"/><path fill="#ff3a00" d="M1015.0 1664.8l5.6 13.4l4.4 3.8l-5.5 -15z"/><path fill="#48ffb7" d="M1055.1 1756.2l5.6 4.5l4.5 1.6l-5.6 -3.8z"/><path fill="#d80000" d="M998.3 1640.1l5.6 5.9l4.4 .1l-5.6 -6.4z"/><path fill="#ff9c00" d="M1021.7 1689.3l5.6 15.2l4.4 5.3l-5.5 -16.1z"/><path fill="#ff0d00" d="M1009.4 1654.1l5.6 10.7l4.5 2.2l-5.6 -12z"/><path fill="#ed0000" d="M1003.9 1646.0l5.5 8.1l4.5 .9l-5.6 -8.9z"/><path fill="#c6ff39" d="M1034.0 1727.2l5.5 10.9l4.5 4.3l-5.6 -10.4z"/><path fill="#c60000" d="M988.3 1636.2l5.5 4.3l4.5 -.4l-5.6 -4.5z"/><path fill="#98ff67" d="M1039.5 1738.1l5.6 8.8l4.5 3.4l-5.6 -7.9z"/><path fill="#0dfff2" d="M1090.8 1770.9l5.5 1.8l4.5 .2l-5.6 -1.8z"/><path fill="#05fffa" d="M1100.8 1772.9l5.6 1.8l4.4 0l-5.6 -1.7z"/><path fill="#17ffe8" d="M1080.8 1768.5l5.5 2.1l4.5 .3l-5.6 -1.9z"/><path fill="#00fdff" d="M1110.8 1774.7l5.6 1.8l4.4 -.1l-5.5 -1.7z"/><path fill="#00f7ff" d="M1120.8 1776.4l5.6 1.7l4.5 -.1l-5.6 -1.7z"/><path fill="#25ffda" d="M1070.7 1765.3l5.6 2.5l4.5 .7l-5.6 -2.2z"/><path fill="#00f1ff" d="M1130.9 1778.0l5.5 1.7l4.5 -.2l-5.6 -1.7z"/><path fill="#feff01" d="M1028.4 1714.1l5.6 13.1l4.4 4.8l-5.6 -12.8z"/><path fill="#00ebff" d="M1140.9 1779.5l5.5 1.7l4.5 -.3l-5.6 -1.7z"/><path fill="#75ff8a" d="M1045.1 1746.9l5.6 6.6l4.4 2.7l-5.5 -5.9z"/><path fill="#3affc5" d="M1060.7 1760.7l5.6 3.4l4.4 1.2l-5.5 -3z"/><path fill="#ff5e00" d="M1016.1 1675.1l5.6 14.2l4.5 4.4l-5.6 -15.5z"/><path fill="#d30000" d="M993.8 1640.5l5.6 5.5l4.5 0l-5.6 -5.9z"/><path fill="#ffc100" d="M1022.8 1699.9l5.6 14.2l4.4 5.1l-5.5 -14.7z"/><path fill="#5cffa3" d="M1050.7 1753.5l5.6 5.1l4.4 2.1l-5.6 -4.5z"/><path fill="#ff2a00" d="M1010.6 1663.0l5.5 12.1l4.5 3.1l-5.6 -13.4z"/><path fill="#c30000" d="M983.8 1636.9l5.6 4l4.4 -.4l-5.5 -4.3z"/><path fill="#e60000" d="M999.4 1646.0l5.6 7.4l4.4 .7l-5.5 -8.1z"/><path fill="#0dfff2" d="M1096.3 1772.7l5.6 1.8l4.5 .2l-5.6 -1.8z"/><path fill="#16ffe9" d="M1086.3 1770.6l5.6 1.9l4.4 .2l-5.5 -1.8z"/><path fill="#05fffa" d="M1106.4 1774.7l5.5 1.7l4.5 .1l-5.6 -1.8z"/><path fill="#00fdff" d="M1116.4 1776.5l5.6 1.7l4.4 -.1l-5.6 -1.7z"/><path fill="#21ffde" d="M1076.3 1767.8l5.6 2.2l4.4 .6l-5.5 -2.1z"/><path fill="#ff0300" d="M1005.0 1653.4l5.6 9.6l4.4 1.8l-5.6 -10.7z"/><path fill="#00f7ff" d="M1126.4 1778.1l5.6 1.8l4.4 -.2l-5.5 -1.7z"/><path fill="#00f1ff" d="M1136.4 1779.7l5.6 1.8l4.4 -.3l-5.5 -1.7z"/><path fill="#00ebff" d="M1146.4 1781.2l5.6 1.8l4.5 -.4l-5.6 -1.7z"/><path fill="#32ffcd" d="M1066.3 1764.1l5.6 2.8l4.4 .9l-5.6 -2.5z"/><path fill="#ff8300" d="M1017.3 1685.6l5.5 14.3l4.5 4.6l-5.6 -15.2z"/><path fill="#b4ff4b" d="M1035.1 1733.8l5.6 9.3l4.4 3.8l-5.6 -8.8z"/><path fill="#e4ff1b" d="M1029.5 1722.4l5.6 11.4l4.4 4.3l-5.5 -10.9z"/><path fill="#cf0000" d="M989.4 1640.9l5.6 5.3l4.4 -.2l-5.6 -5.5z"/><path fill="#4cffb3" d="M1056.3 1758.6l5.5 3.9l4.5 1.6l-5.6 -3.4z"/><path fill="#8eff71" d="M1040.7 1743.1l5.5 7.4l4.5 3l-5.6 -6.6z"/><path fill="#ffe200" d="M1024.0 1709.4l5.5 13l4.5 4.8l-5.6 -13.1z"/><path fill="#ff4b00" d="M1011.7 1672.7l5.6 12.9l4.4 3.7l-5.6 -14.2z"/><path fill="#bf0000" d="M979.4 1637.5l5.5 3.9l4.5 -.5l-5.6 -4z"/><path fill="#e00000" d="M995.0 1646.2l5.5 6.7l4.5 .5l-5.6 -7.4z"/><path fill="#0cfff3" d="M1101.9 1774.5l5.6 1.8l4.4 .1l-5.5 -1.7z"/><path fill="#15ffea" d="M1091.9 1772.5l5.6 1.8l4.4 .2l-5.6 -1.8z"/><path fill="#05fffa" d="M1111.9 1776.4l5.6 1.8l4.5 0l-5.6 -1.7z"/><path fill="#1fffe0" d="M1081.9 1770.0l5.5 2.1l4.5 .4l-5.6 -1.9z"/><path fill="#00fdff" d="M1122.0 1778.2l5.5 1.7l4.5 0l-5.6 -1.8z"/><path fill="#00f7ff" d="M1132.0 1779.9l5.6 1.7l4.4 -.1l-5.6 -1.8z"/><path fill="#ff1d00" d="M1006.1 1661.7l5.6 11l4.4 2.4l-5.5 -12.1z"/><path fill="#2dffd2" d="M1071.9 1766.9l5.5 2.4l4.5 .7l-5.6 -2.2z"/><path fill="#00f1ff" d="M1142.0 1781.5l5.6 1.7l4.4 -.2l-5.6 -1.8z"/><path fill="#72ff8d" d="M1046.2 1750.5l5.6 5.7l4.5 2.4l-5.6 -5.1z"/><path fill="#f90000" d="M1000.5 1652.9l5.6 8.8l4.5 1.3l-5.6 -9.6z"/><path fill="#00ebff" d="M1152.0 1783.0l5.6 1.7l4.4 -.3l-5.5 -1.8z"/><path fill="#ffa600" d="M1018.4 1695.8l5.6 13.6l4.4 4.7l-5.6 -14.2z"/><path fill="#41ffbe" d="M1061.8 1762.5l5.6 3.2l4.5 1.2l-5.6 -2.8z"/><path fill="#ca0000" d="M984.9 1641.4l5.6 5l4.5 -.2l-5.6 -5.3z"/><path fill="#bc0000" d="M974.9 1638.2l5.6 3.8l4.4 -.6l-5.5 -3.9z"/><path fill="#ff6d00" d="M1012.8 1682.5l5.6 13.3l4.4 4.1l-5.5 -14.3z"/><path fill="#5effa1" d="M1051.8 1756.2l5.6 4.4l4.4 1.9l-5.5 -3.9z"/><path fill="#d1ff2e" d="M1030.6 1729.3l5.6 9.8l4.5 4l-5.6 -9.3z"/><path fill="#da0000" d="M990.5 1646.4l5.6 6.3l4.4 .2l-5.5 -6.7z"/><path fill="#14ffeb" d="M1097.5 1774.3l5.5 1.8l4.5 .2l-5.6 -1.8z"/><path fill="#0cfff3" d="M1107.5 1776.3l5.6 1.8l4.4 .1l-5.6 -1.8z"/><path fill="#1effe1" d="M1087.4 1772.1l5.6 1.9l4.5 .3l-5.6 -1.8z"/><path fill="#05fffa" d="M1117.5 1778.2l5.6 1.7l4.4 0l-5.5 -1.7z"/><path fill="#fffc00" d="M1025.1 1717.8l5.5 11.5l4.5 4.5l-5.6 -11.4z"/><path fill="#00fdff" d="M1127.5 1779.9l5.6 1.8l4.5 -.1l-5.6 -1.7z"/><path fill="#29ffd6" d="M1077.4 1769.3l5.6 2.2l4.4 .6l-5.5 -2.1z"/><path fill="#00f7ff" d="M1137.6 1781.6l5.5 1.8l4.5 -.2l-5.6 -1.7z"/><path fill="#a9ff56" d="M1036.2 1739.1l5.6 8l4.4 3.4l-5.5 -7.4z"/><path fill="#ff3a00" d="M1007.2 1670.7l5.6 11.8l4.5 3.1l-5.6 -12.9z"/><path fill="#00f1ff" d="M1147.6 1783.2l5.5 1.8l4.5 -.3l-5.6 -1.7z"/><path fill="#00ebff" d="M1157.6 1784.7l5.6 1.8l4.4 -.4l-5.6 -1.7z"/><path fill="#3affc5" d="M1067.4 1765.7l5.6 2.6l4.4 1l-5.5 -2.4z"/><path fill="#f10000" d="M996.1 1652.7l5.6 8l4.4 1l-5.6 -8.8z"/><path fill="#ff1100" d="M1001.7 1660.7l5.5 10l4.5 2l-5.6 -11z"/><path fill="#ffc600" d="M1019.5 1705.1l5.6 12.7l4.4 4.6l-5.5 -13z"/><path fill="#c60000" d="M980.5 1642.0l5.6 4.6l4.4 -.2l-5.6 -5z"/><path fill="#8aff75" d="M1041.8 1747.1l5.6 6.3l4.4 2.8l-5.6 -5.7z"/><path fill="#51ffae" d="M1057.4 1760.6l5.6 3.6l4.4 1.5l-5.6 -3.2z"/><path fill="#b90000" d="M970.5 1638.9l5.5 3.6l4.5 -.5l-5.6 -3.8z"/><path fill="#ff8e00" d="M1013.9 1692.2l5.6 12.9l4.5 4.3l-5.6 -13.6z"/><path fill="#d50000" d="M986.1 1646.6l5.5 5.9l4.5 .2l-5.6 -6.3z"/><path fill="#14ffeb" d="M1103.0 1776.1l5.6 1.8l4.5 .2l-5.6 -1.8z"/><path fill="#0cfff3" d="M1113.1 1778.1l5.5 1.7l4.5 .1l-5.6 -1.7z"/><path fill="#1dffe2" d="M1093.0 1774.0l5.6 1.8l4.4 .3l-5.5 -1.8z"/><path fill="#05fffa" d="M1123.1 1779.9l5.6 1.8l4.4 0l-5.6 -1.8z"/><path fill="#73ff8c" d="M1047.4 1753.4l5.5 4.9l4.5 2.3l-5.6 -4.4z"/><path fill="#27ffd8" d="M1083.0 1771.5l5.6 2l4.4 .5l-5.6 -1.9z"/><path fill="#00fdff" d="M1133.1 1781.7l5.6 1.7l4.4 0l-5.5 -1.8z"/><path fill="#00f7ff" d="M1143.1 1783.4l5.6 1.7l4.4 -.1l-5.5 -1.8z"/><path fill="#ff5900" d="M1008.4 1679.9l5.5 12.3l4.5 3.6l-5.6 -13.3z"/><path fill="#00f1ff" d="M1153.1 1785.0l5.6 1.7l4.5 -.2l-5.6 -1.8z"/><path fill="#35ffca" d="M1073.0 1768.3l5.6 2.4l4.4 .8l-5.6 -2.2z"/><path fill="#00ebff" d="M1163.2 1786.5l5.5 1.7l4.5 -.3l-5.6 -1.8z"/><path fill="#e90000" d="M991.6 1652.5l5.6 7.4l4.5 .8l-5.6 -8z"/><path fill="#c20000" d="M976.0 1642.5l5.6 4.4l4.5 -.3l-5.6 -4.6z"/><path fill="#48ffb7" d="M1063.0 1764.2l5.5 2.9l4.5 1.2l-5.6 -2.6z"/><path fill="#ff2b00" d="M1002.8 1669.0l5.6 10.9l4.4 2.6l-5.6 -11.8z"/><path fill="#ff0700" d="M997.2 1659.9l5.6 9.1l4.4 1.7l-5.5 -10z"/><path fill="#eeff11" d="M1026.2 1724.9l5.6 10.1l4.4 4.1l-5.6 -9.8z"/><path fill="#b50000" d="M966.0 1639.6l5.6 3.5l4.4 -.6l-5.5 -3.6z"/><path fill="#c4ff3b" d="M1031.8 1735.0l5.5 8.4l4.5 3.7l-5.6 -8z"/><path fill="#ffdf00" d="M1020.6 1713.4l5.6 11.5l4.4 4.4l-5.5 -11.5z"/><path fill="#63ff9c" d="M1052.9 1758.3l5.6 4l4.5 1.9l-5.6 -3.6z"/><path fill="#ffab00" d="M1015.1 1701.1l5.5 12.3l4.5 4.4l-5.6 -12.7z"/><path fill="#a3ff5c" d="M1037.3 1743.4l5.6 6.8l4.5 3.2l-5.6 -6.3z"/><path fill="#d00000" d="M981.6 1646.9l5.6 5.5l4.4 .1l-5.5 -5.9z"/><path fill="#14ffeb" d="M1108.6 1777.9l5.6 1.8l4.4 .1l-5.5 -1.7z"/><path fill="#1cffe3" d="M1098.6 1775.8l5.6 1.8l4.4 .3l-5.6 -1.8z"/><path fill="#0cfff3" d="M1118.6 1779.8l5.6 1.8l4.5 .1l-5.6 -1.8z"/><path fill="#05fffa" d="M1128.7 1781.7l5.5 1.7l4.5 0l-5.6 -1.7z"/><path fill="#26ffd9" d="M1088.6 1773.5l5.5 1.9l4.5 .4l-5.6 -1.8z"/><path fill="#00fdff" d="M1138.7 1783.4l5.5 1.8l4.5 -.1l-5.6 -1.7z"/><path fill="#00f7ff" d="M1148.7 1785.1l5.6 1.8l4.4 -.2l-5.6 -1.7z"/><path fill="#32ffcd" d="M1078.6 1770.7l5.5 2.1l4.5 .7l-5.6 -2z"/><path fill="#00f1ff" d="M1158.7 1786.7l5.6 1.8l4.4 -.3l-5.5 -1.7z"/><path fill="#ff7700" d="M1009.5 1688.9l5.6 12.2l4.4 4l-5.6 -12.9z"/><path fill="#00ebff" d="M1168.7 1788.2l5.6 1.8l4.5 -.4l-5.6 -1.7z"/><path fill="#be0000" d="M971.6 1643.1l5.6 4.2l4.4 -.4l-5.6 -4.4z"/><path fill="#42ffbd" d="M1068.5 1767.1l5.6 2.5l4.5 1.1l-5.6 -2.4z"/><path fill="#e20000" d="M987.2 1652.4l5.6 6.8l4.4 .7l-5.6 -7.4z"/><path fill="#8aff75" d="M1042.9 1750.2l5.6 5.5l4.4 2.6l-5.5 -4.9z"/><path fill="#b20000" d="M961.6 1640.2l5.6 3.4l4.4 -.5l-5.6 -3.5z"/><path fill="#ff4700" d="M1003.9 1677.5l5.6 11.4l4.4 3.3l-5.5 -12.3z"/><path fill="#58ffa7" d="M1058.5 1762.3l5.6 3.2l4.4 1.6l-5.5 -2.9z"/><path fill="#fc0000" d="M992.8 1659.2l5.5 8.4l4.5 1.4l-5.6 -9.1z"/><path fill="#ff1e00" d="M998.3 1667.6l5.6 9.9l4.5 2.4l-5.6 -10.9z"/><path fill="#ca0000" d="M977.2 1647.3l5.5 5.1l4.5 0l-5.6 -5.5z"/><path fill="#fff300" d="M1021.8 1720.4l5.5 10.2l4.5 4.4l-5.6 -10.1z"/><path fill="#77ff88" d="M1048.5 1755.7l5.6 4.3l4.4 2.3l-5.6 -4z"/><path fill="#14ffeb" d="M1114.2 1779.7l5.6 1.7l4.4 .2l-5.6 -1.8z"/><path fill="#1cffe3" d="M1104.2 1777.6l5.5 1.8l4.5 .3l-5.6 -1.8z"/><path fill="#0cfff3" d="M1124.2 1781.6l5.6 1.7l4.4 .1l-5.5 -1.7z"/><path fill="#25ffda" d="M1094.1 1775.4l5.6 1.8l4.5 .4l-5.6 -1.8z"/><path fill="#e1ff1e" d="M1027.3 1730.6l5.6 8.8l4.4 4l-5.5 -8.4z"/><path fill="#05fffa" d="M1134.2 1783.4l5.6 1.8l4.4 0l-5.5 -1.8z"/><path fill="#00fdff" d="M1144.2 1785.2l5.6 1.7l4.5 0l-5.6 -1.8z"/><path fill="#ffc300" d="M1016.2 1709.1l5.6 11.3l4.4 4.5l-5.6 -11.5z"/><path fill="#30ffcf" d="M1084.1 1772.8l5.6 2l4.4 .6l-5.5 -1.9z"/><path fill="#00f7ff" d="M1154.3 1786.9l5.5 1.7l4.5 -.1l-5.6 -1.8z"/><path fill="#00f1ff" d="M1164.3 1788.5l5.6 1.7l4.4 -.2l-5.6 -1.8z"/><path fill="#ba0000" d="M967.2 1643.6l5.5 3.9l4.5 -.2l-5.6 -4.2z"/><path fill="#3effc1" d="M1074.1 1769.6l5.6 2.3l4.4 .9l-5.5 -2.1z"/><path fill="#00ebff" d="M1174.3 1790.0l5.6 1.7l4.4 -.3l-5.5 -1.8z"/><path fill="#beff41" d="M1032.9 1739.4l5.6 7.3l4.4 3.5l-5.6 -6.8z"/><path fill="#ae0000" d="M957.1 1640.9l5.6 3.2l4.5 -.5l-5.6 -3.4z"/><path fill="#ff9100" d="M1010.6 1697.4l5.6 11.7l4.4 4.3l-5.5 -12.3z"/><path fill="#db0000" d="M982.7 1652.4l5.6 6.3l4.5 .5l-5.6 -6.8z"/><path fill="#50ffaf" d="M1064.1 1765.5l5.6 2.8l4.4 1.3l-5.6 -2.5z"/><path fill="#ff6100" d="M1005.0 1685.9l5.6 11.5l4.5 3.7l-5.6 -12.2z"/><path fill="#f20000" d="M988.3 1658.7l5.6 7.6l4.4 1.3l-5.5 -8.4z"/><path fill="#a2ff5d" d="M1038.5 1746.7l5.5 5.9l4.5 3.1l-5.6 -5.5z"/><path fill="#6aff95" d="M1054.1 1760.0l5.5 3.6l4.5 1.9l-5.6 -3.2z"/><path fill="#ff3500" d="M999.5 1675.4l5.5 10.5l4.5 3l-5.6 -11.4z"/><path fill="#ff1000" d="M993.9 1666.3l5.6 9.1l4.4 2.1l-5.6 -9.9z"/><path fill="#c50000" d="M972.7 1647.5l5.6 4.8l4.4 .1l-5.5 -5.1z"/><path fill="#14ffeb" d="M1119.8 1781.4l5.5 1.8l4.5 .1l-5.6 -1.7z"/><path fill="#1cffe3" d="M1109.7 1779.4l5.6 1.8l4.5 .2l-5.6 -1.7z"/><path fill="#0cfff3" d="M1129.8 1783.3l5.6 1.8l4.4 .1l-5.6 -1.8z"/><path fill="#25ffda" d="M1099.7 1777.2l5.6 1.8l4.4 .4l-5.5 -1.8z"/><path fill="#05fffa" d="M1139.8 1785.2l5.6 1.7l4.4 0l-5.6 -1.7z"/><path fill="#00fdff" d="M1149.8 1786.9l5.6 1.8l4.4 -.1l-5.5 -1.7z"/><path fill="#2fffd0" d="M1089.7 1774.8l5.6 1.8l4.4 .6l-5.6 -1.8z"/><path fill="#b60000" d="M962.7 1644.1l5.6 3.7l4.4 -.3l-5.5 -3.9z"/><path fill="#00f7ff" d="M1159.8 1788.6l5.6 1.7l4.5 -.1l-5.6 -1.7z"/><path fill="#3bffc4" d="M1079.7 1771.9l5.5 2.1l4.5 .8l-5.6 -2z"/><path fill="#00f1ff" d="M1169.9 1790.2l5.5 1.7l4.5 -.2l-5.6 -1.7z"/><path fill="#ab0000" d="M952.7 1641.5l5.6 3l4.4 -.4l-5.6 -3.2z"/><path fill="#00ebff" d="M1179.9 1791.7l5.6 1.7l4.4 -.3l-5.6 -1.7z"/><path fill="#8dff72" d="M1044.0 1752.6l5.6 4.8l4.5 2.6l-5.6 -4.3z"/><path fill="#4bffb4" d="M1069.7 1768.3l5.5 2.4l4.5 1.2l-5.6 -2.3z"/><path fill="#d40000" d="M978.3 1652.3l5.6 5.8l4.4 .6l-5.6 -6.3z"/><path fill="#ffd600" d="M1017.3 1716.0l5.6 10.2l4.4 4.4l-5.5 -10.2z"/><path fill="#feff01" d="M1022.9 1726.2l5.5 9l4.5 4.2l-5.6 -8.8z"/><path fill="#61ff9e" d="M1059.6 1763.6l5.6 3.1l4.5 1.6l-5.6 -2.8z"/><path fill="#ffa800" d="M1011.7 1705.0l5.6 11l4.5 4.4l-5.6 -11.3z"/><path fill="#daff25" d="M1028.5 1735.2l5.6 7.6l4.5 3.9l-5.6 -7.3z"/><path fill="#e90000" d="M983.9 1658.1l5.5 7.1l4.5 1.1l-5.6 -7.6z"/><path fill="#ff7900" d="M1006.2 1693.8l5.5 11.2l4.5 4.1l-5.6 -11.7z"/><path fill="#c00000" d="M968.3 1647.8l5.5 4.5l4.5 0l-5.6 -4.8z"/><path fill="#ff4d00" d="M1000.6 1683.2l5.6 10.6l4.4 3.6l-5.6 -11.5z"/><path fill="#ff0400" d="M989.4 1665.2l5.6 8.3l4.5 1.9l-5.6 -9.1z"/><path fill="#7eff81" d="M1049.6 1757.4l5.6 4l4.4 2.2l-5.5 -3.6z"/><path fill="#1cffe3" d="M1115.3 1781.2l5.6 1.7l4.4 .3l-5.5 -1.8z"/><path fill="#14ffeb" d="M1125.3 1783.2l5.6 1.7l4.5 .2l-5.6 -1.8z"/><path fill="#b10000" d="M958.3 1644.5l5.5 3.6l4.5 -.3l-5.6 -3.7z"/><path fill="#0cfff3" d="M1135.4 1785.1l5.5 1.7l4.5 .1l-5.6 -1.7z"/><path fill="#24ffdb" d="M1105.3 1779.0l5.6 1.8l4.4 .4l-5.6 -1.8z"/><path fill="#ff2500" d="M995.0 1673.5l5.6 9.7l4.4 2.7l-5.5 -10.5z"/><path fill="#05fffa" d="M1145.4 1786.9l5.5 1.7l4.5 .1l-5.6 -1.8z"/><path fill="#2effd1" d="M1095.3 1776.6l5.5 1.9l4.5 .5l-5.6 -1.8z"/><path fill="#00fdff" d="M1155.4 1788.7l5.6 1.7l4.4 -.1l-5.6 -1.7z"/><path fill="#00f7ff" d="M1165.4 1790.3l5.6 1.8l4.4 -.2l-5.5 -1.7z"/><path fill="#bcff43" d="M1034.0 1742.8l5.6 6.4l4.4 3.4l-5.5 -5.9z"/><path fill="#a70000" d="M948.2 1642.1l5.6 3l4.5 -.6l-5.6 -3z"/><path fill="#3affc5" d="M1085.2 1774.0l5.6 1.9l4.5 .7l-5.6 -1.8z"/><path fill="#00f1ff" d="M1175.4 1791.9l5.6 1.8l4.5 -.3l-5.6 -1.7z"/><path fill="#00ebff" d="M1185.5 1793.4l5.5 1.8l4.5 -.4l-5.6 -1.7z"/><path fill="#48ffb7" d="M1075.2 1770.7l5.6 2.2l4.4 1.1l-5.5 -2.1z"/><path fill="#cd0000" d="M973.8 1652.3l5.6 5.3l4.5 .5l-5.6 -5.8z"/><path fill="#5affa5" d="M1065.2 1766.7l5.6 2.6l4.4 1.4l-5.5 -2.4z"/><path fill="#a5ff5a" d="M1039.6 1749.2l5.6 5.2l4.4 3l-5.6 -4.8z"/><path fill="#ba0000" d="M963.8 1648.1l5.6 4.1l4.4 .1l-5.5 -4.5z"/><path fill="#73ff8c" d="M1055.2 1761.4l5.6 3.3l4.4 2l-5.6 -3.1z"/><path fill="#df0000" d="M979.4 1657.6l5.6 6.5l4.4 1.1l-5.5 -7.1z"/><path fill="#ad0000" d="M953.8 1645.1l5.6 3.4l4.4 -.4l-5.5 -3.6z"/><path fill="#1cffe3" d="M1120.9 1782.9l5.6 1.8l4.4 .2l-5.6 -1.7z"/><path fill="#14ffeb" d="M1130.9 1784.9l5.6 1.7l4.4 .2l-5.5 -1.7z"/><path fill="#a40000" d="M943.8 1642.9l5.6 2.8l4.4 -.6l-5.6 -3z"/><path fill="#ffb900" d="M1012.9 1711.6l5.5 10l4.5 4.6l-5.6 -10.2z"/><path fill="#24ffdb" d="M1110.9 1780.8l5.5 1.8l4.5 .3l-5.6 -1.7z"/><path fill="#0cfff3" d="M1140.9 1786.8l5.6 1.7l4.4 .1l-5.5 -1.7z"/><path fill="#05fffa" d="M1150.9 1788.6l5.6 1.8l4.5 0l-5.6 -1.7z"/><path fill="#2effd1" d="M1100.8 1778.5l5.6 1.8l4.5 .5l-5.6 -1.8z"/><path fill="#ffe300" d="M1018.4 1721.6l5.6 9.1l4.4 4.5l-5.5 -9z"/><path fill="#00fdff" d="M1161.0 1790.4l5.5 1.7l4.5 0l-5.6 -1.8z"/><path fill="#ff8d00" d="M1007.3 1701.0l5.6 10.6l4.4 4.4l-5.6 -11z"/><path fill="#39ffc6" d="M1090.8 1775.9l5.6 1.9l4.4 .7l-5.5 -1.9z"/><path fill="#00f7ff" d="M1171.0 1792.1l5.6 1.7l4.4 -.1l-5.6 -1.8z"/><path fill="#f70000" d="M985.0 1664.1l5.6 7.6l4.4 1.8l-5.6 -8.3z"/><path fill="#00f1ff" d="M1181.0 1793.7l5.6 1.7l4.4 -.2l-5.5 -1.8z"/><path fill="#ff6200" d="M1001.7 1690.5l5.6 10.5l4.4 4l-5.5 -11.2z"/><path fill="#46ffb9" d="M1080.8 1772.9l5.6 2.1l4.4 .9l-5.6 -1.9z"/><path fill="#00ebff" d="M1191.0 1795.2l5.6 1.7l4.4 -.3l-5.5 -1.8z"/><path fill="#f7ff08" d="M1024.0 1730.7l5.6 7.9l4.4 4.2l-5.6 -7.6z"/><path fill="#ff1500" d="M990.6 1671.7l5.5 8.9l4.5 2.6l-5.6 -9.7z"/><path fill="#ff3900" d="M996.1 1680.6l5.6 9.9l4.5 3.3l-5.6 -10.6z"/><path fill="#94ff6b" d="M1045.2 1754.4l5.5 4.3l4.5 2.7l-5.6 -4z"/><path fill="#56ffa9" d="M1070.8 1769.3l5.6 2.4l4.4 1.2l-5.6 -2.2z"/><path fill="#c60000" d="M969.4 1652.2l5.6 5l4.4 .4l-5.6 -5.3z"/><path fill="#d8ff27" d="M1029.6 1738.6l5.5 6.7l4.5 3.9l-5.6 -6.4z"/><path fill="#6bff94" d="M1060.8 1764.7l5.5 2.9l4.5 1.7l-5.6 -2.6z"/><path fill="#b50000" d="M959.4 1648.5l5.6 3.9l4.4 -.2l-5.6 -4.1z"/><path fill="#aa0000" d="M949.4 1645.7l5.5 3.2l4.5 -.4l-5.6 -3.4z"/><path fill="#d60000" d="M975.0 1657.2l5.5 5.9l4.5 1l-5.6 -6.5z"/><path fill="#a10000" d="M939.3 1643.6l5.6 2.7l4.5 -.6l-5.6 -2.8z"/><path fill="#1cffe3" d="M1126.5 1784.7l5.5 1.7l4.5 .2l-5.6 -1.7z"/><path fill="#14ffeb" d="M1136.5 1786.6l5.5 1.8l4.5 .1l-5.6 -1.7z"/><path fill="#24ffdb" d="M1116.4 1782.6l5.6 1.7l4.5 .4l-5.6 -1.8z"/><path fill="#0cfff3" d="M1146.5 1788.5l5.6 1.8l4.4 .1l-5.6 -1.8z"/><path fill="#87ff78" d="M1050.7 1758.7l5.6 3.7l4.5 2.3l-5.6 -3.3z"/><path fill="#05fffa" d="M1156.5 1790.4l5.6 1.7l4.4 0l-5.5 -1.7z"/><path fill="#bfff40" d="M1035.1 1745.3l5.6 5.7l4.5 3.4l-5.6 -5.2z"/><path fill="#2effd1" d="M1106.4 1780.3l5.6 1.8l4.4 .5l-5.5 -1.8z"/><path fill="#00fdff" d="M1166.5 1792.1l5.6 1.8l4.5 -.1l-5.6 -1.7z"/><path fill="#38ffc7" d="M1096.4 1777.8l5.6 1.8l4.4 .7l-5.6 -1.8z"/><path fill="#00f7ff" d="M1176.6 1793.8l5.5 1.8l4.5 -.2l-5.6 -1.7z"/><path fill="#00f1ff" d="M1186.6 1795.4l5.6 1.8l4.4 -.3l-5.6 -1.7z"/><path fill="#44ffbb" d="M1086.4 1775.0l5.5 1.9l4.5 .9l-5.6 -1.9z"/><path fill="#00ebff" d="M1196.6 1796.9l5.6 1.8l4.4 -.4l-5.6 -1.7z"/><path fill="#eb0000" d="M980.5 1663.1l5.6 7l4.5 1.6l-5.6 -7.6z"/><path fill="#53ffac" d="M1076.4 1771.7l5.5 2.1l4.5 1.2l-5.6 -2.1z"/><path fill="#c00000" d="M965.0 1652.4l5.5 4.6l4.5 .2l-5.6 -5z"/><path fill="#ff0700" d="M986.1 1670.1l5.6 8.1l4.4 2.4l-5.5 -8.9z"/><path fill="#65ff9a" d="M1066.3 1767.6l5.6 2.5l4.5 1.6l-5.6 -2.4z"/><path fill="#ff9d00" d="M1008.4 1707.3l5.6 9.7l4.4 4.6l-5.5 -10z"/><path fill="#ff7400" d="M1002.8 1697.2l5.6 10.1l4.5 4.3l-5.6 -10.6z"/><path fill="#ffc500" d="M1014.0 1717.0l5.6 9.1l4.4 4.6l-5.6 -9.1z"/><path fill="#ff2600" d="M991.7 1678.2l5.6 9.2l4.4 3.1l-5.6 -9.9z"/><path fill="#ff4b00" d="M997.3 1687.4l5.5 9.8l4.5 3.8l-5.6 -10.5z"/><path fill="#b10000" d="M954.9 1648.9l5.6 3.7l4.5 -.2l-5.6 -3.9z"/><path fill="#acff53" d="M1040.7 1751.0l5.6 4.7l4.4 3l-5.5 -4.3z"/><path fill="#ffea00" d="M1019.6 1726.1l5.5 8l4.5 4.5l-5.6 -7.9z"/><path fill="#a60000" d="M944.9 1646.3l5.6 3.1l4.4 -.5l-5.5 -3.2z"/><path fill="#9e0000" d="M934.9 1644.3l5.6 2.7l4.4 -.7l-5.6 -2.7z"/><path fill="#7dff82" d="M1056.3 1762.4l5.6 3.1l4.4 2.1l-5.5 -2.9z"/><path fill="#cf0000" d="M970.5 1657.0l5.6 5.4l4.4 .7l-5.5 -5.9z"/><path fill="#1cffe3" d="M1132.0 1786.4l5.6 1.7l4.4 .3l-5.5 -1.8z"/><path fill="#14ffeb" d="M1142.0 1788.4l5.6 1.7l4.5 .2l-5.6 -1.8z"/><path fill="#24ffdb" d="M1122.0 1784.3l5.6 1.8l4.4 .3l-5.5 -1.7z"/><path fill="#0cfff3" d="M1152.1 1790.3l5.5 1.7l4.5 .1l-5.6 -1.7z"/><path fill="#05fffa" d="M1162.1 1792.1l5.6 1.8l4.4 0l-5.6 -1.8z"/><path fill="#2dffd2" d="M1112.0 1782.1l5.6 1.7l4.4 .5l-5.6 -1.7z"/><path fill="#f5ff0a" d="M1025.1 1734.1l5.6 7l4.4 4.2l-5.5 -6.7z"/><path fill="#00fdff" d="M1172.1 1793.9l5.6 1.7l4.4 0l-5.5 -1.8z"/><path fill="#38ffc7" d="M1102.0 1779.6l5.5 1.8l4.5 .7l-5.6 -1.8z"/><path fill="#00f7ff" d="M1182.1 1795.6l5.6 1.7l4.5 -.1l-5.6 -1.8z"/><path fill="#00f1ff" d="M1192.2 1797.2l5.5 1.7l4.5 -.2l-5.6 -1.8z"/><path fill="#43ffbc" d="M1091.9 1776.9l5.6 1.9l4.5 .8l-5.6 -1.8z"/><path fill="#00ebff" d="M1202.2 1798.7l5.5 1.7l4.5 -.3l-5.6 -1.8z"/><path fill="#51ffae" d="M1081.9 1773.8l5.6 2l4.4 1.1l-5.5 -1.9z"/><path fill="#bb0000" d="M960.5 1652.6l5.6 4.3l4.4 .1l-5.5 -4.6z"/><path fill="#9dff62" d="M1046.3 1755.7l5.6 3.9l4.4 2.8l-5.6 -3.7z"/><path fill="#e10000" d="M976.1 1662.4l5.6 6.4l4.4 1.3l-5.6 -7z"/><path fill="#61ff9e" d="M1071.9 1770.1l5.6 2.3l4.4 1.4l-5.5 -2.1z"/><path fill="#dbff24" d="M1030.7 1741.1l5.6 6l4.4 3.9l-5.6 -5.7z"/><path fill="#ad0000" d="M950.5 1649.4l5.6 3.5l4.4 -.3l-5.6 -3.7z"/><path fill="#a30000" d="M940.5 1647.0l5.5 2.9l4.5 -.5l-5.6 -3.1z"/><path fill="#9b0000" d="M930.4 1645.0l5.6 2.6l4.5 -.6l-5.6 -2.7z"/><path fill="#f80000" d="M981.7 1668.8l5.5 7.5l4.5 1.9l-5.6 -8.1z"/><path fill="#76ff89" d="M1061.9 1765.5l5.6 2.7l4.4 1.9l-5.6 -2.5z"/><path fill="#ff1600" d="M987.2 1676.3l5.6 8.4l4.5 2.7l-5.6 -9.2z"/><path fill="#c80000" d="M966.1 1656.9l5.6 5.1l4.4 .4l-5.6 -5.4z"/><path fill="#ff3700" d="M992.8 1684.7l5.6 9.2l4.4 3.3l-5.5 -9.8z"/><path fill="#1cffe3" d="M1137.6 1788.1l5.6 1.8l4.4 .2l-5.6 -1.7z"/><path fill="#14ffeb" d="M1147.6 1790.1l5.6 1.8l4.4 .1l-5.5 -1.7z"/><path fill="#24ffdb" d="M1127.6 1786.1l5.6 1.7l4.4 .3l-5.6 -1.7z"/><path fill="#ff5c00" d="M998.4 1693.9l5.6 9.4l4.4 4l-5.6 -10.1z"/><path fill="#0cfff3" d="M1157.6 1792.0l5.6 1.8l4.5 .1l-5.6 -1.8z"/><path fill="#2dffd2" d="M1117.6 1783.8l5.5 1.8l4.5 .5l-5.6 -1.8z"/><path fill="#05fffa" d="M1167.7 1793.9l5.5 1.7l4.5 0l-5.6 -1.7z"/><path fill="#ff8300" d="M1004.0 1703.3l5.5 9.4l4.5 4.3l-5.6 -9.7z"/><path fill="#c6ff39" d="M1036.3 1747.1l5.5 5.1l4.5 3.5l-5.6 -4.7z"/><path fill="#00fdff" d="M1177.7 1795.6l5.6 1.8l4.4 -.1l-5.6 -1.7z"/><path fill="#37ffc8" d="M1107.5 1781.4l5.6 1.8l4.5 .6l-5.6 -1.7z"/><path fill="#00f7ff" d="M1187.7 1797.3l5.6 1.8l4.4 -.2l-5.5 -1.7z"/><path fill="#ffa900" d="M1009.5 1712.7l5.6 8.8l4.5 4.6l-5.6 -9.1z"/><path fill="#92ff6d" d="M1051.9 1759.6l5.5 3.4l4.5 2.5l-5.6 -3.1z"/><path fill="#42ffbd" d="M1097.5 1778.8l5.6 1.8l4.4 .8l-5.5 -1.8z"/><path fill="#00f1ff" d="M1197.7 1798.9l5.6 1.8l4.4 -.3l-5.5 -1.7z"/><path fill="#00ebff" d="M1207.7 1800.4l5.6 1.8l4.5 -.4l-5.6 -1.7z"/><path fill="#4fffb0" d="M1087.5 1775.8l5.6 2l4.4 1l-5.6 -1.9z"/><path fill="#ffcc00" d="M1015.1 1721.5l5.6 8.1l4.4 4.5l-5.5 -8z"/><path fill="#b50000" d="M956.1 1652.9l5.5 4l4.5 0l-5.6 -4.3z"/><path fill="#5effa1" d="M1077.5 1772.4l5.6 2.1l4.4 1.3l-5.6 -2z"/><path fill="#d80000" d="M971.7 1662.0l5.5 5.9l4.5 .9l-5.6 -6.4z"/><path fill="#a80000" d="M946.0 1649.9l5.6 3.3l4.5 -.3l-5.6 -3.5z"/><path fill="#9f0000" d="M936.0 1647.6l5.6 2.8l4.4 -.5l-5.5 -2.9z"/><path fill="#ffec00" d="M1020.7 1729.6l5.6 7.1l4.4 4.4l-5.6 -7z"/><path fill="#980000" d="M926.0 1645.7l5.6 2.5l4.4 -.6l-5.6 -2.6z"/><path fill="#71ff8e" d="M1067.5 1768.2l5.5 2.5l4.5 1.7l-5.6 -2.3z"/><path fill="#b5ff4a" d="M1041.8 1752.2l5.6 4.3l4.5 3.1l-5.6 -3.9z"/><path fill="#ed0000" d="M977.2 1667.9l5.6 6.8l4.4 1.6l-5.5 -7.5z"/><path fill="#000080" d="M805.9 1881.8l5.6 1.7l4.4 -51.1l-5.6 -1.8z"/><path fill="#c10000" d="M961.6 1656.9l5.6 4.7l4.5 .4l-5.6 -5.1z"/><path fill="#89ff76" d="M1057.4 1763.0l5.6 3l4.5 2.2l-5.6 -2.7z"/><path fill="#f7ff08" d="M1026.3 1736.7l5.5 6.2l4.5 4.2l-5.6 -6z"/><path fill="#1cffe3" d="M1143.2 1789.9l5.5 1.7l4.5 .3l-5.6 -1.8z"/><path fill="#14ffeb" d="M1153.2 1791.9l5.6 1.7l4.4 .2l-5.6 -1.8z"/><path fill="#24ffdb" d="M1133.2 1787.8l5.5 1.8l4.5 .3l-5.6 -1.8z"/><path fill="#0cfff3" d="M1163.2 1793.8l5.6 1.7l4.4 .1l-5.5 -1.7z"/><path fill="#2dffd2" d="M1123.1 1785.6l5.6 1.7l4.5 .5l-5.6 -1.7z"/><path fill="#05fffa" d="M1173.2 1795.6l5.6 1.8l4.5 0l-5.6 -1.8z"/><path fill="#00fdff" d="M1183.3 1797.4l5.5 1.7l4.5 0l-5.6 -1.8z"/><path fill="#37ffc8" d="M1113.1 1783.2l5.6 1.8l4.4 .6l-5.5 -1.8z"/><path fill="#00f7ff" d="M1193.3 1799.1l5.5 1.7l4.5 -.1l-5.6 -1.8z"/><path fill="#ff0700" d="M982.8 1674.7l5.6 7.8l4.4 2.2l-5.6 -8.4z"/><path fill="#42ffbd" d="M1103.1 1780.6l5.6 1.8l4.4 .8l-5.6 -1.8z"/><path fill="#00f1ff" d="M1203.3 1800.7l5.6 1.7l4.4 -.2l-5.6 -1.8z"/><path fill="#00ebff" d="M1213.3 1802.2l5.6 1.7l4.4 -.4l-5.5 -1.7z"/><path fill="#4effb1" d="M1093.1 1777.8l5.5 1.9l4.5 .9l-5.6 -1.8z"/><path fill="#b00000" d="M951.6 1653.2l5.6 3.8l4.4 -.1l-5.5 -4z"/><path fill="#ff2500" d="M988.4 1682.5l5.5 8.5l4.5 2.9l-5.6 -9.2z"/><path fill="#5dffa2" d="M1083.1 1774.5l5.5 2l4.5 1.3l-5.6 -2z"/><path fill="#a40000" d="M941.6 1650.4l5.6 3.1l4.4 -.3l-5.6 -3.3z"/><path fill="#ff4700" d="M993.9 1691.0l5.6 8.8l4.5 3.5l-5.6 -9.4z"/><path fill="#a8ff57" d="M1047.4 1756.5l5.6 3.7l4.4 2.8l-5.5 -3.4z"/><path fill="#940000" d="M921.5 1646.5l5.6 2.3l4.5 -.6l-5.6 -2.5z"/><path fill="#9b0000" d="M931.6 1648.2l5.5 2.6l4.5 -.4l-5.6 -2.8z"/><path fill="#e1ff1e" d="M1031.8 1742.9l5.6 5.4l4.4 3.9l-5.5 -5.1z"/><path fill="#ff6b00" d="M999.5 1699.8l5.6 8.9l4.4 4l-5.5 -9.4z"/><path fill="#d00000" d="M967.2 1661.6l5.6 5.5l4.4 .8l-5.5 -5.9z"/><path fill="#6eff91" d="M1073.0 1770.7l5.6 2.2l4.5 1.6l-5.6 -2.1z"/><path fill="#ff8e00" d="M1005.1 1708.7l5.6 8.5l4.4 4.3l-5.6 -8.8z"/><path fill="#ffb000" d="M1010.7 1717.2l5.5 7.9l4.5 4.5l-5.6 -8.1z"/><path fill="#83ff7c" d="M1063.0 1766.0l5.6 2.6l4.4 2.1l-5.5 -2.5z"/><path fill="#000080" d="M811.5 1883.5l5.5 1.8l4.5 -51.1l-5.6 -1.8z"/><path fill="#ba0000" d="M957.2 1657.0l5.6 4.3l4.4 .3l-5.6 -4.7z"/><path fill="#e20000" d="M972.8 1667.1l5.5 6.3l4.5 1.3l-5.6 -6.8z"/><path fill="#1cffe3" d="M1148.7 1791.6l5.6 1.8l4.5 .2l-5.6 -1.7z"/><path fill="#14ffeb" d="M1158.8 1793.6l5.5 1.8l4.5 .1l-5.6 -1.7z"/><path fill="#24ffdb" d="M1138.7 1789.6l5.6 1.7l4.4 .3l-5.5 -1.7z"/><path fill="#0cfff3" d="M1168.8 1795.5l5.6 1.8l4.4 .1l-5.6 -1.8z"/><path fill="#2dffd2" d="M1128.7 1787.3l5.6 1.8l4.4 .5l-5.5 -1.8z"/><path fill="#05fffa" d="M1178.8 1797.4l5.6 1.7l4.4 0l-5.5 -1.7z"/><path fill="#00fdff" d="M1188.8 1799.1l5.6 1.8l4.4 -.1l-5.5 -1.7z"/><path fill="#37ffc8" d="M1118.7 1785.0l5.6 1.7l4.4 .6l-5.6 -1.7z"/><path fill="#ffce00" d="M1016.2 1725.1l5.6 7.1l4.5 4.5l-5.6 -7.1z"/><path fill="#00f7ff" d="M1198.8 1800.8l5.6 1.7l4.5 -.1l-5.6 -1.7z"/><path fill="#cfff30" d="M1037.4 1748.3l5.6 4.6l4.4 3.6l-5.6 -4.3z"/><path fill="#42ffbd" d="M1108.7 1782.4l5.5 1.8l4.5 .8l-5.6 -1.8z"/><path fill="#00f1ff" d="M1208.9 1802.4l5.5 1.7l4.5 -.2l-5.6 -1.7z"/><path fill="#ab0000" d="M947.2 1653.5l5.5 3.5l4.5 0l-5.6 -3.8z"/><path fill="#4effb1" d="M1098.6 1779.7l5.6 1.8l4.5 .9l-5.6 -1.8z"/><path fill="#00ebff" d="M1218.9 1803.9l5.6 1.7l4.4 -.3l-5.6 -1.8z"/><path fill="#9eff61" d="M1053.0 1760.2l5.6 3.1l4.4 2.7l-5.6 -3z"/><path fill="#f90000" d="M978.3 1673.4l5.6 7.1l4.5 2l-5.6 -7.8z"/><path fill="#9f0000" d="M937.1 1650.8l5.6 2.9l4.5 -.2l-5.6 -3.1z"/><path fill="#5bffa4" d="M1088.6 1776.5l5.6 2l4.4 1.2l-5.5 -1.9z"/><path fill="#920000" d="M917.1 1647.2l5.6 2.2l4.4 -.6l-5.6 -2.3z"/><path fill="#970000" d="M927.1 1648.8l5.6 2.5l4.4 -.5l-5.5 -2.6z"/><path fill="#ffe900" d="M1021.8 1732.2l5.6 6.3l4.4 4.4l-5.5 -6.2z"/><path fill="#6bff94" d="M1078.6 1772.9l5.6 2.1l4.4 1.5l-5.5 -2z"/><path fill="#c70000" d="M962.8 1661.3l5.5 5l4.5 .8l-5.6 -5.5z"/><path fill="#ff1500" d="M983.9 1680.5l5.6 7.8l4.4 2.7l-5.5 -8.5z"/><path fill="#7fff80" d="M1068.6 1768.6l5.6 2.4l4.4 1.9l-5.6 -2.2z"/><path fill="#ff3300" d="M989.5 1688.3l5.6 8.3l4.4 3.2l-5.6 -8.8z"/><path fill="#c1ff3e" d="M1043.0 1752.9l5.5 4l4.5 3.3l-5.6 -3.7z"/><path fill="#000080" d="M817.0 1885.3l5.6 1.7l4.5 -51l-5.6 -1.8z"/><path fill="#ff5400" d="M995.1 1696.6l5.5 8.3l4.5 3.8l-5.6 -8.9z"/><path fill="#b40000" d="M952.7 1657.0l5.6 4l4.5 .3l-5.6 -4.3z"/><path fill="#feff01" d="M1027.4 1738.5l5.5 5.6l4.5 4.2l-5.6 -5.4z"/><path fill="#1cffe3" d="M1154.3 1793.4l5.6 1.7l4.4 .3l-5.5 -1.8z"/><path fill="#14ffeb" d="M1164.3 1795.4l5.6 1.7l4.5 .2l-5.6 -1.8z"/><path fill="#24ffdb" d="M1144.3 1791.3l5.6 1.7l4.4 .4l-5.6 -1.8z"/><path fill="#0cfff3" d="M1174.4 1797.3l5.5 1.7l4.5 .1l-5.6 -1.7z"/><path fill="#2dffd2" d="M1134.3 1789.1l5.5 1.7l4.5 .5l-5.6 -1.7z"/><path fill="#05fffa" d="M1184.4 1799.1l5.6 1.7l4.4 .1l-5.6 -1.8z"/><path fill="#00fdff" d="M1194.4 1800.9l5.6 1.7l4.4 -.1l-5.6 -1.7z"/><path fill="#d80000" d="M968.3 1666.3l5.6 5.8l4.4 1.3l-5.5 -6.3z"/><path fill="#37ffc8" d="M1124.3 1786.7l5.5 1.8l4.5 .6l-5.6 -1.8z"/><path fill="#ff7500" d="M1000.6 1704.9l5.6 8.1l4.5 4.2l-5.6 -8.5z"/><path fill="#97ff68" d="M1058.6 1763.3l5.5 2.9l4.5 2.4l-5.6 -2.6z"/><path fill="#00f7ff" d="M1204.4 1802.5l5.6 1.8l4.4 -.2l-5.5 -1.7z"/><path fill="#41ffbe" d="M1114.2 1784.2l5.6 1.8l4.5 .7l-5.6 -1.7z"/><path fill="#a50000" d="M942.7 1653.7l5.6 3.3l4.4 0l-5.5 -3.5z"/><path fill="#00f1ff" d="M1214.4 1804.1l5.6 1.8l4.5 -.3l-5.6 -1.7z"/><path fill="#4dffb2" d="M1104.2 1781.5l5.6 1.8l4.4 .9l-5.5 -1.8z"/><path fill="#00ebff" d="M1224.5 1805.6l5.5 1.8l4.5 -.4l-5.6 -1.7z"/><path fill="#8f0000" d="M912.7 1648.0l5.5 2.1l4.5 -.7l-5.6 -2.2z"/><path fill="#9b0000" d="M932.7 1651.3l5.6 2.7l4.4 -.3l-5.6 -2.9z"/><path fill="#940000" d="M922.7 1649.4l5.5 2.4l4.5 -.5l-5.6 -2.5z"/><path fill="#ff9400" d="M1006.2 1713.0l5.6 7.6l4.4 4.5l-5.5 -7.9z"/><path fill="#5affa5" d="M1094.2 1778.5l5.6 1.8l4.4 1.2l-5.6 -1.8z"/><path fill="#6aff95" d="M1084.2 1775.0l5.5 2l4.5 1.5l-5.6 -2z"/><path fill="#ec0000" d="M973.9 1672.1l5.6 6.6l4.4 1.8l-5.6 -7.1z"/><path fill="#ebff14" d="M1032.9 1744.1l5.6 4.8l4.5 4l-5.6 -4.6z"/><path fill="#b6ff49" d="M1048.5 1756.9l5.6 3.4l4.5 3l-5.6 -3.1z"/><path fill="#bf0000" d="M958.3 1661.0l5.6 4.6l4.4 .7l-5.5 -5z"/><path fill="#ffb100" d="M1011.8 1720.6l5.6 7l4.4 4.6l-5.6 -7.1z"/><path fill="#7cff83" d="M1074.2 1771.0l5.5 2.2l4.5 1.8l-5.6 -2.1z"/><path fill="#ff0500" d="M979.5 1678.7l5.5 7.2l4.5 2.4l-5.6 -7.8z"/><path fill="#000080" d="M822.6 1887.0l5.6 1.8l4.4 -50.9l-5.5 -1.9z"/><path fill="#ad0000" d="M948.3 1657.0l5.6 3.7l4.4 .3l-5.6 -4z"/><path fill="#92ff6d" d="M1064.1 1766.2l5.6 2.5l4.5 2.3l-5.6 -2.4z"/><path fill="#1cffe3" d="M1159.9 1795.1l5.6 1.8l4.4 .2l-5.6 -1.7z"/><path fill="#14ffeb" d="M1169.9 1797.1l5.6 1.7l4.4 .2l-5.5 -1.7z"/><path fill="#ffcc00" d="M1017.4 1727.6l5.5 6.4l4.5 4.5l-5.6 -6.3z"/><path fill="#24ffdb" d="M1149.9 1793.0l5.5 1.8l4.5 .3l-5.6 -1.7z"/><path fill="#0cfff3" d="M1179.9 1799.0l5.6 1.7l4.5 .1l-5.6 -1.7z"/><path fill="#2dffd2" d="M1139.8 1790.8l5.6 1.8l4.5 .4l-5.6 -1.7z"/><path fill="#05fffa" d="M1190.0 1800.8l5.5 1.8l4.5 0l-5.6 -1.7z"/><path fill="#00fdff" d="M1200.0 1802.6l5.5 1.7l4.5 0l-5.6 -1.8z"/><path fill="#37ffc8" d="M1129.8 1788.5l5.6 1.7l4.4 .6l-5.5 -1.7z"/><path fill="#ff2000" d="M985.0 1685.9l5.6 7.7l4.5 3l-5.6 -8.3z"/><path fill="#00f7ff" d="M1210.0 1804.3l5.6 1.7l4.4 -.1l-5.6 -1.8z"/><path fill="#a00000" d="M938.3 1654.0l5.5 3l4.5 0l-5.6 -3.3z"/><path fill="#8c0000" d="M908.2 1648.8l5.6 2l4.4 -.7l-5.5 -2.1z"/><path fill="#41ffbe" d="M1119.8 1786.0l5.6 1.8l4.4 .7l-5.5 -1.8z"/><path fill="#00f1ff" d="M1220.0 1805.9l5.6 1.7l4.4 -.2l-5.5 -1.8z"/><path fill="#cd0000" d="M963.9 1665.6l5.6 5.3l4.4 1.2l-5.6 -5.8z"/><path fill="#900000" d="M918.2 1650.1l5.6 2.2l4.4 -.5l-5.5 -2.4z"/><path fill="#970000" d="M928.2 1651.8l5.6 2.6l4.5 -.4l-5.6 -2.7z"/><path fill="#4dffb2" d="M1109.8 1783.3l5.6 1.8l4.4 .9l-5.6 -1.8z"/><path fill="#00ebff" d="M1230.0 1807.4l5.6 1.7l4.5 -.3l-5.6 -1.8z"/><path fill="#dbff24" d="M1038.5 1748.9l5.6 4.3l4.4 3.7l-5.5 -4z"/><path fill="#ff3e00" d="M990.6 1693.6l5.6 7.7l4.4 3.6l-5.5 -8.3z"/><path fill="#5affa5" d="M1099.8 1780.3l5.5 1.9l4.5 1.1l-5.6 -1.8z"/><path fill="#adff52" d="M1054.1 1760.3l5.6 3l4.4 2.9l-5.5 -2.9z"/><path fill="#68ff97" d="M1089.7 1777.0l5.6 1.9l4.5 1.4l-5.6 -1.8z"/><path fill="#ffe300" d="M1022.9 1734.0l5.6 5.6l4.4 4.5l-5.5 -5.6z"/><path fill="#ff5c00" d="M996.2 1701.3l5.6 7.6l4.4 4.1l-5.6 -8.1z"/><path fill="#b70000" d="M953.9 1660.7l5.5 4.2l4.5 .7l-5.6 -4.6z"/><path fill="#df0000" d="M969.5 1670.9l5.5 6l4.5 1.8l-5.6 -6.6z"/><path fill="#79ff86" d="M1079.7 1773.2l5.6 2.1l4.4 1.7l-5.5 -2z"/><path fill="#ff7900" d="M1001.8 1708.9l5.5 7.3l4.5 4.4l-5.6 -7.6z"/><path fill="#000080" d="M828.2 1888.8l5.6 1.7l4.4 -50.7l-5.6 -1.9z"/><path fill="#a60000" d="M943.8 1657.0l5.6 3.4l4.5 .3l-5.6 -3.7z"/><path fill="#8eff71" d="M1069.7 1768.7l5.6 2.3l4.4 2.2l-5.5 -2.2z"/><path fill="#cfff30" d="M1044.1 1753.2l5.6 3.7l4.4 3.4l-5.6 -3.4z"/><path fill="#890000" d="M903.8 1649.6l5.5 2l4.5 -.8l-5.6 -2z"/><path fill="#1cffe3" d="M1165.5 1796.9l5.5 1.7l4.5 .2l-5.6 -1.7z"/><path fill="#14ffeb" d="M1175.5 1798.8l5.6 1.8l4.4 .1l-5.6 -1.7z"/><path fill="#24ffdb" d="M1155.4 1794.8l5.6 1.7l4.5 .4l-5.6 -1.8z"/><path fill="#0cfff3" d="M1185.5 1800.7l5.6 1.8l4.4 .1l-5.5 -1.8z"/><path fill="#2dffd2" d="M1145.4 1792.6l5.6 1.7l4.4 .5l-5.5 -1.8z"/><path fill="#05fffa" d="M1195.5 1802.6l5.6 1.7l4.4 0l-5.5 -1.7z"/><path fill="#fff600" d="M1028.5 1739.6l5.6 5.1l4.4 4.2l-5.6 -4.8z"/><path fill="#f40000" d="M975.0 1676.9l5.6 6.6l4.4 2.4l-5.5 -7.2z"/><path fill="#9b0000" d="M933.8 1654.4l5.6 2.8l4.4 -.2l-5.5 -3z"/><path fill="#00fdff" d="M1205.5 1804.3l5.6 1.8l4.5 -.1l-5.6 -1.7z"/><path fill="#37ffc8" d="M1135.4 1790.2l5.6 1.8l4.4 .6l-5.6 -1.8z"/><path fill="#8d0000" d="M913.8 1650.8l5.5 2.1l4.5 -.6l-5.6 -2.2z"/><path fill="#930000" d="M923.8 1652.3l5.6 2.4l4.4 -.3l-5.6 -2.6z"/><path fill="#00f7ff" d="M1215.6 1806.0l5.5 1.8l4.5 -.2l-5.6 -1.7z"/><path fill="#41ffbe" d="M1125.4 1787.8l5.6 1.7l4.4 .7l-5.6 -1.7z"/><path fill="#ff9500" d="M1007.3 1716.2l5.6 6.7l4.5 4.7l-5.6 -7z"/><path fill="#00f1ff" d="M1225.6 1807.6l5.6 1.8l4.4 -.3l-5.6 -1.7z"/><path fill="#4dffb2" d="M1115.4 1785.1l5.5 1.7l4.5 1l-5.6 -1.8z"/><path fill="#00ebff" d="M1235.6 1809.1l5.6 1.8l4.4 -.4l-5.5 -1.7z"/><path fill="#c30000" d="M959.4 1664.9l5.6 4.8l4.5 1.2l-5.6 -5.3z"/><path fill="#a7ff58" d="M1059.7 1763.3l5.6 2.8l4.4 2.6l-5.6 -2.5z"/><path fill="#59ffa6" d="M1105.3 1782.2l5.6 1.8l4.5 1.1l-5.6 -1.8z"/><path fill="#ff0e00" d="M980.6 1683.5l5.6 7l4.4 3.1l-5.6 -7.7z"/><path fill="#68ff97" d="M1095.3 1778.9l5.6 1.9l4.4 1.4l-5.5 -1.9z"/><path fill="#ffae00" d="M1012.9 1722.9l5.6 6.3l4.4 4.8l-5.5 -6.4z"/><path fill="#78ff87" d="M1085.3 1775.3l5.6 1.9l4.4 1.7l-5.6 -1.9z"/><path fill="#af0000" d="M949.4 1660.4l5.6 3.9l4.4 .6l-5.5 -4.2z"/><path fill="#ff2800" d="M986.2 1690.5l5.5 7.2l4.5 3.6l-5.6 -7.7z"/><path fill="#f7ff08" d="M1034.1 1744.7l5.5 4.4l4.5 4.1l-5.6 -4.3z"/><path fill="#c5ff3a" d="M1049.7 1756.9l5.5 3.2l4.5 3.2l-5.6 -3z"/><path fill="#d20000" d="M965.0 1669.7l5.6 5.5l4.4 1.7l-5.5 -6z"/><path fill="#870000" d="M899.3 1650.6l5.6 1.9l4.4 -.9l-5.5 -2z"/><path fill="#8bff74" d="M1075.3 1771.0l5.6 2.2l4.4 2.1l-5.6 -2.1z"/><path fill="#000080" d="M833.8 1890.5l5.5 1.8l4.5 -50.6l-5.6 -1.9z"/><path fill="#a00000" d="M939.4 1657.2l5.6 3.1l4.4 .1l-5.6 -3.4z"/><path fill="#8a0000" d="M909.3 1651.6l5.6 2l4.4 -.7l-5.5 -2.1z"/><path fill="#960000" d="M929.4 1654.7l5.5 2.6l4.5 -.1l-5.6 -2.8z"/><path fill="#ff4300" d="M991.7 1697.7l5.6 7l4.5 4.2l-5.6 -7.6z"/><path fill="#1cffe3" d="M1171.0 1798.6l5.6 1.8l4.5 .2l-5.6 -1.8z"/><path fill="#14ffeb" d="M1181.1 1800.6l5.5 1.7l4.5 .2l-5.6 -1.8z"/><path fill="#24ffdb" d="M1161.0 1796.5l5.6 1.8l4.4 .3l-5.5 -1.7z"/><path fill="#8f0000" d="M919.3 1652.9l5.6 2.2l4.5 -.4l-5.6 -2.4z"/><path fill="#0cfff3" d="M1191.1 1802.5l5.5 1.7l4.5 .1l-5.6 -1.7z"/><path fill="#2dffd2" d="M1151.0 1794.3l5.6 1.8l4.4 .4l-5.6 -1.7z"/><path fill="#ffc400" d="M1018.5 1729.2l5.6 5.7l4.4 4.7l-5.6 -5.6z"/><path fill="#05fffa" d="M1201.1 1804.3l5.6 1.8l4.4 0l-5.6 -1.8z"/><path fill="#00fdff" d="M1211.1 1806.1l5.6 1.7l4.4 0l-5.5 -1.8z"/><path fill="#37ffc8" d="M1141.0 1792.0l5.5 1.7l4.5 .6l-5.6 -1.7z"/><path fill="#00f7ff" d="M1221.1 1807.8l5.6 1.7l4.5 -.1l-5.6 -1.8z"/><path fill="#41ffbe" d="M1131.0 1789.5l5.5 1.8l4.5 .7l-5.6 -1.8z"/><path fill="#00f1ff" d="M1231.2 1809.4l5.5 1.7l4.5 -.2l-5.6 -1.8z"/><path fill="#a2ff5d" d="M1065.3 1766.1l5.5 2.4l4.5 2.5l-5.6 -2.3z"/><path fill="#4dffb2" d="M1120.9 1786.8l5.6 1.8l4.5 .9l-5.6 -1.7z"/><path fill="#00ebff" d="M1241.2 1810.9l5.6 1.7l4.4 -.3l-5.6 -1.8z"/><path fill="#e50000" d="M970.6 1675.2l5.5 6l4.5 2.3l-5.6 -6.6z"/><path fill="#59ffa6" d="M1110.9 1784.0l5.6 1.7l4.4 1.1l-5.5 -1.7z"/><path fill="#ff5d00" d="M997.3 1704.7l5.6 6.8l4.4 4.7l-5.5 -7.3z"/><path fill="#b90000" d="M955.0 1664.3l5.6 4.4l4.4 1l-5.6 -4.8z"/><path fill="#eaff15" d="M1039.6 1749.1l5.6 3.9l4.5 3.9l-5.6 -3.7z"/><path fill="#67ff98" d="M1100.9 1780.8l5.6 1.8l4.4 1.4l-5.6 -1.8z"/><path fill="#ffd800" d="M1024.1 1734.9l5.5 5.1l4.5 4.7l-5.6 -5.1z"/><path fill="#77ff88" d="M1090.9 1777.2l5.5 1.9l4.5 1.7l-5.6 -1.9z"/><path fill="#bdff42" d="M1055.2 1760.1l5.6 2.9l4.5 3.1l-5.6 -2.8z"/><path fill="#a70000" d="M945.0 1660.3l5.5 3.6l4.5 .4l-5.6 -3.9z"/><path fill="#fa0000" d="M976.1 1681.2l5.6 6.4l4.5 2.9l-5.6 -7z"/><path fill="#ff7600" d="M1002.9 1711.5l5.6 6.4l4.4 5l-5.6 -6.7z"/><path fill="#860000" d="M894.9 1651.6l5.5 1.9l4.5 -1l-5.6 -1.9z"/><path fill="#89ff76" d="M1080.9 1773.2l5.5 2.1l4.5 1.9l-5.6 -1.9z"/><path fill="#880000" d="M904.9 1652.5l5.6 2l4.4 -.9l-5.6 -2z"/><path fill="#9a0000" d="M934.9 1657.3l5.6 3l4.5 0l-5.6 -3.1z"/><path fill="#000080" d="M839.3 1892.3l5.6 1.7l4.5 -50.2l-5.6 -2.1z"/><path fill="#8c0000" d="M914.9 1653.6l5.6 2.2l4.4 -.7l-5.6 -2.2z"/><path fill="#910000" d="M924.9 1655.1l5.6 2.5l4.4 -.3l-5.5 -2.6z"/><path fill="#c70000" d="M960.6 1668.7l5.5 5l4.5 1.5l-5.6 -5.5z"/><path fill="#1cffe3" d="M1176.6 1800.4l5.6 1.7l4.4 .2l-5.5 -1.7z"/><path fill="#14ffeb" d="M1186.6 1802.3l5.6 1.8l4.4 .1l-5.5 -1.7z"/><path fill="#24ffdb" d="M1166.6 1798.3l5.6 1.7l4.4 .4l-5.6 -1.8z"/><path fill="#0cfff3" d="M1196.6 1804.2l5.6 1.8l4.5 .1l-5.6 -1.8z"/><path fill="#2dffd2" d="M1156.6 1796.1l5.5 1.7l4.5 .5l-5.6 -1.8z"/><path fill="#05fffa" d="M1206.7 1806.1l5.5 1.7l4.5 0l-5.6 -1.7z"/><path fill="#00fdff" d="M1216.7 1807.8l5.6 1.8l4.4 -.1l-5.6 -1.7z"/><path fill="#ff1300" d="M981.7 1687.6l5.6 6.6l4.4 3.5l-5.5 -7.2z"/><path fill="#37ffc8" d="M1146.5 1793.7l5.6 1.8l4.5 .6l-5.6 -1.8z"/><path fill="#00f7ff" d="M1226.7 1809.5l5.6 1.8l4.4 -.2l-5.5 -1.7z"/><path fill="#9eff61" d="M1070.8 1768.5l5.6 2.3l4.5 2.4l-5.6 -2.2z"/><path fill="#41ffbe" d="M1136.5 1791.3l5.6 1.7l4.4 .7l-5.5 -1.7z"/><path fill="#ff8e00" d="M1008.5 1717.9l5.5 6l4.5 5.3l-5.6 -6.3z"/><path fill="#00f1ff" d="M1236.7 1811.1l5.6 1.8l4.5 -.3l-5.6 -1.7z"/><path fill="#dfff20" d="M1045.2 1753.0l5.6 3.5l4.4 3.6l-5.5 -3.2z"/><path fill="#4cffb3" d="M1126.5 1788.6l5.6 1.8l4.4 .9l-5.5 -1.8z"/><path fill="#ffe900" d="M1029.6 1740.0l5.6 4.6l4.4 4.5l-5.5 -4.4z"/><path fill="#0079ff" d="M810.3 1830.6l5.6 1.8l4.5 -67.3l-5.6 -1.8z"/><path fill="#59ffa6" d="M1116.5 1785.7l5.6 1.8l4.4 1.1l-5.6 -1.8z"/><path fill="#b10000" d="M950.5 1663.9l5.6 4.1l4.5 .7l-5.6 -4.4z"/><path fill="#66ff99" d="M1106.5 1782.6l5.5 1.8l4.5 1.3l-5.6 -1.7z"/><path fill="#ff2b00" d="M987.3 1694.2l5.6 6.4l4.4 4.1l-5.6 -7z"/><path fill="#d70000" d="M966.1 1673.7l5.6 5.5l4.4 2l-5.5 -6z"/><path fill="#b8ff47" d="M1060.8 1763.0l5.6 2.7l4.4 2.8l-5.5 -2.4z"/><path fill="#840000" d="M890.4 1652.7l5.6 1.9l4.4 -1.1l-5.5 -1.9z"/><path fill="#76ff89" d="M1096.4 1779.1l5.6 1.9l4.5 1.6l-5.6 -1.8z"/><path fill="#ffa300" d="M1014.0 1723.9l5.6 5.5l4.5 5.5l-5.6 -5.7z"/><path fill="#a00000" d="M940.5 1660.3l5.6 3.3l4.4 .3l-5.5 -3.6z"/><path fill="#860000" d="M900.4 1653.5l5.6 2l4.5 -1l-5.6 -2z"/><path fill="#890000" d="M910.5 1654.5l5.5 2.1l4.5 -.8l-5.6 -2.2z"/><path fill="#87ff78" d="M1086.4 1775.3l5.6 1.9l4.4 1.9l-5.5 -1.9z"/><path fill="#950000" d="M930.5 1657.6l5.6 2.7l4.4 0l-5.6 -3z"/><path fill="#000080" d="M844.9 1894.0l5.6 1.7l4.4 -49.7l-5.5 -2.2z"/><path fill="#ff4200" d="M992.9 1700.6l5.5 6.3l4.5 4.6l-5.6 -6.8z"/><path fill="#8e0000" d="M920.5 1655.8l5.5 2.3l4.5 -.5l-5.6 -2.5z"/><path fill="#fff700" d="M1035.2 1744.6l5.6 4.1l4.4 4.3l-5.6 -3.9z"/><path fill="#ea0000" d="M971.7 1679.2l5.6 5.9l4.4 2.5l-5.6 -6.4z"/><path fill="#1cffe3" d="M1182.2 1802.1l5.6 1.7l4.4 .3l-5.6 -1.8z"/><path fill="#d6ff29" d="M1050.8 1756.5l5.6 3.1l4.4 3.4l-5.6 -2.9z"/><path fill="#14ffeb" d="M1192.2 1804.1l5.6 1.7l4.4 .2l-5.6 -1.8z"/><path fill="#24ffdb" d="M1172.2 1800.0l5.5 1.8l4.5 .3l-5.6 -1.7z"/><path fill="#0cfff3" d="M1202.2 1806.0l5.6 1.7l4.4 .1l-5.5 -1.7z"/><path fill="#2dffd2" d="M1162.1 1797.8l5.6 1.8l4.5 .4l-5.6 -1.7z"/><path fill="#05fffa" d="M1212.2 1807.8l5.6 1.8l4.5 0l-5.6 -1.8z"/><path fill="#bc0000" d="M956.1 1668.0l5.6 4.6l4.4 1.1l-5.5 -5z"/><path fill="#00fdff" d="M1222.3 1809.6l5.5 1.7l4.5 0l-5.6 -1.8z"/><path fill="#37ffc8" d="M1152.1 1795.5l5.6 1.7l4.4 .6l-5.5 -1.7z"/><path fill="#9cff63" d="M1076.4 1770.8l5.6 2.2l4.4 2.3l-5.5 -2.1z"/><path fill="#00f7ff" d="M1232.3 1811.3l5.6 1.7l4.4 -.1l-5.6 -1.8z"/><path fill="#41ffbe" d="M1142.1 1793.0l5.6 1.8l4.4 .7l-5.6 -1.8z"/><path fill="#ffb600" d="M1019.6 1729.4l5.6 5.1l4.4 5.5l-5.5 -5.1z"/><path fill="#4cffb3" d="M1132.1 1790.4l5.6 1.7l4.4 .9l-5.6 -1.7z"/><path fill="#0079ff" d="M815.9 1832.4l5.6 1.8l4.4 -67.2l-5.5 -1.9z"/><path fill="#ff5900" d="M998.4 1706.9l5.6 5.9l4.5 5.1l-5.6 -6.4z"/><path fill="#59ffa6" d="M1122.1 1787.5l5.5 1.8l4.5 1.1l-5.6 -1.8z"/><path fill="#830000" d="M886.0 1653.9l5.5 1.8l4.5 -1.1l-5.6 -1.9z"/><path fill="#fe0000" d="M977.3 1685.1l5.5 6l4.5 3.1l-5.6 -6.6z"/><path fill="#b3ff4c" d="M1066.4 1765.7l5.6 2.4l4.4 2.7l-5.6 -2.3z"/><path fill="#66ff99" d="M1112.0 1784.4l5.6 1.8l4.5 1.3l-5.6 -1.8z"/><path fill="#a80000" d="M946.1 1663.6l5.6 3.7l4.4 .7l-5.6 -4.1z"/><path fill="#850000" d="M896.0 1654.6l5.6 2l4.4 -1.1l-5.6 -2z"/><path fill="#75ff8a" d="M1102.0 1781.0l5.6 1.8l4.4 1.6l-5.5 -1.8z"/><path fill="#cb0000" d="M961.7 1672.6l5.6 5.1l4.4 1.5l-5.6 -5.5z"/><path fill="#fbff04" d="M1040.8 1748.7l5.5 3.6l4.5 4.2l-5.6 -3.5z"/><path fill="#880000" d="M906.0 1655.5l5.6 2l4.4 -.9l-5.5 -2.1z"/><path fill="#9a0000" d="M936.1 1660.3l5.5 3.1l4.5 .2l-5.6 -3.3z"/><path fill="#8b0000" d="M916.0 1656.6l5.6 2.2l4.4 -.7l-5.5 -2.3z"/><path fill="#910000" d="M926.0 1658.1l5.6 2.6l4.5 -.4l-5.6 -2.7z"/><path fill="#ff6e00" d="M1004.0 1712.8l5.6 5.6l4.4 5.5l-5.5 -6z"/><path fill="#86ff79" d="M1092.0 1777.2l5.6 1.9l4.4 1.9l-5.6 -1.9z"/><path fill="#ffc700" d="M1025.2 1734.5l5.5 4.7l4.5 5.4l-5.6 -4.6z"/><path fill="#000080" d="M850.5 1895.7l5.6 1.8l4.4 -49.3l-5.6 -2.2z"/><path fill="#ff1400" d="M982.8 1691.1l5.6 5.8l4.5 3.7l-5.6 -6.4z"/><path fill="#d0ff2f" d="M1056.4 1759.6l5.5 2.8l4.5 3.3l-5.6 -2.7z"/><path fill="#1cffe3" d="M1187.8 1803.8l5.5 1.8l4.5 .2l-5.6 -1.7z"/><path fill="#14ffeb" d="M1197.8 1805.8l5.5 1.8l4.5 .1l-5.6 -1.7z"/><path fill="#24ffdb" d="M1177.7 1801.8l5.6 1.7l4.5 .3l-5.6 -1.7z"/><path fill="#0cfff3" d="M1207.8 1807.7l5.6 1.8l4.4 .1l-5.6 -1.8z"/><path fill="#9aff65" d="M1082.0 1773.0l5.5 2l4.5 2.2l-5.6 -1.9z"/><path fill="#2dffd2" d="M1167.7 1799.6l5.6 1.7l4.4 .5l-5.5 -1.8z"/><path fill="#05fffa" d="M1217.8 1809.6l5.6 1.7l4.4 0l-5.5 -1.7z"/><path fill="#00fdff" d="M1227.8 1811.3l5.6 1.8l4.5 -.1l-5.6 -1.7z"/><path fill="#37ffc8" d="M1157.7 1797.2l5.6 1.8l4.4 .6l-5.6 -1.8z"/><path fill="#41ffbe" d="M1147.7 1794.8l5.5 1.7l4.5 .7l-5.6 -1.7z"/><path fill="#b20000" d="M951.7 1667.3l5.5 4.2l4.5 1.1l-5.6 -4.6z"/><path fill="#db0000" d="M967.3 1677.7l5.5 5.3l4.5 2.1l-5.6 -5.9z"/><path fill="#4cffb3" d="M1137.7 1792.1l5.5 1.8l4.5 .9l-5.6 -1.8z"/><path fill="#0079ff" d="M821.5 1834.2l5.6 1.8l4.4 -67.1l-5.6 -1.9z"/><path fill="#830000" d="M881.5 1655.1l5.6 1.8l4.4 -1.2l-5.5 -1.8z"/><path fill="#ff8100" d="M1009.6 1718.4l5.6 5.3l4.4 5.7l-5.6 -5.5z"/><path fill="#59ffa6" d="M1127.6 1789.3l5.6 1.7l4.5 1.1l-5.6 -1.7z"/><path fill="#ff2900" d="M988.4 1696.9l5.6 5.7l4.4 4.3l-5.5 -6.3z"/><path fill="#b0ff4f" d="M1072.0 1768.1l5.5 2.2l4.5 2.7l-5.6 -2.2z"/><path fill="#840000" d="M891.5 1655.7l5.6 2l4.5 -1.1l-5.6 -2z"/><path fill="#66ff99" d="M1117.6 1786.2l5.6 1.8l4.4 1.3l-5.5 -1.8z"/><path fill="#f2ff0d" d="M1046.3 1752.3l5.6 3.3l4.5 4l-5.6 -3.1z"/><path fill="#a00000" d="M941.6 1663.4l5.6 3.5l4.5 .4l-5.6 -3.7z"/><path fill="#ffd500" d="M1030.7 1739.2l5.6 4.2l4.5 5.3l-5.6 -4.1z"/><path fill="#860000" d="M901.6 1656.6l5.5 2l4.5 -1.1l-5.6 -2z"/><path fill="#75ff8a" d="M1107.6 1782.8l5.6 1.8l4.4 1.6l-5.6 -1.8z"/><path fill="#890000" d="M911.6 1657.5l5.6 2.3l4.4 -1l-5.6 -2.2z"/><path fill="#950000" d="M931.6 1660.7l5.6 2.9l4.4 -.2l-5.5 -3.1z"/><path fill="#8e0000" d="M921.6 1658.8l5.6 2.5l4.4 -.6l-5.6 -2.6z"/><path fill="#ed0000" d="M972.8 1683.0l5.6 5.5l4.4 2.6l-5.5 -6z"/><path fill="#caff35" d="M1061.9 1762.4l5.6 2.5l4.5 3.2l-5.6 -2.4z"/><path fill="#85ff7a" d="M1097.6 1779.1l5.5 1.9l4.5 1.8l-5.6 -1.8z"/><path fill="#bf0000" d="M957.2 1671.5l5.6 4.7l4.5 1.5l-5.6 -5.1z"/><path fill="#000080" d="M856.1 1897.5l5.5 1.7l4.5 -48.7l-5.6 -2.3z"/><path fill="#ff3d00" d="M994.0 1702.6l5.6 5.5l4.4 4.7l-5.6 -5.9z"/><path fill="#ff9300" d="M1015.2 1723.7l5.5 5l4.5 5.8l-5.6 -5.1z"/><path fill="#1cffe3" d="M1193.3 1805.6l5.6 1.7l4.4 .3l-5.5 -1.8z"/><path fill="#14ffeb" d="M1203.3 1807.6l5.6 1.7l4.5 .2l-5.6 -1.8z"/><path fill="#98ff67" d="M1087.5 1775.0l5.6 1.9l4.5 2.2l-5.6 -1.9z"/><path fill="#24ffdb" d="M1183.3 1803.5l5.6 1.7l4.4 .4l-5.5 -1.8z"/><path fill="#0cfff3" d="M1213.4 1809.5l5.5 1.7l4.5 .1l-5.6 -1.7z"/><path fill="#2dffd2" d="M1173.3 1801.3l5.6 1.7l4.4 .5l-5.6 -1.7z"/><path fill="#05fffa" d="M1223.4 1811.3l5.6 1.7l4.4 .1l-5.6 -1.8z"/><path fill="#820000" d="M877.1 1656.3l5.5 1.8l4.5 -1.2l-5.6 -1.8z"/><path fill="#37ffc8" d="M1163.3 1799.0l5.5 1.7l4.5 .6l-5.6 -1.7z"/><path fill="#41ffbe" d="M1153.2 1796.5l5.6 1.7l4.5 .8l-5.6 -1.8z"/><path fill="#4cffb3" d="M1143.2 1793.9l5.6 1.7l4.4 .9l-5.5 -1.7z"/><path fill="#a90000" d="M947.2 1666.9l5.6 3.9l4.4 .7l-5.5 -4.2z"/><path fill="#0078ff" d="M827.1 1836.0l5.5 1.9l4.5 -67l-5.6 -2z"/><path fill="#ffe100" d="M1036.3 1743.4l5.6 3.8l4.4 5.1l-5.5 -3.6z"/><path fill="#830000" d="M887.1 1656.9l5.6 2l4.4 -1.2l-5.6 -2z"/><path fill="#ff0100" d="M978.4 1688.5l5.6 5.3l4.4 3.1l-5.6 -5.8z"/><path fill="#eaff15" d="M1051.9 1755.6l5.6 3l4.4 3.8l-5.5 -2.8z"/><path fill="#58ffa7" d="M1133.2 1791.0l5.6 1.8l4.4 1.1l-5.5 -1.8z"/><path fill="#adff52" d="M1077.5 1770.3l5.6 2.1l4.4 2.6l-5.5 -2z"/><path fill="#850000" d="M897.1 1657.7l5.6 2l4.4 -1.1l-5.5 -2z"/><path fill="#ff4f00" d="M999.6 1708.1l5.5 5.1l4.5 5.2l-5.6 -5.6z"/><path fill="#cd0000" d="M962.8 1676.2l5.6 4.9l4.4 1.9l-5.5 -5.3z"/><path fill="#66ff99" d="M1123.2 1788.0l5.6 1.7l4.4 1.3l-5.6 -1.7z"/><path fill="#9b0000" d="M937.2 1663.6l5.6 3.2l4.4 .1l-5.6 -3.5z"/><path fill="#880000" d="M907.1 1658.6l5.6 2.2l4.5 -1l-5.6 -2.3z"/><path fill="#ffa300" d="M1020.7 1728.7l5.6 4.6l4.4 5.9l-5.5 -4.7z"/><path fill="#8c0000" d="M917.1 1659.8l5.5 2.4l4.5 -.9l-5.6 -2.5z"/><path fill="#910000" d="M927.2 1661.3l5.5 2.8l4.5 -.5l-5.6 -2.9z"/><path fill="#75ff8a" d="M1113.2 1784.6l5.5 1.8l4.5 1.6l-5.6 -1.8z"/><path fill="#c6ff39" d="M1067.5 1764.9l5.6 2.4l4.4 3l-5.5 -2.2z"/><path fill="#000080" d="M861.6 1899.2l5.6 1.8l4.4 -48.2l-5.5 -2.3z"/><path fill="#85ff7a" d="M1103.1 1781.0l5.6 1.8l4.5 1.8l-5.6 -1.8z"/><path fill="#ff1300" d="M984.0 1693.8l5.5 5.2l4.5 3.6l-5.6 -5.7z"/><path fill="#810000" d="M872.6 1657.5l5.6 1.9l4.4 -1.3l-5.5 -1.8z"/><path fill="#b40000" d="M952.8 1670.8l5.6 4.3l4.4 1.1l-5.6 -4.7z"/><path fill="#ff6000" d="M1005.1 1713.2l5.6 5l4.5 5.5l-5.6 -5.3z"/><path fill="#dd0000" d="M968.4 1681.1l5.5 5l4.5 2.4l-5.6 -5.5z"/><path fill="#ffec00" d="M1041.9 1747.2l5.6 3.4l4.4 5l-5.6 -3.3z"/><path fill="#97ff68" d="M1093.1 1776.9l5.6 1.9l4.4 2.2l-5.5 -1.9z"/><path fill="#1cffe3" d="M1198.9 1807.3l5.6 1.8l4.4 .2l-5.6 -1.7z"/><path fill="#14ffeb" d="M1208.9 1809.3l5.6 1.7l4.4 .2l-5.5 -1.7z"/><path fill="#24ffdb" d="M1188.9 1805.2l5.6 1.8l4.4 .3l-5.6 -1.7z"/><path fill="#0cfff3" d="M1218.9 1811.2l5.6 1.7l4.5 .1l-5.6 -1.7z"/><path fill="#830000" d="M882.6 1658.1l5.6 2l4.5 -1.2l-5.6 -2z"/><path fill="#2dffd2" d="M1178.9 1803.0l5.5 1.8l4.5 .4l-5.6 -1.7z"/><path fill="#37ffc8" d="M1168.8 1800.7l5.6 1.8l4.5 .5l-5.6 -1.7z"/><path fill="#41ffbe" d="M1158.8 1798.2l5.6 1.8l4.4 .7l-5.5 -1.7z"/><path fill="#ffb100" d="M1026.3 1733.3l5.6 4.2l4.4 5.9l-5.6 -4.2z"/><path fill="#e4ff1b" d="M1057.5 1758.6l5.6 2.7l4.4 3.6l-5.6 -2.5z"/><path fill="#0078ff" d="M832.6 1837.9l5.6 1.9l4.5 -66.8l-5.6 -2.1z"/><path fill="#840000" d="M892.7 1658.9l5.5 2l4.5 -1.2l-5.6 -2z"/><path fill="#4cffb3" d="M1148.8 1795.6l5.6 1.7l4.4 .9l-5.6 -1.7z"/><path fill="#a20000" d="M942.8 1666.8l5.5 3.7l4.5 .3l-5.6 -3.9z"/><path fill="#acff53" d="M1083.1 1772.4l5.6 2.1l4.4 2.4l-5.6 -1.9z"/><path fill="#58ffa7" d="M1138.8 1792.8l5.5 1.7l4.5 1.1l-5.6 -1.7z"/><path fill="#870000" d="M902.7 1659.7l5.6 2.2l4.4 -1.1l-5.6 -2.2z"/><path fill="#ff2400" d="M989.5 1699.0l5.6 4.9l4.5 4.2l-5.6 -5.5z"/><path fill="#970000" d="M932.7 1664.1l5.6 3.2l4.5 -.5l-5.6 -3.2z"/><path fill="#8a0000" d="M912.7 1660.8l5.6 2.4l4.4 -1l-5.5 -2.4z"/><path fill="#66ff99" d="M1128.8 1789.7l5.5 1.8l4.5 1.3l-5.6 -1.8z"/><path fill="#8f0000" d="M922.7 1662.2l5.6 2.7l4.4 -.8l-5.5 -2.8z"/><path fill="#ed0000" d="M973.9 1686.1l5.6 4.9l4.5 2.8l-5.6 -5.3z"/><path fill="#ff7000" d="M1010.7 1718.2l5.6 4.6l4.4 5.9l-5.5 -5z"/><path fill="#c10000" d="M958.4 1675.1l5.5 4.5l4.5 1.5l-5.6 -4.9z"/><path fill="#74ff8b" d="M1118.7 1786.4l5.6 1.8l4.5 1.5l-5.6 -1.7z"/><path fill="#c3ff3c" d="M1073.1 1767.3l5.6 2.2l4.4 2.9l-5.6 -2.1z"/><path fill="#810000" d="M868.2 1658.8l5.5 1.8l4.5 -1.2l-5.6 -1.9z"/><path fill="#000080" d="M867.2 1901.0l5.6 1.7l4.4 -47.7l-5.6 -2.2z"/><path fill="#84ff7b" d="M1108.7 1782.8l5.6 1.8l4.4 1.8l-5.5 -1.8z"/><path fill="#fff400" d="M1047.5 1750.6l5.5 3.2l4.5 4.8l-5.6 -3z"/><path fill="#820000" d="M878.2 1659.4l5.6 1.9l4.4 -1.2l-5.6 -2z"/><path fill="#ffbd00" d="M1031.9 1737.5l5.5 3.9l4.5 5.8l-5.6 -3.8z"/><path fill="#ff3400" d="M995.1 1703.9l5.6 4.7l4.4 4.6l-5.5 -5.1z"/><path fill="#ac0000" d="M948.3 1670.5l5.6 4.1l4.5 .5l-5.6 -4.3z"/><path fill="#96ff69" d="M1098.7 1778.8l5.6 1.9l4.4 2.1l-5.6 -1.8z"/><path fill="#830000" d="M888.2 1660.1l5.6 2l4.4 -1.2l-5.5 -2z"/><path fill="#1cffe3" d="M1204.5 1809.1l5.5 1.7l4.5 .2l-5.6 -1.7z"/><path fill="#14ffeb" d="M1214.5 1811.0l5.6 1.8l4.4 .1l-5.6 -1.7z"/><path fill="#24ffdb" d="M1194.5 1807.0l5.5 1.7l4.5 .4l-5.6 -1.8z"/><path fill="#2dffd2" d="M1184.4 1804.8l5.6 1.7l4.5 .5l-5.6 -1.8z"/><path fill="#dfff20" d="M1063.1 1761.3l5.5 2.5l4.5 3.5l-5.6 -2.4z"/><path fill="#37ffc8" d="M1174.4 1802.5l5.6 1.7l4.4 .6l-5.5 -1.8z"/><path fill="#41ffbe" d="M1164.4 1800.0l5.6 1.7l4.4 .8l-5.6 -1.8z"/><path fill="#fd0000" d="M979.5 1691.0l5.6 4.7l4.4 3.3l-5.5 -5.2z"/><path fill="#860000" d="M898.2 1660.9l5.6 2.2l4.5 -1.2l-5.6 -2.2z"/><path fill="#0077ff" d="M838.2 1839.8l5.6 1.9l4.4 -66.4l-5.5 -2.3z"/><path fill="#cf0000" d="M963.9 1679.6l5.6 4.7l4.4 1.8l-5.5 -5z"/><path fill="#ff7f00" d="M1016.3 1722.8l5.6 4.5l4.4 6l-5.6 -4.6z"/><path fill="#9e0000" d="M938.3 1667.3l5.6 3.5l4.4 -.3l-5.5 -3.7z"/><path fill="#4cffb3" d="M1154.4 1797.3l5.5 1.8l4.5 .9l-5.6 -1.8z"/><path fill="#890000" d="M908.3 1661.9l5.5 2.4l4.5 -1.1l-5.6 -2.4z"/><path fill="#aaff55" d="M1088.7 1774.5l5.5 1.9l4.5 2.4l-5.6 -1.9z"/><path fill="#940000" d="M928.3 1664.9l5.6 3.1l4.4 -.7l-5.6 -3.2z"/><path fill="#8d0000" d="M918.3 1663.2l5.5 2.7l4.5 -1l-5.6 -2.7z"/><path fill="#58ffa7" d="M1144.3 1794.5l5.6 1.8l4.5 1l-5.6 -1.7z"/><path fill="#66ff99" d="M1134.3 1791.5l5.6 1.7l4.4 1.3l-5.5 -1.7z"/><path fill="#810000" d="M863.7 1660.1l5.6 1.8l4.4 -1.3l-5.5 -1.8z"/><path fill="#ff4200" d="M1000.7 1708.6l5.6 4.5l4.4 5.1l-5.6 -5z"/><path fill="#74ff8b" d="M1124.3 1788.2l5.6 1.8l4.4 1.5l-5.5 -1.8z"/><path fill="#c1ff3e" d="M1078.7 1769.5l5.5 2.1l4.5 2.9l-5.6 -2.1z"/><path fill="#b80000" d="M953.9 1674.6l5.6 4.3l4.4 .7l-5.5 -4.5z"/><path fill="#ffc800" d="M1037.4 1741.4l5.6 3.5l4.5 5.7l-5.6 -3.4z"/><path fill="#fffb00" d="M1053.0 1753.8l5.6 2.8l4.5 4.7l-5.6 -2.7z"/><path fill="#820000" d="M873.7 1660.6l5.6 2l4.5 -1.3l-5.6 -1.9z"/><path fill="#000080" d="M872.8 1902.7l5.5 1.8l4.5 -47.3l-5.6 -2.2z"/><path fill="#84ff7b" d="M1114.3 1784.6l5.6 1.8l4.4 1.8l-5.6 -1.8z"/><path fill="#c3ff3c" d="M814.8 1763.3l5.6 1.8l4.4 -37.8l-5.6 -1.9z"/><path fill="#ff0c00" d="M985.1 1695.7l5.6 4.4l4.4 3.8l-5.6 -4.9z"/><path fill="#dd0000" d="M969.5 1684.3l5.6 4.4l4.4 2.3l-5.6 -4.9z"/><path fill="#830000" d="M883.8 1661.3l5.5 2l4.5 -1.2l-5.6 -2z"/><path fill="#ff8c00" d="M1021.9 1727.3l5.5 4.1l4.5 6.1l-5.6 -4.2z"/><path fill="#a70000" d="M943.9 1670.8l5.6 4l4.4 -.2l-5.6 -4.1z"/><path fill="#850000" d="M893.8 1662.1l5.6 2.2l4.4 -1.2l-5.6 -2.2z"/><path fill="#96ff69" d="M1104.3 1780.7l5.5 1.8l4.5 2.1l-5.6 -1.8z"/><path fill="#dbff24" d="M1068.6 1763.8l5.6 2.3l4.5 3.4l-5.6 -2.2z"/><path fill="#1cffe3" d="M1210.0 1810.8l5.6 1.7l4.5 .3l-5.6 -1.8z"/><path fill="#24ffdb" d="M1200.0 1808.7l5.6 1.8l4.4 .3l-5.5 -1.7z"/><path fill="#2dffd2" d="M1190.0 1806.5l5.6 1.8l4.4 .4l-5.5 -1.7z"/><path fill="#880000" d="M903.8 1663.1l5.6 2.4l4.4 -1.2l-5.5 -2.4z"/><path fill="#37ffc8" d="M1180.0 1804.2l5.6 1.7l4.4 .6l-5.6 -1.7z"/><path fill="#0076ff" d="M843.8 1841.7l5.6 2.1l4.4 -66l-5.6 -2.5z"/><path fill="#9b0000" d="M933.9 1668.0l5.5 3.5l4.5 -.7l-5.6 -3.5z"/><path fill="#41ffbe" d="M1170.0 1801.7l5.5 1.8l4.5 .7l-5.6 -1.7z"/><path fill="#8c0000" d="M913.8 1664.3l5.6 2.7l4.4 -1.1l-5.5 -2.7z"/><path fill="#920000" d="M923.8 1665.9l5.6 3.1l4.5 -1l-5.6 -3.1z"/><path fill="#ff5000" d="M1006.3 1713.1l5.5 4.4l4.5 5.3l-5.6 -4.6z"/><path fill="#4cffb3" d="M1159.9 1799.1l5.6 1.7l4.5 .9l-5.6 -1.7z"/><path fill="#a9ff56" d="M1094.2 1776.4l5.6 1.9l4.5 2.4l-5.6 -1.9z"/><path fill="#c40000" d="M959.5 1678.9l5.6 4.4l4.4 1l-5.6 -4.7z"/><path fill="#58ffa7" d="M1149.9 1796.3l5.6 1.7l4.4 1.1l-5.5 -1.8z"/><path fill="#810000" d="M859.3 1661.4l5.5 1.9l4.5 -1.4l-5.6 -1.8z"/><path fill="#ff1a00" d="M990.7 1700.1l5.5 4.2l4.5 4.3l-5.6 -4.7z"/><path fill="#66ff99" d="M1139.9 1793.2l5.6 1.8l4.4 1.3l-5.6 -1.8z"/><path fill="#ffd100" d="M1043.0 1744.9l5.6 3.3l4.4 5.6l-5.5 -3.2z"/><path fill="#eb0000" d="M975.1 1688.7l5.5 4.2l4.5 2.8l-5.6 -4.7z"/><path fill="#810000" d="M869.3 1661.9l5.6 2l4.4 -1.3l-5.6 -2z"/><path fill="#bfff40" d="M1084.2 1771.6l5.6 2l4.4 2.8l-5.5 -1.9z"/><path fill="#fdff02" d="M1058.6 1756.6l5.6 2.6l4.4 4.6l-5.5 -2.5z"/><path fill="#74ff8b" d="M1129.9 1790.0l5.6 1.7l4.4 1.5l-5.6 -1.7z"/><path fill="#ff9800" d="M1027.4 1731.4l5.6 3.9l4.4 6.1l-5.5 -3.9z"/><path fill="#b20000" d="M949.5 1674.8l5.5 4.1l4.5 0l-5.6 -4.3z"/><path fill="#820000" d="M879.3 1662.6l5.6 2l4.4 -1.3l-5.5 -2z"/><path fill="#000080" d="M878.3 1904.5l5.6 1.7l4.5 -46.9l-5.6 -2.1z"/><path fill="#c3ff3c" d="M820.4 1765.1l5.5 1.9l4.5 -37.8l-5.6 -1.9z"/><path fill="#84ff7b" d="M1119.9 1786.4l5.5 1.8l4.5 1.8l-5.6 -1.8z"/><path fill="#840000" d="M889.3 1663.3l5.6 2.2l4.5 -1.2l-5.6 -2.2z"/><path fill="#a40000" d="M939.4 1671.5l5.6 3.9l4.5 -.6l-5.6 -4z"/><path fill="#ff5d00" d="M1011.8 1717.5l5.6 4.1l4.5 5.7l-5.6 -4.5z"/><path fill="#870000" d="M899.4 1664.3l5.5 2.4l4.5 -1.2l-5.6 -2.4z"/><path fill="#d9ff26" d="M1074.2 1766.1l5.6 2.2l4.4 3.3l-5.5 -2.1z"/><path fill="#990000" d="M929.4 1669.0l5.6 3.5l4.4 -1l-5.5 -3.5z"/><path fill="#95ff6a" d="M1109.8 1782.5l5.6 1.8l4.5 2.1l-5.6 -1.8z"/><path fill="#d10000" d="M965.1 1683.3l5.5 4.1l4.5 1.3l-5.6 -4.4z"/><path fill="#8b0000" d="M909.4 1665.5l5.6 2.7l4.4 -1.2l-5.6 -2.7z"/><path fill="#910000" d="M919.4 1667.0l5.6 3.1l4.4 -1.1l-5.6 -3.1z"/><path fill="#0074ff" d="M849.4 1843.8l5.5 2.2l4.5 -65.5l-5.6 -2.7z"/><path fill="#24ffdb" d="M1205.6 1810.5l5.6 1.7l4.4 .3l-5.6 -1.7z"/><path fill="#2dffd2" d="M1195.6 1808.3l5.5 1.7l4.5 .5l-5.6 -1.8z"/><path fill="#37ffc8" d="M1185.6 1805.9l5.5 1.8l4.5 .6l-5.6 -1.8z"/><path fill="#ff2600" d="M996.2 1704.3l5.6 4.1l4.5 4.7l-5.6 -4.5z"/><path fill="#810000" d="M854.8 1662.9l5.6 1.9l4.4 -1.5l-5.5 -1.9z"/><path fill="#41ffbe" d="M1175.5 1803.5l5.6 1.7l4.5 .7l-5.6 -1.7z"/><path fill="#f70000" d="M980.6 1692.9l5.6 4l4.5 3.2l-5.6 -4.4z"/><path fill="#4cffb3" d="M1165.5 1800.8l5.6 1.8l4.4 .9l-5.5 -1.8z"/><path fill="#a8ff57" d="M1099.8 1778.3l5.6 1.9l4.4 2.3l-5.5 -1.8z"/><path fill="#ffd800" d="M1048.6 1748.2l5.6 2.9l4.4 5.5l-5.6 -2.8z"/><path fill="#58ffa7" d="M1155.5 1798.0l5.6 1.8l4.4 1l-5.6 -1.7z"/><path fill="#810000" d="M864.8 1663.3l5.6 1.9l4.5 -1.3l-5.6 -2z"/><path fill="#be0000" d="M955.0 1678.9l5.6 4.2l4.5 .2l-5.6 -4.4z"/><path fill="#ffa300" d="M1033.0 1735.3l5.6 3.6l4.4 6l-5.6 -3.5z"/><path fill="#66ff99" d="M1145.5 1795.0l5.5 1.7l4.5 1.3l-5.6 -1.7z"/><path fill="#f9ff06" d="M1064.2 1759.2l5.6 2.5l4.4 4.4l-5.6 -2.3z"/><path fill="#820000" d="M874.9 1663.9l5.5 2l4.5 -1.3l-5.6 -2z"/><path fill="#beff41" d="M1089.8 1773.6l5.6 2l4.4 2.7l-5.6 -1.9z"/><path fill="#ff6900" d="M1017.4 1721.6l5.6 4l4.4 5.8l-5.5 -4.1z"/><path fill="#ae0000" d="M945.0 1675.4l5.6 4.1l4.4 -.6l-5.5 -4.1z"/><path fill="#74ff8b" d="M1135.5 1791.7l5.5 1.8l4.5 1.5l-5.6 -1.8z"/><path fill="#840000" d="M884.9 1664.6l5.6 2.2l4.4 -1.3l-5.6 -2.2z"/><path fill="#000080" d="M883.9 1906.2l5.6 1.7l4.4 -46.7l-5.5 -1.9z"/><path fill="#dd0000" d="M970.6 1687.4l5.6 3.9l4.4 1.6l-5.5 -4.2z"/><path fill="#870000" d="M894.9 1665.5l5.6 2.4l4.4 -1.2l-5.5 -2.4z"/><path fill="#c2ff3d" d="M825.9 1767.0l5.6 1.9l4.5 -37.8l-5.6 -1.9z"/><path fill="#a10000" d="M935.0 1672.5l5.6 3.8l4.4 -.9l-5.6 -3.9z"/><path fill="#84ff7b" d="M1125.4 1788.2l5.6 1.7l4.5 1.8l-5.6 -1.7z"/><path fill="#ff3200" d="M1001.8 1708.4l5.6 3.9l4.4 5.2l-5.5 -4.4z"/><path fill="#8a0000" d="M904.9 1666.7l5.6 2.7l4.5 -1.2l-5.6 -2.7z"/><path fill="#970000" d="M925.0 1670.1l5.5 3.4l4.5 -1l-5.6 -3.5z"/><path fill="#900000" d="M915.0 1668.2l5.5 3l4.5 -1.1l-5.6 -3.1z"/><path fill="#ff0300" d="M986.2 1696.9l5.6 3.7l4.4 3.7l-5.5 -4.2z"/><path fill="#830000" d="M850.4 1664.7l5.6 1.8l4.4 -1.7l-5.6 -1.9z"/><path fill="#d6ff29" d="M1079.8 1768.3l5.5 2.1l4.5 3.2l-5.6 -2z"/><path fill="#0072ff" d="M854.9 1846.0l5.6 2.2l4.4 -64.8l-5.5 -2.9z"/><path fill="#95ff6a" d="M1115.4 1784.3l5.6 1.8l4.4 2.1l-5.5 -1.8z"/><path fill="#ca0000" d="M960.6 1683.1l5.6 4l4.4 .3l-5.5 -4.1z"/><path fill="#2dffd2" d="M1201.1 1810.0l5.6 1.8l4.5 .4l-5.6 -1.7z"/><path fill="#37ffc8" d="M1191.1 1807.7l5.6 1.7l4.4 .6l-5.5 -1.7z"/><path fill="#820000" d="M860.4 1664.8l5.6 1.9l4.4 -1.5l-5.6 -1.9z"/><path fill="#ffac00" d="M1038.6 1738.9l5.5 3.3l4.5 6l-5.6 -3.3z"/><path fill="#41ffbe" d="M1181.1 1805.2l5.6 1.8l4.4 .7l-5.5 -1.8z"/><path fill="#ffdf00" d="M1054.2 1751.1l5.5 2.8l4.5 5.3l-5.6 -2.6z"/><path fill="#4cffb3" d="M1171.1 1802.6l5.6 1.7l4.4 .9l-5.6 -1.7z"/><path fill="#a8ff57" d="M1105.4 1780.2l5.6 1.8l4.4 2.3l-5.6 -1.8z"/><path fill="#ba0000" d="M950.6 1679.5l5.6 4.1l4.4 -.5l-5.6 -4.2z"/><path fill="#820000" d="M870.4 1665.2l5.6 2l4.4 -1.3l-5.5 -2z"/><path fill="#ff7500" d="M1023.0 1725.6l5.6 3.8l4.4 5.9l-5.6 -3.9z"/><path fill="#58ffa7" d="M1161.1 1799.8l5.5 1.7l4.5 1.1l-5.6 -1.8z"/><path fill="#f6ff09" d="M1069.8 1761.7l5.5 2.3l4.5 4.3l-5.6 -2.2z"/><path fill="#e80000" d="M976.2 1691.3l5.6 3.5l4.4 2.1l-5.6 -4z"/><path fill="#66ff99" d="M1151.0 1796.7l5.6 1.8l4.5 1.3l-5.6 -1.8z"/><path fill="#840000" d="M880.4 1665.9l5.6 2.2l4.5 -1.3l-5.6 -2.2z"/><path fill="#ac0000" d="M940.6 1676.3l5.5 4l4.5 -.8l-5.6 -4.1z"/><path fill="#ff3d00" d="M1007.4 1712.3l5.6 3.9l4.4 5.4l-5.6 -4.1z"/><path fill="#ff8400" d="M819.2 1725.4l5.6 1.9l4.5 -22.6l-5.6 -1.8z"/><path fill="#bdff42" d="M1095.4 1775.6l5.5 1.9l4.5 2.7l-5.6 -1.9z"/><path fill="#860000" d="M890.5 1666.8l5.5 2.4l4.5 -1.3l-5.6 -2.4z"/><path fill="#74ff8b" d="M1141.0 1793.5l5.6 1.7l4.4 1.5l-5.5 -1.7z"/><path fill="#a00000" d="M930.5 1673.5l5.6 3.8l4.5 -1l-5.6 -3.8z"/><path fill="#ff0d00" d="M991.8 1700.6l5.6 3.6l4.4 4.2l-5.6 -4.1z"/><path fill="#8a0000" d="M900.5 1667.9l5.6 2.7l4.4 -1.2l-5.6 -2.7z"/><path fill="#870000" d="M845.9 1666.7l5.6 1.8l4.5 -2l-5.6 -1.8z"/><path fill="#000080" d="M889.5 1907.9l5.6 1.8l4.4 -46.6l-5.6 -1.9z"/><path fill="#960000" d="M920.5 1671.2l5.6 3.5l4.4 -1.2l-5.5 -3.4z"/><path fill="#8f0000" d="M910.5 1669.4l5.6 3l4.4 -1.2l-5.5 -3z"/><path fill="#c2ff3d" d="M831.5 1768.9l5.6 2l4.4 -37.7l-5.5 -2.1z"/><path fill="#84ff7b" d="M1131.0 1789.9l5.6 1.8l4.4 1.8l-5.5 -1.8z"/><path fill="#d50000" d="M966.2 1687.1l5.6 3.6l4.4 .6l-5.6 -3.9z"/><path fill="#0070ff" d="M860.5 1848.2l5.6 2.3l4.4 -64.1l-5.6 -3z"/><path fill="#d5ff2a" d="M1085.3 1770.4l5.6 2l4.5 3.2l-5.6 -2z"/><path fill="#840000" d="M856.0 1666.5l5.5 2l4.5 -1.8l-5.6 -1.9z"/><path fill="#ffb400" d="M1044.1 1742.2l5.6 3.1l4.5 5.8l-5.6 -2.9z"/><path fill="#95ff6a" d="M1121.0 1786.1l5.6 1.8l4.4 2l-5.6 -1.7z"/><path fill="#c50000" d="M956.2 1683.6l5.5 3.8l4.5 -.3l-5.6 -4z"/><path fill="#ffe400" d="M1059.7 1753.9l5.6 2.5l4.5 5.3l-5.6 -2.5z"/><path fill="#ff7f00" d="M1028.5 1729.4l5.5 3.6l4.5 5.9l-5.6 -3.6z"/><path fill="#830000" d="M866.0 1666.7l5.5 2l4.5 -1.5l-5.6 -2z"/><path fill="#37ffc8" d="M1196.7 1809.4l5.6 1.8l4.4 .6l-5.6 -1.8z"/><path fill="#41ffbe" d="M1186.7 1807.0l5.6 1.7l4.4 .7l-5.6 -1.7z"/><path fill="#b70000" d="M946.1 1680.3l5.6 4.1l4.5 -.8l-5.6 -4.1z"/><path fill="#f10000" d="M981.8 1694.8l5.5 3.3l4.5 2.5l-5.6 -3.7z"/><path fill="#a7ff58" d="M1111.0 1782.0l5.5 1.8l4.5 2.3l-5.6 -1.8z"/><path fill="#4cffb3" d="M1176.7 1804.3l5.5 1.8l4.5 .9l-5.6 -1.8z"/><path fill="#ff4700" d="M1013.0 1716.2l5.5 3.7l4.5 5.7l-5.6 -4z"/><path fill="#840000" d="M876.0 1667.2l5.6 2.2l4.4 -1.3l-5.6 -2.2z"/><path fill="#58ffa7" d="M1166.6 1801.5l5.6 1.8l4.5 1l-5.6 -1.7z"/><path fill="#aa0000" d="M936.1 1677.3l5.6 4.1l4.4 -1.1l-5.5 -4z"/><path fill="#ff1600" d="M997.4 1704.2l5.5 3.5l4.5 4.6l-5.6 -3.9z"/><path fill="#f3ff0c" d="M1075.3 1764.0l5.6 2.1l4.4 4.3l-5.5 -2.1z"/><path fill="#8b0000" d="M841.5 1668.9l5.6 1.8l4.4 -2.2l-5.6 -1.8z"/><path fill="#860000" d="M886.0 1668.1l5.6 2.4l4.4 -1.3l-5.5 -2.4z"/><path fill="#9f0000" d="M926.1 1674.7l5.6 3.8l4.4 -1.2l-5.6 -3.8z"/><path fill="#66ff99" d="M1156.6 1798.5l5.6 1.7l4.4 1.3l-5.5 -1.7z"/><path fill="#890000" d="M896.0 1669.2l5.6 2.7l4.5 -1.3l-5.6 -2.7z"/><path fill="#960000" d="M916.1 1672.4l5.5 3.5l4.5 -1.2l-5.6 -3.5z"/><path fill="#8f0000" d="M906.1 1670.6l5.5 3.1l4.5 -1.3l-5.6 -3z"/><path fill="#ff8500" d="M824.8 1727.3l5.6 1.9l4.4 -22.6l-5.5 -1.9z"/><path fill="#bcff43" d="M1100.9 1777.5l5.6 1.8l4.5 2.7l-5.6 -1.8z"/><path fill="#de0000" d="M971.8 1690.7l5.5 3.3l4.5 .8l-5.6 -3.5z"/><path fill="#74ff8b" d="M1146.6 1795.2l5.6 1.8l4.4 1.5l-5.6 -1.8z"/><path fill="#870000" d="M851.5 1668.5l5.6 2l4.4 -2l-5.5 -2z"/><path fill="#000080" d="M895.1 1909.7l5.5 1.7l4.5 -46.4l-5.6 -1.9z"/><path fill="#c0ff3f" d="M837.1 1770.9l5.6 2.1l4.4 -37.6l-5.6 -2.2z"/><path fill="#006dff" d="M866.1 1850.5l5.5 2.3l4.5 -63.3l-5.6 -3.1z"/><path fill="#84ff7b" d="M1136.6 1791.7l5.5 1.7l4.5 1.8l-5.6 -1.7z"/><path fill="#d00000" d="M961.7 1687.4l5.6 3.6l4.5 -.3l-5.6 -3.6z"/><path fill="#ff1a00" d="M823.7 1702.9l5.6 1.8l4.4 -14.2l-5.6 -1.9z"/><path fill="#ffbb00" d="M1049.7 1745.3l5.6 2.8l4.4 5.8l-5.5 -2.8z"/><path fill="#ff8800" d="M1034.1 1733.0l5.6 3.3l4.4 5.9l-5.5 -3.3z"/><path fill="#d3ff2c" d="M1090.9 1772.4l5.6 1.9l4.4 3.2l-5.5 -1.9z"/><path fill="#850000" d="M861.5 1668.5l5.6 2l4.4 -1.8l-5.5 -2z"/><path fill="#c30000" d="M951.7 1684.4l5.6 3.8l4.4 -.8l-5.5 -3.8z"/><path fill="#95ff6a" d="M1126.6 1787.9l5.5 1.8l4.5 2l-5.6 -1.8z"/><path fill="#ffe800" d="M1065.3 1756.4l5.6 2.4l4.4 5.2l-5.5 -2.3z"/><path fill="#f90000" d="M987.3 1698.1l5.6 3.1l4.5 3l-5.6 -3.6z"/><path fill="#ff5100" d="M1018.5 1719.9l5.6 3.7l4.5 5.8l-5.6 -3.8z"/><path fill="#940000" d="M837.0 1672.0l5.6 1.9l4.5 -3.2l-5.6 -1.8z"/><path fill="#b60000" d="M941.7 1681.4l5.6 4l4.4 -1l-5.6 -4.1z"/><path fill="#840000" d="M871.5 1668.7l5.6 2.2l4.5 -1.5l-5.6 -2.2z"/><path fill="#ff1f00" d="M1002.9 1707.7l5.6 3.5l4.5 5l-5.6 -3.9z"/><path fill="#41ffbe" d="M1192.3 1808.7l5.5 1.7l4.5 .8l-5.6 -1.8z"/><path fill="#a90000" d="M931.7 1678.5l5.5 4l4.5 -1.1l-5.6 -4.1z"/><path fill="#860000" d="M881.6 1669.4l5.5 2.4l4.5 -1.3l-5.6 -2.4z"/><path fill="#a7ff58" d="M1116.5 1783.8l5.6 1.8l4.5 2.3l-5.6 -1.8z"/><path fill="#4cffb3" d="M1182.2 1806.1l5.6 1.7l4.5 .9l-5.6 -1.7z"/><path fill="#9e0000" d="M921.6 1675.9l5.6 3.8l4.5 -1.2l-5.6 -3.8z"/><path fill="#890000" d="M891.6 1670.5l5.6 2.7l4.4 -1.3l-5.6 -2.7z"/><path fill="#f1ff0e" d="M1080.9 1766.1l5.6 2.1l4.4 4.2l-5.6 -2z"/><path fill="#950000" d="M911.6 1673.7l5.6 3.4l4.4 -1.2l-5.5 -3.5z"/><path fill="#58ffa7" d="M1172.2 1803.3l5.6 1.7l4.4 1.1l-5.5 -1.8z"/><path fill="#8e0000" d="M901.6 1671.9l5.6 3l4.4 -1.2l-5.5 -3.1z"/><path fill="#8b0000" d="M847.1 1670.7l5.5 2l4.5 -2.2l-5.6 -2z"/><path fill="#e60000" d="M977.3 1694.0l5.6 3l4.4 1.1l-5.5 -3.3z"/><path fill="#d90000" d="M828.1 1688.6l5.6 1.9l4.5 -11.6l-5.6 -1.8z"/><path fill="#66ff99" d="M1162.2 1800.2l5.6 1.8l4.4 1.3l-5.6 -1.8z"/><path fill="#a60000" d="M832.6 1677.1l5.6 1.8l4.4 -5l-5.6 -1.9z"/><path fill="#ff8600" d="M830.4 1729.2l5.6 1.9l4.4 -22.5l-5.6 -2z"/><path fill="#bbff44" d="M1106.5 1779.3l5.6 1.9l4.4 2.6l-5.5 -1.8z"/><path fill="#d90000" d="M967.3 1691.0l5.6 3.1l4.4 -.1l-5.5 -3.3z"/><path fill="#74ff8b" d="M1152.2 1797.0l5.5 1.7l4.5 1.5l-5.6 -1.7z"/><path fill="#beff41" d="M842.7 1773.0l5.5 2.3l4.5 -37.4l-5.6 -2.5z"/><path fill="#006aff" d="M871.6 1852.8l5.6 2.2l4.5 -62.6l-5.6 -2.9z"/><path fill="#880000" d="M857.1 1670.5l5.5 2l4.5 -2l-5.6 -2z"/><path fill="#000080" d="M900.6 1911.4l5.6 1.8l4.5 -46.4l-5.6 -1.8z"/><path fill="#ff9000" d="M1039.7 1736.3l5.6 3.1l4.4 5.9l-5.6 -3.1z"/><path fill="#cd0000" d="M957.3 1688.2l5.6 3.5l4.4 -.7l-5.6 -3.6z"/><path fill="#ffc000" d="M1055.3 1748.1l5.6 2.7l4.4 5.6l-5.6 -2.5z"/><path fill="#ff5b00" d="M1024.1 1723.6l5.6 3.5l4.4 5.9l-5.5 -3.6z"/><path fill="#83ff7c" d="M1142.1 1793.4l5.6 1.8l4.5 1.8l-5.6 -1.8z"/><path fill="#c10000" d="M947.3 1685.4l5.5 3.8l4.5 -1l-5.6 -3.8z"/><path fill="#ff0100" d="M992.9 1701.2l5.6 3.1l4.4 3.4l-5.5 -3.5z"/><path fill="#ff1b00" d="M829.3 1704.7l5.5 1.9l4.5 -14.2l-5.6 -1.9z"/><path fill="#860000" d="M867.1 1670.5l5.6 2.2l4.4 -1.8l-5.6 -2.2z"/><path fill="#d2ff2d" d="M1096.5 1774.3l5.6 1.9l4.4 3.1l-5.6 -1.8z"/><path fill="#ff2800" d="M1008.5 1711.2l5.6 3.4l4.4 5.3l-5.5 -3.7z"/><path fill="#b50000" d="M937.2 1682.5l5.6 4l4.5 -1.1l-5.6 -4z"/><path fill="#ffeb00" d="M1070.9 1758.8l5.6 2.3l4.4 5l-5.6 -2.1z"/><path fill="#94ff6b" d="M1132.1 1789.7l5.6 1.7l4.4 2l-5.5 -1.7z"/><path fill="#860000" d="M877.1 1670.9l5.6 2.4l4.4 -1.5l-5.5 -2.4z"/><path fill="#a80000" d="M927.2 1679.7l5.6 4l4.4 -1.2l-5.5 -4z"/><path fill="#940000" d="M842.6 1673.9l5.6 1.9l4.4 -3.1l-5.5 -2z"/><path fill="#9e0000" d="M917.2 1677.1l5.6 3.8l4.4 -1.2l-5.6 -3.8z"/><path fill="#890000" d="M887.1 1671.8l5.6 2.7l4.5 -1.3l-5.6 -2.7z"/><path fill="#950000" d="M907.2 1674.9l5.6 3.5l4.4 -1.3l-5.6 -3.4z"/><path fill="#8e0000" d="M897.2 1673.2l5.5 3l4.5 -1.3l-5.6 -3z"/><path fill="#ec0000" d="M982.9 1697.0l5.6 2.8l4.4 1.4l-5.6 -3.1z"/><path fill="#a7ff58" d="M1122.1 1785.6l5.6 1.8l4.4 2.3l-5.5 -1.8z"/><path fill="#4cffb3" d="M1187.8 1807.8l5.6 1.8l4.4 .8l-5.5 -1.7z"/><path fill="#efff10" d="M1086.5 1768.2l5.5 2l4.5 4.1l-5.6 -1.9z"/><path fill="#58ffa7" d="M1177.8 1805.0l5.6 1.7l4.4 1.1l-5.6 -1.7z"/><path fill="#8c0000" d="M852.6 1672.7l5.6 2l4.4 -2.2l-5.5 -2z"/><path fill="#e00000" d="M972.9 1694.1l5.5 2.8l4.5 .1l-5.6 -3z"/><path fill="#da0000" d="M833.7 1690.5l5.6 1.9l4.4 -11.5l-5.5 -2z"/><path fill="#66ff99" d="M1167.8 1802.0l5.5 1.7l4.5 1.3l-5.6 -1.7z"/><path fill="#ff8700" d="M836.0 1731.1l5.5 2.1l4.5 -22.5l-5.6 -2.1z"/><path fill="#a70000" d="M838.2 1678.9l5.5 2l4.5 -5.1l-5.6 -1.9z"/><path fill="#d60000" d="M962.9 1691.7l5.5 3l4.5 -.6l-5.6 -3.1z"/><path fill="#bbff44" d="M1112.1 1781.2l5.6 1.8l4.4 2.6l-5.6 -1.8z"/><path fill="#0068ff" d="M877.2 1855.0l5.6 2.2l4.4 -62.1l-5.5 -2.7z"/><path fill="#bcff43" d="M848.2 1775.3l5.6 2.5l4.5 -37.2l-5.6 -2.7z"/><path fill="#ff9700" d="M1045.3 1739.4l5.5 3l4.5 5.7l-5.6 -2.8z"/><path fill="#cb0000" d="M952.8 1689.2l5.6 3.4l4.5 -.9l-5.6 -3.5z"/><path fill="#ff6400" d="M1029.7 1727.1l5.5 3.4l4.5 5.8l-5.6 -3.3z"/><path fill="#8a0000" d="M862.6 1672.5l5.6 2.2l4.5 -2l-5.6 -2.2z"/><path fill="#74ff8b" d="M1157.7 1798.7l5.6 1.8l4.5 1.5l-5.6 -1.8z"/><path fill="#ff0700" d="M998.5 1704.3l5.6 3l4.4 3.9l-5.6 -3.5z"/><path fill="#ffc500" d="M1060.9 1750.8l5.5 2.4l4.5 5.6l-5.6 -2.4z"/><path fill="#c00000" d="M942.8 1686.5l5.6 3.8l4.4 -1.1l-5.5 -3.8z"/><path fill="#000080" d="M906.2 1913.2l5.6 1.7l4.4 -46.3l-5.5 -1.8z"/><path fill="#ff3000" d="M1014.1 1714.6l5.6 3.5l4.4 5.5l-5.6 -3.7z"/><path fill="#b40000" d="M932.8 1683.7l5.6 4l4.4 -1.2l-5.6 -4z"/><path fill="#890000" d="M872.7 1672.7l5.5 2.4l4.5 -1.8l-5.6 -2.4z"/><path fill="#83ff7c" d="M1147.7 1795.2l5.6 1.7l4.4 1.8l-5.5 -1.7z"/><path fill="#ff1c00" d="M834.8 1706.6l5.6 2l4.5 -14.2l-5.6 -2z"/><path fill="#a80000" d="M922.8 1680.9l5.5 4l4.5 -1.2l-5.6 -4z"/><path fill="#d2ff2d" d="M1102.1 1776.2l5.5 1.9l4.5 3.1l-5.6 -1.9z"/><path fill="#ffed00" d="M1076.5 1761.1l5.5 2.1l4.5 5l-5.6 -2.1z"/><path fill="#8a0000" d="M882.7 1673.3l5.6 2.7l4.4 -1.5l-5.6 -2.7z"/><path fill="#9d0000" d="M912.8 1678.4l5.5 3.8l4.5 -1.3l-5.6 -3.8z"/><path fill="#8e0000" d="M892.7 1674.5l5.6 3.1l4.4 -1.4l-5.5 -3z"/><path fill="#940000" d="M902.7 1676.2l5.6 3.5l4.5 -1.3l-5.6 -3.5z"/><path fill="#950000" d="M848.2 1675.8l5.6 2.1l4.4 -3.2l-5.6 -2z"/><path fill="#94ff6b" d="M1137.7 1791.4l5.6 1.8l4.4 2l-5.6 -1.8z"/><path fill="#f20000" d="M988.5 1699.8l5.5 2.6l4.5 1.9l-5.6 -3.1z"/><path fill="#a7ff58" d="M1127.7 1787.4l5.6 1.7l4.4 2.3l-5.6 -1.7z"/><path fill="#eeff11" d="M1092.0 1770.2l5.6 1.9l4.5 4.1l-5.6 -1.9z"/><path fill="#e50000" d="M978.4 1696.9l5.6 2.6l4.5 .3l-5.6 -2.8z"/><path fill="#8e0000" d="M858.2 1674.7l5.6 2.2l4.4 -2.2l-5.6 -2.2z"/><path fill="#58ffa7" d="M1183.4 1806.7l5.5 1.8l4.5 1.1l-5.6 -1.8z"/><path fill="#dc0000" d="M968.4 1694.7l5.6 2.8l4.4 -.6l-5.5 -2.8z"/><path fill="#d40000" d="M958.4 1692.6l5.6 3.1l4.4 -1l-5.5 -3z"/><path fill="#ff6c00" d="M1035.2 1730.5l5.6 3.1l4.5 5.8l-5.6 -3.1z"/><path fill="#ca0000" d="M948.4 1690.3l5.6 3.5l4.4 -1.2l-5.6 -3.4z"/><path fill="#db0000" d="M839.3 1692.4l5.6 2l4.4 -11.5l-5.6 -2z"/><path fill="#ff9d00" d="M1050.8 1742.4l5.6 2.7l4.5 5.7l-5.6 -2.7z"/><path fill="#b8ff47" d="M853.8 1777.8l5.6 2.7l4.4 -36.9l-5.5 -3z"/><path fill="#ff8800" d="M841.5 1733.2l5.6 2.2l4.5 -22.4l-5.6 -2.3z"/><path fill="#ff0d00" d="M1004.1 1707.3l5.5 3l4.5 4.3l-5.6 -3.4z"/><path fill="#a80000" d="M843.7 1680.9l5.6 2l4.5 -5l-5.6 -2.1z"/><path fill="#0066ff" d="M882.8 1857.2l5.6 2.1l4.4 -61.7l-5.6 -2.5z"/><path fill="#ff3900" d="M1019.7 1718.1l5.5 3.3l4.5 5.7l-5.6 -3.5z"/><path fill="#66ff99" d="M1173.3 1803.7l5.6 1.8l4.5 1.2l-5.6 -1.7z"/><path fill="#bf0000" d="M938.4 1687.7l5.5 3.8l4.5 -1.2l-5.6 -3.8z"/><path fill="#bbff44" d="M1117.7 1783.0l5.5 1.8l4.5 2.6l-5.6 -1.8z"/><path fill="#8c0000" d="M868.2 1674.7l5.6 2.4l4.4 -2l-5.5 -2.4z"/><path fill="#b30000" d="M928.3 1684.9l5.6 4.1l4.5 -1.3l-5.6 -4z"/><path fill="#ffc800" d="M1066.4 1753.2l5.6 2.4l4.5 5.5l-5.6 -2.3z"/><path fill="#74ff8b" d="M1163.3 1800.5l5.6 1.7l4.4 1.5l-5.5 -1.7z"/><path fill="#a70000" d="M918.3 1682.2l5.6 4l4.4 -1.3l-5.5 -4z"/><path fill="#000080" d="M911.8 1914.9l5.6 1.7l4.4 -46.2l-5.6 -1.8z"/><path fill="#8c0000" d="M878.2 1675.1l5.6 2.7l4.5 -1.8l-5.6 -2.7z"/><path fill="#9d0000" d="M908.3 1679.7l5.6 3.8l4.4 -1.3l-5.5 -3.8z"/><path fill="#ff1d00" d="M840.4 1708.6l5.6 2.1l4.4 -14.1l-5.5 -2.2z"/><path fill="#8e0000" d="M888.3 1676.0l5.5 3.1l4.5 -1.5l-5.6 -3.1z"/><path fill="#83ff7c" d="M1153.3 1796.9l5.6 1.8l4.4 1.8l-5.6 -1.8z"/><path fill="#940000" d="M898.3 1677.6l5.6 3.4l4.4 -1.3l-5.6 -3.5z"/><path fill="#d1ff2e" d="M1107.6 1778.1l5.6 1.8l4.5 3.1l-5.6 -1.8z"/><path fill="#ffef00" d="M1082.0 1763.2l5.6 2.1l4.4 4.9l-5.5 -2z"/><path fill="#970000" d="M853.8 1677.9l5.5 2.1l4.5 -3.1l-5.6 -2.2z"/><path fill="#f60000" d="M994.0 1702.4l5.6 2.5l4.5 2.4l-5.6 -3z"/><path fill="#94ff6b" d="M1143.3 1793.2l5.5 1.7l4.5 2l-5.6 -1.7z"/><path fill="#e90000" d="M984.0 1699.5l5.6 2.4l4.4 .5l-5.5 -2.6z"/><path fill="#d30000" d="M954.0 1693.8l5.5 3l4.5 -1.1l-5.6 -3.1z"/><path fill="#ff7300" d="M1040.8 1733.6l5.6 3.1l4.4 5.7l-5.5 -3z"/><path fill="#a7ff58" d="M1133.3 1789.1l5.5 1.8l4.5 2.3l-5.6 -1.8z"/><path fill="#900000" d="M863.8 1676.9l5.5 2.4l4.5 -2.2l-5.6 -2.4z"/><path fill="#da0000" d="M964.0 1695.7l5.6 2.7l4.4 -.9l-5.6 -2.8z"/><path fill="#c90000" d="M943.9 1691.5l5.6 3.5l4.5 -1.2l-5.6 -3.5z"/><path fill="#e10000" d="M974.0 1697.5l5.6 2.4l4.4 -.4l-5.6 -2.6z"/><path fill="#ff4100" d="M1025.2 1721.4l5.6 3.3l4.4 5.8l-5.5 -3.4z"/><path fill="#b3ff4c" d="M859.4 1780.5l5.5 2.9l4.5 -36.5l-5.6 -3.3z"/><path fill="#edff12" d="M1097.6 1772.1l5.6 1.9l4.4 4.1l-5.5 -1.9z"/><path fill="#ff1400" d="M1009.6 1710.3l5.6 3l4.5 4.8l-5.6 -3.5z"/><path fill="#bf0000" d="M933.9 1689.0l5.6 3.8l4.4 -1.3l-5.5 -3.8z"/><path fill="#ffa200" d="M1056.4 1745.1l5.6 2.6l4.4 5.5l-5.5 -2.4z"/><path fill="#ff8b00" d="M847.1 1735.4l5.6 2.5l4.4 -22.3l-5.5 -2.6z"/><path fill="#dc0000" d="M844.9 1694.4l5.5 2.2l4.5 -11.6l-5.6 -2.1z"/><path fill="#b30000" d="M923.9 1686.2l5.6 4l4.4 -1.2l-5.6 -4.1z"/><path fill="#0064ff" d="M888.4 1859.3l5.5 1.9l4.5 -61.3l-5.6 -2.3z"/><path fill="#a90000" d="M849.3 1682.9l5.6 2.1l4.4 -5l-5.5 -2.1z"/><path fill="#8f0000" d="M873.8 1677.1l5.6 2.6l4.4 -1.9l-5.6 -2.7z"/><path fill="#66ff99" d="M1178.9 1805.5l5.6 1.7l4.4 1.3l-5.5 -1.8z"/><path fill="#a70000" d="M913.9 1683.5l5.5 4l4.5 -1.3l-5.6 -4z"/><path fill="#ffcb00" d="M1072.0 1755.6l5.6 2.2l4.4 5.4l-5.5 -2.1z"/><path fill="#baff45" d="M1123.2 1784.8l5.6 1.7l4.5 2.6l-5.6 -1.7z"/><path fill="#900000" d="M883.8 1677.8l5.6 3l4.4 -1.7l-5.5 -3.1z"/><path fill="#9d0000" d="M903.9 1681.0l5.5 3.8l4.5 -1.3l-5.6 -3.8z"/><path fill="#950000" d="M893.8 1679.1l5.6 3.4l4.5 -1.5l-5.6 -3.4z"/><path fill="#74ff8b" d="M1168.9 1802.2l5.6 1.7l4.4 1.6l-5.6 -1.8z"/><path fill="#000080" d="M917.4 1916.6l5.5 1.8l4.5 -46.3l-5.6 -1.7z"/><path fill="#ff1f00" d="M846.0 1710.7l5.6 2.3l4.4 -14.1l-5.6 -2.3z"/><path fill="#83ff7c" d="M1158.9 1798.7l5.5 1.7l4.5 1.8l-5.6 -1.7z"/><path fill="#fff100" d="M1087.6 1765.3l5.6 2l4.4 4.8l-5.6 -1.9z"/><path fill="#d0ff2f" d="M1113.2 1779.9l5.6 1.8l4.4 3.1l-5.5 -1.8z"/><path fill="#fa0000" d="M999.6 1704.9l5.6 2.6l4.4 2.8l-5.5 -3z"/><path fill="#990000" d="M859.3 1680.0l5.6 2.4l4.4 -3.1l-5.5 -2.4z"/><path fill="#94ff6b" d="M1148.8 1794.9l5.6 1.8l4.5 2l-5.6 -1.8z"/><path fill="#d20000" d="M949.5 1695.0l5.6 3l4.4 -1.2l-5.5 -3z"/><path fill="#c90000" d="M939.5 1692.8l5.6 3.4l4.4 -1.2l-5.6 -3.5z"/><path fill="#ff4900" d="M1030.8 1724.7l5.6 3.3l4.4 5.6l-5.6 -3.1z"/><path fill="#ff1a00" d="M1015.2 1713.3l5.6 3l4.4 5.1l-5.5 -3.3z"/><path fill="#adff52" d="M864.9 1783.4l5.6 3l4.5 -36.1l-5.6 -3.4z"/><path fill="#d90000" d="M959.5 1696.8l5.6 2.7l4.5 -1.1l-5.6 -2.7z"/><path fill="#ff7900" d="M1046.4 1736.7l5.6 2.8l4.4 5.6l-5.6 -2.7z"/><path fill="#ed0000" d="M989.6 1701.9l5.6 2.3l4.4 .7l-5.6 -2.5z"/><path fill="#be0000" d="M929.5 1690.2l5.5 3.8l4.5 -1.2l-5.6 -3.8z"/><path fill="#df0000" d="M969.6 1698.4l5.5 2.4l4.5 -.9l-5.6 -2.4z"/><path fill="#930000" d="M869.3 1679.3l5.6 2.6l4.5 -2.2l-5.6 -2.6z"/><path fill="#e50000" d="M979.6 1699.9l5.5 2.3l4.5 -.3l-5.6 -2.4z"/><path fill="#b30000" d="M919.4 1687.5l5.6 4l4.5 -1.3l-5.6 -4z"/><path fill="#ffa600" d="M1062.0 1747.7l5.6 2.4l4.4 5.5l-5.6 -2.4z"/><path fill="#a6ff59" d="M1138.8 1790.9l5.6 1.7l4.4 2.3l-5.5 -1.7z"/><path fill="#ff8e00" d="M852.7 1737.9l5.6 2.7l4.4 -22.2l-5.6 -2.8z"/><path fill="#ecff13" d="M1103.2 1774.0l5.6 1.9l4.4 4l-5.6 -1.8z"/><path fill="#a70000" d="M909.4 1684.8l5.6 4l4.4 -1.3l-5.5 -4z"/><path fill="#940000" d="M879.4 1679.7l5.5 3.1l4.5 -2l-5.6 -3z"/><path fill="#de0000" d="M850.4 1696.6l5.6 2.3l4.5 -11.5l-5.6 -2.4z"/><path fill="#ab0000" d="M854.9 1685.0l5.6 2.4l4.4 -5l-5.6 -2.4z"/><path fill="#9d0000" d="M899.4 1682.5l5.6 3.8l4.4 -1.5l-5.5 -3.8z"/><path fill="#970000" d="M889.4 1680.8l5.6 3.4l4.4 -1.7l-5.6 -3.4z"/><path fill="#0063ff" d="M893.9 1861.2l5.6 1.9l4.5 -61.1l-5.6 -2.1z"/><path fill="#ffce00" d="M1077.6 1757.8l5.6 2.1l4.4 5.4l-5.6 -2.1z"/><path fill="#baff45" d="M1128.8 1786.5l5.6 1.8l4.4 2.6l-5.5 -1.8z"/><path fill="#74ff8b" d="M1174.5 1803.9l5.5 1.8l4.5 1.5l-5.6 -1.7z"/><path fill="#ff2200" d="M851.6 1713.0l5.5 2.6l4.5 -14.1l-5.6 -2.6z"/><path fill="#000080" d="M922.9 1918.4l5.6 1.7l4.4 -46.2l-5.5 -1.8z"/><path fill="#fe0000" d="M1005.2 1707.5l5.6 2.6l4.4 3.2l-5.6 -3z"/><path fill="#9c0000" d="M864.9 1682.4l5.6 2.7l4.4 -3.2l-5.6 -2.6z"/><path fill="#83ff7c" d="M1164.4 1800.4l5.6 1.8l4.5 1.7l-5.6 -1.7z"/><path fill="#fff200" d="M1093.2 1767.3l5.5 1.9l4.5 4.8l-5.6 -1.9z"/><path fill="#d0ff2f" d="M1118.8 1781.7l5.6 1.8l4.4 3l-5.6 -1.7z"/><path fill="#d10000" d="M945.1 1696.2l5.5 3.1l4.5 -1.3l-5.6 -3z"/><path fill="#c90000" d="M935.0 1694.0l5.6 3.5l4.5 -1.3l-5.6 -3.4z"/><path fill="#a7ff58" d="M870.5 1786.4l5.6 3.1l4.4 -35.7l-5.5 -3.5z"/><path fill="#ff5000" d="M1036.4 1728.0l5.5 3.1l4.5 5.6l-5.6 -3.1z"/><path fill="#ff2000" d="M1020.8 1716.3l5.6 3.1l4.4 5.3l-5.6 -3.3z"/><path fill="#d90000" d="M955.1 1698.0l5.6 2.7l4.4 -1.2l-5.6 -2.7z"/><path fill="#be0000" d="M925.0 1691.5l5.6 3.8l4.4 -1.3l-5.5 -3.8z"/><path fill="#ff7f00" d="M1052.0 1739.5l5.5 2.7l4.5 5.5l-5.6 -2.6z"/><path fill="#de0000" d="M965.1 1699.5l5.6 2.4l4.4 -1.1l-5.5 -2.4z"/><path fill="#94ff6b" d="M1154.4 1796.7l5.6 1.7l4.4 2l-5.5 -1.7z"/><path fill="#980000" d="M874.9 1681.9l5.6 3.1l4.4 -2.2l-5.5 -3.1z"/><path fill="#b30000" d="M915.0 1688.8l5.6 4.1l4.4 -1.4l-5.6 -4z"/><path fill="#ef0000" d="M995.2 1704.2l5.5 2.2l4.5 1.1l-5.6 -2.6z"/><path fill="#e20000" d="M975.1 1700.8l5.6 2.2l4.4 -.8l-5.5 -2.3z"/><path fill="#ff9300" d="M858.3 1740.6l5.5 3l4.5 -22l-5.6 -3.2z"/><path fill="#a80000" d="M905.0 1686.3l5.6 4l4.4 -1.5l-5.6 -4z"/><path fill="#9a0000" d="M884.9 1682.8l5.6 3.4l4.5 -2l-5.6 -3.4z"/><path fill="#e70000" d="M985.1 1702.2l5.6 2.1l4.5 -.1l-5.6 -2.3z"/><path fill="#9f0000" d="M895.0 1684.2l5.5 3.9l4.5 -1.8l-5.6 -3.8z"/><path fill="#ffa900" d="M1067.6 1750.1l5.5 2.3l4.5 5.4l-5.6 -2.2z"/><path fill="#e10000" d="M856.0 1698.9l5.6 2.6l4.4 -11.4l-5.5 -2.7z"/><path fill="#a6ff59" d="M1144.4 1792.6l5.6 1.8l4.4 2.3l-5.6 -1.8z"/><path fill="#ebff14" d="M1108.8 1775.9l5.5 1.8l4.5 4l-5.6 -1.8z"/><path fill="#ae0000" d="M860.5 1687.4l5.5 2.7l4.5 -5l-5.6 -2.7z"/><path fill="#0062ff" d="M899.5 1863.1l5.6 1.9l4.4 -61l-5.5 -2z"/><path fill="#ffd000" d="M1083.2 1759.9l5.5 2.1l4.5 5.3l-5.6 -2z"/><path fill="#ff2600" d="M857.1 1715.6l5.6 2.8l4.4 -14l-5.5 -2.9z"/><path fill="#baff45" d="M1134.4 1788.3l5.6 1.8l4.4 2.5l-5.6 -1.7z"/><path fill="#ff0300" d="M1010.8 1710.1l5.5 2.6l4.5 3.6l-5.6 -3z"/><path fill="#a10000" d="M870.5 1685.1l5.5 3l4.5 -3.1l-5.6 -3.1z"/><path fill="#000080" d="M928.5 1920.1l5.6 1.8l4.4 -46.3l-5.6 -1.7z"/><path fill="#c80000" d="M930.6 1695.3l5.6 3.5l4.4 -1.3l-5.6 -3.5z"/><path fill="#d10000" d="M940.6 1697.5l5.6 3l4.4 -1.2l-5.5 -3.1z"/><path fill="#a0ff5f" d="M876.1 1789.5l5.6 2.9l4.4 -35.3l-5.6 -3.3z"/><path fill="#ff2700" d="M1026.4 1719.4l5.5 3l4.5 5.6l-5.6 -3.3z"/><path fill="#be0000" d="M920.6 1692.9l5.5 3.8l4.5 -1.4l-5.6 -3.8z"/><path fill="#d80000" d="M950.6 1699.3l5.6 2.6l4.5 -1.2l-5.6 -2.7z"/><path fill="#ff5700" d="M1041.9 1731.1l5.6 2.9l4.5 5.5l-5.6 -2.8z"/><path fill="#fff300" d="M1098.7 1769.2l5.6 1.9l4.5 4.8l-5.6 -1.9z"/><path fill="#83ff7c" d="M1170.0 1802.2l5.6 1.7l4.4 1.8l-5.5 -1.8z"/><path fill="#b30000" d="M910.6 1690.3l5.5 4.1l4.5 -1.5l-5.6 -4.1z"/><path fill="#dd0000" d="M960.7 1700.7l5.5 2.4l4.5 -1.2l-5.6 -2.4z"/><path fill="#9e0000" d="M880.5 1685.0l5.6 3.4l4.4 -2.2l-5.6 -3.4z"/><path fill="#d0ff2f" d="M1124.4 1783.5l5.5 1.8l4.5 3l-5.6 -1.8z"/><path fill="#aa0000" d="M900.5 1688.1l5.6 4l4.5 -1.8l-5.6 -4z"/><path fill="#ff8400" d="M1057.5 1742.2l5.6 2.5l4.5 5.4l-5.6 -2.4z"/><path fill="#a30000" d="M890.5 1686.2l5.6 3.8l4.4 -1.9l-5.5 -3.9z"/><path fill="#ff9900" d="M863.8 1743.6l5.6 3.3l4.4 -21.8l-5.5 -3.5z"/><path fill="#e10000" d="M970.7 1701.9l5.5 2.2l4.5 -1.1l-5.6 -2.2z"/><path fill="#f20000" d="M1000.7 1706.4l5.6 2.2l4.5 1.5l-5.6 -2.6z"/><path fill="#94ff6b" d="M1160.0 1798.4l5.6 1.8l4.4 2l-5.6 -1.8z"/><path fill="#e50000" d="M980.7 1703.0l5.6 2.1l4.4 -.8l-5.6 -2.1z"/><path fill="#e90000" d="M990.7 1704.3l5.6 2.1l4.4 0l-5.5 -2.2z"/><path fill="#e50000" d="M861.6 1701.5l5.5 2.9l4.5 -11.3l-5.6 -3z"/><path fill="#ffac00" d="M1073.1 1752.4l5.6 2.2l4.5 5.3l-5.6 -2.1z"/><path fill="#b30000" d="M866.0 1690.1l5.6 3l4.4 -5l-5.5 -3z"/><path fill="#a6ff59" d="M1150.0 1794.4l5.5 1.7l4.5 2.3l-5.6 -1.7z"/><path fill="#ebff14" d="M1114.3 1777.7l5.6 1.8l4.5 4l-5.6 -1.8z"/><path fill="#0061ff" d="M905.1 1865.0l5.6 1.8l4.4 -60.9l-5.6 -1.9z"/><path fill="#ff2b00" d="M862.7 1718.4l5.6 3.2l4.4 -13.9l-5.6 -3.3z"/><path fill="#ffd100" d="M1088.7 1762.0l5.6 2l4.4 5.2l-5.5 -1.9z"/><path fill="#ff0700" d="M1016.3 1712.7l5.6 2.6l4.5 4.1l-5.6 -3.1z"/><path fill="#a70000" d="M876.0 1688.1l5.6 3.4l4.5 -3.1l-5.6 -3.4z"/><path fill="#baff45" d="M1140.0 1790.1l5.5 1.7l4.5 2.6l-5.6 -1.8z"/><path fill="#c80000" d="M926.1 1696.7l5.6 3.4l4.5 -1.3l-5.6 -3.5z"/><path fill="#d10000" d="M936.2 1698.8l5.5 3l4.5 -1.3l-5.6 -3z"/><path fill="#bf0000" d="M916.1 1694.4l5.6 3.8l4.4 -1.5l-5.5 -3.8z"/><path fill="#d80000" d="M946.2 1700.5l5.6 2.7l4.4 -1.3l-5.6 -2.6z"/><path fill="#ff2e00" d="M1031.9 1722.4l5.6 3.1l4.4 5.6l-5.5 -3.1z"/><path fill="#9bff64" d="M881.7 1792.4l5.5 2.7l4.5 -35l-5.6 -3z"/><path fill="#b50000" d="M906.1 1692.1l5.6 4l4.4 -1.7l-5.5 -4.1z"/><path fill="#a70000" d="M886.1 1688.4l5.5 3.8l4.5 -2.2l-5.6 -3.8z"/><path fill="#ad0000" d="M896.1 1690.0l5.6 4l4.4 -1.9l-5.6 -4z"/><path fill="#ff5d00" d="M1047.5 1734.0l5.6 2.9l4.4 5.3l-5.5 -2.7z"/><path fill="#dd0000" d="M956.2 1701.9l5.6 2.4l4.4 -1.2l-5.5 -2.4z"/><path fill="#000080" d="M934.1 1921.9l5.5 1.7l4.5 -46.2l-5.6 -1.8z"/><path fill="#ffa100" d="M869.4 1746.9l5.6 3.4l4.4 -21.5l-5.6 -3.7z"/><path fill="#e00000" d="M966.2 1703.1l5.6 2.2l4.4 -1.2l-5.5 -2.2z"/><path fill="#fff400" d="M1104.3 1771.1l5.6 1.8l4.4 4.8l-5.5 -1.8z"/><path fill="#ff8700" d="M1063.1 1744.7l5.6 2.4l4.4 5.3l-5.5 -2.3z"/><path fill="#d0ff2f" d="M1129.9 1785.3l5.6 1.8l4.5 3l-5.6 -1.8z"/><path fill="#f40000" d="M1006.3 1708.6l5.6 2.2l4.4 1.9l-5.5 -2.6z"/><path fill="#e30000" d="M976.2 1704.1l5.6 2l4.5 -1l-5.6 -2.1z"/><path fill="#eb0000" d="M867.1 1704.4l5.6 3.3l4.5 -11.2l-5.6 -3.4z"/><path fill="#b90000" d="M871.6 1693.1l5.6 3.4l4.4 -5l-5.6 -3.4z"/><path fill="#e60000" d="M986.3 1705.1l5.5 1.9l4.5 -.6l-5.6 -2.1z"/><path fill="#94ff6b" d="M1165.6 1800.2l5.5 1.7l4.5 2l-5.6 -1.7z"/><path fill="#eb0000" d="M996.3 1706.4l5.6 2l4.4 .2l-5.6 -2.2z"/><path fill="#ffae00" d="M1078.7 1754.6l5.6 2.1l4.4 5.3l-5.5 -2.1z"/><path fill="#ff3200" d="M868.3 1721.6l5.5 3.5l4.5 -13.7l-5.6 -3.7z"/><path fill="#ebff14" d="M1119.9 1779.5l5.6 1.8l4.4 4l-5.5 -1.8z"/><path fill="#a6ff59" d="M1155.5 1796.1l5.6 1.8l4.5 2.3l-5.6 -1.8z"/><path fill="#b00000" d="M881.6 1691.5l5.6 3.8l4.4 -3.1l-5.5 -3.8z"/><path fill="#ff0c00" d="M1021.9 1715.3l5.6 2.7l4.4 4.4l-5.5 -3z"/><path fill="#c90000" d="M921.7 1698.2l5.6 3.4l4.4 -1.5l-5.6 -3.4z"/><path fill="#0061ff" d="M910.7 1866.8l5.5 1.8l4.5 -60.9l-5.6 -1.8z"/><path fill="#c00000" d="M911.7 1696.1l5.5 3.8l4.5 -1.7l-5.6 -3.8z"/><path fill="#d10000" d="M931.7 1700.1l5.6 3.1l4.4 -1.4l-5.5 -3z"/><path fill="#b10000" d="M891.6 1692.2l5.6 4l4.5 -2.2l-5.6 -4z"/><path fill="#b80000" d="M901.7 1694.0l5.5 4l4.5 -1.9l-5.6 -4z"/><path fill="#ffd200" d="M1094.3 1764.0l5.6 1.9l4.4 5.2l-5.6 -1.9z"/><path fill="#d70000" d="M941.7 1701.8l5.6 2.7l4.5 -1.3l-5.6 -2.7z"/><path fill="#ff3400" d="M1037.5 1725.5l5.6 2.9l4.4 5.6l-5.6 -2.9z"/><path fill="#96ff69" d="M887.2 1795.1l5.6 2.5l4.5 -34.8l-5.6 -2.7z"/><path fill="#dc0000" d="M951.8 1703.2l5.5 2.4l4.5 -1.3l-5.6 -2.4z"/><path fill="#ffaa00" d="M875.0 1750.3l5.5 3.5l4.5 -21.3l-5.6 -3.7z"/><path fill="#baff45" d="M1145.5 1791.8l5.6 1.8l4.4 2.5l-5.5 -1.7z"/><path fill="#ff6200" d="M1053.1 1736.9l5.6 2.6l4.4 5.2l-5.6 -2.5z"/><path fill="#e00000" d="M961.8 1704.3l5.6 2.2l4.4 -1.2l-5.6 -2.2z"/><path fill="#000080" d="M939.6 1923.6l5.6 1.8l4.5 -46.3l-5.6 -1.7z"/><path fill="#f30000" d="M872.7 1707.7l5.6 3.7l4.4 -11.2l-5.5 -3.7z"/><path fill="#e30000" d="M971.8 1705.3l5.6 2l4.4 -1.2l-5.6 -2z"/><path fill="#c10000" d="M877.2 1696.5l5.5 3.7l4.5 -4.9l-5.6 -3.8z"/><path fill="#ff8b00" d="M1068.7 1747.1l5.6 2.3l4.4 5.2l-5.6 -2.2z"/><path fill="#fff400" d="M1109.9 1772.9l5.6 1.9l4.4 4.7l-5.6 -1.8z"/><path fill="#f70000" d="M1011.9 1710.8l5.6 2.3l4.4 2.2l-5.6 -2.6z"/><path fill="#d0ff2f" d="M1135.5 1787.1l5.6 1.8l4.4 2.9l-5.5 -1.7z"/><path fill="#e50000" d="M981.8 1706.1l5.6 2l4.4 -1.1l-5.5 -1.9z"/><path fill="#ff3b00" d="M873.8 1725.1l5.6 3.7l4.5 -13.6l-5.6 -3.8z"/><path fill="#e70000" d="M991.8 1707.0l5.6 1.9l4.5 -.5l-5.6 -2z"/><path fill="#ec0000" d="M1001.9 1708.4l5.5 2l4.5 .4l-5.6 -2.2z"/><path fill="#ba0000" d="M887.2 1695.3l5.6 4l4.4 -3.1l-5.6 -4z"/><path fill="#ffb000" d="M1084.3 1756.7l5.5 2l4.5 5.3l-5.6 -2z"/><path fill="#bc0000" d="M897.2 1696.2l5.6 4l4.4 -2.2l-5.5 -4z"/><path fill="#c40000" d="M907.2 1698.0l5.6 3.8l4.4 -1.9l-5.5 -3.8z"/><path fill="#cb0000" d="M917.2 1699.9l5.6 3.4l4.5 -1.7l-5.6 -3.4z"/><path fill="#d10000" d="M927.3 1701.6l5.5 3.1l4.5 -1.5l-5.6 -3.1z"/><path fill="#ff1100" d="M1027.5 1718.0l5.5 2.7l4.5 4.8l-5.6 -3.1z"/><path fill="#d70000" d="M937.3 1703.2l5.6 2.7l4.4 -1.4l-5.6 -2.7z"/><path fill="#eaff15" d="M1125.5 1781.3l5.6 1.8l4.4 4l-5.6 -1.8z"/><path fill="#a6ff59" d="M1161.1 1797.9l5.6 1.7l4.4 2.3l-5.5 -1.7z"/><path fill="#ffb200" d="M880.5 1753.8l5.6 3.3l4.5 -21.1l-5.6 -3.5z"/><path fill="#ff3a00" d="M1043.1 1728.4l5.5 2.9l4.5 5.6l-5.6 -2.9z"/><path fill="#dc0000" d="M947.3 1704.5l5.6 2.4l4.4 -1.3l-5.5 -2.4z"/><path fill="#0061ff" d="M916.2 1868.6l5.6 1.8l4.4 -60.9l-5.5 -1.8z"/><path fill="#ffd300" d="M1099.9 1765.9l5.5 1.9l4.5 5.1l-5.6 -1.8z"/><path fill="#92ff6d" d="M892.8 1797.6l5.6 2.3l4.4 -34.7l-5.5 -2.4z"/><path fill="#e00000" d="M957.3 1705.6l5.6 2.2l4.5 -1.3l-5.6 -2.2z"/><path fill="#ff6700" d="M1058.7 1739.5l5.5 2.6l4.5 5l-5.6 -2.4z"/><path fill="#fc0000" d="M878.3 1711.4l5.6 3.8l4.4 -11.1l-5.6 -3.9z"/><path fill="#cb0000" d="M882.7 1700.2l5.6 3.9l4.5 -4.8l-5.6 -4z"/><path fill="#baff45" d="M1151.1 1793.6l5.6 1.7l4.4 2.6l-5.6 -1.8z"/><path fill="#e20000" d="M967.4 1706.5l5.5 2.1l4.5 -1.3l-5.6 -2z"/><path fill="#ff4500" d="M879.4 1728.8l5.6 3.7l4.4 -13.5l-5.5 -3.8z"/><path fill="#ff8e00" d="M1074.3 1749.4l5.5 2.2l4.5 5.1l-5.6 -2.1z"/><path fill="#000080" d="M945.2 1925.4l5.6 1.7l4.4 -46.2l-5.5 -1.8z"/><path fill="#e40000" d="M977.4 1707.3l5.5 1.9l4.5 -1.1l-5.6 -2z"/><path fill="#f90000" d="M1017.5 1713.1l5.5 2.3l4.5 2.6l-5.6 -2.7z"/><path fill="#c50000" d="M892.8 1699.3l5.5 4l4.5 -3.1l-5.6 -4z"/><path fill="#fff500" d="M1115.5 1774.8l5.5 1.8l4.5 4.7l-5.6 -1.8z"/><path fill="#c70000" d="M902.8 1700.2l5.6 3.8l4.4 -2.2l-5.6 -3.8z"/><path fill="#cfff30" d="M1141.1 1788.9l5.5 1.7l4.5 3l-5.6 -1.8z"/><path fill="#e60000" d="M987.4 1708.1l5.6 1.8l4.4 -1l-5.6 -1.9z"/><path fill="#ce0000" d="M912.8 1701.8l5.6 3.5l4.4 -2l-5.6 -3.4z"/><path fill="#d30000" d="M922.8 1703.3l5.6 3.1l4.4 -1.7l-5.5 -3.1z"/><path fill="#ed0000" d="M1007.4 1710.4l5.6 1.9l4.5 .8l-5.6 -2.3z"/><path fill="#e80000" d="M997.4 1708.9l5.6 1.9l4.4 -.4l-5.5 -2z"/><path fill="#ffb100" d="M1089.8 1758.7l5.6 2l4.5 5.2l-5.6 -1.9z"/><path fill="#d80000" d="M932.8 1704.7l5.6 2.6l4.5 -1.4l-5.6 -2.7z"/><path fill="#ff1600" d="M1033.0 1720.7l5.6 2.8l4.5 4.9l-5.6 -2.9z"/><path fill="#ffba00" d="M886.1 1757.1l5.6 3l4.4 -20.9l-5.5 -3.2z"/><path fill="#dc0000" d="M942.9 1705.9l5.5 2.4l4.5 -1.4l-5.6 -2.4z"/><path fill="#ff4000" d="M1048.6 1731.3l5.6 2.8l4.5 5.4l-5.6 -2.6z"/><path fill="#ff0800" d="M883.9 1715.2l5.5 3.8l4.5 -10.9l-5.6 -4z"/><path fill="#d60000" d="M888.3 1704.1l5.6 4l4.4 -4.8l-5.5 -4z"/><path fill="#df0000" d="M952.9 1706.9l5.6 2.2l4.4 -1.3l-5.6 -2.2z"/><path fill="#eaff15" d="M1131.1 1783.1l5.5 1.8l4.5 4l-5.6 -1.8z"/><path fill="#0061ff" d="M921.8 1870.4l5.6 1.7l4.4 -60.8l-5.6 -1.8z"/><path fill="#8fff70" d="M898.4 1799.9l5.6 2.1l4.4 -34.5l-5.6 -2.3z"/><path fill="#ff6b00" d="M1064.2 1742.1l5.6 2.5l4.5 4.8l-5.6 -2.3z"/><path fill="#ffd400" d="M1105.4 1767.8l5.6 1.8l4.5 5.2l-5.6 -1.9z"/><path fill="#e20000" d="M962.9 1707.8l5.6 2l4.4 -1.2l-5.5 -2.1z"/><path fill="#ff4f00" d="M885.0 1732.5l5.6 3.5l4.4 -13.3l-5.6 -3.7z"/><path fill="#d00000" d="M898.3 1703.3l5.6 3.7l4.5 -3l-5.6 -3.8z"/><path fill="#baff45" d="M1156.7 1795.3l5.5 1.8l4.5 2.5l-5.6 -1.7z"/><path fill="#e40000" d="M972.9 1708.6l5.6 1.9l4.4 -1.3l-5.5 -1.9z"/><path fill="#d20000" d="M908.4 1704.0l5.5 3.4l4.5 -2.1l-5.6 -3.5z"/><path fill="#fc0000" d="M1023.0 1715.4l5.6 2.3l4.4 3l-5.5 -2.7z"/><path fill="#ff9000" d="M1079.8 1751.6l5.6 2.1l4.4 5l-5.5 -2z"/><path fill="#d60000" d="M918.4 1705.3l5.5 3l4.5 -1.9l-5.6 -3.1z"/><path fill="#e50000" d="M982.9 1709.2l5.6 1.9l4.5 -1.2l-5.6 -1.8z"/><path fill="#000080" d="M950.8 1927.1l5.6 1.7l4.4 -46.2l-5.6 -1.7z"/><path fill="#fff500" d="M1121.0 1776.6l5.6 1.8l4.5 4.7l-5.6 -1.8z"/><path fill="#da0000" d="M928.4 1706.4l5.6 2.7l4.4 -1.8l-5.6 -2.6z"/><path fill="#e70000" d="M993.0 1709.9l5.5 1.9l4.5 -1l-5.6 -1.9z"/><path fill="#cfff30" d="M1146.6 1790.6l5.6 1.8l4.5 2.9l-5.6 -1.7z"/><path fill="#ef0000" d="M1013.0 1712.3l5.6 2.1l4.4 1l-5.5 -2.3z"/><path fill="#dd0000" d="M938.4 1707.3l5.6 2.4l4.4 -1.4l-5.5 -2.4z"/><path fill="#ff1b00" d="M1038.6 1723.5l5.6 2.7l4.4 5.1l-5.5 -2.9z"/><path fill="#e90000" d="M1003.0 1710.8l5.6 1.9l4.4 -.4l-5.6 -1.9z"/><path fill="#ffc000" d="M891.7 1760.1l5.6 2.7l4.4 -20.8l-5.6 -2.8z"/><path fill="#e10000" d="M893.9 1708.1l5.6 3.7l4.4 -4.8l-5.6 -3.7z"/><path fill="#ff1200" d="M889.4 1719.0l5.6 3.7l4.5 -10.9l-5.6 -3.7z"/><path fill="#ffb200" d="M1095.4 1760.7l5.6 1.9l4.4 5.2l-5.5 -1.9z"/><path fill="#df0000" d="M948.4 1708.3l5.6 2.1l4.5 -1.3l-5.6 -2.2z"/><path fill="#ff4500" d="M1054.2 1734.1l5.6 2.7l4.4 5.3l-5.5 -2.6z"/><path fill="#e20000" d="M958.5 1709.1l5.5 2l4.5 -1.3l-5.6 -2z"/><path fill="#ff5700" d="M890.6 1736.0l5.5 3.2l4.5 -13.2l-5.6 -3.3z"/><path fill="#da0000" d="M903.9 1707.0l5.6 3.5l4.4 -3.1l-5.5 -3.4z"/><path fill="#eaff15" d="M1136.6 1784.9l5.6 1.8l4.4 3.9l-5.5 -1.7z"/><path fill="#ff6f00" d="M1069.8 1744.6l5.6 2.3l4.4 4.7l-5.5 -2.2z"/><path fill="#8eff71" d="M904.0 1802.0l5.5 2l4.5 -34.5l-5.6 -2z"/><path fill="#0061ff" d="M927.4 1872.1l5.5 1.8l4.5 -60.8l-5.6 -1.8z"/><path fill="#e30000" d="M968.5 1709.8l5.5 2l4.5 -1.3l-5.6 -1.9z"/><path fill="#ffd500" d="M1111.0 1769.6l5.6 1.9l4.4 5.1l-5.5 -1.8z"/><path fill="#da0000" d="M913.9 1707.4l5.6 3.1l4.4 -2.2l-5.5 -3z"/><path fill="#e50000" d="M978.5 1710.5l5.6 1.9l4.4 -1.3l-5.6 -1.9z"/><path fill="#ff0000" d="M1028.6 1717.7l5.6 2.4l4.4 3.4l-5.6 -2.8z"/><path fill="#dd0000" d="M923.9 1708.3l5.6 2.7l4.5 -1.9l-5.6 -2.7z"/><path fill="#ff9200" d="M1085.4 1753.7l5.6 2.1l4.4 4.9l-5.6 -2z"/><path fill="#e60000" d="M988.5 1711.1l5.6 1.8l4.4 -1.1l-5.5 -1.9z"/><path fill="#de0000" d="M934.0 1709.1l5.5 2.4l4.5 -1.8l-5.6 -2.4z"/><path fill="#000080" d="M956.4 1928.8l5.5 1.8l4.5 -46.2l-5.6 -1.8z"/><path fill="#eb0000" d="M899.5 1711.8l5.5 3.4l4.5 -4.7l-5.6 -3.5z"/><path fill="#ff1c00" d="M895.0 1722.7l5.6 3.3l4.4 -10.8l-5.5 -3.4z"/><path fill="#fff600" d="M1126.6 1778.4l5.6 1.8l4.4 4.7l-5.5 -1.8z"/><path fill="#ff2000" d="M1044.2 1726.2l5.6 2.7l4.4 5.2l-5.6 -2.8z"/><path fill="#e70000" d="M998.5 1711.8l5.6 1.8l4.5 -.9l-5.6 -1.9z"/><path fill="#ffc500" d="M897.3 1762.8l5.5 2.4l4.5 -20.6l-5.6 -2.6z"/><path fill="#f00000" d="M1018.6 1714.4l5.6 2l4.4 1.3l-5.6 -2.3z"/><path fill="#cfff30" d="M1152.2 1792.4l5.6 1.7l4.4 3l-5.5 -1.8z"/><path fill="#e00000" d="M944.0 1709.7l5.6 2.2l4.4 -1.5l-5.6 -2.1z"/><path fill="#e90000" d="M1008.6 1712.7l5.5 1.8l4.5 -.1l-5.6 -2.1z"/><path fill="#ff4a00" d="M1059.8 1736.8l5.6 2.6l4.4 5.2l-5.6 -2.5z"/><path fill="#ffb300" d="M1101.0 1762.6l5.6 1.9l4.4 5.1l-5.6 -1.8z"/><path fill="#e10000" d="M954.0 1710.4l5.6 2.1l4.4 -1.4l-5.5 -2z"/><path fill="#e30000" d="M909.5 1710.5l5.6 3l4.4 -3l-5.6 -3.1z"/><path fill="#ff5f00" d="M896.1 1739.2l5.6 2.8l4.5 -13.1l-5.6 -2.9z"/><path fill="#e30000" d="M964.0 1711.1l5.6 2l4.4 -1.3l-5.5 -2z"/><path fill="#ff7100" d="M1075.4 1746.9l5.6 2.2l4.4 4.6l-5.6 -2.1z"/><path fill="#eaff15" d="M1142.2 1786.7l5.6 1.7l4.4 4l-5.6 -1.8z"/><path fill="#8cff73" d="M909.5 1804.0l5.6 1.9l4.4 -34.4l-5.5 -2z"/><path fill="#e10000" d="M919.5 1710.5l5.6 2.6l4.4 -2.1l-5.6 -2.7z"/><path fill="#0061ff" d="M932.9 1873.9l5.6 1.7l4.5 -60.7l-5.6 -1.8z"/><path fill="#e40000" d="M974.0 1711.8l5.6 1.8l4.5 -1.2l-5.6 -1.9z"/><path fill="#ffd500" d="M1116.6 1771.5l5.6 1.8l4.4 5.1l-5.6 -1.8z"/><path fill="#ff0300" d="M1034.2 1720.1l5.5 2.5l4.5 3.6l-5.6 -2.7z"/><path fill="#e10000" d="M929.5 1711.0l5.6 2.4l4.4 -1.9l-5.5 -2.4z"/><path fill="#e50000" d="M984.1 1712.4l5.5 1.8l4.5 -1.3l-5.6 -1.8z"/><path fill="#f30000" d="M905.0 1715.2l5.6 3l4.5 -4.7l-5.6 -3z"/><path fill="#ff2300" d="M900.6 1726.0l5.6 2.9l4.4 -10.7l-5.6 -3z"/><path fill="#ff9300" d="M1091.0 1755.8l5.5 1.9l4.5 4.9l-5.6 -1.9z"/><path fill="#e20000" d="M939.5 1711.5l5.6 2.1l4.5 -1.7l-5.6 -2.2z"/><path fill="#e60000" d="M994.1 1712.9l5.6 1.8l4.4 -1.1l-5.6 -1.8z"/><path fill="#ff2500" d="M1049.8 1728.9l5.5 2.7l4.5 5.2l-5.6 -2.7z"/><path fill="#000080" d="M961.9 1930.6l5.6 1.7l4.5 -46.2l-5.6 -1.7z"/><path fill="#fff600" d="M1132.2 1780.2l5.6 1.8l4.4 4.7l-5.6 -1.8z"/><path fill="#ffc900" d="M902.8 1765.2l5.6 2.3l4.5 -20.6l-5.6 -2.3z"/><path fill="#f10000" d="M1024.2 1716.4l5.5 2.1l4.5 1.6l-5.6 -2.4z"/><path fill="#e20000" d="M949.6 1711.9l5.5 2.1l4.5 -1.5l-5.6 -2.1z"/><path fill="#e70000" d="M1004.1 1713.6l5.6 1.8l4.4 -.9l-5.5 -1.8z"/><path fill="#ff4e00" d="M1065.4 1739.4l5.5 2.5l4.5 5l-5.6 -2.3z"/><path fill="#ea0000" d="M1014.1 1714.5l5.6 1.9l4.5 0l-5.6 -2z"/><path fill="#e90000" d="M915.1 1713.5l5.5 2.6l4.5 -3l-5.6 -2.6z"/><path fill="#ff6400" d="M901.7 1742.0l5.6 2.6l4.4 -13.1l-5.5 -2.6z"/><path fill="#ffb400" d="M1106.6 1764.5l5.5 1.9l4.5 5.1l-5.6 -1.9z"/><path fill="#e30000" d="M959.6 1712.5l5.6 1.9l4.4 -1.3l-5.6 -2z"/><path fill="#e40000" d="M969.6 1713.1l5.6 1.8l4.4 -1.3l-5.6 -1.8z"/><path fill="#e50000" d="M925.1 1713.1l5.5 2.4l4.5 -2.1l-5.6 -2.4z"/><path fill="#ff7400" d="M1081.0 1749.1l5.5 2.2l4.5 4.5l-5.6 -2.1z"/><path fill="#8bff74" d="M915.1 1805.9l5.6 1.8l4.4 -34.3l-5.6 -1.9z"/><path fill="#eaff15" d="M1147.8 1788.4l5.5 1.8l4.5 3.9l-5.6 -1.7z"/><path fill="#ff0700" d="M1039.7 1722.6l5.6 2.4l4.5 3.9l-5.6 -2.7z"/><path fill="#e50000" d="M979.6 1713.6l5.6 1.8l4.4 -1.2l-5.5 -1.8z"/><path fill="#0061ff" d="M938.5 1875.6l5.6 1.8l4.4 -60.8l-5.5 -1.7z"/><path fill="#ffd500" d="M1122.2 1773.3l5.5 1.8l4.5 5.1l-5.6 -1.8z"/><path fill="#e50000" d="M935.1 1713.4l5.6 2.2l4.4 -2l-5.6 -2.1z"/><path fill="#fa0000" d="M910.6 1718.2l5.6 2.7l4.4 -4.8l-5.5 -2.6z"/><path fill="#ff2900" d="M906.2 1728.9l5.5 2.6l4.5 -10.6l-5.6 -2.7z"/><path fill="#e60000" d="M989.6 1714.2l5.6 1.8l4.5 -1.3l-5.6 -1.8z"/><path fill="#ff9400" d="M1096.5 1757.7l5.6 2l4.5 4.8l-5.6 -1.9z"/><path fill="#ff2900" d="M1055.3 1731.6l5.6 2.6l4.5 5.2l-5.6 -2.6z"/><path fill="#e40000" d="M945.1 1713.6l5.6 2.1l4.4 -1.7l-5.5 -2.1z"/><path fill="#e60000" d="M999.7 1714.7l5.5 1.8l4.5 -1.1l-5.6 -1.8z"/><path fill="#000080" d="M967.5 1932.3l5.6 1.8l4.4 -46.2l-5.5 -1.8z"/><path fill="#ffcb00" d="M908.4 1767.5l5.6 2l4.4 -20.5l-5.5 -2.1z"/><path fill="#f30000" d="M1029.7 1718.5l5.6 2.1l4.4 2l-5.5 -2.5z"/><path fill="#fff600" d="M1137.8 1782.0l5.5 1.7l4.5 4.7l-5.6 -1.7z"/><path fill="#e40000" d="M955.1 1714.0l5.6 1.9l4.5 -1.5l-5.6 -1.9z"/><path fill="#ff5200" d="M1070.9 1741.9l5.6 2.4l4.5 4.8l-5.6 -2.2z"/><path fill="#e80000" d="M1009.7 1715.4l5.6 1.8l4.4 -.8l-5.6 -1.9z"/><path fill="#ee0000" d="M920.6 1716.1l5.6 2.4l4.4 -3l-5.5 -2.4z"/><path fill="#ff6800" d="M907.3 1744.6l5.6 2.3l4.4 -13.1l-5.6 -2.3z"/><path fill="#eb0000" d="M1019.7 1716.4l5.6 1.8l4.4 .3l-5.5 -2.1z"/><path fill="#ffb500" d="M1112.1 1766.4l5.6 1.8l4.5 5.1l-5.6 -1.8z"/><path fill="#e40000" d="M965.2 1714.4l5.5 1.9l4.5 -1.4l-5.6 -1.8z"/><path fill="#e80000" d="M930.6 1715.5l5.6 2.2l4.5 -2.1l-5.6 -2.2z"/><path fill="#ff7600" d="M1086.5 1751.3l5.6 2.1l4.4 4.3l-5.5 -1.9z"/><path fill="#e50000" d="M975.2 1714.9l5.5 1.9l4.5 -1.4l-5.6 -1.8z"/><path fill="#ff0a00" d="M1045.3 1725.0l5.6 2.5l4.4 4.1l-5.5 -2.7z"/><path fill="#8bff74" d="M920.7 1807.7l5.5 1.8l4.5 -34.3l-5.6 -1.8z"/><path fill="#e50000" d="M985.2 1715.4l5.6 1.8l4.4 -1.2l-5.6 -1.8z"/><path fill="#fe0000" d="M916.2 1720.9l5.5 2.3l4.5 -4.7l-5.6 -2.4z"/><path fill="#0060ff" d="M944.1 1877.4l5.6 1.7l4.4 -60.7l-5.6 -1.8z"/><path fill="#e70000" d="M940.7 1715.6l5.5 2l4.5 -1.9l-5.6 -2.1z"/><path fill="#ffd600" d="M1127.7 1775.1l5.6 1.8l4.5 5.1l-5.6 -1.8z"/><path fill="#ff2e00" d="M911.7 1731.5l5.6 2.3l4.4 -10.6l-5.5 -2.3zM1060.9 1734.2l5.6 2.6l4.4 5.1l-5.5 -2.5z"/><path fill="#e60000" d="M995.2 1716.0l5.6 1.7l4.4 -1.2l-5.5 -1.8z"/><path fill="#ff9500" d="M1102.1 1759.7l5.6 1.9l4.4 4.8l-5.5 -1.9z"/><path fill="#e50000" d="M950.7 1715.7l5.6 1.9l4.4 -1.7l-5.6 -1.9z"/><path fill="#e70000" d="M1005.2 1716.5l5.6 1.8l4.5 -1.1l-5.6 -1.8z"/><path fill="#f50000" d="M1035.3 1720.6l5.6 2.1l4.4 2.3l-5.6 -2.4z"/><path fill="#ffcd00" d="M914.0 1769.5l5.5 2l4.5 -20.5l-5.6 -2z"/><path fill="#000080" d="M973.1 1934.1l5.5 1.7l4.5 -46.2l-5.6 -1.7z"/><path fill="#ff5500" d="M1076.5 1744.3l5.6 2.2l4.4 4.8l-5.5 -2.2z"/><path fill="#fff600" d="M1143.3 1783.7l5.6 1.8l4.4 4.7l-5.5 -1.8z"/><path fill="#f10000" d="M926.2 1718.5l5.6 2.2l4.4 -3l-5.6 -2.2z"/><path fill="#e40000" d="M960.7 1715.9l5.6 1.9l4.4 -1.5l-5.5 -1.9z"/><path fill="#e80000" d="M1015.3 1717.2l5.5 1.7l4.5 -.7l-5.6 -1.8z"/><path fill="#ff6b00" d="M912.9 1746.9l5.5 2.1l4.5 -13l-5.6 -2.2z"/><path fill="#eb0000" d="M1025.3 1718.2l5.5 1.9l4.5 .5l-5.6 -2.1z"/><path fill="#ffb500" d="M1117.7 1768.2l5.6 1.8l4.4 5.1l-5.5 -1.8z"/><path fill="#e40000" d="M970.7 1716.3l5.6 1.8l4.4 -1.3l-5.5 -1.9z"/><path fill="#eb0000" d="M936.2 1717.7l5.6 2l4.4 -2.1l-5.5 -2z"/><path fill="#ff7800" d="M1092.1 1753.4l5.6 2l4.4 4.3l-5.6 -2z"/><path fill="#ff0e00" d="M1050.9 1727.5l5.6 2.5l4.4 4.2l-5.6 -2.6z"/><path fill="#e50000" d="M980.7 1716.8l5.6 1.7l4.5 -1.3l-5.6 -1.8z"/><path fill="#8bff74" d="M926.2 1809.5l5.6 1.8l4.5 -34.3l-5.6 -1.8z"/><path fill="#ff0200" d="M921.7 1723.2l5.6 2.2l4.5 -4.7l-5.6 -2.2z"/><path fill="#ff3100" d="M917.3 1733.8l5.6 2.2l4.4 -10.6l-5.6 -2.2z"/><path fill="#e80000" d="M946.2 1717.6l5.6 1.9l4.5 -1.9l-5.6 -1.9z"/><path fill="#e50000" d="M990.8 1717.2l5.5 1.8l4.5 -1.3l-5.6 -1.7z"/><path fill="#0060ff" d="M949.7 1879.1l5.5 1.8l4.5 -60.8l-5.6 -1.7z"/><path fill="#ffd600" d="M1133.3 1776.9l5.6 1.8l4.4 5l-5.5 -1.7z"/><path fill="#ff3200" d="M1066.5 1736.8l5.6 2.5l4.4 5l-5.6 -2.4z"/><path fill="#e60000" d="M1000.8 1717.7l5.6 1.8l4.4 -1.2l-5.6 -1.8z"/><path fill="#ff9600" d="M1107.7 1761.6l5.6 1.8l4.4 4.8l-5.6 -1.8z"/><path fill="#e60000" d="M956.3 1717.6l5.5 1.9l4.5 -1.7l-5.6 -1.9z"/><path fill="#f70000" d="M1040.9 1722.7l5.5 2.2l4.5 2.6l-5.6 -2.5z"/><path fill="#ffce00" d="M919.5 1771.5l5.6 1.9l4.5 -20.5l-5.6 -1.9z"/><path fill="#e70000" d="M1010.8 1718.3l5.6 1.7l4.4 -1.1l-5.5 -1.7z"/><path fill="#ff5800" d="M1082.1 1746.5l5.5 2.3l4.5 4.6l-5.6 -2.1z"/><path fill="#000080" d="M978.6 1935.8l5.6 1.8l4.5 -46.2l-5.6 -1.8z"/><path fill="#f30000" d="M931.8 1720.7l5.5 2l4.5 -3l-5.6 -2z"/><path fill="#e50000" d="M966.3 1717.8l5.6 1.8l4.4 -1.5l-5.6 -1.8z"/><path fill="#ff6d00" d="M918.4 1749.0l5.6 2l4.4 -13l-5.5 -2z"/><path fill="#e80000" d="M1020.8 1718.9l5.6 1.8l4.4 -.6l-5.5 -1.9z"/><path fill="#ec0000" d="M1030.8 1720.1l5.6 1.9l4.5 .7l-5.6 -2.1z"/><path fill="#ffb600" d="M1123.3 1770.0l5.6 1.8l4.4 5.1l-5.6 -1.8z"/><path fill="#e50000" d="M976.3 1718.1l5.6 1.8l4.4 -1.4l-5.6 -1.7z"/><path fill="#ff1100" d="M1056.5 1730.0l5.5 2.4l4.5 4.4l-5.6 -2.6z"/><path fill="#ec0000" d="M941.8 1719.7l5.6 2l4.4 -2.2l-5.6 -1.9z"/><path fill="#ff7900" d="M1097.7 1755.4l5.5 1.9l4.5 4.3l-5.6 -1.9z"/><path fill="#e50000" d="M986.3 1718.5l5.6 1.8l4.4 -1.3l-5.5 -1.8z"/><path fill="#ff0500" d="M927.3 1725.4l5.6 2l4.4 -4.7l-5.5 -2z"/><path fill="#8aff75" d="M931.8 1811.3l5.6 1.8l4.4 -34.3l-5.5 -1.8z"/><path fill="#ff3300" d="M922.9 1736.0l5.5 2l4.5 -10.6l-5.6 -2z"/><path fill="#e90000" d="M951.8 1719.5l5.6 1.9l4.4 -1.9l-5.5 -1.9z"/><path fill="#ff3500" d="M1072.1 1739.3l5.5 2.4l4.5 4.8l-5.6 -2.2z"/><path fill="#e60000" d="M996.3 1719.0l5.6 1.8l4.5 -1.3l-5.6 -1.8z"/><path fill="#0060ff" d="M955.2 1880.9l5.6 1.7l4.5 -60.7l-5.6 -1.8z"/><path fill="#ffd600" d="M1138.9 1778.7l5.5 1.7l4.5 5.1l-5.6 -1.8z"/><path fill="#e60000" d="M1006.4 1719.5l5.5 1.8l4.5 -1.3l-5.6 -1.7z"/><path fill="#ff9700" d="M1113.3 1763.4l5.5 1.9l4.5 4.7l-5.6 -1.8z"/><path fill="#f90000" d="M1046.4 1724.9l5.6 2.2l4.5 2.9l-5.6 -2.5z"/><path fill="#e70000" d="M961.8 1719.5l5.6 1.8l4.5 -1.7l-5.6 -1.8z"/><path fill="#ff5a00" d="M1087.6 1748.8l5.6 2.1l4.5 4.5l-5.6 -2z"/><path fill="#ffce00" d="M925.1 1773.4l5.6 1.8l4.4 -20.5l-5.5 -1.8z"/><path fill="#e70000" d="M1016.4 1720.0l5.6 1.8l4.4 -1.1l-5.6 -1.8z"/><path fill="#f40000" d="M937.3 1722.7l5.6 2l4.5 -3l-5.6 -2z"/><path fill="#000080" d="M984.2 1937.6l5.6 1.7l4.4 -46.2l-5.5 -1.7z"/><path fill="#ff6e00" d="M924.0 1751.0l5.6 1.9l4.4 -13l-5.6 -1.9z"/><path fill="#e50000" d="M971.9 1719.6l5.5 1.8l4.5 -1.5l-5.6 -1.8z"/><path fill="#ed0000" d="M1036.4 1722.0l5.6 1.9l4.4 1l-5.5 -2.2z"/><path fill="#e80000" d="M1026.4 1720.7l5.6 1.8l4.4 -.5l-5.6 -1.9z"/><path fill="#ffb600" d="M1128.9 1771.8l5.5 1.8l4.5 5.1l-5.6 -1.8z"/><path fill="#ff1500" d="M1062.0 1732.4l5.6 2.4l4.5 4.5l-5.6 -2.5z"/><path fill="#e50000" d="M981.9 1719.9l5.5 1.8l4.5 -1.4l-5.6 -1.8z"/><path fill="#ed0000" d="M947.4 1721.7l5.5 1.8l4.5 -2.1l-5.6 -1.9z"/><path fill="#ff7a00" d="M1103.2 1757.3l5.6 2l4.5 4.1l-5.6 -1.8z"/><path fill="#e50000" d="M991.9 1720.3l5.6 1.8l4.4 -1.3l-5.6 -1.8z"/><path fill="#ff0600" d="M932.9 1727.4l5.6 1.9l4.4 -4.6l-5.6 -2z"/><path fill="#8aff75" d="M937.4 1813.1l5.6 1.8l4.4 -34.3l-5.6 -1.8z"/><path fill="#ff3400" d="M928.4 1738.0l5.6 1.9l4.5 -10.6l-5.6 -1.9z"/><path fill="#ff3800" d="M1077.6 1741.7l5.6 2.3l4.4 4.8l-5.5 -2.3z"/><path fill="#ea0000" d="M957.4 1721.4l5.6 1.8l4.4 -1.9l-5.6 -1.8z"/><path fill="#e60000" d="M1001.9 1720.8l5.6 1.7l4.4 -1.2l-5.5 -1.8z"/><path fill="#0060ff" d="M960.8 1882.6l5.6 1.8l4.4 -60.7l-5.5 -1.8z"/><path fill="#fb0000" d="M1052.0 1727.1l5.6 2.2l4.4 3.1l-5.5 -2.4z"/><path fill="#e60000" d="M1011.9 1721.3l5.6 1.7l4.5 -1.2l-5.6 -1.8z"/><path fill="#ff9700" d="M1118.8 1765.3l5.6 1.8l4.5 4.7l-5.6 -1.8z"/><path fill="#e70000" d="M967.4 1721.3l5.6 1.8l4.4 -1.7l-5.5 -1.8z"/><path fill="#ff5c00" d="M1093.2 1750.9l5.6 2l4.4 4.4l-5.5 -1.9z"/><path fill="#ffcf00" d="M930.7 1775.2l5.6 1.8l4.4 -20.5l-5.6 -1.8z"/><path fill="#e70000" d="M1022.0 1721.8l5.5 1.7l4.5 -1l-5.6 -1.8z"/><path fill="#f50000" d="M942.9 1724.7l5.6 1.8l4.4 -3l-5.5 -1.8z"/><path fill="#000080" d="M989.8 1939.3l5.6 1.7l4.4 -46.1l-5.6 -1.8z"/><path fill="#ff6f00" d="M929.6 1752.9l5.5 1.8l4.5 -12.9l-5.6 -1.9z"/><path fill="#ed0000" d="M1042.0 1723.9l5.6 1.9l4.4 1.3l-5.6 -2.2z"/><path fill="#e60000" d="M977.4 1721.4l5.6 1.7l4.4 -1.4l-5.5 -1.8z"/><path fill="#e80000" d="M1032.0 1722.5l5.5 1.8l4.5 -.4l-5.6 -1.9z"/><path fill="#ff1800" d="M1067.6 1734.8l5.6 2.4l4.4 4.5l-5.5 -2.4z"/><path fill="#ffb600" d="M1134.4 1773.6l5.6 1.8l4.4 5l-5.5 -1.7z"/><path fill="#e50000" d="M987.4 1721.7l5.6 1.7l4.5 -1.3l-5.6 -1.8z"/><path fill="#ee0000" d="M952.9 1723.5l5.6 1.8l4.5 -2.1l-5.6 -1.8z"/><path fill="#ff7b00" d="M1108.8 1759.3l5.6 1.9l4.4 4.1l-5.5 -1.9z"/><path fill="#e50000" d="M997.5 1722.1l5.5 1.7l4.5 -1.3l-5.6 -1.7z"/><path fill="#ff0700" d="M938.5 1729.3l5.5 1.9l4.5 -4.7l-5.6 -1.8z"/><path fill="#ff3b00" d="M1083.2 1744.0l5.6 2.2l4.4 4.7l-5.6 -2.1z"/><path fill="#ff3500" d="M934.0 1739.9l5.6 1.9l4.4 -10.6l-5.5 -1.9z"/><path fill="#8aff75" d="M943.0 1814.9l5.5 1.7l4.5 -34.2l-5.6 -1.8z"/><path fill="#ea0000" d="M963.0 1723.2l5.5 1.8l4.5 -1.9l-5.6 -1.8z"/><path fill="#e60000" d="M1007.5 1722.5l5.6 1.8l4.4 -1.3l-5.6 -1.7z"/><path fill="#0060ff" d="M966.4 1884.4l5.6 1.7l4.4 -60.7l-5.6 -1.7z"/><path fill="#fe0000" d="M1057.6 1729.3l5.6 2.2l4.4 3.3l-5.6 -2.4z"/><path fill="#e60000" d="M1017.5 1723.0l5.6 1.8l4.4 -1.3l-5.5 -1.7z"/><path fill="#ff9800" d="M1124.4 1767.1l5.6 1.8l4.4 4.7l-5.5 -1.8z"/><path fill="#e80000" d="M973.0 1723.1l5.5 1.8l4.5 -1.8l-5.6 -1.7z"/><path fill="#ff5d00" d="M1098.8 1752.9l5.6 2.1l4.4 4.3l-5.6 -2z"/><path fill="#ffcf00" d="M936.3 1777.0l5.5 1.8l4.5 -20.5l-5.6 -1.8z"/><path fill="#e70000" d="M1027.5 1723.5l5.6 1.8l4.4 -1l-5.5 -1.8z"/><path fill="#f60000" d="M948.5 1726.5l5.6 1.8l4.4 -3l-5.6 -1.8z"/><path fill="#ee0000" d="M1047.6 1725.8l5.5 2l4.5 1.5l-5.6 -2.2z"/><path fill="#000080" d="M995.4 1941.0l5.5 1.8l4.5 -46.1l-5.6 -1.8z"/><path fill="#ff6f00" d="M935.1 1754.7l5.6 1.8l4.5 -12.9l-5.6 -1.8z"/><path fill="#e60000" d="M983.0 1723.1l5.6 1.8l4.4 -1.5l-5.6 -1.7z"/><path fill="#e90000" d="M1037.5 1724.3l5.6 1.8l4.5 -.3l-5.6 -1.9z"/><path fill="#ff1c00" d="M1073.2 1737.2l5.6 2.3l4.4 4.5l-5.6 -2.3z"/><path fill="#e50000" d="M993.0 1723.4l5.6 1.8l4.4 -1.4l-5.5 -1.7z"/><path fill="#ee0000" d="M958.5 1725.3l5.6 1.8l4.4 -2.1l-5.5 -1.8z"/><path fill="#ff7c00" d="M1114.4 1761.2l5.6 1.8l4.4 4.1l-5.6 -1.8z"/><path fill="#e50000" d="M1003.0 1723.8l5.6 1.8l4.5 -1.3l-5.6 -1.8z"/><path fill="#ff3e00" d="M1088.8 1746.2l5.5 2.2l4.5 4.5l-5.6 -2z"/><path fill="#ff0700" d="M944.0 1731.2l5.6 1.8l4.5 -4.7l-5.6 -1.8z"/><path fill="#ff3500" d="M939.6 1741.8l5.6 1.8l4.4 -10.6l-5.6 -1.8z"/><path fill="#8aff75" d="M948.5 1816.6l5.6 1.8l4.5 -34.3l-5.6 -1.7z"/><path fill="#ea0000" d="M968.5 1725.0l5.6 1.8l4.4 -1.9l-5.5 -1.8z"/><path fill="#e60000" d="M1013.1 1724.3l5.5 1.7l4.5 -1.2l-5.6 -1.8z"/><path fill="#ff0100" d="M1063.2 1731.5l5.5 2.2l4.5 3.5l-5.6 -2.4z"/><path fill="#0060ff" d="M972.0 1886.1l5.5 1.8l4.5 -60.7l-5.6 -1.8z"/><path fill="#e60000" d="M1023.1 1724.8l5.5 1.7l4.5 -1.2l-5.6 -1.8z"/><path fill="#ff9800" d="M1130.0 1768.9l5.6 1.8l4.4 4.7l-5.6 -1.8z"/><path fill="#e80000" d="M978.5 1724.9l5.6 1.7l4.5 -1.7l-5.6 -1.8z"/><path fill="#ff5f00" d="M1104.4 1755.0l5.5 1.9l4.5 4.3l-5.6 -1.9z"/><path fill="#ffcf00" d="M941.8 1778.8l5.6 1.8l4.5 -20.5l-5.6 -1.8z"/><path fill="#e70000" d="M1033.1 1725.3l5.6 1.8l4.4 -1l-5.6 -1.8z"/><path fill="#f60000" d="M954.1 1728.3l5.5 1.8l4.5 -3l-5.6 -1.8z"/><path fill="#f00000" d="M1053.1 1727.8l5.6 2l4.5 1.7l-5.6 -2.2z"/><path fill="#000080" d="M1000.9 1942.8l5.6 1.7l4.5 -46.1l-5.6 -1.7z"/><path fill="#ff7000" d="M940.7 1756.5l5.6 1.8l4.4 -12.9l-5.5 -1.8z"/><path fill="#ff1f00" d="M1078.8 1739.5l5.5 2.3l4.5 4.4l-5.6 -2.2z"/><path fill="#e60000" d="M988.6 1724.9l5.5 1.8l4.5 -1.5l-5.6 -1.8z"/><path fill="#e90000" d="M1043.1 1726.1l5.6 1.8l4.4 -.1l-5.5 -2z"/><path fill="#e50000" d="M998.6 1725.2l5.6 1.7l4.4 -1.3l-5.6 -1.8z"/><path fill="#ee0000" d="M964.1 1727.1l5.6 1.8l4.4 -2.1l-5.6 -1.8z"/><path fill="#ff7c00" d="M1120.0 1763.0l5.5 1.9l4.5 4l-5.6 -1.8z"/><path fill="#ff4000" d="M1094.3 1748.4l5.6 2.1l4.5 4.5l-5.6 -2.1z"/><path fill="#e60000" d="M1008.6 1725.6l5.6 1.7l4.4 -1.3l-5.5 -1.7z"/><path fill="#ff0800" d="M949.6 1733.0l5.6 1.8l4.4 -4.7l-5.5 -1.8z"/><path fill="#ff3600" d="M945.2 1743.6l5.5 1.8l4.5 -10.6l-5.6 -1.8z"/><path fill="#8aff75" d="M954.1 1818.4l5.6 1.7l4.4 -34.2l-5.5 -1.8z"/><path fill="#ff0300" d="M1068.7 1733.7l5.6 2.3l4.5 3.5l-5.6 -2.3z"/><path fill="#eb0000" d="M974.1 1726.8l5.6 1.8l4.4 -2l-5.6 -1.7z"/><path fill="#e60000" d="M1018.6 1726.0l5.6 1.8l4.4 -1.3l-5.5 -1.7z"/><path fill="#0060ff" d="M977.5 1887.9l5.6 1.7l4.4 -60.6l-5.5 -1.8z"/><path fill="#e60000" d="M1028.6 1726.5l5.6 1.7l4.5 -1.1l-5.6 -1.8z"/><path fill="#e80000" d="M984.1 1726.6l5.6 1.8l4.4 -1.7l-5.5 -1.8z"/><path fill="#ff6000" d="M1109.9 1756.9l5.6 1.9l4.5 4.2l-5.6 -1.8z"/><path fill="#f10000" d="M1058.7 1729.8l5.6 2l4.4 1.9l-5.5 -2.2z"/><path fill="#ffd000" d="M947.4 1780.6l5.6 1.8l4.4 -20.5l-5.5 -1.8z"/><path fill="#e70000" d="M1038.7 1727.1l5.5 1.7l4.5 -.9l-5.6 -1.8z"/><path fill="#f70000" d="M959.6 1730.1l5.6 1.8l4.5 -3l-5.6 -1.8z"/><path fill="#ff2100" d="M1084.3 1741.8l5.6 2.2l4.4 4.4l-5.5 -2.2z"/><path fill="#000080" d="M1006.5 1944.5l5.6 1.8l4.4 -46.1l-5.5 -1.8z"/><path fill="#ff7000" d="M946.3 1758.3l5.6 1.8l4.4 -13l-5.6 -1.7z"/><path fill="#e90000" d="M1048.7 1727.9l5.6 1.8l4.4 .1l-5.6 -2z"/><path fill="#e60000" d="M994.1 1726.7l5.6 1.7l4.5 -1.5l-5.6 -1.7z"/><path fill="#e50000" d="M1004.2 1726.9l5.5 1.8l4.5 -1.4l-5.6 -1.7z"/><path fill="#ee0000" d="M969.7 1728.9l5.5 1.8l4.5 -2.1l-5.6 -1.8z"/><path fill="#ff7d00" d="M1125.5 1764.9l5.6 1.8l4.5 4l-5.6 -1.8z"/><path fill="#ff4200" d="M1099.9 1750.5l5.6 2l4.4 4.4l-5.5 -1.9z"/><path fill="#e60000" d="M1014.2 1727.3l5.6 1.8l4.4 -1.3l-5.6 -1.8z"/><path fill="#ff0800" d="M955.2 1734.8l5.6 1.8l4.4 -4.7l-5.6 -1.8z"/><path fill="#ff0600" d="M1074.3 1736.0l5.6 2.2l4.4 3.6l-5.5 -2.3z"/><path fill="#ff3600" d="M950.7 1745.4l5.6 1.7l4.5 -10.5l-5.6 -1.8z"/><path fill="#8aff75" d="M959.7 1820.1l5.6 1.8l4.4 -34.3l-5.6 -1.7z"/><path fill="#eb0000" d="M979.7 1728.6l5.5 1.7l4.5 -1.9l-5.6 -1.8z"/><path fill="#e60000" d="M1024.2 1727.8l5.6 1.7l4.4 -1.3l-5.6 -1.7z"/><path fill="#0060ff" d="M983.1 1889.6l5.6 1.8l4.4 -60.7l-5.6 -1.7z"/><path fill="#e60000" d="M1034.2 1728.2l5.6 1.8l4.4 -1.2l-5.5 -1.7z"/><path fill="#ff6100" d="M1115.5 1758.8l5.6 1.9l4.4 4.2l-5.5 -1.9z"/><path fill="#e80000" d="M989.7 1728.4l5.6 1.7l4.4 -1.7l-5.6 -1.7z"/><path fill="#f20000" d="M1064.3 1731.8l5.6 2l4.4 2.2l-5.6 -2.3z"/><path fill="#ff2400" d="M1089.9 1744.0l5.6 2.2l4.4 4.3l-5.6 -2.1z"/><path fill="#ffd000" d="M953.0 1782.4l5.6 1.7l4.4 -20.5l-5.6 -1.7z"/><path fill="#e70000" d="M1044.2 1728.8l5.6 1.8l4.5 -.9l-5.6 -1.8z"/><path fill="#f70000" d="M965.2 1731.9l5.6 1.8l4.4 -3l-5.5 -1.8z"/><path fill="#ff7000" d="M951.9 1760.1l5.5 1.8l4.5 -13l-5.6 -1.8z"/><path fill="#ea0000" d="M1054.3 1729.7l5.5 1.9l4.5 .2l-5.6 -2z"/><path fill="#000080" d="M1012.1 1946.3l5.6 1.7l4.4 -46l-5.6 -1.8z"/><path fill="#e60000" d="M999.7 1728.4l5.6 1.8l4.4 -1.5l-5.5 -1.8z"/><path fill="#e50000" d="M1009.7 1728.7l5.6 1.7l4.5 -1.3l-5.6 -1.8z"/><path fill="#ef0000" d="M975.2 1730.7l5.6 1.7l4.4 -2.1l-5.5 -1.7z"/><path fill="#ff4300" d="M1105.5 1752.5l5.6 2l4.4 4.3l-5.6 -1.9z"/><path fill="#ff0800" d="M1079.9 1738.2l5.5 2.2l4.5 3.6l-5.6 -2.2z"/><path fill="#e60000" d="M1019.8 1729.1l5.5 1.7l4.5 -1.3l-5.6 -1.7z"/><path fill="#ff0800" d="M960.8 1736.6l5.5 1.8l4.5 -4.7l-5.6 -1.8z"/><path fill="#ff3600" d="M956.3 1747.1l5.6 1.8l4.4 -10.5l-5.5 -1.8z"/><path fill="#8aff75" d="M965.3 1821.9l5.5 1.8l4.5 -34.3l-5.6 -1.8z"/><path fill="#eb0000" d="M985.2 1730.3l5.6 1.8l4.5 -2l-5.6 -1.7z"/><path fill="#e60000" d="M1029.8 1729.5l5.5 1.8l4.5 -1.3l-5.6 -1.8z"/><path fill="#0060ff" d="M988.7 1891.4l5.5 1.7l4.5 -60.6l-5.6 -1.8z"/><path fill="#e60000" d="M1039.8 1730.0l5.6 1.7l4.4 -1.1l-5.6 -1.8z"/><path fill="#ff6200" d="M1121.1 1760.7l5.6 1.9l4.4 4.1l-5.6 -1.8z"/><path fill="#e80000" d="M995.3 1730.1l5.5 1.8l4.5 -1.7l-5.6 -1.8z"/><path fill="#f30000" d="M1069.9 1733.8l5.5 2l4.5 2.4l-5.6 -2.2z"/><path fill="#ff2600" d="M1095.5 1746.2l5.5 2.1l4.5 4.2l-5.6 -2z"/><path fill="#ffd000" d="M958.6 1784.1l5.5 1.8l4.5 -20.5l-5.6 -1.8z"/><path fill="#e70000" d="M1049.8 1730.6l5.6 1.7l4.4 -.7l-5.5 -1.9z"/><path fill="#f70000" d="M970.8 1733.7l5.5 1.7l4.5 -3l-5.6 -1.7z"/><path fill="#ea0000" d="M1059.8 1731.6l5.6 1.8l4.5 .4l-5.6 -2z"/><path fill="#ff7000" d="M957.4 1761.9l5.6 1.7l4.5 -12.9l-5.6 -1.8z"/><path fill="#000080" d="M1017.7 1948.0l5.5 1.8l4.5 -46.1l-5.6 -1.7z"/><path fill="#e60000" d="M1005.3 1730.2l5.6 1.7l4.4 -1.5l-5.6 -1.7z"/><path fill="#e50000" d="M1015.3 1730.4l5.6 1.8l4.4 -1.4l-5.5 -1.7z"/><path fill="#ef0000" d="M980.8 1732.4l5.6 1.8l4.4 -2.1l-5.6 -1.8z"/><path fill="#ff4400" d="M1111.1 1754.5l5.5 2l4.5 4.2l-5.6 -1.9z"/><path fill="#ff0a00" d="M1085.4 1740.4l5.6 2.1l4.5 3.7l-5.6 -2.2z"/><path fill="#e60000" d="M1025.3 1730.8l5.6 1.8l4.4 -1.3l-5.5 -1.8z"/><path fill="#ff0800" d="M966.3 1738.4l5.6 1.7l4.4 -4.7l-5.5 -1.7z"/><path fill="#ff3600" d="M961.9 1748.9l5.6 1.8l4.4 -10.6l-5.6 -1.7z"/><path fill="#8aff75" d="M970.8 1823.7l5.6 1.7l4.4 -34.2l-5.5 -1.8z"/><path fill="#eb0000" d="M990.8 1732.1l5.6 1.7l4.4 -1.9l-5.5 -1.8z"/><path fill="#e60000" d="M1035.3 1731.3l5.6 1.7l4.5 -1.3l-5.6 -1.7z"/><path fill="#0060ff" d="M994.2 1893.1l5.6 1.8l4.5 -60.6l-5.6 -1.8z"/><path fill="#f50000" d="M1075.4 1735.8l5.6 2.1l4.4 2.5l-5.5 -2.2z"/><path fill="#e60000" d="M1045.4 1731.7l5.5 1.8l4.5 -1.2l-5.6 -1.7z"/><path fill="#e80000" d="M1000.8 1731.9l5.6 1.7l4.5 -1.7l-5.6 -1.7z"/><path fill="#ff2700" d="M1101.0 1748.3l5.6 2.1l4.5 4.1l-5.6 -2z"/><path fill="#ffd000" d="M964.1 1785.9l5.6 1.7l4.4 -20.5l-5.5 -1.7z"/><path fill="#e70000" d="M1055.4 1732.3l5.6 1.8l4.4 -.7l-5.6 -1.8z"/><path fill="#f70000" d="M976.3 1735.4l5.6 1.8l4.5 -3l-5.6 -1.8z"/><path fill="#eb0000" d="M1065.4 1733.4l5.6 1.9l4.4 .5l-5.5 -2z"/><path fill="#ff7000" d="M963.0 1763.6l5.6 1.8l4.4 -13l-5.5 -1.7z"/><path fill="#000080" d="M1023.2 1949.8l5.6 1.7l4.4 -46l-5.5 -1.8z"/><path fill="#e60000" d="M1010.9 1731.9l5.5 1.7l4.5 -1.4l-5.6 -1.8z"/><path fill="#e50000" d="M1020.9 1732.2l5.6 1.7l4.4 -1.3l-5.6 -1.8z"/><path fill="#ff4600" d="M1116.6 1756.5l5.6 1.9l4.5 4.2l-5.6 -1.9z"/><path fill="#ef0000" d="M986.4 1734.2l5.5 1.7l4.5 -2.1l-5.6 -1.7z"/><path fill="#ff0c00" d="M1091.0 1742.5l5.6 2.1l4.4 3.7l-5.5 -2.1z"/><path fill="#e60000" d="M1030.9 1732.6l5.6 1.7l4.4 -1.3l-5.6 -1.7z"/><path fill="#ff0800" d="M971.9 1740.1l5.6 1.8l4.4 -4.7l-5.6 -1.8z"/><path fill="#ff3600" d="M967.5 1750.7l5.5 1.7l4.5 -10.5l-5.6 -1.8z"/><path fill="#8aff75" d="M976.4 1825.4l5.6 1.8l4.4 -34.3l-5.6 -1.7z"/><path fill="#eb0000" d="M996.4 1733.8l5.6 1.8l4.4 -2l-5.6 -1.7z"/><path fill="#0060ff" d="M999.8 1894.9l5.6 1.8l4.4 -60.6l-5.5 -1.8z"/><path fill="#e60000" d="M1040.9 1733.0l5.6 1.8l4.4 -1.3l-5.5 -1.8z"/><path fill="#f60000" d="M1081.0 1737.9l5.6 2l4.4 2.6l-5.6 -2.1z"/><path fill="#e60000" d="M1050.9 1733.5l5.6 1.7l4.5 -1.1l-5.6 -1.8z"/><path fill="#ff2900" d="M1106.6 1750.4l5.6 2l4.4 4.1l-5.5 -2z"/><path fill="#e80000" d="M1006.4 1733.6l5.6 1.8l4.4 -1.8l-5.5 -1.7z"/><path fill="#ffd000" d="M969.7 1787.6l5.6 1.8l4.4 -20.5l-5.6 -1.8z"/><path fill="#e70000" d="M1061.0 1734.1l5.5 1.8l4.5 -.6l-5.6 -1.9z"/><path fill="#eb0000" d="M1071.0 1735.3l5.6 1.8l4.4 .8l-5.6 -2.1z"/><path fill="#f70000" d="M981.9 1737.2l5.6 1.7l4.4 -3l-5.5 -1.7z"/><path fill="#ff7000" d="M968.6 1765.4l5.5 1.7l4.5 -12.9l-5.6 -1.8z"/><path fill="#e60000" d="M1016.4 1733.6l5.6 1.8l4.5 -1.5l-5.6 -1.7z"/><path fill="#e50000" d="M1026.5 1733.9l5.5 1.8l4.5 -1.4l-5.6 -1.7z"/><path fill="#ff0e00" d="M1096.6 1744.6l5.6 2.1l4.4 3.7l-5.6 -2.1z"/><path fill="#ef0000" d="M991.9 1735.9l5.6 1.8l4.5 -2.1l-5.6 -1.8z"/><path fill="#e60000" d="M1036.5 1734.3l5.5 1.8l4.5 -1.3l-5.6 -1.8z"/><path fill="#ff0900" d="M977.5 1741.9l5.5 1.7l4.5 -4.7l-5.6 -1.7z"/><path fill="#ff3600" d="M973.0 1752.4l5.6 1.8l4.4 -10.6l-5.5 -1.7z"/><path fill="#89ff76" d="M982.0 1827.2l5.5 1.8l4.5 -34.3l-5.6 -1.8z"/><path fill="#eb0000" d="M1002.0 1735.6l5.5 1.7l4.5 -1.9l-5.6 -1.8z"/><path fill="#0060ff" d="M1005.4 1896.7l5.6 1.7l4.4 -60.5l-5.6 -1.8z"/><path fill="#e60000" d="M1046.5 1734.8l5.6 1.7l4.4 -1.3l-5.6 -1.7z"/><path fill="#f80000" d="M1086.6 1739.9l5.5 2l4.5 2.7l-5.6 -2.1z"/><path fill="#ff2a00" d="M1112.2 1752.4l5.6 2l4.4 4l-5.6 -1.9z"/><path fill="#e60000" d="M1056.5 1735.2l5.6 1.8l4.4 -1.1l-5.5 -1.8z"/><path fill="#e80000" d="M1012.0 1735.4l5.6 1.7l4.4 -1.7l-5.6 -1.8z"/><path fill="#ffd000" d="M975.3 1789.4l5.5 1.8l4.5 -20.5l-5.6 -1.8z"/><path fill="#ec0000" d="M1076.6 1737.1l5.5 1.9l4.5 .9l-5.6 -2z"/><path fill="#e70000" d="M1066.5 1735.9l5.6 1.7l4.5 -.5l-5.6 -1.8z"/><path fill="#f70000" d="M987.5 1738.9l5.6 1.8l4.4 -3l-5.6 -1.8z"/><path fill="#ff7000" d="M974.1 1767.1l5.6 1.8l4.5 -13l-5.6 -1.7z"/><path fill="#e60000" d="M1022.0 1735.4l5.6 1.7l4.4 -1.4l-5.5 -1.8z"/><path fill="#e50000" d="M1032.0 1735.7l5.6 1.7l4.4 -1.3l-5.5 -1.8z"/><path fill="#ff1000" d="M1102.2 1746.7l5.5 2.1l4.5 3.6l-5.6 -2z"/><path fill="#ef0000" d="M997.5 1737.7l5.6 1.7l4.4 -2.1l-5.5 -1.7z"/><path fill="#e60000" d="M1042.0 1736.1l5.6 1.7l4.5 -1.3l-5.6 -1.7z"/><path fill="#ff0900" d="M983.0 1743.6l5.6 1.8l4.5 -4.7l-5.6 -1.8z"/><path fill="#ff3700" d="M978.6 1754.2l5.6 1.7l4.4 -10.5l-5.6 -1.8z"/><path fill="#89ff76" d="M987.5 1829.0l5.6 1.7l4.5 -34.2l-5.6 -1.8z"/><path fill="#eb0000" d="M1007.5 1737.3l5.6 1.7l4.5 -1.9l-5.6 -1.7z"/><path fill="#0060ff" d="M1011.0 1898.4l5.5 1.8l4.5 -60.5l-5.6 -1.8z"/><path fill="#e60000" d="M1052.1 1736.5l5.5 1.7l4.5 -1.2l-5.6 -1.8z"/><path fill="#f90000" d="M1092.1 1741.9l5.6 2.1l4.5 2.7l-5.6 -2.1z"/><path fill="#e60000" d="M1062.1 1737.0l5.6 1.7l4.4 -1.1l-5.6 -1.7z"/><path fill="#e80000" d="M1017.6 1737.1l5.5 1.8l4.5 -1.8l-5.6 -1.7z"/><path fill="#ec0000" d="M1082.1 1739.0l5.6 1.9l4.4 1l-5.5 -2z"/><path fill="#e80000" d="M1072.1 1737.6l5.6 1.8l4.4 -.4l-5.5 -1.9z"/><path fill="#ffd000" d="M980.8 1791.2l5.6 1.7l4.5 -20.5l-5.6 -1.7z"/><path fill="#f70000" d="M993.1 1740.7l5.5 1.7l4.5 -3l-5.6 -1.7z"/><path fill="#ff7100" d="M979.7 1768.9l5.6 1.8l4.4 -13l-5.5 -1.8z"/><path fill="#e60000" d="M1027.6 1737.1l5.5 1.8l4.5 -1.5l-5.6 -1.7z"/><path fill="#ff1200" d="M1107.7 1748.8l5.6 2l4.5 3.6l-5.6 -2z"/><path fill="#e50000" d="M1037.6 1737.4l5.6 1.7l4.4 -1.3l-5.6 -1.7z"/><path fill="#ef0000" d="M1003.1 1739.4l5.6 1.8l4.4 -2.2l-5.6 -1.7z"/><path fill="#e60000" d="M1047.6 1737.8l5.6 1.7l4.4 -1.3l-5.5 -1.7z"/><path fill="#ff0900" d="M988.6 1745.4l5.6 1.7l4.4 -4.7l-5.5 -1.7z"/><path fill="#ff3700" d="M984.2 1755.9l5.5 1.8l4.5 -10.6l-5.6 -1.7z"/><path fill="#89ff76" d="M993.1 1830.7l5.6 1.8l4.4 -34.2l-5.5 -1.8z"/><path fill="#eb0000" d="M1013.1 1739.0l5.6 1.8l4.4 -1.9l-5.5 -1.8z"/><path fill="#0060ff" d="M1016.5 1900.2l5.6 1.8l4.5 -60.4l-5.6 -1.9z"/><path fill="#fb0000" d="M1097.7 1744.0l5.6 2l4.4 2.8l-5.5 -2.1z"/><path fill="#e60000" d="M1057.6 1738.2l5.6 1.8l4.5 -1.3l-5.6 -1.7zM1067.7 1738.7l5.5 1.7l4.5 -1l-5.6 -1.8z"/><path fill="#e80000" d="M1023.1 1738.9l5.6 1.7l4.4 -1.7l-5.5 -1.8z"/><path fill="#ed0000" d="M1087.7 1740.9l5.6 1.9l4.4 1.2l-5.6 -2.1z"/><path fill="#e80000" d="M1077.7 1739.4l5.6 1.8l4.4 -.3l-5.6 -1.9z"/><path fill="#ffd000" d="M986.4 1792.9l5.6 1.8l4.4 -20.5l-5.5 -1.8z"/><path fill="#f70000" d="M998.6 1742.4l5.6 1.8l4.5 -3l-5.6 -1.8z"/><path fill="#ff7100" d="M985.3 1770.7l5.6 1.7l4.4 -12.9l-5.6 -1.8z"/><path fill="#e60000" d="M1033.1 1738.9l5.6 1.7l4.5 -1.5l-5.6 -1.7z"/><path fill="#e50000" d="M1043.2 1739.1l5.5 1.8l4.5 -1.4l-5.6 -1.7z"/><path fill="#ef0000" d="M1008.7 1741.2l5.5 1.7l4.5 -2.1l-5.6 -1.8z"/><path fill="#e60000" d="M1053.2 1739.5l5.6 1.8l4.4 -1.3l-5.6 -1.8z"/><path fill="#ff0900" d="M994.2 1747.1l5.6 1.8l4.4 -4.7l-5.6 -1.8z"/><path fill="#ff3700" d="M989.7 1757.7l5.6 1.8l4.5 -10.6l-5.6 -1.8z"/><path fill="#89ff76" d="M998.7 1832.5l5.6 1.8l4.4 -34.3l-5.6 -1.7z"/><path fill="#eb0000" d="M1018.7 1740.8l5.6 1.7l4.4 -1.9l-5.6 -1.7z"/><path fill="#fc0000" d="M1103.3 1746.0l5.6 2l4.4 2.8l-5.6 -2z"/><path fill="#0060ff" d="M1022.1 1902.0l5.6 1.7l4.4 -60.3l-5.5 -1.8z"/><path fill="#e60000" d="M1063.2 1740.0l5.6 1.7l4.4 -1.3l-5.5 -1.7zM1073.2 1740.4l5.6 1.8l4.5 -1l-5.6 -1.8z"/><path fill="#e80000" d="M1028.7 1740.6l5.6 1.7l4.4 -1.7l-5.6 -1.7z"/><path fill="#ee0000" d="M1093.3 1742.8l5.5 1.9l4.5 1.3l-5.6 -2z"/><path fill="#e80000" d="M1083.3 1741.2l5.5 1.8l4.5 -.2l-5.6 -1.9z"/><path fill="#ffd000" d="M992.0 1794.7l5.6 1.8l4.4 -20.5l-5.6 -1.8z"/><path fill="#f70000" d="M1004.2 1744.2l5.6 1.7l4.4 -3l-5.5 -1.7z"/><path fill="#ff7100" d="M990.9 1772.4l5.5 1.8l4.5 -13l-5.6 -1.7z"/><path fill="#e60000" d="M1038.7 1740.6l5.6 1.8l4.4 -1.5l-5.5 -1.8z"/><path fill="#e50000" d="M1048.7 1740.9l5.6 1.7l4.5 -1.3l-5.6 -1.8z"/><path fill="#ef0000" d="M1014.2 1742.9l5.6 1.7l4.5 -2.1l-5.6 -1.7z"/><path fill="#e60000" d="M1058.8 1741.3l5.5 1.7l4.5 -1.3l-5.6 -1.7z"/><path fill="#ff0900" d="M999.8 1748.9l5.5 1.7l4.5 -4.7l-5.6 -1.7z"/><path fill="#ff3700" d="M995.3 1759.5l5.6 1.7l4.4 -10.6l-5.5 -1.7z"/><path fill="#89ff76" d="M1004.3 1834.3l5.5 1.8l4.5 -34.3l-5.6 -1.8z"/><path fill="#eb0000" d="M1024.3 1742.5l5.5 1.8l4.5 -2l-5.6 -1.7z"/><path fill="#005fff" d="M1027.7 1903.7l5.5 1.8l4.5 -60.2l-5.6 -1.9z"/><path fill="#e60000" d="M1068.8 1741.7l5.6 1.8l4.4 -1.3l-5.6 -1.8zM1078.8 1742.2l5.6 1.7l4.4 -.9l-5.5 -1.8z"/><path fill="#ef0000" d="M1098.8 1744.7l5.6 1.9l4.5 1.4l-5.6 -2z"/><path fill="#e80000" d="M1034.3 1742.3l5.5 1.8l4.5 -1.7l-5.6 -1.8zM1088.8 1743.0l5.6 1.8l4.4 -.1l-5.5 -1.9z"/><path fill="#ffd100" d="M997.6 1796.5l5.5 1.8l4.5 -20.6l-5.6 -1.7z"/><path fill="#f70000" d="M1009.8 1745.9l5.6 1.8l4.4 -3.1l-5.6 -1.7z"/><path fill="#ff7100" d="M996.4 1774.2l5.6 1.8l4.5 -13l-5.6 -1.8z"/><path fill="#e60000" d="M1044.3 1742.4l5.6 1.7l4.4 -1.5l-5.6 -1.7z"/><path fill="#e50000" d="M1054.3 1742.6l5.6 1.8l4.4 -1.4l-5.5 -1.7z"/><path fill="#ef0000" d="M1019.8 1744.6l5.6 1.8l4.4 -2.1l-5.5 -1.8z"/><path fill="#e60000" d="M1064.3 1743.0l5.6 1.8l4.5 -1.3l-5.6 -1.8z"/><path fill="#ff0900" d="M1005.3 1750.6l5.6 1.8l4.5 -4.7l-5.6 -1.8z"/><path fill="#ff3700" d="M1000.9 1761.2l5.6 1.8l4.4 -10.6l-5.6 -1.8z"/><path fill="#89ff76" d="M1009.8 1836.1l5.6 1.8l4.5 -34.2l-5.6 -1.9z"/><path fill="#eb0000" d="M1029.8 1744.3l5.6 1.7l4.4 -1.9l-5.5 -1.8z"/><path fill="#e60000" d="M1074.4 1743.5l5.5 1.7l4.5 -1.3l-5.6 -1.7zM1084.4 1743.9l5.5 1.8l4.5 -.9l-5.6 -1.8z"/><path fill="#e80000" d="M1039.8 1744.1l5.6 1.7l4.5 -1.7l-5.6 -1.7zM1094.4 1744.8l5.6 1.8l4.4 0l-5.6 -1.9z"/><path fill="#ffd100" d="M1003.1 1798.3l5.6 1.7l4.5 -20.5l-5.6 -1.8z"/><path fill="#f70000" d="M1015.4 1747.7l5.5 1.7l4.5 -3l-5.6 -1.8z"/><path fill="#ff7100" d="M1002.0 1776.0l5.6 1.7l4.4 -12.9l-5.5 -1.8z"/><path fill="#e60000" d="M1049.9 1744.1l5.5 1.7l4.5 -1.4l-5.6 -1.8z"/><path fill="#e50000" d="M1059.9 1744.4l5.6 1.7l4.4 -1.3l-5.6 -1.8z"/><path fill="#ef0000" d="M1025.4 1746.4l5.5 1.7l4.5 -2.1l-5.6 -1.7z"/><path fill="#e60000" d="M1069.9 1744.8l5.6 1.7l4.4 -1.3l-5.5 -1.7z"/><path fill="#ff0900" d="M1010.9 1752.4l5.6 1.8l4.4 -4.8l-5.5 -1.7z"/><path fill="#ff3700" d="M1006.5 1763.0l5.5 1.8l4.5 -10.6l-5.6 -1.8z"/><path fill="#88ff77" d="M1015.4 1837.9l5.6 1.8l4.4 -34.2l-5.5 -1.8z"/><path fill="#eb0000" d="M1035.4 1746.0l5.6 1.8l4.4 -2l-5.6 -1.7z"/><path fill="#e60000" d="M1079.9 1745.2l5.6 1.8l4.4 -1.3l-5.5 -1.8zM1089.9 1745.7l5.6 1.7l4.5 -.8l-5.6 -1.8z"/><path fill="#e80000" d="M1045.4 1745.8l5.6 1.8l4.4 -1.8l-5.5 -1.7z"/><path fill="#ffd100" d="M1008.7 1800.0l5.6 1.8l4.4 -20.5l-5.5 -1.8z"/><path fill="#f70000" d="M1020.9 1749.4l5.6 1.8l4.4 -3.1l-5.5 -1.7z"/><path fill="#ff7100" d="M1007.6 1777.7l5.6 1.8l4.4 -13l-5.6 -1.7z"/><path fill="#e60000" d="M1055.4 1745.8l5.6 1.8l4.5 -1.5l-5.6 -1.7z"/><path fill="#e50000" d="M1065.5 1746.1l5.5 1.7l4.5 -1.3l-5.6 -1.7z"/><path fill="#ef0000" d="M1030.9 1748.1l5.6 1.8l4.5 -2.1l-5.6 -1.8z"/><path fill="#e60000" d="M1075.5 1746.5l5.6 1.8l4.4 -1.3l-5.6 -1.8z"/><path fill="#ff0900" d="M1016.5 1754.2l5.6 1.7l4.4 -4.7l-5.6 -1.8z"/><path fill="#88ff77" d="M1021.0 1839.7l5.6 1.9l4.4 -34.2l-5.6 -1.9z"/><path fill="#ff3700" d="M1012.0 1764.8l5.6 1.7l4.5 -10.6l-5.6 -1.7z"/><path fill="#eb0000" d="M1041.0 1747.8l5.5 1.7l4.5 -1.9l-5.6 -1.8z"/><path fill="#e60000" d="M1085.5 1747.0l5.6 1.7l4.4 -1.3l-5.6 -1.7z"/><path fill="#e80000" d="M1051.0 1747.6l5.6 1.7l4.4 -1.7l-5.6 -1.8z"/><path fill="#ffd100" d="M1014.3 1801.8l5.6 1.9l4.4 -20.6l-5.6 -1.8z"/><path fill="#f70000" d="M1026.5 1751.2l5.6 1.8l4.4 -3.1l-5.6 -1.8z"/><path fill="#ff7100" d="M1013.2 1779.5l5.5 1.8l4.5 -13l-5.6 -1.8z"/><path fill="#e60000" d="M1061.0 1747.6l5.6 1.7l4.4 -1.5l-5.5 -1.7z"/><path fill="#e50000" d="M1071.0 1747.8l5.6 1.8l4.5 -1.3l-5.6 -1.8z"/><path fill="#ef0000" d="M1036.5 1749.9l5.6 1.7l4.4 -2.1l-5.5 -1.7z"/><path fill="#e60000" d="M1081.1 1748.3l5.5 1.7l4.5 -1.3l-5.6 -1.7z"/><path fill="#ff0900" d="M1022.1 1755.9l5.5 1.8l4.5 -4.7l-5.6 -1.8z"/><path fill="#87ff78" d="M1026.6 1841.6l5.5 1.8l4.5 -34.2l-5.6 -1.8z"/><path fill="#ff3700" d="M1017.6 1766.5l5.6 1.8l4.4 -10.6l-5.5 -1.8z"/><path fill="#eb0000" d="M1046.5 1749.5l5.6 1.7l4.5 -1.9l-5.6 -1.7z"/><path fill="#e80000" d="M1056.6 1749.3l5.5 1.8l4.5 -1.8l-5.6 -1.7z"/><path fill="#ffd200" d="M1019.9 1803.7l5.5 1.8l4.5 -20.5l-5.6 -1.9z"/><path fill="#f70000" d="M1032.1 1753.0l5.5 1.7l4.5 -3.1l-5.6 -1.7z"/><path fill="#ff7200" d="M1018.7 1781.3l5.6 1.8l4.5 -13l-5.6 -1.8z"/><path fill="#e60000" d="M1066.6 1749.3l5.6 1.8l4.4 -1.5l-5.6 -1.8z"/><path fill="#e50000" d="M1076.6 1749.6l5.6 1.7l4.4 -1.3l-5.5 -1.7z"/><path fill="#ef0000" d="M1042.1 1751.6l5.6 1.8l4.4 -2.2l-5.6 -1.7z"/><path fill="#87ff78" d="M1032.1 1843.4l5.6 1.9l4.4 -34.2l-5.5 -1.9z"/><path fill="#ff0900" d="M1027.6 1757.7l5.6 1.8l4.4 -4.8l-5.5 -1.7z"/><path fill="#ff3800" d="M1023.2 1768.3l5.6 1.8l4.4 -10.6l-5.6 -1.8z"/><path fill="#eb0000" d="M1052.1 1751.2l5.6 1.8l4.4 -1.9l-5.5 -1.8z"/><path fill="#e80000" d="M1062.1 1751.1l5.6 1.7l4.5 -1.7l-5.6 -1.8z"/><path fill="#ffd200" d="M1025.4 1805.5l5.6 1.9l4.4 -20.6l-5.5 -1.8z"/><path fill="#f70000" d="M1037.6 1754.7l5.6 1.8l4.5 -3.1l-5.6 -1.8z"/><path fill="#ff7200" d="M1024.3 1783.1l5.6 1.9l4.4 -13.1l-5.5 -1.8z"/><path fill="#e60000" d="M1072.2 1751.1l5.5 1.7l4.5 -1.5l-5.6 -1.7z"/><path fill="#ef0000" d="M1047.7 1753.4l5.5 1.7l4.5 -2.1l-5.6 -1.8z"/><path fill="#ff0900" d="M1033.2 1759.5l5.6 1.8l4.4 -4.8l-5.6 -1.8z"/><path fill="#ff3800" d="M1028.8 1770.1l5.5 1.8l4.5 -10.6l-5.6 -1.8z"/><path fill="#eb0000" d="M1057.7 1753.0l5.6 1.7l4.4 -1.9l-5.6 -1.7z"/><path fill="#e80000" d="M1067.7 1752.8l5.6 1.7l4.4 -1.7l-5.5 -1.7z"/><path fill="#ffd300" d="M1031.0 1807.4l5.6 1.8l4.4 -20.5l-5.6 -1.9z"/><path fill="#f80000" d="M1043.2 1756.5l5.6 1.7l4.4 -3.1l-5.5 -1.7z"/><path fill="#ff7200" d="M1029.9 1785.0l5.5 1.8l4.5 -13.1l-5.6 -1.8z"/><path fill="#ef0000" d="M1053.2 1755.1l5.6 1.8l4.5 -2.2l-5.6 -1.7z"/><path fill="#ff0a00" d="M1038.8 1761.3l5.5 1.8l4.5 -4.9l-5.6 -1.7z"/><path fill="#ff3800" d="M1034.3 1771.9l5.6 1.8l4.4 -10.6l-5.5 -1.8z"/><path fill="#eb0000" d="M1063.3 1754.7l5.5 1.8l4.5 -2l-5.6 -1.7z"/><path fill="#ffd300" d="M1036.6 1809.2l5.5 1.9l4.5 -20.6l-5.6 -1.8z"/><path fill="#f80000" d="M1048.8 1758.2l5.6 1.8l4.4 -3.1l-5.6 -1.8z"/><path fill="#ff7300" d="M1035.4 1786.8l5.6 1.9l4.5 -13.1l-5.6 -1.9z"/><path fill="#ef0000" d="M1058.8 1756.9l5.6 1.7l4.4 -2.1l-5.5 -1.8z"/><path fill="#ff0a00" d="M1044.3 1763.1l5.6 1.8l4.5 -4.9l-5.6 -1.8z"/><path fill="#ff3800" d="M1039.9 1773.7l5.6 1.9l4.4 -10.7l-5.6 -1.8z"/><path fill="#ff7400" d="M1041.0 1788.7l5.6 1.8l4.4 -13.1l-5.5 -1.8z"/><path fill="#f80000" d="M1054.4 1760.0l5.5 1.8l4.5 -3.2l-5.6 -1.7z"/><path fill="#ff0a00" d="M1049.9 1764.9l5.6 1.8l4.4 -4.9l-5.5 -1.8z"/><path fill="#ff3900" d="M1045.5 1775.6l5.5 1.8l4.5 -10.7l-5.6 -1.8z"/></g>
</svg>
</body></html>
